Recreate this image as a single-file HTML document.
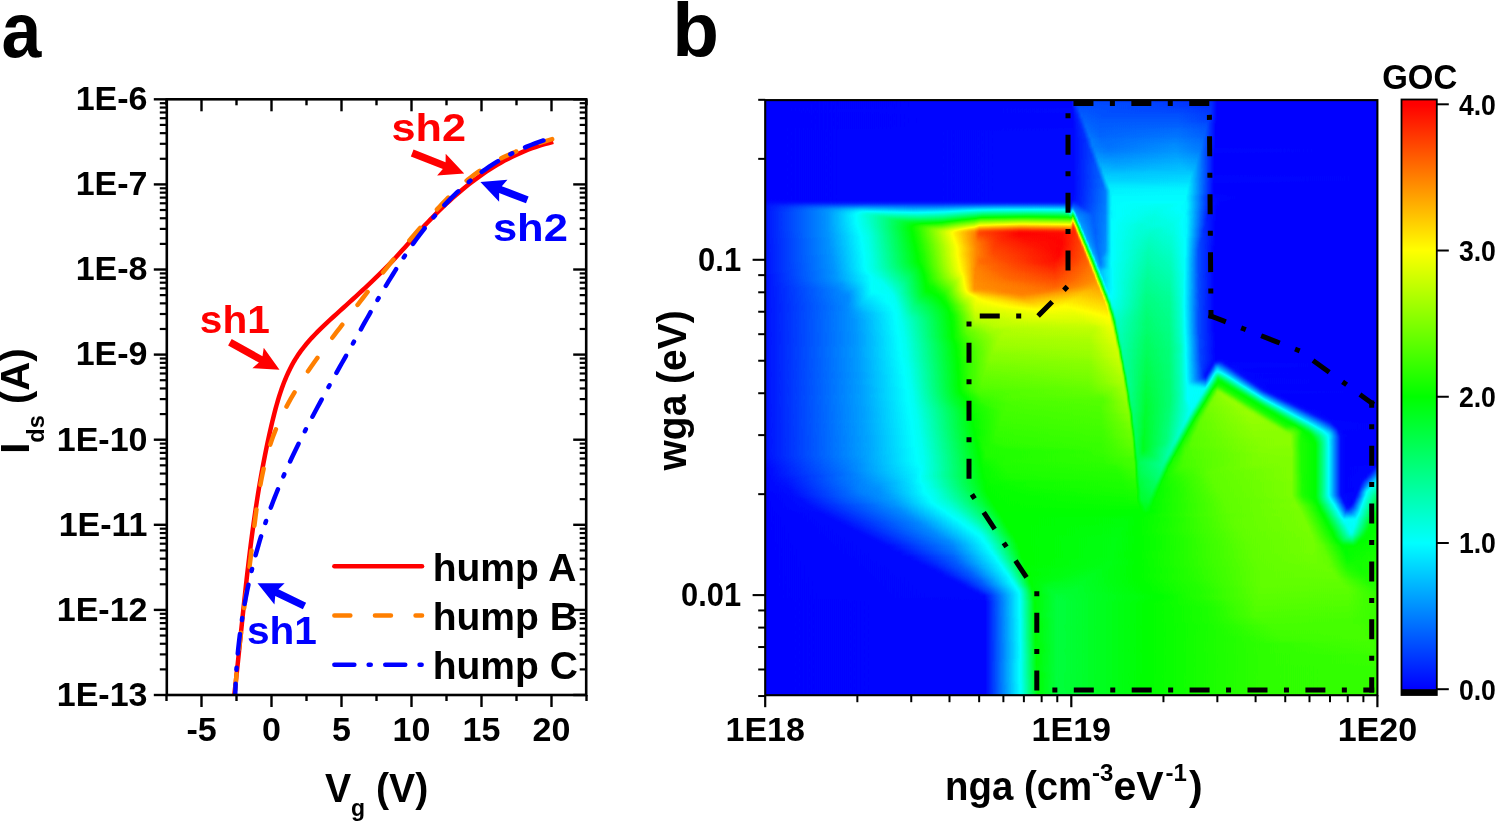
<!DOCTYPE html><html><head><meta charset="utf-8"><style>html,body{margin:0;padding:0;background:#fff;overflow:hidden}svg{display:block;will-change:transform}</style></head><body>
<svg width="1496" height="821" viewBox="0 0 1496 821" font-family="Liberation Sans, sans-serif" font-weight="bold">
<rect width="1496" height="821" fill="#fff"/>
<text x="0" y="57" font-size="77" transform="translate(1.6,0) scale(0.93,1)">a</text>
<text x="672.20" y="56.00" font-size="76.5" text-anchor="start" fill="#000" >b</text>
<clipPath id="ca"><rect x="166.8" y="99.3" width="419.40000000000003" height="595.7"/></clipPath>
<g clip-path="url(#ca)" fill="none" stroke-width="4.5">
<path d="M234.31,695.02 L234.79,690.73 L235.27,686.44 L235.75,682.15 L236.22,677.86 L236.68,673.56 L237.14,669.27 L237.60,664.98 L238.05,660.69 L238.50,656.41 L238.94,652.12 L239.39,647.83 L239.83,643.54 L240.28,639.25 L240.72,634.97 L241.16,630.68 L241.60,626.40 L242.05,622.11 L242.49,617.83 L242.94,613.55 L243.39,609.26 L243.84,604.98 L244.29,600.70 L244.75,596.42 L245.22,592.14 L245.68,587.86 L246.15,583.59 L246.63,579.31 L247.11,575.03 L247.60,570.76 L248.10,566.48 L248.60,562.21 L249.11,557.94 L249.63,553.67 L250.16,549.40 L250.70,545.13 L251.24,540.86 L251.80,536.59 L252.37,532.33 L252.95,528.06 L253.53,523.80 L254.14,519.53 L254.75,515.27 L255.37,511.01 L256.01,506.75 L256.67,502.49 L257.33,498.23 L258.02,493.98 L258.71,489.72 L259.42,485.47 L260.15,481.22 L260.90,476.97 L261.66,472.72 L262.44,468.47 L263.23,464.22 L264.05,459.98 L264.88,455.73 L265.73,451.49 L266.60,447.25 L267.50,443.01 L268.41,438.77 L269.34,434.53 L270.30,430.30 L271.27,426.06 L272.27,421.83 L273.30,417.60 L274.36,413.39 L275.46,409.18 L276.60,405.00 L277.79,400.83 L279.05,396.70 L280.37,392.60 L281.76,388.53 L283.22,384.51 L284.77,380.53 L286.41,376.60 L288.15,372.73 L289.98,368.92 L291.93,365.18 L293.99,361.50 L296.17,357.90 L298.49,354.37 L300.92,350.93 L303.48,347.56 L306.14,344.26 L308.91,341.02 L311.76,337.84 L314.70,334.71 L317.70,331.63 L320.76,328.59 L323.88,325.58 L327.04,322.60 L330.23,319.65 L333.44,316.72 L336.66,313.80 L339.89,310.88 L343.11,307.97 L346.33,305.07 L349.55,302.16 L352.76,299.25 L355.95,296.33 L359.14,293.41 L362.31,290.48 L365.47,287.54 L368.62,284.59 L371.75,281.63 L374.85,278.65 L377.94,275.65 L381.00,272.64 L384.04,269.60 L387.06,266.54 L390.04,263.45 L393.00,260.33 L395.93,257.19 L398.84,254.03 L401.73,250.84 L404.60,247.65 L407.47,244.44 L410.34,241.24 L413.21,238.03 L416.09,234.83 L418.99,231.64 L421.91,228.47 L424.85,225.31 L427.81,222.18 L430.80,219.07 L433.82,215.98 L436.86,212.92 L439.92,209.89 L443.02,206.89 L446.14,203.93 L449.30,201.00 L452.48,198.10 L455.70,195.25 L458.94,192.44 L462.23,189.67 L465.54,186.95 L468.89,184.28 L472.28,181.65 L475.70,179.08 L479.16,176.56 L482.66,174.10 L486.20,171.70 L489.78,169.36 L493.40,167.08 L497.06,164.87 L500.76,162.72 L504.51,160.65 L508.31,158.64 L512.15,156.71 L516.03,154.85 L519.97,153.08 L523.95,151.38 L527.98,149.76 L532.06,148.23 L536.19,146.78 L540.38,145.42 L544.61,144.15 L548.90,142.98 L553.25,141.90" stroke="#ff0000"/>
<path d="M234.87,695.19 L235.18,690.79 L235.51,686.40 L235.86,682.04 L236.22,677.70 L236.61,673.38 L237.01,669.07 L237.43,664.79 L237.86,660.51 L238.31,656.26 L238.77,652.01 L239.24,647.78 L239.72,643.56 L240.22,639.35 L240.72,635.15 L241.23,630.96 L241.75,626.77 L242.28,622.58 L242.81,618.40 L243.35,614.23 L243.89,610.05 L244.44,605.88 L244.98,601.70 L245.53,597.52 L246.08,593.34 L246.63,589.15 L247.18,584.96 L247.72,580.76 L248.27,576.56 L248.80,572.34 L249.34,568.11 L249.87,563.87 L250.39,559.62 L250.90,555.36 L251.41,551.08 L251.91,546.79 L252.41,542.48 L252.91,538.17 L253.42,533.85 L253.93,529.52 L254.45,525.19 L254.99,520.86 L255.54,516.53 L256.11,512.20 L256.70,507.87 L257.32,503.55 L257.96,499.23 L258.64,494.93 L259.35,490.63 L260.10,486.35 L260.89,482.08 L261.72,477.83 L262.59,473.59 L263.52,469.38 L264.50,465.19 L265.53,461.02 L266.62,456.87 L267.77,452.76 L268.99,448.67 L270.27,444.61 L271.62,440.59 L273.05,436.59 L274.55,432.64 L276.12,428.72 L277.76,424.83 L279.46,420.97 L281.23,417.14 L283.06,413.35 L284.96,409.58 L286.91,405.84 L288.91,402.12 L290.97,398.43 L293.07,394.77 L295.23,391.13 L297.43,387.51 L299.67,383.91 L301.96,380.33 L304.28,376.77 L306.64,373.23 L309.03,369.71 L311.45,366.20 L313.91,362.70 L316.39,359.22 L318.89,355.75 L321.42,352.30 L323.96,348.85 L326.52,345.41 L329.10,341.98 L331.69,338.56 L334.29,335.14 L336.90,331.73 L339.51,328.32 L342.12,324.92 L344.74,321.51 L347.36,318.11 L349.97,314.71 L352.59,311.31 L355.21,307.92 L357.83,304.53 L360.46,301.14 L363.08,297.75 L365.72,294.37 L368.35,291.00 L370.99,287.63 L373.64,284.26 L376.29,280.90 L378.94,277.55 L381.60,274.21 L384.27,270.87 L386.95,267.54 L389.64,264.21 L392.33,260.90 L395.04,257.59 L397.75,254.29 L400.47,251.00 L403.20,247.73 L405.95,244.46 L408.71,241.20 L411.47,237.95 L414.25,234.72 L417.05,231.50 L419.86,228.29 L422.68,225.09 L425.51,221.90 L428.36,218.73 L431.23,215.57 L434.11,212.43 L437.01,209.30 L439.93,206.19 L442.87,203.09 L445.83,200.03 L448.83,197.00 L451.86,194.00 L454.92,191.05 L458.03,188.15 L461.19,185.31 L464.40,182.52 L467.66,179.81 L470.98,177.16 L474.36,174.59 L477.81,172.10 L481.33,169.70 L484.91,167.39 L488.56,165.16 L492.27,163.02 L496.04,160.95 L499.85,158.96 L503.71,157.05 L507.62,155.21 L511.56,153.44 L515.53,151.74 L519.54,150.11 L523.57,148.54 L527.62,147.04 L531.69,145.59 L535.77,144.20 L539.86,142.87 L543.96,141.59 L548.05,140.36 L552.14,139.17" stroke="#ff7f00" stroke-dasharray="16.4 25" stroke-dashoffset="36.44" stroke-linecap="round"/>
<path d="M235.22,695.20 L235.34,690.99 L235.50,686.77 L235.68,682.55 L235.90,678.33 L236.14,674.12 L236.42,669.90 L236.72,665.68 L237.05,661.47 L237.42,657.25 L237.81,653.04 L238.23,648.83 L238.68,644.62 L239.16,640.42 L239.68,636.22 L240.22,632.02 L240.79,627.82 L241.39,623.63 L242.02,619.45 L242.68,615.27 L243.37,611.09 L244.08,606.92 L244.83,602.76 L245.61,598.60 L246.42,594.45 L247.25,590.31 L248.12,586.17 L249.01,582.04 L249.94,577.92 L250.89,573.80 L251.88,569.70 L252.89,565.60 L253.93,561.51 L255.00,557.43 L256.11,553.36 L257.24,549.30 L258.40,545.26 L259.58,541.22 L260.80,537.19 L262.05,533.18 L263.33,529.17 L264.63,525.18 L265.97,521.20 L267.33,517.24 L268.73,513.28 L270.15,509.34 L271.60,505.42 L273.08,501.51 L274.59,497.61 L276.13,493.72 L277.70,489.85 L279.29,485.99 L280.91,482.14 L282.55,478.30 L284.22,474.48 L285.91,470.66 L287.62,466.86 L289.36,463.07 L291.11,459.28 L292.89,455.50 L294.69,451.74 L296.51,447.98 L298.34,444.23 L300.20,440.48 L302.07,436.74 L303.96,433.01 L305.87,429.29 L307.79,425.57 L309.72,421.85 L311.67,418.14 L313.63,414.44 L315.61,410.73 L317.59,407.04 L319.59,403.34 L321.60,399.65 L323.62,395.96 L325.64,392.27 L327.68,388.58 L329.72,384.89 L331.77,381.21 L333.83,377.52 L335.89,373.83 L337.96,370.14 L340.03,366.45 L342.10,362.76 L344.18,359.07 L346.26,355.37 L348.34,351.67 L350.42,347.97 L352.50,344.26 L354.59,340.55 L356.67,336.84 L358.75,333.12 L360.83,329.40 L362.91,325.68 L365.00,321.96 L367.10,318.25 L369.20,314.53 L371.30,310.82 L373.41,307.12 L375.54,303.42 L377.67,299.73 L379.81,296.05 L381.96,292.37 L384.13,288.71 L386.31,285.06 L388.50,281.43 L390.71,277.81 L392.94,274.20 L395.19,270.61 L397.45,267.04 L399.73,263.49 L402.04,259.95 L404.36,256.44 L406.71,252.95 L409.08,249.49 L411.48,246.05 L413.90,242.63 L416.35,239.25 L418.83,235.89 L421.33,232.56 L423.87,229.26 L426.43,225.99 L429.03,222.76 L431.66,219.56 L434.33,216.39 L437.03,213.26 L439.76,210.17 L442.54,207.11 L445.35,204.10 L448.20,201.12 L451.08,198.19 L454.01,195.30 L456.99,192.46 L460.00,189.66 L463.06,186.91 L466.16,184.20 L469.31,181.55 L472.51,178.94 L475.75,176.39 L479.05,173.88 L482.39,171.43 L485.79,169.04 L489.23,166.70 L492.73,164.42 L496.28,162.19 L499.89,160.03 L503.56,157.92 L507.28,155.88 L511.06,153.90 L514.90,151.98 L518.80,150.13 L522.75,148.34 L526.78,146.62 L530.86,144.97 L535.01,143.39 L539.22,141.88 L543.50,140.44 L547.85,139.07 L552.27,137.78" stroke="#0000ff" stroke-dasharray="19.6 14.1 2.1 14.2" stroke-dashoffset="8.2" stroke-linecap="round"/>
</g>
<rect x="166.8" y="99.3" width="419.40000000000003" height="595.7" fill="none" stroke="#000" stroke-width="2.6"/>
<line x1="166.50" y1="695.00" x2="166.50" y2="701.00" stroke="#000" stroke-width="2.4" />
<line x1="166.50" y1="99.30" x2="166.50" y2="105.30" stroke="#000" stroke-width="2.4" />
<line x1="201.50" y1="695.00" x2="201.50" y2="707.00" stroke="#000" stroke-width="2.4" />
<line x1="201.50" y1="99.30" x2="201.50" y2="111.30" stroke="#000" stroke-width="2.4" />
<line x1="236.50" y1="695.00" x2="236.50" y2="701.00" stroke="#000" stroke-width="2.4" />
<line x1="236.50" y1="99.30" x2="236.50" y2="105.30" stroke="#000" stroke-width="2.4" />
<line x1="271.50" y1="695.00" x2="271.50" y2="707.00" stroke="#000" stroke-width="2.4" />
<line x1="271.50" y1="99.30" x2="271.50" y2="111.30" stroke="#000" stroke-width="2.4" />
<line x1="306.50" y1="695.00" x2="306.50" y2="701.00" stroke="#000" stroke-width="2.4" />
<line x1="306.50" y1="99.30" x2="306.50" y2="105.30" stroke="#000" stroke-width="2.4" />
<line x1="341.50" y1="695.00" x2="341.50" y2="707.00" stroke="#000" stroke-width="2.4" />
<line x1="341.50" y1="99.30" x2="341.50" y2="111.30" stroke="#000" stroke-width="2.4" />
<line x1="376.50" y1="695.00" x2="376.50" y2="701.00" stroke="#000" stroke-width="2.4" />
<line x1="376.50" y1="99.30" x2="376.50" y2="105.30" stroke="#000" stroke-width="2.4" />
<line x1="411.50" y1="695.00" x2="411.50" y2="707.00" stroke="#000" stroke-width="2.4" />
<line x1="411.50" y1="99.30" x2="411.50" y2="111.30" stroke="#000" stroke-width="2.4" />
<line x1="446.50" y1="695.00" x2="446.50" y2="701.00" stroke="#000" stroke-width="2.4" />
<line x1="446.50" y1="99.30" x2="446.50" y2="105.30" stroke="#000" stroke-width="2.4" />
<line x1="481.50" y1="695.00" x2="481.50" y2="707.00" stroke="#000" stroke-width="2.4" />
<line x1="481.50" y1="99.30" x2="481.50" y2="111.30" stroke="#000" stroke-width="2.4" />
<line x1="516.50" y1="695.00" x2="516.50" y2="701.00" stroke="#000" stroke-width="2.4" />
<line x1="516.50" y1="99.30" x2="516.50" y2="105.30" stroke="#000" stroke-width="2.4" />
<line x1="551.50" y1="695.00" x2="551.50" y2="707.00" stroke="#000" stroke-width="2.4" />
<line x1="551.50" y1="99.30" x2="551.50" y2="111.30" stroke="#000" stroke-width="2.4" />
<line x1="586.50" y1="695.00" x2="586.50" y2="701.00" stroke="#000" stroke-width="2.4" />
<line x1="586.50" y1="99.30" x2="586.50" y2="105.30" stroke="#000" stroke-width="2.4" />
<text x="201.50" y="741.00" font-size="34" text-anchor="middle" fill="#000" >-5</text>
<text x="271.50" y="741.00" font-size="34" text-anchor="middle" fill="#000" >0</text>
<text x="341.50" y="741.00" font-size="34" text-anchor="middle" fill="#000" >5</text>
<text x="411.50" y="741.00" font-size="34" text-anchor="middle" fill="#000" >10</text>
<text x="481.50" y="741.00" font-size="34" text-anchor="middle" fill="#000" >15</text>
<text x="551.50" y="741.00" font-size="34" text-anchor="middle" fill="#000" >20</text>
<line x1="153.80" y1="695.00" x2="166.80" y2="695.00" stroke="#000" stroke-width="2.4" />
<line x1="573.20" y1="695.00" x2="586.20" y2="695.00" stroke="#000" stroke-width="2.4" />
<line x1="159.80" y1="669.38" x2="166.80" y2="669.38" stroke="#000" stroke-width="2.2" />
<line x1="579.70" y1="669.38" x2="586.20" y2="669.38" stroke="#000" stroke-width="2.2" />
<line x1="159.80" y1="654.40" x2="166.80" y2="654.40" stroke="#000" stroke-width="2.2" />
<line x1="579.70" y1="654.40" x2="586.20" y2="654.40" stroke="#000" stroke-width="2.2" />
<line x1="159.80" y1="643.76" x2="166.80" y2="643.76" stroke="#000" stroke-width="2.2" />
<line x1="579.70" y1="643.76" x2="586.20" y2="643.76" stroke="#000" stroke-width="2.2" />
<line x1="159.80" y1="635.52" x2="166.80" y2="635.52" stroke="#000" stroke-width="2.2" />
<line x1="579.70" y1="635.52" x2="586.20" y2="635.52" stroke="#000" stroke-width="2.2" />
<line x1="159.80" y1="628.78" x2="166.80" y2="628.78" stroke="#000" stroke-width="2.2" />
<line x1="579.70" y1="628.78" x2="586.20" y2="628.78" stroke="#000" stroke-width="2.2" />
<line x1="159.80" y1="623.08" x2="166.80" y2="623.08" stroke="#000" stroke-width="2.2" />
<line x1="579.70" y1="623.08" x2="586.20" y2="623.08" stroke="#000" stroke-width="2.2" />
<line x1="159.80" y1="618.15" x2="166.80" y2="618.15" stroke="#000" stroke-width="2.2" />
<line x1="579.70" y1="618.15" x2="586.20" y2="618.15" stroke="#000" stroke-width="2.2" />
<line x1="159.80" y1="613.79" x2="166.80" y2="613.79" stroke="#000" stroke-width="2.2" />
<line x1="579.70" y1="613.79" x2="586.20" y2="613.79" stroke="#000" stroke-width="2.2" />
<text x="147.50" y="705.80" font-size="34" text-anchor="end" fill="#000" >1E-13</text>
<line x1="153.80" y1="609.90" x2="166.80" y2="609.90" stroke="#000" stroke-width="2.4" />
<line x1="573.20" y1="609.90" x2="586.20" y2="609.90" stroke="#000" stroke-width="2.4" />
<line x1="159.80" y1="584.28" x2="166.80" y2="584.28" stroke="#000" stroke-width="2.2" />
<line x1="579.70" y1="584.28" x2="586.20" y2="584.28" stroke="#000" stroke-width="2.2" />
<line x1="159.80" y1="569.30" x2="166.80" y2="569.30" stroke="#000" stroke-width="2.2" />
<line x1="579.70" y1="569.30" x2="586.20" y2="569.30" stroke="#000" stroke-width="2.2" />
<line x1="159.80" y1="558.66" x2="166.80" y2="558.66" stroke="#000" stroke-width="2.2" />
<line x1="579.70" y1="558.66" x2="586.20" y2="558.66" stroke="#000" stroke-width="2.2" />
<line x1="159.80" y1="550.42" x2="166.80" y2="550.42" stroke="#000" stroke-width="2.2" />
<line x1="579.70" y1="550.42" x2="586.20" y2="550.42" stroke="#000" stroke-width="2.2" />
<line x1="159.80" y1="543.68" x2="166.80" y2="543.68" stroke="#000" stroke-width="2.2" />
<line x1="579.70" y1="543.68" x2="586.20" y2="543.68" stroke="#000" stroke-width="2.2" />
<line x1="159.80" y1="537.98" x2="166.80" y2="537.98" stroke="#000" stroke-width="2.2" />
<line x1="579.70" y1="537.98" x2="586.20" y2="537.98" stroke="#000" stroke-width="2.2" />
<line x1="159.80" y1="533.05" x2="166.80" y2="533.05" stroke="#000" stroke-width="2.2" />
<line x1="579.70" y1="533.05" x2="586.20" y2="533.05" stroke="#000" stroke-width="2.2" />
<line x1="159.80" y1="528.69" x2="166.80" y2="528.69" stroke="#000" stroke-width="2.2" />
<line x1="579.70" y1="528.69" x2="586.20" y2="528.69" stroke="#000" stroke-width="2.2" />
<text x="147.50" y="620.70" font-size="34" text-anchor="end" fill="#000" >1E-12</text>
<line x1="153.80" y1="524.80" x2="166.80" y2="524.80" stroke="#000" stroke-width="2.4" />
<line x1="573.20" y1="524.80" x2="586.20" y2="524.80" stroke="#000" stroke-width="2.4" />
<line x1="159.80" y1="499.18" x2="166.80" y2="499.18" stroke="#000" stroke-width="2.2" />
<line x1="579.70" y1="499.18" x2="586.20" y2="499.18" stroke="#000" stroke-width="2.2" />
<line x1="159.80" y1="484.20" x2="166.80" y2="484.20" stroke="#000" stroke-width="2.2" />
<line x1="579.70" y1="484.20" x2="586.20" y2="484.20" stroke="#000" stroke-width="2.2" />
<line x1="159.80" y1="473.56" x2="166.80" y2="473.56" stroke="#000" stroke-width="2.2" />
<line x1="579.70" y1="473.56" x2="586.20" y2="473.56" stroke="#000" stroke-width="2.2" />
<line x1="159.80" y1="465.32" x2="166.80" y2="465.32" stroke="#000" stroke-width="2.2" />
<line x1="579.70" y1="465.32" x2="586.20" y2="465.32" stroke="#000" stroke-width="2.2" />
<line x1="159.80" y1="458.58" x2="166.80" y2="458.58" stroke="#000" stroke-width="2.2" />
<line x1="579.70" y1="458.58" x2="586.20" y2="458.58" stroke="#000" stroke-width="2.2" />
<line x1="159.80" y1="452.88" x2="166.80" y2="452.88" stroke="#000" stroke-width="2.2" />
<line x1="579.70" y1="452.88" x2="586.20" y2="452.88" stroke="#000" stroke-width="2.2" />
<line x1="159.80" y1="447.95" x2="166.80" y2="447.95" stroke="#000" stroke-width="2.2" />
<line x1="579.70" y1="447.95" x2="586.20" y2="447.95" stroke="#000" stroke-width="2.2" />
<line x1="159.80" y1="443.59" x2="166.80" y2="443.59" stroke="#000" stroke-width="2.2" />
<line x1="579.70" y1="443.59" x2="586.20" y2="443.59" stroke="#000" stroke-width="2.2" />
<text x="147.50" y="535.60" font-size="34" text-anchor="end" fill="#000" >1E-11</text>
<line x1="153.80" y1="439.70" x2="166.80" y2="439.70" stroke="#000" stroke-width="2.4" />
<line x1="573.20" y1="439.70" x2="586.20" y2="439.70" stroke="#000" stroke-width="2.4" />
<line x1="159.80" y1="414.08" x2="166.80" y2="414.08" stroke="#000" stroke-width="2.2" />
<line x1="579.70" y1="414.08" x2="586.20" y2="414.08" stroke="#000" stroke-width="2.2" />
<line x1="159.80" y1="399.10" x2="166.80" y2="399.10" stroke="#000" stroke-width="2.2" />
<line x1="579.70" y1="399.10" x2="586.20" y2="399.10" stroke="#000" stroke-width="2.2" />
<line x1="159.80" y1="388.46" x2="166.80" y2="388.46" stroke="#000" stroke-width="2.2" />
<line x1="579.70" y1="388.46" x2="586.20" y2="388.46" stroke="#000" stroke-width="2.2" />
<line x1="159.80" y1="380.22" x2="166.80" y2="380.22" stroke="#000" stroke-width="2.2" />
<line x1="579.70" y1="380.22" x2="586.20" y2="380.22" stroke="#000" stroke-width="2.2" />
<line x1="159.80" y1="373.48" x2="166.80" y2="373.48" stroke="#000" stroke-width="2.2" />
<line x1="579.70" y1="373.48" x2="586.20" y2="373.48" stroke="#000" stroke-width="2.2" />
<line x1="159.80" y1="367.78" x2="166.80" y2="367.78" stroke="#000" stroke-width="2.2" />
<line x1="579.70" y1="367.78" x2="586.20" y2="367.78" stroke="#000" stroke-width="2.2" />
<line x1="159.80" y1="362.85" x2="166.80" y2="362.85" stroke="#000" stroke-width="2.2" />
<line x1="579.70" y1="362.85" x2="586.20" y2="362.85" stroke="#000" stroke-width="2.2" />
<line x1="159.80" y1="358.49" x2="166.80" y2="358.49" stroke="#000" stroke-width="2.2" />
<line x1="579.70" y1="358.49" x2="586.20" y2="358.49" stroke="#000" stroke-width="2.2" />
<text x="147.50" y="450.50" font-size="34" text-anchor="end" fill="#000" >1E-10</text>
<line x1="153.80" y1="354.60" x2="166.80" y2="354.60" stroke="#000" stroke-width="2.4" />
<line x1="573.20" y1="354.60" x2="586.20" y2="354.60" stroke="#000" stroke-width="2.4" />
<line x1="159.80" y1="328.98" x2="166.80" y2="328.98" stroke="#000" stroke-width="2.2" />
<line x1="579.70" y1="328.98" x2="586.20" y2="328.98" stroke="#000" stroke-width="2.2" />
<line x1="159.80" y1="314.00" x2="166.80" y2="314.00" stroke="#000" stroke-width="2.2" />
<line x1="579.70" y1="314.00" x2="586.20" y2="314.00" stroke="#000" stroke-width="2.2" />
<line x1="159.80" y1="303.36" x2="166.80" y2="303.36" stroke="#000" stroke-width="2.2" />
<line x1="579.70" y1="303.36" x2="586.20" y2="303.36" stroke="#000" stroke-width="2.2" />
<line x1="159.80" y1="295.12" x2="166.80" y2="295.12" stroke="#000" stroke-width="2.2" />
<line x1="579.70" y1="295.12" x2="586.20" y2="295.12" stroke="#000" stroke-width="2.2" />
<line x1="159.80" y1="288.38" x2="166.80" y2="288.38" stroke="#000" stroke-width="2.2" />
<line x1="579.70" y1="288.38" x2="586.20" y2="288.38" stroke="#000" stroke-width="2.2" />
<line x1="159.80" y1="282.68" x2="166.80" y2="282.68" stroke="#000" stroke-width="2.2" />
<line x1="579.70" y1="282.68" x2="586.20" y2="282.68" stroke="#000" stroke-width="2.2" />
<line x1="159.80" y1="277.75" x2="166.80" y2="277.75" stroke="#000" stroke-width="2.2" />
<line x1="579.70" y1="277.75" x2="586.20" y2="277.75" stroke="#000" stroke-width="2.2" />
<line x1="159.80" y1="273.39" x2="166.80" y2="273.39" stroke="#000" stroke-width="2.2" />
<line x1="579.70" y1="273.39" x2="586.20" y2="273.39" stroke="#000" stroke-width="2.2" />
<text x="147.50" y="365.40" font-size="34" text-anchor="end" fill="#000" >1E-9</text>
<line x1="153.80" y1="269.50" x2="166.80" y2="269.50" stroke="#000" stroke-width="2.4" />
<line x1="573.20" y1="269.50" x2="586.20" y2="269.50" stroke="#000" stroke-width="2.4" />
<line x1="159.80" y1="243.88" x2="166.80" y2="243.88" stroke="#000" stroke-width="2.2" />
<line x1="579.70" y1="243.88" x2="586.20" y2="243.88" stroke="#000" stroke-width="2.2" />
<line x1="159.80" y1="228.90" x2="166.80" y2="228.90" stroke="#000" stroke-width="2.2" />
<line x1="579.70" y1="228.90" x2="586.20" y2="228.90" stroke="#000" stroke-width="2.2" />
<line x1="159.80" y1="218.26" x2="166.80" y2="218.26" stroke="#000" stroke-width="2.2" />
<line x1="579.70" y1="218.26" x2="586.20" y2="218.26" stroke="#000" stroke-width="2.2" />
<line x1="159.80" y1="210.02" x2="166.80" y2="210.02" stroke="#000" stroke-width="2.2" />
<line x1="579.70" y1="210.02" x2="586.20" y2="210.02" stroke="#000" stroke-width="2.2" />
<line x1="159.80" y1="203.28" x2="166.80" y2="203.28" stroke="#000" stroke-width="2.2" />
<line x1="579.70" y1="203.28" x2="586.20" y2="203.28" stroke="#000" stroke-width="2.2" />
<line x1="159.80" y1="197.58" x2="166.80" y2="197.58" stroke="#000" stroke-width="2.2" />
<line x1="579.70" y1="197.58" x2="586.20" y2="197.58" stroke="#000" stroke-width="2.2" />
<line x1="159.80" y1="192.65" x2="166.80" y2="192.65" stroke="#000" stroke-width="2.2" />
<line x1="579.70" y1="192.65" x2="586.20" y2="192.65" stroke="#000" stroke-width="2.2" />
<line x1="159.80" y1="188.29" x2="166.80" y2="188.29" stroke="#000" stroke-width="2.2" />
<line x1="579.70" y1="188.29" x2="586.20" y2="188.29" stroke="#000" stroke-width="2.2" />
<text x="147.50" y="280.30" font-size="34" text-anchor="end" fill="#000" >1E-8</text>
<line x1="153.80" y1="184.40" x2="166.80" y2="184.40" stroke="#000" stroke-width="2.4" />
<line x1="573.20" y1="184.40" x2="586.20" y2="184.40" stroke="#000" stroke-width="2.4" />
<line x1="159.80" y1="158.78" x2="166.80" y2="158.78" stroke="#000" stroke-width="2.2" />
<line x1="579.70" y1="158.78" x2="586.20" y2="158.78" stroke="#000" stroke-width="2.2" />
<line x1="159.80" y1="143.80" x2="166.80" y2="143.80" stroke="#000" stroke-width="2.2" />
<line x1="579.70" y1="143.80" x2="586.20" y2="143.80" stroke="#000" stroke-width="2.2" />
<line x1="159.80" y1="133.16" x2="166.80" y2="133.16" stroke="#000" stroke-width="2.2" />
<line x1="579.70" y1="133.16" x2="586.20" y2="133.16" stroke="#000" stroke-width="2.2" />
<line x1="159.80" y1="124.92" x2="166.80" y2="124.92" stroke="#000" stroke-width="2.2" />
<line x1="579.70" y1="124.92" x2="586.20" y2="124.92" stroke="#000" stroke-width="2.2" />
<line x1="159.80" y1="118.18" x2="166.80" y2="118.18" stroke="#000" stroke-width="2.2" />
<line x1="579.70" y1="118.18" x2="586.20" y2="118.18" stroke="#000" stroke-width="2.2" />
<line x1="159.80" y1="112.48" x2="166.80" y2="112.48" stroke="#000" stroke-width="2.2" />
<line x1="579.70" y1="112.48" x2="586.20" y2="112.48" stroke="#000" stroke-width="2.2" />
<line x1="159.80" y1="107.55" x2="166.80" y2="107.55" stroke="#000" stroke-width="2.2" />
<line x1="579.70" y1="107.55" x2="586.20" y2="107.55" stroke="#000" stroke-width="2.2" />
<line x1="159.80" y1="103.19" x2="166.80" y2="103.19" stroke="#000" stroke-width="2.2" />
<line x1="579.70" y1="103.19" x2="586.20" y2="103.19" stroke="#000" stroke-width="2.2" />
<text x="147.50" y="195.20" font-size="34" text-anchor="end" fill="#000" >1E-7</text>
<line x1="153.80" y1="99.30" x2="166.80" y2="99.30" stroke="#000" stroke-width="2.4" />
<line x1="573.20" y1="99.30" x2="586.20" y2="99.30" stroke="#000" stroke-width="2.4" />
<text x="147.50" y="110.10" font-size="34" text-anchor="end" fill="#000" >1E-6</text>
<text x="0" y="0" font-size="41" transform="translate(29,453.8) rotate(-90) scale(0.98,1)">I<tspan font-size="24" dy="15">ds</tspan><tspan dy="-15"> (A)</tspan></text>
<text x="0" y="0" font-size="41" transform="translate(324.9,802.4) scale(0.958,1)">V<tspan font-size="24" dy="13.4">g</tspan><tspan dy="-13.4"> (V)</tspan></text>
<line x1="334.35" y1="566.30" x2="422.05" y2="566.30" stroke="#ff0000" stroke-width="4.5" stroke-linecap="round"/>
<path d="M334.35,615.6 H422.05" stroke="#ff7f00" stroke-width="4.5" stroke-linecap="round" stroke-dasharray="16 24.6" fill="none"/>
<path d="M334.35,664.8 H422.05" stroke="#0000ff" stroke-width="4.5" stroke-linecap="round" stroke-dasharray="20 14.3 2.1 14.5" fill="none"/>
<text x="432.70" y="580.90" font-size="39" text-anchor="start" fill="#000" >hump A</text>
<text x="432.70" y="630.00" font-size="39" text-anchor="start" fill="#000" >hump B</text>
<text x="432.70" y="679.40" font-size="39" text-anchor="start" fill="#000" >hump C</text>
<text x="199.80" y="332.60" font-size="39.5" text-anchor="start" fill="#ff0000" textLength="70" lengthAdjust="spacingAndGlyphs" >sh1</text>
<polygon points="228.11,345.54 258.90,362.61 252.40,368.15 279.50,369.80 263.75,347.69 262.49,356.14 231.69,339.06" fill="#ff0000"/>
<text x="391.50" y="140.60" font-size="39" text-anchor="start" fill="#ff0000" textLength="74.5" lengthAdjust="spacingAndGlyphs" >sh2</text>
<polygon points="410.84,156.44 442.84,169.06 437.12,175.40 464.20,173.50 445.70,153.63 445.56,162.17 413.56,149.56" fill="#ff0000"/>
<text x="246.90" y="644.00" font-size="39" text-anchor="start" fill="#0000ff" textLength="70" lengthAdjust="spacingAndGlyphs" >sh1</text>
<polygon points="306.11,602.67 278.46,589.25 284.65,583.37 257.50,583.20 274.44,604.42 275.23,595.91 302.89,609.33" fill="#0000ff"/>
<text x="492.90" y="240.70" font-size="39" text-anchor="start" fill="#0000ff" textLength="75" lengthAdjust="spacingAndGlyphs" >sh2</text>
<polygon points="528.62,196.44 501.81,186.21 507.46,179.81 480.40,182.00 499.12,201.67 499.17,193.12 525.98,203.36" fill="#0000ff"/>
<clipPath id="cb"><rect x="765.2" y="100.1" width="612.2" height="595.1"/></clipPath>
<g clip-path="url(#cb)">
<defs><filter id="cm" x="0" y="0" width="1" height="1" color-interpolation-filters="sRGB"><feGaussianBlur stdDeviation="0 1.5"/><feComponentTransfer><feFuncR type="table" tableValues="0 0 0 1 1"/><feFuncG type="table" tableValues="0 1 1 1 0"/><feFuncB type="table" tableValues="1 1 0 0 0"/></feComponentTransfer></filter><linearGradient id="g0" gradientUnits="userSpaceOnUse" x1="765" x2="1378"><stop offset=".001" stop-color="#000000"/><stop offset=".500" stop-color="#010101"/><stop offset=".507" stop-color="#121212"/><stop offset=".675" stop-color="#0c0c0c"/><stop offset=".730" stop-color="#090909"/><stop offset=".738" stop-color="#000000"/><stop offset=".999" stop-color="#000000"/></linearGradient><linearGradient id="g1" gradientUnits="userSpaceOnUse" x1="765" x2="1378"><stop offset=".001" stop-color="#000000"/><stop offset=".500" stop-color="#010101"/><stop offset=".510" stop-color="#131313"/><stop offset=".613" stop-color="#121212"/><stop offset=".728" stop-color="#0b0b0b"/><stop offset=".737" stop-color="#000000"/><stop offset=".999" stop-color="#000000"/></linearGradient><linearGradient id="g2" gradientUnits="userSpaceOnUse" x1="765" x2="1378"><stop offset=".001" stop-color="#000000"/><stop offset=".502" stop-color="#020202"/><stop offset=".508" stop-color="#0c0c0c"/><stop offset=".513" stop-color="#151515"/><stop offset=".567" stop-color="#131313"/><stop offset=".678" stop-color="#111111"/><stop offset=".727" stop-color="#0d0d0d"/><stop offset=".737" stop-color="#000000"/><stop offset=".999" stop-color="#000000"/></linearGradient><linearGradient id="g3" gradientUnits="userSpaceOnUse" x1="765" x2="1378"><stop offset=".001" stop-color="#000000"/><stop offset=".502" stop-color="#010101"/><stop offset=".510" stop-color="#0a0a0a"/><stop offset=".516" stop-color="#171717"/><stop offset=".552" stop-color="#141414"/><stop offset=".673" stop-color="#141414"/><stop offset=".725" stop-color="#0f0f0f"/><stop offset=".737" stop-color="#000000"/><stop offset=".999" stop-color="#000000"/></linearGradient><linearGradient id="g4" gradientUnits="userSpaceOnUse" x1="765" x2="1378"><stop offset=".001" stop-color="#000000"/><stop offset=".502" stop-color="#010101"/><stop offset=".511" stop-color="#080808"/><stop offset=".520" stop-color="#181818"/><stop offset=".547" stop-color="#161616"/><stop offset=".673" stop-color="#161616"/><stop offset=".723" stop-color="#101010"/><stop offset=".737" stop-color="#000000"/><stop offset=".999" stop-color="#000000"/></linearGradient><linearGradient id="g5" gradientUnits="userSpaceOnUse" x1="765" x2="1378"><stop offset=".001" stop-color="#000000"/><stop offset=".502" stop-color="#010101"/><stop offset=".515" stop-color="#0a0a0a"/><stop offset=".523" stop-color="#1a1a1a"/><stop offset=".546" stop-color="#171717"/><stop offset=".673" stop-color="#181818"/><stop offset=".720" stop-color="#141414"/><stop offset=".735" stop-color="#000000"/><stop offset=".999" stop-color="#000000"/></linearGradient><linearGradient id="g6" gradientUnits="userSpaceOnUse" x1="765" x2="1378"><stop offset=".001" stop-color="#000000"/><stop offset=".503" stop-color="#020202"/><stop offset=".518" stop-color="#0b0b0b"/><stop offset=".526" stop-color="#1b1b1b"/><stop offset=".546" stop-color="#181818"/><stop offset=".675" stop-color="#1b1b1b"/><stop offset=".719" stop-color="#161616"/><stop offset=".735" stop-color="#000000"/><stop offset=".999" stop-color="#000000"/></linearGradient><linearGradient id="g7" gradientUnits="userSpaceOnUse" x1="765" x2="1378"><stop offset=".001" stop-color="#000000"/><stop offset=".503" stop-color="#020202"/><stop offset=".521" stop-color="#0c0c0c"/><stop offset=".529" stop-color="#1d1d1d"/><stop offset=".547" stop-color="#191919"/><stop offset=".671" stop-color="#1d1d1d"/><stop offset=".717" stop-color="#181818"/><stop offset=".735" stop-color="#000000"/><stop offset=".999" stop-color="#000000"/></linearGradient><linearGradient id="g8" gradientUnits="userSpaceOnUse" x1="765" x2="1378"><stop offset=".001" stop-color="#000000"/><stop offset=".503" stop-color="#020202"/><stop offset=".523" stop-color="#0b0b0b"/><stop offset=".533" stop-color="#1f1f1f"/><stop offset=".549" stop-color="#1b1b1b"/><stop offset=".670" stop-color="#202020"/><stop offset=".714" stop-color="#1b1b1b"/><stop offset=".735" stop-color="#000000"/><stop offset=".999" stop-color="#000000"/></linearGradient><linearGradient id="g9" gradientUnits="userSpaceOnUse" x1="765" x2="1378"><stop offset=".001" stop-color="#000000"/><stop offset=".503" stop-color="#020202"/><stop offset=".526" stop-color="#0d0d0d"/><stop offset=".534" stop-color="#1f1f1f"/><stop offset=".559" stop-color="#1c1c1c"/><stop offset=".668" stop-color="#232323"/><stop offset=".712" stop-color="#1d1d1d"/><stop offset=".735" stop-color="#000000"/><stop offset=".999" stop-color="#000000"/></linearGradient><linearGradient id="g10" gradientUnits="userSpaceOnUse" x1="765" x2="1378"><stop offset=".001" stop-color="#000000"/><stop offset=".503" stop-color="#020202"/><stop offset=".529" stop-color="#0e0e0e"/><stop offset=".538" stop-color="#212121"/><stop offset=".559" stop-color="#1e1e1e"/><stop offset=".670" stop-color="#252525"/><stop offset=".710" stop-color="#1f1f1f"/><stop offset=".733" stop-color="#010101"/><stop offset=".999" stop-color="#000000"/></linearGradient><linearGradient id="g11" gradientUnits="userSpaceOnUse" x1="765" x2="1378"><stop offset=".001" stop-color="#000000"/><stop offset=".503" stop-color="#020202"/><stop offset=".533" stop-color="#101010"/><stop offset=".541" stop-color="#242424"/><stop offset=".564" stop-color="#222222"/><stop offset=".671" stop-color="#282828"/><stop offset=".707" stop-color="#232323"/><stop offset=".733" stop-color="#000000"/><stop offset=".999" stop-color="#000000"/></linearGradient><linearGradient id="g12" gradientUnits="userSpaceOnUse" x1="765" x2="1378"><stop offset=".001" stop-color="#000000"/><stop offset=".503" stop-color="#020202"/><stop offset=".536" stop-color="#121212"/><stop offset=".544" stop-color="#272727"/><stop offset=".572" stop-color="#262626"/><stop offset=".675" stop-color="#2b2b2b"/><stop offset=".704" stop-color="#272727"/><stop offset=".733" stop-color="#000000"/><stop offset=".999" stop-color="#000000"/></linearGradient><linearGradient id="g13" gradientUnits="userSpaceOnUse" x1="765" x2="1378"><stop offset=".001" stop-color="#000000"/><stop offset=".503" stop-color="#020202"/><stop offset=".539" stop-color="#141414"/><stop offset=".547" stop-color="#2b2b2b"/><stop offset=".572" stop-color="#292929"/><stop offset=".678" stop-color="#2e2e2e"/><stop offset=".702" stop-color="#2a2a2a"/><stop offset=".733" stop-color="#000000"/><stop offset=".999" stop-color="#000000"/></linearGradient><linearGradient id="g14" gradientUnits="userSpaceOnUse" x1="765" x2="1378"><stop offset=".001" stop-color="#000000"/><stop offset=".503" stop-color="#020202"/><stop offset=".541" stop-color="#151515"/><stop offset=".551" stop-color="#2e2e2e"/><stop offset=".572" stop-color="#2c2c2c"/><stop offset=".684" stop-color="#303030"/><stop offset=".701" stop-color="#2c2c2c"/><stop offset=".733" stop-color="#000000"/><stop offset=".999" stop-color="#000000"/></linearGradient><linearGradient id="g15" gradientUnits="userSpaceOnUse" x1="765" x2="1378"><stop offset=".001" stop-color="#000000"/><stop offset=".503" stop-color="#020202"/><stop offset=".544" stop-color="#171717"/><stop offset=".552" stop-color="#303030"/><stop offset=".624" stop-color="#323232"/><stop offset=".696" stop-color="#323232"/><stop offset=".733" stop-color="#000000"/><stop offset=".999" stop-color="#000000"/></linearGradient><linearGradient id="g16" gradientUnits="userSpaceOnUse" x1="765" x2="1378"><stop offset=".001" stop-color="#000000"/><stop offset=".503" stop-color="#020202"/><stop offset=".546" stop-color="#171717"/><stop offset=".555" stop-color="#343434"/><stop offset=".588" stop-color="#333333"/><stop offset=".694" stop-color="#353535"/><stop offset=".732" stop-color="#010101"/><stop offset=".999" stop-color="#000000"/></linearGradient><linearGradient id="g17" gradientUnits="userSpaceOnUse" x1="765" x2="1378"><stop offset=".001" stop-color="#000000"/><stop offset=".503" stop-color="#020202"/><stop offset=".549" stop-color="#1a1a1a"/><stop offset=".557" stop-color="#353535"/><stop offset=".565" stop-color="#353535"/><stop offset=".692" stop-color="#373737"/><stop offset=".732" stop-color="#010101"/><stop offset=".999" stop-color="#000000"/></linearGradient><linearGradient id="g18" gradientUnits="userSpaceOnUse" x1="765" x2="1378"><stop offset=".001" stop-color="#000000"/><stop offset=".503" stop-color="#020202"/><stop offset=".551" stop-color="#1a1a1a"/><stop offset=".557" stop-color="#303030"/><stop offset=".560" stop-color="#393939"/><stop offset=".627" stop-color="#393939"/><stop offset=".691" stop-color="#3a3a3a"/><stop offset=".732" stop-color="#000000"/><stop offset=".999" stop-color="#000000"/></linearGradient><linearGradient id="g19" gradientUnits="userSpaceOnUse" x1="765" x2="1378"><stop offset=".001" stop-color="#000000"/><stop offset=".503" stop-color="#020202"/><stop offset=".552" stop-color="#1b1b1b"/><stop offset=".557" stop-color="#2a2a2a"/><stop offset=".562" stop-color="#3b3b3b"/><stop offset=".689" stop-color="#3c3c3c"/><stop offset=".732" stop-color="#000000"/><stop offset=".999" stop-color="#000000"/></linearGradient><linearGradient id="g20" gradientUnits="userSpaceOnUse" x1="765" x2="1378"><stop offset=".001" stop-color="#000000"/><stop offset=".503" stop-color="#020202"/><stop offset=".555" stop-color="#1e1e1e"/><stop offset=".564" stop-color="#3c3c3c"/><stop offset=".570" stop-color="#3d3d3d"/><stop offset=".688" stop-color="#3e3e3e"/><stop offset=".732" stop-color="#000000"/><stop offset=".999" stop-color="#000000"/></linearGradient><linearGradient id="g21" gradientUnits="userSpaceOnUse" x1="765" x2="1378"><stop offset=".001" stop-color="#000000"/><stop offset=".502" stop-color="#020202"/><stop offset=".555" stop-color="#1e1e1e"/><stop offset=".560" stop-color="#2f2f2f"/><stop offset=".564" stop-color="#3b3b3b"/><stop offset=".567" stop-color="#3f3f3f"/><stop offset=".603" stop-color="#3f3f3f"/><stop offset=".686" stop-color="#3f3f3f"/><stop offset=".728" stop-color="#020202"/><stop offset=".769" stop-color="#000000"/><stop offset=".999" stop-color="#000000"/></linearGradient><linearGradient id="g22" gradientUnits="userSpaceOnUse" x1="765" x2="1378"><stop offset=".001" stop-color="#020202"/><stop offset=".495" stop-color="#010101"/><stop offset=".500" stop-color="#020202"/><stop offset=".503" stop-color="#070707"/><stop offset=".513" stop-color="#080808"/><stop offset=".555" stop-color="#1e1e1e"/><stop offset=".560" stop-color="#2f2f2f"/><stop offset=".564" stop-color="#3b3b3b"/><stop offset=".567" stop-color="#3f3f3f"/><stop offset=".601" stop-color="#404040"/><stop offset=".683" stop-color="#404040"/><stop offset=".689" stop-color="#3c3c3c"/><stop offset=".727" stop-color="#040404"/><stop offset=".741" stop-color="#000000"/><stop offset=".999" stop-color="#000000"/></linearGradient><linearGradient id="g23" gradientUnits="userSpaceOnUse" x1="765" x2="1378"><stop offset=".001" stop-color="#030303"/><stop offset=".091" stop-color="#090909"/><stop offset=".461" stop-color="#0a0a0a"/><stop offset=".490" stop-color="#080808"/><stop offset=".498" stop-color="#020202"/><stop offset=".503" stop-color="#0d0d0d"/><stop offset=".511" stop-color="#080808"/><stop offset=".555" stop-color="#1f1f1f"/><stop offset=".560" stop-color="#2f2f2f"/><stop offset=".564" stop-color="#3b3b3b"/><stop offset=".567" stop-color="#3f3f3f"/><stop offset=".603" stop-color="#414141"/><stop offset=".675" stop-color="#414141"/><stop offset=".688" stop-color="#3e3e3e"/><stop offset=".727" stop-color="#040404"/><stop offset=".743" stop-color="#000000"/><stop offset=".999" stop-color="#000000"/></linearGradient><linearGradient id="g24" gradientUnits="userSpaceOnUse" x1="765" x2="1378"><stop offset=".001" stop-color="#040404"/><stop offset=".076" stop-color="#0d0d0d"/><stop offset=".172" stop-color="#101010"/><stop offset=".321" stop-color="#111111"/><stop offset=".461" stop-color="#121212"/><stop offset=".489" stop-color="#111111"/><stop offset=".498" stop-color="#040404"/><stop offset=".500" stop-color="#070707"/><stop offset=".502" stop-color="#0e0e0e"/><stop offset=".505" stop-color="#0f0f0f"/><stop offset=".513" stop-color="#090909"/><stop offset=".555" stop-color="#1f1f1f"/><stop offset=".560" stop-color="#2f2f2f"/><stop offset=".564" stop-color="#3b3b3b"/><stop offset=".567" stop-color="#3f3f3f"/><stop offset=".601" stop-color="#414141"/><stop offset=".665" stop-color="#424242"/><stop offset=".688" stop-color="#3e3e3e"/><stop offset=".727" stop-color="#040404"/><stop offset=".743" stop-color="#000000"/><stop offset=".999" stop-color="#000000"/></linearGradient><linearGradient id="g25" gradientUnits="userSpaceOnUse" x1="765" x2="1378"><stop offset=".001" stop-color="#050505"/><stop offset=".066" stop-color="#101010"/><stop offset=".164" stop-color="#181818"/><stop offset=".290" stop-color="#161616"/><stop offset=".389" stop-color="#1c1c1c"/><stop offset=".489" stop-color="#1a1a1a"/><stop offset=".498" stop-color="#080808"/><stop offset=".500" stop-color="#090909"/><stop offset=".502" stop-color="#111111"/><stop offset=".503" stop-color="#141414"/><stop offset=".515" stop-color="#0a0a0a"/><stop offset=".555" stop-color="#1f1f1f"/><stop offset=".560" stop-color="#2f2f2f"/><stop offset=".564" stop-color="#3b3b3b"/><stop offset=".567" stop-color="#3f3f3f"/><stop offset=".600" stop-color="#414141"/><stop offset=".660" stop-color="#434343"/><stop offset=".688" stop-color="#3e3e3e"/><stop offset=".727" stop-color="#040404"/><stop offset=".741" stop-color="#000000"/><stop offset=".999" stop-color="#000000"/></linearGradient><linearGradient id="g26" gradientUnits="userSpaceOnUse" x1="765" x2="1378"><stop offset=".001" stop-color="#050505"/><stop offset=".071" stop-color="#151515"/><stop offset=".159" stop-color="#1f1f1f"/><stop offset=".277" stop-color="#1b1b1b"/><stop offset=".381" stop-color="#252525"/><stop offset=".489" stop-color="#232323"/><stop offset=".495" stop-color="#151515"/><stop offset=".498" stop-color="#0c0c0c"/><stop offset=".500" stop-color="#0d0d0d"/><stop offset=".502" stop-color="#151515"/><stop offset=".505" stop-color="#161616"/><stop offset=".516" stop-color="#0c0c0c"/><stop offset=".555" stop-color="#1f1f1f"/><stop offset=".560" stop-color="#2f2f2f"/><stop offset=".564" stop-color="#3b3b3b"/><stop offset=".567" stop-color="#3f3f3f"/><stop offset=".598" stop-color="#414141"/><stop offset=".655" stop-color="#434343"/><stop offset=".688" stop-color="#3e3e3e"/><stop offset=".725" stop-color="#050505"/><stop offset=".738" stop-color="#000000"/><stop offset=".999" stop-color="#000000"/></linearGradient><linearGradient id="g27" gradientUnits="userSpaceOnUse" x1="765" x2="1378"><stop offset=".001" stop-color="#050505"/><stop offset=".086" stop-color="#1a1a1a"/><stop offset=".157" stop-color="#262626"/><stop offset=".260" stop-color="#212121"/><stop offset=".342" stop-color="#292929"/><stop offset=".376" stop-color="#2d2d2d"/><stop offset=".490" stop-color="#2b2b2b"/><stop offset=".498" stop-color="#121212"/><stop offset=".500" stop-color="#131313"/><stop offset=".502" stop-color="#1c1c1c"/><stop offset=".520" stop-color="#0d0d0d"/><stop offset=".555" stop-color="#1f1f1f"/><stop offset=".560" stop-color="#2f2f2f"/><stop offset=".565" stop-color="#3f3f3f"/><stop offset=".644" stop-color="#444444"/><stop offset=".688" stop-color="#3e3e3e"/><stop offset=".725" stop-color="#050505"/><stop offset=".738" stop-color="#000000"/><stop offset=".999" stop-color="#000000"/></linearGradient><linearGradient id="g28" gradientUnits="userSpaceOnUse" x1="765" x2="1378"><stop offset=".001" stop-color="#050505"/><stop offset=".153" stop-color="#2e2e2e"/><stop offset=".246" stop-color="#272727"/><stop offset=".299" stop-color="#2b2b2b"/><stop offset=".347" stop-color="#333333"/><stop offset=".451" stop-color="#363636"/><stop offset=".490" stop-color="#343434"/><stop offset=".495" stop-color="#252525"/><stop offset=".498" stop-color="#191919"/><stop offset=".500" stop-color="#1b1b1b"/><stop offset=".502" stop-color="#252525"/><stop offset=".505" stop-color="#1b1b1b"/><stop offset=".521" stop-color="#0f0f0f"/><stop offset=".555" stop-color="#1f1f1f"/><stop offset=".560" stop-color="#2f2f2f"/><stop offset=".565" stop-color="#3f3f3f"/><stop offset=".642" stop-color="#444444"/><stop offset=".688" stop-color="#3e3e3e"/><stop offset=".725" stop-color="#050505"/><stop offset=".738" stop-color="#000000"/><stop offset=".999" stop-color="#000000"/></linearGradient><linearGradient id="g29" gradientUnits="userSpaceOnUse" x1="765" x2="1378"><stop offset=".001" stop-color="#050505"/><stop offset=".105" stop-color="#262626"/><stop offset=".154" stop-color="#353535"/><stop offset=".242" stop-color="#2d2d2d"/><stop offset=".296" stop-color="#313131"/><stop offset=".347" stop-color="#3b3b3b"/><stop offset=".441" stop-color="#3f3f3f"/><stop offset=".490" stop-color="#3d3d3d"/><stop offset=".493" stop-color="#363636"/><stop offset=".498" stop-color="#202020"/><stop offset=".500" stop-color="#242424"/><stop offset=".502" stop-color="#303030"/><stop offset=".505" stop-color="#1e1e1e"/><stop offset=".513" stop-color="#171717"/><stop offset=".524" stop-color="#101010"/><stop offset=".555" stop-color="#1f1f1f"/><stop offset=".560" stop-color="#2f2f2f"/><stop offset=".565" stop-color="#3f3f3f"/><stop offset=".640" stop-color="#444444"/><stop offset=".688" stop-color="#3e3e3e"/><stop offset=".725" stop-color="#050505"/><stop offset=".738" stop-color="#000000"/><stop offset=".999" stop-color="#000000"/></linearGradient><linearGradient id="g30" gradientUnits="userSpaceOnUse" x1="765" x2="1378"><stop offset=".001" stop-color="#050505"/><stop offset=".102" stop-color="#252525"/><stop offset=".153" stop-color="#3b3b3b"/><stop offset=".242" stop-color="#333333"/><stop offset=".294" stop-color="#373737"/><stop offset=".345" stop-color="#424242"/><stop offset=".381" stop-color="#474747"/><stop offset=".492" stop-color="#454545"/><stop offset=".495" stop-color="#393939"/><stop offset=".498" stop-color="#292929"/><stop offset=".500" stop-color="#2d2d2d"/><stop offset=".502" stop-color="#3d3d3d"/><stop offset=".503" stop-color="#343434"/><stop offset=".505" stop-color="#232323"/><stop offset=".507" stop-color="#1d1d1d"/><stop offset=".526" stop-color="#121212"/><stop offset=".555" stop-color="#1f1f1f"/><stop offset=".564" stop-color="#3b3b3b"/><stop offset=".569" stop-color="#3f3f3f"/><stop offset=".639" stop-color="#454545"/><stop offset=".686" stop-color="#3f3f3f"/><stop offset=".725" stop-color="#050505"/><stop offset=".738" stop-color="#000000"/><stop offset=".999" stop-color="#000000"/></linearGradient><linearGradient id="g31" gradientUnits="userSpaceOnUse" x1="765" x2="1378"><stop offset=".001" stop-color="#050505"/><stop offset=".102" stop-color="#252525"/><stop offset=".159" stop-color="#404040"/><stop offset=".246" stop-color="#393939"/><stop offset=".293" stop-color="#3d3d3d"/><stop offset=".345" stop-color="#4a4a4a"/><stop offset=".368" stop-color="#4f4f4f"/><stop offset=".471" stop-color="#505050"/><stop offset=".492" stop-color="#4e4e4e"/><stop offset=".493" stop-color="#4b4b4b"/><stop offset=".498" stop-color="#333333"/><stop offset=".500" stop-color="#383838"/><stop offset=".502" stop-color="#4a4a4a"/><stop offset=".503" stop-color="#404040"/><stop offset=".505" stop-color="#2b2b2b"/><stop offset=".507" stop-color="#202020"/><stop offset=".528" stop-color="#131313"/><stop offset=".555" stop-color="#1f1f1f"/><stop offset=".564" stop-color="#3b3b3b"/><stop offset=".569" stop-color="#3f3f3f"/><stop offset=".637" stop-color="#454545"/><stop offset=".686" stop-color="#3f3f3f"/><stop offset=".723" stop-color="#060606"/><stop offset=".737" stop-color="#000000"/><stop offset=".999" stop-color="#000000"/></linearGradient><linearGradient id="g32" gradientUnits="userSpaceOnUse" x1="765" x2="1378"><stop offset=".001" stop-color="#050505"/><stop offset=".102" stop-color="#252525"/><stop offset=".166" stop-color="#464646"/><stop offset=".247" stop-color="#3f3f3f"/><stop offset=".293" stop-color="#434343"/><stop offset=".345" stop-color="#525252"/><stop offset=".361" stop-color="#575757"/><stop offset=".448" stop-color="#595959"/><stop offset=".492" stop-color="#575757"/><stop offset=".495" stop-color="#4f4f4f"/><stop offset=".498" stop-color="#3d3d3d"/><stop offset=".500" stop-color="#424242"/><stop offset=".502" stop-color="#575757"/><stop offset=".503" stop-color="#4e4e4e"/><stop offset=".505" stop-color="#353535"/><stop offset=".507" stop-color="#252525"/><stop offset=".508" stop-color="#1f1f1f"/><stop offset=".531" stop-color="#141414"/><stop offset=".555" stop-color="#202020"/><stop offset=".564" stop-color="#3b3b3b"/><stop offset=".569" stop-color="#3f3f3f"/><stop offset=".637" stop-color="#454545"/><stop offset=".686" stop-color="#3f3f3f"/><stop offset=".723" stop-color="#060606"/><stop offset=".737" stop-color="#000000"/><stop offset=".999" stop-color="#000000"/></linearGradient><linearGradient id="g33" gradientUnits="userSpaceOnUse" x1="765" x2="1378"><stop offset=".001" stop-color="#050505"/><stop offset=".102" stop-color="#252525"/><stop offset=".170" stop-color="#4b4b4b"/><stop offset=".249" stop-color="#454545"/><stop offset=".291" stop-color="#494949"/><stop offset=".343" stop-color="#595959"/><stop offset=".355" stop-color="#5e5e5e"/><stop offset=".436" stop-color="#626262"/><stop offset=".493" stop-color="#5f5f5f"/><stop offset=".495" stop-color="#5b5b5b"/><stop offset=".498" stop-color="#484848"/><stop offset=".500" stop-color="#4e4e4e"/><stop offset=".502" stop-color="#646464"/><stop offset=".503" stop-color="#5c5c5c"/><stop offset=".505" stop-color="#414141"/><stop offset=".507" stop-color="#2b2b2b"/><stop offset=".508" stop-color="#222222"/><stop offset=".533" stop-color="#161616"/><stop offset=".555" stop-color="#202020"/><stop offset=".564" stop-color="#3b3b3b"/><stop offset=".569" stop-color="#3f3f3f"/><stop offset=".635" stop-color="#464646"/><stop offset=".684" stop-color="#404040"/><stop offset=".696" stop-color="#313131"/><stop offset=".723" stop-color="#060606"/><stop offset=".737" stop-color="#000000"/><stop offset=".999" stop-color="#000000"/></linearGradient><linearGradient id="g34" gradientUnits="userSpaceOnUse" x1="765" x2="1378"><stop offset=".001" stop-color="#050505"/><stop offset=".102" stop-color="#252525"/><stop offset=".164" stop-color="#494949"/><stop offset=".180" stop-color="#505050"/><stop offset=".249" stop-color="#4a4a4a"/><stop offset=".291" stop-color="#4f4f4f"/><stop offset=".343" stop-color="#606060"/><stop offset=".355" stop-color="#676767"/><stop offset=".433" stop-color="#6b6b6b"/><stop offset=".493" stop-color="#686868"/><stop offset=".495" stop-color="#666666"/><stop offset=".498" stop-color="#545454"/><stop offset=".500" stop-color="#5a5a5a"/><stop offset=".502" stop-color="#727272"/><stop offset=".503" stop-color="#6a6a6a"/><stop offset=".507" stop-color="#353535"/><stop offset=".508" stop-color="#262626"/><stop offset=".511" stop-color="#202020"/><stop offset=".534" stop-color="#171717"/><stop offset=".555" stop-color="#202020"/><stop offset=".564" stop-color="#3c3c3c"/><stop offset=".569" stop-color="#3f3f3f"/><stop offset=".635" stop-color="#464646"/><stop offset=".684" stop-color="#404040"/><stop offset=".696" stop-color="#313131"/><stop offset=".722" stop-color="#070707"/><stop offset=".737" stop-color="#000000"/><stop offset=".999" stop-color="#000000"/></linearGradient><linearGradient id="g35" gradientUnits="userSpaceOnUse" x1="765" x2="1378"><stop offset=".001" stop-color="#050505"/><stop offset=".102" stop-color="#252525"/><stop offset=".164" stop-color="#494949"/><stop offset=".185" stop-color="#555555"/><stop offset=".250" stop-color="#505050"/><stop offset=".291" stop-color="#555555"/><stop offset=".343" stop-color="#686868"/><stop offset=".353" stop-color="#6f6f6f"/><stop offset=".430" stop-color="#747474"/><stop offset=".493" stop-color="#717171"/><stop offset=".495" stop-color="#707070"/><stop offset=".498" stop-color="#616161"/><stop offset=".500" stop-color="#676767"/><stop offset=".502" stop-color="#7f7f7f"/><stop offset=".503" stop-color="#787878"/><stop offset=".507" stop-color="#404040"/><stop offset=".508" stop-color="#2c2c2c"/><stop offset=".510" stop-color="#232323"/><stop offset=".536" stop-color="#171717"/><stop offset=".555" stop-color="#202020"/><stop offset=".564" stop-color="#3c3c3c"/><stop offset=".569" stop-color="#3f3f3f"/><stop offset=".634" stop-color="#464646"/><stop offset=".683" stop-color="#414141"/><stop offset=".689" stop-color="#3b3b3b"/><stop offset=".722" stop-color="#070707"/><stop offset=".737" stop-color="#000000"/><stop offset=".999" stop-color="#000000"/></linearGradient><linearGradient id="g36" gradientUnits="userSpaceOnUse" x1="765" x2="1378"><stop offset=".001" stop-color="#050505"/><stop offset=".102" stop-color="#252525"/><stop offset=".164" stop-color="#494949"/><stop offset=".190" stop-color="#5a5a5a"/><stop offset=".250" stop-color="#565656"/><stop offset=".290" stop-color="#5b5b5b"/><stop offset=".343" stop-color="#707070"/><stop offset=".353" stop-color="#777777"/><stop offset=".428" stop-color="#7d7d7d"/><stop offset=".495" stop-color="#797979"/><stop offset=".497" stop-color="#757575"/><stop offset=".498" stop-color="#6e6e6e"/><stop offset=".500" stop-color="#737373"/><stop offset=".502" stop-color="#8c8c8c"/><stop offset=".503" stop-color="#858585"/><stop offset=".507" stop-color="#4c4c4c"/><stop offset=".508" stop-color="#343434"/><stop offset=".510" stop-color="#262626"/><stop offset=".513" stop-color="#212121"/><stop offset=".536" stop-color="#171717"/><stop offset=".555" stop-color="#202020"/><stop offset=".564" stop-color="#3c3c3c"/><stop offset=".569" stop-color="#3f3f3f"/><stop offset=".634" stop-color="#474747"/><stop offset=".679" stop-color="#414141"/><stop offset=".688" stop-color="#3e3e3e"/><stop offset=".722" stop-color="#070707"/><stop offset=".737" stop-color="#000000"/><stop offset=".999" stop-color="#000000"/></linearGradient><linearGradient id="g37" gradientUnits="userSpaceOnUse" x1="765" x2="1378"><stop offset=".001" stop-color="#050505"/><stop offset=".102" stop-color="#252525"/><stop offset=".164" stop-color="#494949"/><stop offset=".197" stop-color="#5e5e5e"/><stop offset=".252" stop-color="#5c5c5c"/><stop offset=".290" stop-color="#616161"/><stop offset=".343" stop-color="#787878"/><stop offset=".353" stop-color="#7f7f7f"/><stop offset=".425" stop-color="#868686"/><stop offset=".495" stop-color="#828282"/><stop offset=".498" stop-color="#7a7a7a"/><stop offset=".500" stop-color="#818181"/><stop offset=".502" stop-color="#999999"/><stop offset=".503" stop-color="#929292"/><stop offset=".508" stop-color="#3d3d3d"/><stop offset=".510" stop-color="#2b2b2b"/><stop offset=".511" stop-color="#242424"/><stop offset=".536" stop-color="#171717"/><stop offset=".555" stop-color="#202020"/><stop offset=".564" stop-color="#3c3c3c"/><stop offset=".569" stop-color="#3f3f3f"/><stop offset=".632" stop-color="#474747"/><stop offset=".676" stop-color="#424242"/><stop offset=".688" stop-color="#3e3e3e"/><stop offset=".722" stop-color="#070707"/><stop offset=".737" stop-color="#000000"/><stop offset=".999" stop-color="#000000"/></linearGradient><linearGradient id="g38" gradientUnits="userSpaceOnUse" x1="765" x2="1378"><stop offset=".001" stop-color="#050505"/><stop offset=".102" stop-color="#252525"/><stop offset=".164" stop-color="#484848"/><stop offset=".203" stop-color="#636363"/><stop offset=".252" stop-color="#626262"/><stop offset=".290" stop-color="#676767"/><stop offset=".343" stop-color="#808080"/><stop offset=".352" stop-color="#878787"/><stop offset=".423" stop-color="#8e8e8e"/><stop offset=".495" stop-color="#8b8b8b"/><stop offset=".498" stop-color="#878787"/><stop offset=".500" stop-color="#8e8e8e"/><stop offset=".502" stop-color="#a5a5a5"/><stop offset=".503" stop-color="#9e9e9e"/><stop offset=".508" stop-color="#484848"/><stop offset=".510" stop-color="#313131"/><stop offset=".511" stop-color="#262626"/><stop offset=".524" stop-color="#1c1c1c"/><stop offset=".538" stop-color="#181818"/><stop offset=".555" stop-color="#202020"/><stop offset=".565" stop-color="#3f3f3f"/><stop offset=".632" stop-color="#484848"/><stop offset=".675" stop-color="#434343"/><stop offset=".688" stop-color="#3d3d3d"/><stop offset=".720" stop-color="#090909"/><stop offset=".735" stop-color="#000000"/><stop offset=".999" stop-color="#000000"/></linearGradient><linearGradient id="g39" gradientUnits="userSpaceOnUse" x1="765" x2="1378"><stop offset=".001" stop-color="#050505"/><stop offset=".102" stop-color="#252525"/><stop offset=".164" stop-color="#484848"/><stop offset=".208" stop-color="#676767"/><stop offset=".260" stop-color="#686868"/><stop offset=".290" stop-color="#6e6e6e"/><stop offset=".343" stop-color="#878787"/><stop offset=".352" stop-color="#909090"/><stop offset=".423" stop-color="#979797"/><stop offset=".495" stop-color="#939393"/><stop offset=".498" stop-color="#929292"/><stop offset=".500" stop-color="#9b9b9b"/><stop offset=".502" stop-color="#b2b2b2"/><stop offset=".503" stop-color="#ababab"/><stop offset=".510" stop-color="#3a3a3a"/><stop offset=".511" stop-color="#292929"/><stop offset=".513" stop-color="#242424"/><stop offset=".536" stop-color="#171717"/><stop offset=".555" stop-color="#202020"/><stop offset=".565" stop-color="#3f3f3f"/><stop offset=".631" stop-color="#484848"/><stop offset=".673" stop-color="#434343"/><stop offset=".688" stop-color="#3d3d3d"/><stop offset=".720" stop-color="#080808"/><stop offset=".737" stop-color="#000000"/><stop offset=".999" stop-color="#000000"/></linearGradient><linearGradient id="g40" gradientUnits="userSpaceOnUse" x1="765" x2="1378"><stop offset=".001" stop-color="#050505"/><stop offset=".102" stop-color="#252525"/><stop offset=".164" stop-color="#484848"/><stop offset=".216" stop-color="#6c6c6c"/><stop offset=".273" stop-color="#707070"/><stop offset=".291" stop-color="#757575"/><stop offset=".342" stop-color="#8d8d8d"/><stop offset=".352" stop-color="#989898"/><stop offset=".422" stop-color="#a0a0a0"/><stop offset=".493" stop-color="#9c9c9c"/><stop offset=".498" stop-color="#9b9b9b"/><stop offset=".500" stop-color="#a7a7a7"/><stop offset=".502" stop-color="#bfbfbf"/><stop offset=".503" stop-color="#b8b8b8"/><stop offset=".510" stop-color="#454545"/><stop offset=".511" stop-color="#2f2f2f"/><stop offset=".513" stop-color="#252525"/><stop offset=".536" stop-color="#171717"/><stop offset=".555" stop-color="#202020"/><stop offset=".565" stop-color="#3f3f3f"/><stop offset=".631" stop-color="#484848"/><stop offset=".671" stop-color="#444444"/><stop offset=".688" stop-color="#3d3d3d"/><stop offset=".720" stop-color="#080808"/><stop offset=".737" stop-color="#000000"/><stop offset=".999" stop-color="#000000"/></linearGradient><linearGradient id="g41" gradientUnits="userSpaceOnUse" x1="765" x2="1378"><stop offset=".001" stop-color="#050505"/><stop offset=".102" stop-color="#252525"/><stop offset=".164" stop-color="#484848"/><stop offset=".223" stop-color="#717171"/><stop offset=".288" stop-color="#797979"/><stop offset=".324" stop-color="#8c8c8c"/><stop offset=".342" stop-color="#959595"/><stop offset=".352" stop-color="#a0a0a0"/><stop offset=".420" stop-color="#a9a9a9"/><stop offset=".492" stop-color="#a5a5a5"/><stop offset=".498" stop-color="#a5a5a5"/><stop offset=".500" stop-color="#b2b2b2"/><stop offset=".502" stop-color="#cbcbcb"/><stop offset=".503" stop-color="#c4c4c4"/><stop offset=".510" stop-color="#515151"/><stop offset=".511" stop-color="#373737"/><stop offset=".513" stop-color="#282828"/><stop offset=".516" stop-color="#222222"/><stop offset=".538" stop-color="#181818"/><stop offset=".555" stop-color="#202020"/><stop offset=".565" stop-color="#3f3f3f"/><stop offset=".631" stop-color="#484848"/><stop offset=".671" stop-color="#444444"/><stop offset=".688" stop-color="#3d3d3d"/><stop offset=".720" stop-color="#080808"/><stop offset=".735" stop-color="#000000"/><stop offset=".999" stop-color="#000000"/></linearGradient><linearGradient id="g42" gradientUnits="userSpaceOnUse" x1="765" x2="1378"><stop offset=".001" stop-color="#050505"/><stop offset=".102" stop-color="#252525"/><stop offset=".164" stop-color="#484848"/><stop offset=".229" stop-color="#767676"/><stop offset=".288" stop-color="#7f7f7f"/><stop offset=".322" stop-color="#929292"/><stop offset=".342" stop-color="#9c9c9c"/><stop offset=".352" stop-color="#a8a8a8"/><stop offset=".420" stop-color="#b2b2b2"/><stop offset=".492" stop-color="#aeaeae"/><stop offset=".498" stop-color="#adadad"/><stop offset=".500" stop-color="#bcbcbc"/><stop offset=".502" stop-color="#d6d6d6"/><stop offset=".503" stop-color="#d0d0d0"/><stop offset=".511" stop-color="#414141"/><stop offset=".513" stop-color="#2d2d2d"/><stop offset=".515" stop-color="#252525"/><stop offset=".536" stop-color="#171717"/><stop offset=".555" stop-color="#212121"/><stop offset=".565" stop-color="#3f3f3f"/><stop offset=".616" stop-color="#484848"/><stop offset=".666" stop-color="#454545"/><stop offset=".688" stop-color="#3d3d3d"/><stop offset=".719" stop-color="#0a0a0a"/><stop offset=".735" stop-color="#000000"/><stop offset=".999" stop-color="#000000"/></linearGradient><linearGradient id="g43" gradientUnits="userSpaceOnUse" x1="765" x2="1378"><stop offset=".001" stop-color="#050505"/><stop offset=".102" stop-color="#252525"/><stop offset=".166" stop-color="#494949"/><stop offset=".236" stop-color="#7b7b7b"/><stop offset=".288" stop-color="#858585"/><stop offset=".317" stop-color="#979797"/><stop offset=".342" stop-color="#a4a4a4"/><stop offset=".350" stop-color="#b0b0b0"/><stop offset=".418" stop-color="#bababa"/><stop offset=".490" stop-color="#b7b7b7"/><stop offset=".498" stop-color="#b6b6b6"/><stop offset=".500" stop-color="#c4c4c4"/><stop offset=".502" stop-color="#dfdfdf"/><stop offset=".503" stop-color="#dbdbdb"/><stop offset=".507" stop-color="#a4a4a4"/><stop offset=".511" stop-color="#4d4d4d"/><stop offset=".513" stop-color="#353535"/><stop offset=".515" stop-color="#282828"/><stop offset=".520" stop-color="#212121"/><stop offset=".538" stop-color="#181818"/><stop offset=".555" stop-color="#212121"/><stop offset=".565" stop-color="#3f3f3f"/><stop offset=".614" stop-color="#484848"/><stop offset=".665" stop-color="#464646"/><stop offset=".688" stop-color="#3d3d3d"/><stop offset=".719" stop-color="#0a0a0a"/><stop offset=".735" stop-color="#000000"/><stop offset=".999" stop-color="#000000"/></linearGradient><linearGradient id="g44" gradientUnits="userSpaceOnUse" x1="765" x2="1378"><stop offset=".001" stop-color="#050505"/><stop offset=".102" stop-color="#252525"/><stop offset=".167" stop-color="#494949"/><stop offset=".247" stop-color="#828282"/><stop offset=".288" stop-color="#8b8b8b"/><stop offset=".316" stop-color="#9d9d9d"/><stop offset=".342" stop-color="#acacac"/><stop offset=".350" stop-color="#b8b8b8"/><stop offset=".418" stop-color="#c3c3c3"/><stop offset=".490" stop-color="#bfbfbf"/><stop offset=".498" stop-color="#bebebe"/><stop offset=".500" stop-color="#cbcbcb"/><stop offset=".502" stop-color="#e5e5e5"/><stop offset=".503" stop-color="#e5e5e5"/><stop offset=".505" stop-color="#cdcdcd"/><stop offset=".513" stop-color="#3e3e3e"/><stop offset=".515" stop-color="#2c2c2c"/><stop offset=".516" stop-color="#252525"/><stop offset=".538" stop-color="#181818"/><stop offset=".555" stop-color="#212121"/><stop offset=".565" stop-color="#3f3f3f"/><stop offset=".614" stop-color="#494949"/><stop offset=".665" stop-color="#464646"/><stop offset=".688" stop-color="#3d3d3d"/><stop offset=".719" stop-color="#0a0a0a"/><stop offset=".735" stop-color="#000000"/><stop offset=".999" stop-color="#000000"/></linearGradient><linearGradient id="g45" gradientUnits="userSpaceOnUse" x1="765" x2="1378"><stop offset=".001" stop-color="#050505"/><stop offset=".102" stop-color="#252525"/><stop offset=".169" stop-color="#4a4a4a"/><stop offset=".255" stop-color="#8a8a8a"/><stop offset=".288" stop-color="#919191"/><stop offset=".314" stop-color="#a3a3a3"/><stop offset=".342" stop-color="#b3b3b3"/><stop offset=".350" stop-color="#c0c0c0"/><stop offset=".417" stop-color="#cccccc"/><stop offset=".489" stop-color="#c8c8c8"/><stop offset=".498" stop-color="#c7c7c7"/><stop offset=".500" stop-color="#d2d2d2"/><stop offset=".502" stop-color="#e9e9e9"/><stop offset=".503" stop-color="#ececec"/><stop offset=".505" stop-color="#d8d8d8"/><stop offset=".513" stop-color="#494949"/><stop offset=".515" stop-color="#323232"/><stop offset=".516" stop-color="#272727"/><stop offset=".534" stop-color="#181818"/><stop offset=".555" stop-color="#212121"/><stop offset=".565" stop-color="#3f3f3f"/><stop offset=".614" stop-color="#494949"/><stop offset=".665" stop-color="#464646"/><stop offset=".688" stop-color="#3d3d3d"/><stop offset=".719" stop-color="#0a0a0a"/><stop offset=".735" stop-color="#000000"/><stop offset=".999" stop-color="#000000"/></linearGradient><linearGradient id="g46" gradientUnits="userSpaceOnUse" x1="765" x2="1378"><stop offset=".001" stop-color="#050505"/><stop offset=".102" stop-color="#252525"/><stop offset=".169" stop-color="#4a4a4a"/><stop offset=".247" stop-color="#878787"/><stop offset=".263" stop-color="#919191"/><stop offset=".288" stop-color="#979797"/><stop offset=".314" stop-color="#a9a9a9"/><stop offset=".342" stop-color="#bbbbbb"/><stop offset=".350" stop-color="#c9c9c9"/><stop offset=".417" stop-color="#d5d5d5"/><stop offset=".489" stop-color="#d1d1d1"/><stop offset=".498" stop-color="#cfcfcf"/><stop offset=".500" stop-color="#d8d8d8"/><stop offset=".502" stop-color="#ececec"/><stop offset=".503" stop-color="#f1f1f1"/><stop offset=".505" stop-color="#e2e2e2"/><stop offset=".508" stop-color="#acacac"/><stop offset=".513" stop-color="#555555"/><stop offset=".515" stop-color="#3b3b3b"/><stop offset=".516" stop-color="#2b2b2b"/><stop offset=".518" stop-color="#252525"/><stop offset=".538" stop-color="#181818"/><stop offset=".555" stop-color="#212121"/><stop offset=".565" stop-color="#3f3f3f"/><stop offset=".614" stop-color="#494949"/><stop offset=".665" stop-color="#474747"/><stop offset=".688" stop-color="#3d3d3d"/><stop offset=".717" stop-color="#0b0b0b"/><stop offset=".735" stop-color="#000000"/><stop offset=".999" stop-color="#000000"/></linearGradient><linearGradient id="g47" gradientUnits="userSpaceOnUse" x1="765" x2="1378"><stop offset=".001" stop-color="#050505"/><stop offset=".102" stop-color="#252525"/><stop offset=".169" stop-color="#494949"/><stop offset=".247" stop-color="#868686"/><stop offset=".267" stop-color="#979797"/><stop offset=".288" stop-color="#9d9d9d"/><stop offset=".316" stop-color="#b1b1b1"/><stop offset=".342" stop-color="#c3c3c3"/><stop offset=".350" stop-color="#d1d1d1"/><stop offset=".417" stop-color="#dedede"/><stop offset=".489" stop-color="#dadada"/><stop offset=".498" stop-color="#d7d7d7"/><stop offset=".500" stop-color="#dedede"/><stop offset=".502" stop-color="#efefef"/><stop offset=".503" stop-color="#f4f4f4"/><stop offset=".505" stop-color="#eaeaea"/><stop offset=".507" stop-color="#d4d4d4"/><stop offset=".515" stop-color="#464646"/><stop offset=".516" stop-color="#303030"/><stop offset=".518" stop-color="#272727"/><stop offset=".538" stop-color="#181818"/><stop offset=".555" stop-color="#212121"/><stop offset=".565" stop-color="#3f3f3f"/><stop offset=".613" stop-color="#494949"/><stop offset=".660" stop-color="#484848"/><stop offset=".688" stop-color="#3d3d3d"/><stop offset=".717" stop-color="#0b0b0b"/><stop offset=".735" stop-color="#000000"/><stop offset=".999" stop-color="#000000"/></linearGradient><linearGradient id="g48" gradientUnits="userSpaceOnUse" x1="765" x2="1378"><stop offset=".001" stop-color="#050505"/><stop offset=".102" stop-color="#252525"/><stop offset=".169" stop-color="#494949"/><stop offset=".247" stop-color="#868686"/><stop offset=".272" stop-color="#9d9d9d"/><stop offset=".290" stop-color="#a4a4a4"/><stop offset=".319" stop-color="#bababa"/><stop offset=".342" stop-color="#cacaca"/><stop offset=".350" stop-color="#d9d9d9"/><stop offset=".417" stop-color="#e6e6e6"/><stop offset=".487" stop-color="#e3e3e3"/><stop offset=".498" stop-color="#dfdfdf"/><stop offset=".500" stop-color="#e5e5e5"/><stop offset=".502" stop-color="#f1f1f1"/><stop offset=".503" stop-color="#f5f5f5"/><stop offset=".505" stop-color="#efefef"/><stop offset=".507" stop-color="#dedede"/><stop offset=".515" stop-color="#515151"/><stop offset=".516" stop-color="#383838"/><stop offset=".518" stop-color="#2a2a2a"/><stop offset=".521" stop-color="#232323"/><stop offset=".538" stop-color="#181818"/><stop offset=".555" stop-color="#212121"/><stop offset=".565" stop-color="#3f3f3f"/><stop offset=".611" stop-color="#494949"/><stop offset=".644" stop-color="#4a4a4a"/><stop offset=".673" stop-color="#444444"/><stop offset=".688" stop-color="#3d3d3d"/><stop offset=".717" stop-color="#0b0b0b"/><stop offset=".735" stop-color="#000000"/><stop offset=".999" stop-color="#000000"/></linearGradient><linearGradient id="g49" gradientUnits="userSpaceOnUse" x1="765" x2="1378"><stop offset=".001" stop-color="#050505"/><stop offset=".102" stop-color="#252525"/><stop offset=".169" stop-color="#484848"/><stop offset=".247" stop-color="#868686"/><stop offset=".277" stop-color="#a3a3a3"/><stop offset=".291" stop-color="#acacac"/><stop offset=".321" stop-color="#c2c2c2"/><stop offset=".342" stop-color="#d2d2d2"/><stop offset=".350" stop-color="#e1e1e1"/><stop offset=".417" stop-color="#efefef"/><stop offset=".487" stop-color="#ececec"/><stop offset=".498" stop-color="#e8e8e8"/><stop offset=".500" stop-color="#ebebeb"/><stop offset=".502" stop-color="#f3f3f3"/><stop offset=".503" stop-color="#f6f6f6"/><stop offset=".505" stop-color="#f3f3f3"/><stop offset=".507" stop-color="#e7e7e7"/><stop offset=".508" stop-color="#cfcfcf"/><stop offset=".516" stop-color="#424242"/><stop offset=".518" stop-color="#2e2e2e"/><stop offset=".520" stop-color="#262626"/><stop offset=".538" stop-color="#181818"/><stop offset=".555" stop-color="#212121"/><stop offset=".565" stop-color="#3f3f3f"/><stop offset=".611" stop-color="#494949"/><stop offset=".642" stop-color="#4b4b4b"/><stop offset=".671" stop-color="#454545"/><stop offset=".688" stop-color="#3d3d3d"/><stop offset=".715" stop-color="#0c0c0c"/><stop offset=".735" stop-color="#000000"/><stop offset=".999" stop-color="#000000"/></linearGradient><linearGradient id="g50" gradientUnits="userSpaceOnUse" x1="765" x2="1378"><stop offset=".001" stop-color="#050505"/><stop offset=".102" stop-color="#252525"/><stop offset=".169" stop-color="#484848"/><stop offset=".249" stop-color="#878787"/><stop offset=".283" stop-color="#aaaaaa"/><stop offset=".317" stop-color="#c6c6c6"/><stop offset=".342" stop-color="#d9d9d9"/><stop offset=".350" stop-color="#e9e9e9"/><stop offset=".415" stop-color="#f7f7f7"/><stop offset=".487" stop-color="#f4f4f4"/><stop offset=".500" stop-color="#f1f1f1"/><stop offset=".503" stop-color="#f6f6f6"/><stop offset=".505" stop-color="#f4f4f4"/><stop offset=".507" stop-color="#ededed"/><stop offset=".508" stop-color="#dadada"/><stop offset=".516" stop-color="#4d4d4d"/><stop offset=".518" stop-color="#363636"/><stop offset=".520" stop-color="#292929"/><stop offset=".524" stop-color="#222222"/><stop offset=".539" stop-color="#181818"/><stop offset=".555" stop-color="#212121"/><stop offset=".565" stop-color="#3f3f3f"/><stop offset=".611" stop-color="#4a4a4a"/><stop offset=".640" stop-color="#4b4b4b"/><stop offset=".668" stop-color="#464646"/><stop offset=".688" stop-color="#3d3d3d"/><stop offset=".715" stop-color="#0c0c0c"/><stop offset=".735" stop-color="#000000"/><stop offset=".999" stop-color="#000000"/></linearGradient><linearGradient id="g51" gradientUnits="userSpaceOnUse" x1="765" x2="1378"><stop offset=".001" stop-color="#050505"/><stop offset=".102" stop-color="#252525"/><stop offset=".170" stop-color="#484848"/><stop offset=".249" stop-color="#878787"/><stop offset=".308" stop-color="#c2c2c2"/><stop offset=".342" stop-color="#dddddd"/><stop offset=".350" stop-color="#ededed"/><stop offset=".415" stop-color="#fdfdfd"/><stop offset=".487" stop-color="#fafafa"/><stop offset=".505" stop-color="#f5f5f5"/><stop offset=".507" stop-color="#f1f1f1"/><stop offset=".508" stop-color="#e3e3e3"/><stop offset=".511" stop-color="#aeaeae"/><stop offset=".518" stop-color="#3f3f3f"/><stop offset=".520" stop-color="#2d2d2d"/><stop offset=".521" stop-color="#262626"/><stop offset=".539" stop-color="#181818"/><stop offset=".555" stop-color="#212121"/><stop offset=".565" stop-color="#3f3f3f"/><stop offset=".609" stop-color="#494949"/><stop offset=".635" stop-color="#4c4c4c"/><stop offset=".666" stop-color="#474747"/><stop offset=".688" stop-color="#3d3d3d"/><stop offset=".715" stop-color="#0c0c0c"/><stop offset=".735" stop-color="#000000"/><stop offset=".999" stop-color="#000000"/></linearGradient><linearGradient id="g52" gradientUnits="userSpaceOnUse" x1="765" x2="1378"><stop offset=".001" stop-color="#050505"/><stop offset=".102" stop-color="#252525"/><stop offset=".170" stop-color="#484848"/><stop offset=".249" stop-color="#868686"/><stop offset=".309" stop-color="#c4c4c4"/><stop offset=".342" stop-color="#dedede"/><stop offset=".350" stop-color="#eeeeee"/><stop offset=".415" stop-color="#ffffff"/><stop offset=".485" stop-color="#fdfdfd"/><stop offset=".507" stop-color="#f3f3f3"/><stop offset=".508" stop-color="#eaeaea"/><stop offset=".510" stop-color="#d5d5d5"/><stop offset=".518" stop-color="#494949"/><stop offset=".520" stop-color="#333333"/><stop offset=".521" stop-color="#282828"/><stop offset=".538" stop-color="#181818"/><stop offset=".555" stop-color="#212121"/><stop offset=".565" stop-color="#3f3f3f"/><stop offset=".608" stop-color="#494949"/><stop offset=".632" stop-color="#4c4c4c"/><stop offset=".666" stop-color="#474747"/><stop offset=".688" stop-color="#3d3d3d"/><stop offset=".715" stop-color="#0c0c0c"/><stop offset=".735" stop-color="#000000"/><stop offset=".999" stop-color="#000000"/></linearGradient><linearGradient id="g53" gradientUnits="userSpaceOnUse" x1="765" x2="1378"><stop offset=".001" stop-color="#050505"/><stop offset=".104" stop-color="#252525"/><stop offset=".170" stop-color="#474747"/><stop offset=".249" stop-color="#868686"/><stop offset=".311" stop-color="#c5c5c5"/><stop offset=".342" stop-color="#dedede"/><stop offset=".350" stop-color="#eeeeee"/><stop offset=".415" stop-color="#ffffff"/><stop offset=".485" stop-color="#fdfdfd"/><stop offset=".507" stop-color="#f4f4f4"/><stop offset=".508" stop-color="#efefef"/><stop offset=".510" stop-color="#dfdfdf"/><stop offset=".513" stop-color="#a9a9a9"/><stop offset=".518" stop-color="#545454"/><stop offset=".520" stop-color="#3b3b3b"/><stop offset=".521" stop-color="#2b2b2b"/><stop offset=".524" stop-color="#242424"/><stop offset=".539" stop-color="#181818"/><stop offset=".555" stop-color="#222222"/><stop offset=".565" stop-color="#3f3f3f"/><stop offset=".608" stop-color="#494949"/><stop offset=".631" stop-color="#4d4d4d"/><stop offset=".665" stop-color="#484848"/><stop offset=".688" stop-color="#3d3d3d"/><stop offset=".714" stop-color="#0e0e0e"/><stop offset=".735" stop-color="#000000"/><stop offset=".999" stop-color="#000000"/></linearGradient><linearGradient id="g54" gradientUnits="userSpaceOnUse" x1="765" x2="1378"><stop offset=".001" stop-color="#050505"/><stop offset=".104" stop-color="#252525"/><stop offset=".170" stop-color="#474747"/><stop offset=".250" stop-color="#878787"/><stop offset=".311" stop-color="#c4c4c4"/><stop offset=".342" stop-color="#dedede"/><stop offset=".348" stop-color="#ececec"/><stop offset=".415" stop-color="#fefefe"/><stop offset=".485" stop-color="#fdfdfd"/><stop offset=".507" stop-color="#f4f4f4"/><stop offset=".508" stop-color="#f1f1f1"/><stop offset=".510" stop-color="#e6e6e6"/><stop offset=".511" stop-color="#d0d0d0"/><stop offset=".520" stop-color="#454545"/><stop offset=".521" stop-color="#303030"/><stop offset=".523" stop-color="#272727"/><stop offset=".539" stop-color="#181818"/><stop offset=".555" stop-color="#222222"/><stop offset=".565" stop-color="#3f3f3f"/><stop offset=".606" stop-color="#494949"/><stop offset=".629" stop-color="#4d4d4d"/><stop offset=".665" stop-color="#484848"/><stop offset=".688" stop-color="#3d3d3d"/><stop offset=".714" stop-color="#0e0e0e"/><stop offset=".735" stop-color="#000000"/><stop offset=".999" stop-color="#000000"/></linearGradient><linearGradient id="g55" gradientUnits="userSpaceOnUse" x1="765" x2="1378"><stop offset=".001" stop-color="#050505"/><stop offset=".104" stop-color="#252525"/><stop offset=".170" stop-color="#474747"/><stop offset=".250" stop-color="#878787"/><stop offset=".312" stop-color="#c5c5c5"/><stop offset=".342" stop-color="#dedede"/><stop offset=".348" stop-color="#ebebeb"/><stop offset=".414" stop-color="#fefefe"/><stop offset=".485" stop-color="#fdfdfd"/><stop offset=".508" stop-color="#f2f2f2"/><stop offset=".510" stop-color="#ececec"/><stop offset=".511" stop-color="#dadada"/><stop offset=".520" stop-color="#505050"/><stop offset=".521" stop-color="#383838"/><stop offset=".523" stop-color="#2a2a2a"/><stop offset=".526" stop-color="#232323"/><stop offset=".539" stop-color="#191919"/><stop offset=".555" stop-color="#222222"/><stop offset=".565" stop-color="#3f3f3f"/><stop offset=".604" stop-color="#494949"/><stop offset=".629" stop-color="#4d4d4d"/><stop offset=".665" stop-color="#494949"/><stop offset=".688" stop-color="#3d3d3d"/><stop offset=".714" stop-color="#0e0e0e"/><stop offset=".735" stop-color="#000000"/><stop offset=".999" stop-color="#000000"/></linearGradient><linearGradient id="g56" gradientUnits="userSpaceOnUse" x1="765" x2="1378"><stop offset=".001" stop-color="#050505"/><stop offset=".104" stop-color="#252525"/><stop offset=".169" stop-color="#454545"/><stop offset=".250" stop-color="#868686"/><stop offset=".314" stop-color="#c6c6c6"/><stop offset=".342" stop-color="#dedede"/><stop offset=".348" stop-color="#e9e9e9"/><stop offset=".409" stop-color="#fdfdfd"/><stop offset=".485" stop-color="#fdfdfd"/><stop offset=".508" stop-color="#f3f3f3"/><stop offset=".510" stop-color="#efefef"/><stop offset=".511" stop-color="#e3e3e3"/><stop offset=".513" stop-color="#cccccc"/><stop offset=".521" stop-color="#424242"/><stop offset=".523" stop-color="#2f2f2f"/><stop offset=".524" stop-color="#272727"/><stop offset=".539" stop-color="#191919"/><stop offset=".555" stop-color="#222222"/><stop offset=".565" stop-color="#3f3f3f"/><stop offset=".604" stop-color="#494949"/><stop offset=".629" stop-color="#4e4e4e"/><stop offset=".665" stop-color="#494949"/><stop offset=".688" stop-color="#3d3d3d"/><stop offset=".714" stop-color="#0e0e0e"/><stop offset=".735" stop-color="#000000"/><stop offset=".999" stop-color="#000000"/></linearGradient><linearGradient id="g57" gradientUnits="userSpaceOnUse" x1="765" x2="1378"><stop offset=".001" stop-color="#050505"/><stop offset=".104" stop-color="#252525"/><stop offset=".169" stop-color="#454545"/><stop offset=".250" stop-color="#868686"/><stop offset=".316" stop-color="#c7c7c7"/><stop offset=".342" stop-color="#dedede"/><stop offset=".348" stop-color="#e8e8e8"/><stop offset=".397" stop-color="#f9f9f9"/><stop offset=".472" stop-color="#ffffff"/><stop offset=".492" stop-color="#fafafa"/><stop offset=".510" stop-color="#f1f1f1"/><stop offset=".511" stop-color="#e9e9e9"/><stop offset=".513" stop-color="#d6d6d6"/><stop offset=".521" stop-color="#4c4c4c"/><stop offset=".523" stop-color="#353535"/><stop offset=".524" stop-color="#292929"/><stop offset=".531" stop-color="#202020"/><stop offset=".541" stop-color="#191919"/><stop offset=".555" stop-color="#222222"/><stop offset=".565" stop-color="#3f3f3f"/><stop offset=".604" stop-color="#494949"/><stop offset=".627" stop-color="#4e4e4e"/><stop offset=".663" stop-color="#4a4a4a"/><stop offset=".686" stop-color="#3f3f3f"/><stop offset=".712" stop-color="#0f0f0f"/><stop offset=".735" stop-color="#000000"/><stop offset=".999" stop-color="#000000"/></linearGradient><linearGradient id="g58" gradientUnits="userSpaceOnUse" x1="765" x2="1378"><stop offset=".001" stop-color="#050505"/><stop offset=".104" stop-color="#252525"/><stop offset=".170" stop-color="#464646"/><stop offset=".252" stop-color="#878787"/><stop offset=".316" stop-color="#c7c7c7"/><stop offset=".342" stop-color="#dedede"/><stop offset=".347" stop-color="#e6e6e6"/><stop offset=".371" stop-color="#f2f2f2"/><stop offset=".417" stop-color="#fcfcfc"/><stop offset=".484" stop-color="#fefefe"/><stop offset=".510" stop-color="#f2f2f2"/><stop offset=".511" stop-color="#ededed"/><stop offset=".513" stop-color="#dfdfdf"/><stop offset=".516" stop-color="#ababab"/><stop offset=".523" stop-color="#3e3e3e"/><stop offset=".524" stop-color="#2d2d2d"/><stop offset=".526" stop-color="#262626"/><stop offset=".539" stop-color="#191919"/><stop offset=".555" stop-color="#222222"/><stop offset=".565" stop-color="#3f3f3f"/><stop offset=".604" stop-color="#4a4a4a"/><stop offset=".627" stop-color="#4e4e4e"/><stop offset=".663" stop-color="#4a4a4a"/><stop offset=".686" stop-color="#3f3f3f"/><stop offset=".712" stop-color="#0f0f0f"/><stop offset=".735" stop-color="#000000"/><stop offset=".999" stop-color="#000000"/></linearGradient><linearGradient id="g59" gradientUnits="userSpaceOnUse" x1="765" x2="1378"><stop offset=".001" stop-color="#050505"/><stop offset=".104" stop-color="#252525"/><stop offset=".170" stop-color="#464646"/><stop offset=".252" stop-color="#878787"/><stop offset=".317" stop-color="#c8c8c8"/><stop offset=".342" stop-color="#dedede"/><stop offset=".348" stop-color="#e5e5e5"/><stop offset=".383" stop-color="#f5f5f5"/><stop offset=".422" stop-color="#fcfcfc"/><stop offset=".484" stop-color="#fefefe"/><stop offset=".511" stop-color="#efefef"/><stop offset=".513" stop-color="#e6e6e6"/><stop offset=".515" stop-color="#d1d1d1"/><stop offset=".523" stop-color="#484848"/><stop offset=".524" stop-color="#333333"/><stop offset=".526" stop-color="#282828"/><stop offset=".539" stop-color="#191919"/><stop offset=".555" stop-color="#222222"/><stop offset=".565" stop-color="#3f3f3f"/><stop offset=".603" stop-color="#494949"/><stop offset=".627" stop-color="#4f4f4f"/><stop offset=".663" stop-color="#4a4a4a"/><stop offset=".686" stop-color="#3f3f3f"/><stop offset=".712" stop-color="#0f0f0f"/><stop offset=".735" stop-color="#000000"/><stop offset=".999" stop-color="#000000"/></linearGradient><linearGradient id="g60" gradientUnits="userSpaceOnUse" x1="765" x2="1378"><stop offset=".001" stop-color="#050505"/><stop offset=".104" stop-color="#242424"/><stop offset=".170" stop-color="#464646"/><stop offset=".252" stop-color="#878787"/><stop offset=".321" stop-color="#cacaca"/><stop offset=".342" stop-color="#dedede"/><stop offset=".348" stop-color="#e4e4e4"/><stop offset=".379" stop-color="#f3f3f3"/><stop offset=".423" stop-color="#fbfbfb"/><stop offset=".484" stop-color="#fefefe"/><stop offset=".511" stop-color="#f0f0f0"/><stop offset=".513" stop-color="#ebebeb"/><stop offset=".515" stop-color="#dbdbdb"/><stop offset=".520" stop-color="#8b8b8b"/><stop offset=".523" stop-color="#535353"/><stop offset=".524" stop-color="#3b3b3b"/><stop offset=".526" stop-color="#2b2b2b"/><stop offset=".529" stop-color="#232323"/><stop offset=".541" stop-color="#191919"/><stop offset=".555" stop-color="#222222"/><stop offset=".565" stop-color="#3f3f3f"/><stop offset=".603" stop-color="#4a4a4a"/><stop offset=".627" stop-color="#4f4f4f"/><stop offset=".663" stop-color="#4a4a4a"/><stop offset=".686" stop-color="#3f3f3f"/><stop offset=".712" stop-color="#0f0f0f"/><stop offset=".735" stop-color="#000000"/><stop offset=".999" stop-color="#000000"/></linearGradient><linearGradient id="g61" gradientUnits="userSpaceOnUse" x1="765" x2="1378"><stop offset=".001" stop-color="#050505"/><stop offset=".104" stop-color="#242424"/><stop offset=".170" stop-color="#464646"/><stop offset=".252" stop-color="#868686"/><stop offset=".324" stop-color="#cdcdcd"/><stop offset=".347" stop-color="#e2e2e2"/><stop offset=".378" stop-color="#f2f2f2"/><stop offset=".423" stop-color="#fbfbfb"/><stop offset=".484" stop-color="#fefefe"/><stop offset=".511" stop-color="#f1f1f1"/><stop offset=".513" stop-color="#ededed"/><stop offset=".515" stop-color="#e3e3e3"/><stop offset=".516" stop-color="#cdcdcd"/><stop offset=".524" stop-color="#444444"/><stop offset=".526" stop-color="#303030"/><stop offset=".528" stop-color="#272727"/><stop offset=".541" stop-color="#191919"/><stop offset=".555" stop-color="#222222"/><stop offset=".565" stop-color="#3f3f3f"/><stop offset=".603" stop-color="#4a4a4a"/><stop offset=".626" stop-color="#505050"/><stop offset=".663" stop-color="#4b4b4b"/><stop offset=".686" stop-color="#3f3f3f"/><stop offset=".710" stop-color="#101010"/><stop offset=".735" stop-color="#000000"/><stop offset=".999" stop-color="#000000"/></linearGradient><linearGradient id="g62" gradientUnits="userSpaceOnUse" x1="765" x2="1378"><stop offset=".001" stop-color="#050505"/><stop offset=".105" stop-color="#252525"/><stop offset=".170" stop-color="#464646"/><stop offset=".254" stop-color="#888888"/><stop offset=".325" stop-color="#cecece"/><stop offset=".348" stop-color="#e2e2e2"/><stop offset=".376" stop-color="#f2f2f2"/><stop offset=".423" stop-color="#fafafa"/><stop offset=".484" stop-color="#fefefe"/><stop offset=".513" stop-color="#efefef"/><stop offset=".515" stop-color="#e8e8e8"/><stop offset=".516" stop-color="#d6d6d6"/><stop offset=".524" stop-color="#4f4f4f"/><stop offset=".526" stop-color="#383838"/><stop offset=".528" stop-color="#2a2a2a"/><stop offset=".533" stop-color="#212121"/><stop offset=".541" stop-color="#191919"/><stop offset=".555" stop-color="#222222"/><stop offset=".565" stop-color="#3f3f3f"/><stop offset=".603" stop-color="#4a4a4a"/><stop offset=".626" stop-color="#505050"/><stop offset=".663" stop-color="#4b4b4b"/><stop offset=".686" stop-color="#3f3f3f"/><stop offset=".710" stop-color="#101010"/><stop offset=".735" stop-color="#000000"/><stop offset=".999" stop-color="#000000"/></linearGradient><linearGradient id="g63" gradientUnits="userSpaceOnUse" x1="765" x2="1378"><stop offset=".001" stop-color="#050505"/><stop offset=".105" stop-color="#252525"/><stop offset=".170" stop-color="#464646"/><stop offset=".254" stop-color="#878787"/><stop offset=".342" stop-color="#dddddd"/><stop offset=".376" stop-color="#f1f1f1"/><stop offset=".428" stop-color="#fafafa"/><stop offset=".484" stop-color="#fefefe"/><stop offset=".513" stop-color="#efefef"/><stop offset=".515" stop-color="#ececec"/><stop offset=".516" stop-color="#dfdfdf"/><stop offset=".518" stop-color="#c8c8c8"/><stop offset=".526" stop-color="#414141"/><stop offset=".528" stop-color="#2f2f2f"/><stop offset=".529" stop-color="#272727"/><stop offset=".541" stop-color="#191919"/><stop offset=".555" stop-color="#232323"/><stop offset=".565" stop-color="#3f3f3f"/><stop offset=".601" stop-color="#4a4a4a"/><stop offset=".626" stop-color="#505050"/><stop offset=".663" stop-color="#4b4b4b"/><stop offset=".686" stop-color="#3f3f3f"/><stop offset=".710" stop-color="#101010"/><stop offset=".735" stop-color="#000000"/><stop offset=".999" stop-color="#000000"/></linearGradient><linearGradient id="g64" gradientUnits="userSpaceOnUse" x1="765" x2="1378"><stop offset=".001" stop-color="#050505"/><stop offset=".105" stop-color="#252525"/><stop offset=".170" stop-color="#454545"/><stop offset=".254" stop-color="#878787"/><stop offset=".343" stop-color="#dedede"/><stop offset=".374" stop-color="#f0f0f0"/><stop offset=".430" stop-color="#fafafa"/><stop offset=".484" stop-color="#fefefe"/><stop offset=".515" stop-color="#ededed"/><stop offset=".516" stop-color="#e6e6e6"/><stop offset=".518" stop-color="#d2d2d2"/><stop offset=".526" stop-color="#4b4b4b"/><stop offset=".528" stop-color="#353535"/><stop offset=".529" stop-color="#292929"/><stop offset=".539" stop-color="#1b1b1b"/><stop offset=".551" stop-color="#1f1f1f"/><stop offset=".557" stop-color="#262626"/><stop offset=".564" stop-color="#3c3c3c"/><stop offset=".570" stop-color="#404040"/><stop offset=".624" stop-color="#515151"/><stop offset=".663" stop-color="#4b4b4b"/><stop offset=".686" stop-color="#3f3f3f"/><stop offset=".710" stop-color="#101010"/><stop offset=".735" stop-color="#000000"/><stop offset=".999" stop-color="#000000"/></linearGradient><linearGradient id="g65" gradientUnits="userSpaceOnUse" x1="765" x2="1378"><stop offset=".001" stop-color="#050505"/><stop offset=".105" stop-color="#252525"/><stop offset=".170" stop-color="#454545"/><stop offset=".254" stop-color="#868686"/><stop offset=".345" stop-color="#dfdfdf"/><stop offset=".374" stop-color="#f0f0f0"/><stop offset=".436" stop-color="#fafafa"/><stop offset=".484" stop-color="#fefefe"/><stop offset=".515" stop-color="#eeeeee"/><stop offset=".516" stop-color="#e9e9e9"/><stop offset=".518" stop-color="#dbdbdb"/><stop offset=".521" stop-color="#a8a8a8"/><stop offset=".528" stop-color="#3e3e3e"/><stop offset=".529" stop-color="#2d2d2d"/><stop offset=".531" stop-color="#262626"/><stop offset=".541" stop-color="#1a1a1a"/><stop offset=".555" stop-color="#232323"/><stop offset=".565" stop-color="#3f3f3f"/><stop offset=".601" stop-color="#4a4a4a"/><stop offset=".626" stop-color="#515151"/><stop offset=".663" stop-color="#4c4c4c"/><stop offset=".686" stop-color="#3f3f3f"/><stop offset=".709" stop-color="#121212"/><stop offset=".733" stop-color="#000000"/><stop offset=".999" stop-color="#000000"/></linearGradient><linearGradient id="g66" gradientUnits="userSpaceOnUse" x1="765" x2="1378"><stop offset=".001" stop-color="#050505"/><stop offset=".105" stop-color="#242424"/><stop offset=".170" stop-color="#454545"/><stop offset=".255" stop-color="#888888"/><stop offset=".348" stop-color="#e1e1e1"/><stop offset=".374" stop-color="#f0f0f0"/><stop offset=".445" stop-color="#fbfbfb"/><stop offset=".484" stop-color="#fefefe"/><stop offset=".516" stop-color="#ececec"/><stop offset=".518" stop-color="#e2e2e2"/><stop offset=".520" stop-color="#cecece"/><stop offset=".528" stop-color="#474747"/><stop offset=".529" stop-color="#333333"/><stop offset=".531" stop-color="#282828"/><stop offset=".541" stop-color="#1a1a1a"/><stop offset=".555" stop-color="#232323"/><stop offset=".565" stop-color="#3f3f3f"/><stop offset=".601" stop-color="#4a4a4a"/><stop offset=".626" stop-color="#515151"/><stop offset=".663" stop-color="#4c4c4c"/><stop offset=".686" stop-color="#3f3f3f"/><stop offset=".709" stop-color="#111111"/><stop offset=".733" stop-color="#000000"/><stop offset=".999" stop-color="#000000"/></linearGradient><linearGradient id="g67" gradientUnits="userSpaceOnUse" x1="765" x2="1378"><stop offset=".001" stop-color="#050505"/><stop offset=".107" stop-color="#252525"/><stop offset=".170" stop-color="#454545"/><stop offset=".255" stop-color="#878787"/><stop offset=".347" stop-color="#e0e0e0"/><stop offset=".374" stop-color="#efefef"/><stop offset=".458" stop-color="#fcfcfc"/><stop offset=".484" stop-color="#fdfdfd"/><stop offset=".516" stop-color="#ededed"/><stop offset=".518" stop-color="#e7e7e7"/><stop offset=".520" stop-color="#d7d7d7"/><stop offset=".526" stop-color="#6d6d6d"/><stop offset=".529" stop-color="#3a3a3a"/><stop offset=".531" stop-color="#2c2c2c"/><stop offset=".534" stop-color="#232323"/><stop offset=".542" stop-color="#1a1a1a"/><stop offset=".555" stop-color="#232323"/><stop offset=".565" stop-color="#3f3f3f"/><stop offset=".600" stop-color="#4a4a4a"/><stop offset=".626" stop-color="#525252"/><stop offset=".663" stop-color="#4c4c4c"/><stop offset=".686" stop-color="#3f3f3f"/><stop offset=".709" stop-color="#111111"/><stop offset=".733" stop-color="#000000"/><stop offset=".999" stop-color="#000000"/></linearGradient><linearGradient id="g68" gradientUnits="userSpaceOnUse" x1="765" x2="1378"><stop offset=".001" stop-color="#050505"/><stop offset=".107" stop-color="#252525"/><stop offset=".170" stop-color="#454545"/><stop offset=".255" stop-color="#878787"/><stop offset=".347" stop-color="#e0e0e0"/><stop offset=".374" stop-color="#efefef"/><stop offset=".479" stop-color="#ffffff"/><stop offset=".516" stop-color="#ededed"/><stop offset=".518" stop-color="#eaeaea"/><stop offset=".520" stop-color="#dfdfdf"/><stop offset=".521" stop-color="#c9c9c9"/><stop offset=".529" stop-color="#444444"/><stop offset=".531" stop-color="#303030"/><stop offset=".533" stop-color="#272727"/><stop offset=".542" stop-color="#1a1a1a"/><stop offset=".555" stop-color="#232323"/><stop offset=".565" stop-color="#3f3f3f"/><stop offset=".600" stop-color="#4a4a4a"/><stop offset=".626" stop-color="#525252"/><stop offset=".663" stop-color="#4c4c4c"/><stop offset=".686" stop-color="#3f3f3f"/><stop offset=".707" stop-color="#131313"/><stop offset=".733" stop-color="#000000"/><stop offset=".999" stop-color="#000000"/></linearGradient><linearGradient id="g69" gradientUnits="userSpaceOnUse" x1="765" x2="1378"><stop offset=".001" stop-color="#050505"/><stop offset=".108" stop-color="#252525"/><stop offset=".172" stop-color="#464646"/><stop offset=".257" stop-color="#888888"/><stop offset=".347" stop-color="#dfdfdf"/><stop offset=".373" stop-color="#eeeeee"/><stop offset=".480" stop-color="#ffffff"/><stop offset=".518" stop-color="#ebebeb"/><stop offset=".520" stop-color="#e5e5e5"/><stop offset=".521" stop-color="#d3d3d3"/><stop offset=".529" stop-color="#4e4e4e"/><stop offset=".531" stop-color="#383838"/><stop offset=".533" stop-color="#2a2a2a"/><stop offset=".538" stop-color="#212121"/><stop offset=".544" stop-color="#1b1b1b"/><stop offset=".555" stop-color="#232323"/><stop offset=".565" stop-color="#3f3f3f"/><stop offset=".601" stop-color="#4b4b4b"/><stop offset=".626" stop-color="#525252"/><stop offset=".663" stop-color="#4d4d4d"/><stop offset=".686" stop-color="#3f3f3f"/><stop offset=".707" stop-color="#131313"/><stop offset=".733" stop-color="#000000"/><stop offset=".999" stop-color="#000000"/></linearGradient><linearGradient id="g70" gradientUnits="userSpaceOnUse" x1="765" x2="1378"><stop offset=".001" stop-color="#050505"/><stop offset=".108" stop-color="#252525"/><stop offset=".172" stop-color="#464646"/><stop offset=".257" stop-color="#888888"/><stop offset=".345" stop-color="#dedede"/><stop offset=".373" stop-color="#eeeeee"/><stop offset=".482" stop-color="#fefefe"/><stop offset=".518" stop-color="#ececec"/><stop offset=".520" stop-color="#e8e8e8"/><stop offset=".521" stop-color="#dbdbdb"/><stop offset=".524" stop-color="#aaaaaa"/><stop offset=".531" stop-color="#404040"/><stop offset=".533" stop-color="#2f2f2f"/><stop offset=".534" stop-color="#272727"/><stop offset=".542" stop-color="#1b1b1b"/><stop offset=".555" stop-color="#232323"/><stop offset=".565" stop-color="#3f3f3f"/><stop offset=".606" stop-color="#4d4d4d"/><stop offset=".626" stop-color="#535353"/><stop offset=".663" stop-color="#4d4d4d"/><stop offset=".686" stop-color="#3f3f3f"/><stop offset=".707" stop-color="#131313"/><stop offset=".733" stop-color="#000000"/><stop offset=".999" stop-color="#000000"/></linearGradient><linearGradient id="g71" gradientUnits="userSpaceOnUse" x1="765" x2="1378"><stop offset=".001" stop-color="#050505"/><stop offset=".108" stop-color="#252525"/><stop offset=".172" stop-color="#464646"/><stop offset=".257" stop-color="#878787"/><stop offset=".345" stop-color="#dedede"/><stop offset=".373" stop-color="#ededed"/><stop offset=".480" stop-color="#fefefe"/><stop offset=".520" stop-color="#eaeaea"/><stop offset=".521" stop-color="#e2e2e2"/><stop offset=".523" stop-color="#cfcfcf"/><stop offset=".531" stop-color="#4a4a4a"/><stop offset=".533" stop-color="#353535"/><stop offset=".534" stop-color="#292929"/><stop offset=".542" stop-color="#1c1c1c"/><stop offset=".554" stop-color="#222222"/><stop offset=".559" stop-color="#2c2c2c"/><stop offset=".565" stop-color="#3f3f3f"/><stop offset=".624" stop-color="#535353"/><stop offset=".663" stop-color="#4d4d4d"/><stop offset=".686" stop-color="#3f3f3f"/><stop offset=".707" stop-color="#131313"/><stop offset=".733" stop-color="#000000"/><stop offset=".999" stop-color="#000000"/></linearGradient><linearGradient id="g72" gradientUnits="userSpaceOnUse" x1="765" x2="1378"><stop offset=".001" stop-color="#050505"/><stop offset=".108" stop-color="#252525"/><stop offset=".172" stop-color="#454545"/><stop offset=".257" stop-color="#878787"/><stop offset=".345" stop-color="#dedede"/><stop offset=".373" stop-color="#ededed"/><stop offset=".480" stop-color="#fefefe"/><stop offset=".520" stop-color="#ebebeb"/><stop offset=".521" stop-color="#e6e6e6"/><stop offset=".523" stop-color="#d7d7d7"/><stop offset=".526" stop-color="#a5a5a5"/><stop offset=".531" stop-color="#555555"/><stop offset=".533" stop-color="#3d3d3d"/><stop offset=".534" stop-color="#2d2d2d"/><stop offset=".538" stop-color="#232323"/><stop offset=".544" stop-color="#1b1b1b"/><stop offset=".554" stop-color="#232323"/><stop offset=".560" stop-color="#323232"/><stop offset=".565" stop-color="#3f3f3f"/><stop offset=".624" stop-color="#535353"/><stop offset=".663" stop-color="#4d4d4d"/><stop offset=".686" stop-color="#3f3f3f"/><stop offset=".707" stop-color="#131313"/><stop offset=".733" stop-color="#000000"/><stop offset=".999" stop-color="#000000"/></linearGradient><linearGradient id="g73" gradientUnits="userSpaceOnUse" x1="765" x2="1378"><stop offset=".001" stop-color="#050505"/><stop offset=".108" stop-color="#252525"/><stop offset=".172" stop-color="#454545"/><stop offset=".259" stop-color="#888888"/><stop offset=".337" stop-color="#d7d7d7"/><stop offset=".366" stop-color="#ebebeb"/><stop offset=".480" stop-color="#fefefe"/><stop offset=".521" stop-color="#e8e8e8"/><stop offset=".523" stop-color="#dfdfdf"/><stop offset=".524" stop-color="#cacaca"/><stop offset=".533" stop-color="#474747"/><stop offset=".534" stop-color="#323232"/><stop offset=".536" stop-color="#282828"/><stop offset=".544" stop-color="#1b1b1b"/><stop offset=".554" stop-color="#242424"/><stop offset=".562" stop-color="#373737"/><stop offset=".565" stop-color="#3f3f3f"/><stop offset=".624" stop-color="#535353"/><stop offset=".663" stop-color="#4e4e4e"/><stop offset=".686" stop-color="#3f3f3f"/><stop offset=".707" stop-color="#131313"/><stop offset=".733" stop-color="#000000"/><stop offset=".999" stop-color="#000000"/></linearGradient><linearGradient id="g74" gradientUnits="userSpaceOnUse" x1="765" x2="1378"><stop offset=".001" stop-color="#050505"/><stop offset=".108" stop-color="#252525"/><stop offset=".172" stop-color="#454545"/><stop offset=".259" stop-color="#888888"/><stop offset=".335" stop-color="#d5d5d5"/><stop offset=".348" stop-color="#e0e0e0"/><stop offset=".373" stop-color="#ececec"/><stop offset=".480" stop-color="#fefefe"/><stop offset=".521" stop-color="#e9e9e9"/><stop offset=".523" stop-color="#e3e3e3"/><stop offset=".524" stop-color="#d3d3d3"/><stop offset=".533" stop-color="#515151"/><stop offset=".534" stop-color="#3a3a3a"/><stop offset=".536" stop-color="#2c2c2c"/><stop offset=".539" stop-color="#232323"/><stop offset=".546" stop-color="#1c1c1c"/><stop offset=".554" stop-color="#252525"/><stop offset=".565" stop-color="#3f3f3f"/><stop offset=".624" stop-color="#545454"/><stop offset=".663" stop-color="#4e4e4e"/><stop offset=".686" stop-color="#3f3f3f"/><stop offset=".707" stop-color="#131313"/><stop offset=".733" stop-color="#000000"/><stop offset=".999" stop-color="#000000"/></linearGradient><linearGradient id="g75" gradientUnits="userSpaceOnUse" x1="765" x2="1378"><stop offset=".001" stop-color="#050505"/><stop offset=".108" stop-color="#252525"/><stop offset=".172" stop-color="#454545"/><stop offset=".259" stop-color="#888888"/><stop offset=".332" stop-color="#d1d1d1"/><stop offset=".347" stop-color="#e0e0e0"/><stop offset=".373" stop-color="#ebebeb"/><stop offset=".480" stop-color="#fdfdfd"/><stop offset=".521" stop-color="#eaeaea"/><stop offset=".523" stop-color="#e6e6e6"/><stop offset=".524" stop-color="#dbdbdb"/><stop offset=".526" stop-color="#c5c5c5"/><stop offset=".534" stop-color="#434343"/><stop offset=".536" stop-color="#303030"/><stop offset=".538" stop-color="#282828"/><stop offset=".544" stop-color="#1c1c1c"/><stop offset=".551" stop-color="#202020"/><stop offset=".565" stop-color="#3f3f3f"/><stop offset=".624" stop-color="#545454"/><stop offset=".662" stop-color="#4f4f4f"/><stop offset=".686" stop-color="#3f3f3f"/><stop offset=".707" stop-color="#131313"/><stop offset=".733" stop-color="#000000"/><stop offset=".999" stop-color="#000000"/></linearGradient><linearGradient id="g76" gradientUnits="userSpaceOnUse" x1="765" x2="1378"><stop offset=".001" stop-color="#050505"/><stop offset=".110" stop-color="#252525"/><stop offset=".174" stop-color="#464646"/><stop offset=".259" stop-color="#878787"/><stop offset=".330" stop-color="#d0d0d0"/><stop offset=".347" stop-color="#e0e0e0"/><stop offset=".374" stop-color="#ebebeb"/><stop offset=".479" stop-color="#fdfdfd"/><stop offset=".523" stop-color="#e8e8e8"/><stop offset=".524" stop-color="#e1e1e1"/><stop offset=".526" stop-color="#cecece"/><stop offset=".534" stop-color="#4c4c4c"/><stop offset=".536" stop-color="#373737"/><stop offset=".538" stop-color="#2a2a2a"/><stop offset=".544" stop-color="#1d1d1d"/><stop offset=".549" stop-color="#1f1f1f"/><stop offset=".565" stop-color="#3f3f3f"/><stop offset=".624" stop-color="#545454"/><stop offset=".662" stop-color="#4f4f4f"/><stop offset=".686" stop-color="#3f3f3f"/><stop offset=".707" stop-color="#131313"/><stop offset=".733" stop-color="#000000"/><stop offset=".999" stop-color="#000000"/></linearGradient><linearGradient id="g77" gradientUnits="userSpaceOnUse" x1="765" x2="1378"><stop offset=".001" stop-color="#050505"/><stop offset=".110" stop-color="#252525"/><stop offset=".174" stop-color="#464646"/><stop offset=".260" stop-color="#888888"/><stop offset=".329" stop-color="#cdcdcd"/><stop offset=".348" stop-color="#e1e1e1"/><stop offset=".376" stop-color="#ebebeb"/><stop offset=".477" stop-color="#fdfdfd"/><stop offset=".523" stop-color="#e8e8e8"/><stop offset=".524" stop-color="#e4e4e4"/><stop offset=".526" stop-color="#d6d6d6"/><stop offset=".529" stop-color="#a5a5a5"/><stop offset=".536" stop-color="#3f3f3f"/><stop offset=".538" stop-color="#2e2e2e"/><stop offset=".541" stop-color="#242424"/><stop offset=".546" stop-color="#1c1c1c"/><stop offset=".555" stop-color="#2d2d2d"/><stop offset=".565" stop-color="#3f3f3f"/><stop offset=".624" stop-color="#545454"/><stop offset=".662" stop-color="#4f4f4f"/><stop offset=".684" stop-color="#414141"/><stop offset=".707" stop-color="#131313"/><stop offset=".733" stop-color="#000000"/><stop offset=".999" stop-color="#000000"/></linearGradient><linearGradient id="g78" gradientUnits="userSpaceOnUse" x1="765" x2="1378"><stop offset=".001" stop-color="#050505"/><stop offset=".110" stop-color="#252525"/><stop offset=".174" stop-color="#464646"/><stop offset=".260" stop-color="#888888"/><stop offset=".329" stop-color="#cdcdcd"/><stop offset=".348" stop-color="#e2e2e2"/><stop offset=".381" stop-color="#ececec"/><stop offset=".477" stop-color="#fcfcfc"/><stop offset=".523" stop-color="#e8e8e8"/><stop offset=".524" stop-color="#e6e6e6"/><stop offset=".526" stop-color="#dddddd"/><stop offset=".528" stop-color="#c9c9c9"/><stop offset=".536" stop-color="#484848"/><stop offset=".538" stop-color="#343434"/><stop offset=".539" stop-color="#292929"/><stop offset=".546" stop-color="#1d1d1d"/><stop offset=".560" stop-color="#373737"/><stop offset=".567" stop-color="#404040"/><stop offset=".624" stop-color="#555555"/><stop offset=".662" stop-color="#505050"/><stop offset=".684" stop-color="#414141"/><stop offset=".707" stop-color="#131313"/><stop offset=".733" stop-color="#000000"/><stop offset=".999" stop-color="#000000"/></linearGradient><linearGradient id="g79" gradientUnits="userSpaceOnUse" x1="765" x2="1378"><stop offset=".001" stop-color="#050505"/><stop offset=".110" stop-color="#252525"/><stop offset=".174" stop-color="#464646"/><stop offset=".260" stop-color="#888888"/><stop offset=".329" stop-color="#cdcdcd"/><stop offset=".348" stop-color="#e3e3e3"/><stop offset=".391" stop-color="#ededed"/><stop offset=".474" stop-color="#fcfcfc"/><stop offset=".524" stop-color="#e7e7e7"/><stop offset=".526" stop-color="#e1e1e1"/><stop offset=".528" stop-color="#d1d1d1"/><stop offset=".536" stop-color="#525252"/><stop offset=".538" stop-color="#3b3b3b"/><stop offset=".539" stop-color="#2d2d2d"/><stop offset=".542" stop-color="#232323"/><stop offset=".546" stop-color="#1e1e1e"/><stop offset=".554" stop-color="#2b2b2b"/><stop offset=".565" stop-color="#3f3f3f"/><stop offset=".624" stop-color="#555555"/><stop offset=".662" stop-color="#505050"/><stop offset=".684" stop-color="#414141"/><stop offset=".707" stop-color="#131313"/><stop offset=".733" stop-color="#000000"/><stop offset=".999" stop-color="#000000"/></linearGradient><linearGradient id="g80" gradientUnits="userSpaceOnUse" x1="765" x2="1378"><stop offset=".001" stop-color="#050505"/><stop offset=".110" stop-color="#252525"/><stop offset=".174" stop-color="#454545"/><stop offset=".260" stop-color="#878787"/><stop offset=".327" stop-color="#cbcbcb"/><stop offset=".350" stop-color="#e4e4e4"/><stop offset=".472" stop-color="#fcfcfc"/><stop offset=".524" stop-color="#e7e7e7"/><stop offset=".526" stop-color="#e4e4e4"/><stop offset=".528" stop-color="#d9d9d9"/><stop offset=".529" stop-color="#c3c3c3"/><stop offset=".538" stop-color="#444444"/><stop offset=".539" stop-color="#313131"/><stop offset=".541" stop-color="#282828"/><stop offset=".546" stop-color="#1e1e1e"/><stop offset=".551" stop-color="#242424"/><stop offset=".565" stop-color="#3f3f3f"/><stop offset=".624" stop-color="#555555"/><stop offset=".662" stop-color="#505050"/><stop offset=".684" stop-color="#414141"/><stop offset=".707" stop-color="#131313"/><stop offset=".733" stop-color="#000000"/><stop offset=".999" stop-color="#000000"/></linearGradient><linearGradient id="g81" gradientUnits="userSpaceOnUse" x1="765" x2="1378"><stop offset=".001" stop-color="#050505"/><stop offset=".110" stop-color="#252525"/><stop offset=".175" stop-color="#474747"/><stop offset=".262" stop-color="#888888"/><stop offset=".327" stop-color="#cacaca"/><stop offset=".350" stop-color="#e4e4e4"/><stop offset=".456" stop-color="#f9f9f9"/><stop offset=".476" stop-color="#fafafa"/><stop offset=".526" stop-color="#e5e5e5"/><stop offset=".528" stop-color="#dedede"/><stop offset=".529" stop-color="#cccccc"/><stop offset=".538" stop-color="#4d4d4d"/><stop offset=".539" stop-color="#383838"/><stop offset=".541" stop-color="#2b2b2b"/><stop offset=".546" stop-color="#1f1f1f"/><stop offset=".549" stop-color="#202020"/><stop offset=".565" stop-color="#404040"/><stop offset=".624" stop-color="#555555"/><stop offset=".662" stop-color="#505050"/><stop offset=".684" stop-color="#414141"/><stop offset=".707" stop-color="#131313"/><stop offset=".733" stop-color="#000000"/><stop offset=".999" stop-color="#000000"/></linearGradient><linearGradient id="g82" gradientUnits="userSpaceOnUse" x1="765" x2="1378"><stop offset=".001" stop-color="#050505"/><stop offset=".110" stop-color="#252525"/><stop offset=".175" stop-color="#464646"/><stop offset=".260" stop-color="#878787"/><stop offset=".327" stop-color="#cacaca"/><stop offset=".350" stop-color="#e4e4e4"/><stop offset=".449" stop-color="#f7f7f7"/><stop offset=".472" stop-color="#fafafa"/><stop offset=".526" stop-color="#e6e6e6"/><stop offset=".528" stop-color="#e1e1e1"/><stop offset=".529" stop-color="#d4d4d4"/><stop offset=".533" stop-color="#a4a4a4"/><stop offset=".539" stop-color="#404040"/><stop offset=".541" stop-color="#2f2f2f"/><stop offset=".544" stop-color="#232323"/><stop offset=".547" stop-color="#1e1e1e"/><stop offset=".565" stop-color="#404040"/><stop offset=".624" stop-color="#565656"/><stop offset=".662" stop-color="#515151"/><stop offset=".684" stop-color="#414141"/><stop offset=".707" stop-color="#131313"/><stop offset=".733" stop-color="#000000"/><stop offset=".999" stop-color="#000000"/></linearGradient><linearGradient id="g83" gradientUnits="userSpaceOnUse" x1="765" x2="1378"><stop offset=".001" stop-color="#050505"/><stop offset=".110" stop-color="#252525"/><stop offset=".175" stop-color="#464646"/><stop offset=".259" stop-color="#858585"/><stop offset=".325" stop-color="#c8c8c8"/><stop offset=".348" stop-color="#e3e3e3"/><stop offset=".459" stop-color="#f9f9f9"/><stop offset=".480" stop-color="#f7f7f7"/><stop offset=".528" stop-color="#e3e3e3"/><stop offset=".529" stop-color="#dadada"/><stop offset=".531" stop-color="#c7c7c7"/><stop offset=".539" stop-color="#494949"/><stop offset=".541" stop-color="#353535"/><stop offset=".542" stop-color="#2a2a2a"/><stop offset=".547" stop-color="#1f1f1f"/><stop offset=".557" stop-color="#303030"/><stop offset=".565" stop-color="#404040"/><stop offset=".624" stop-color="#565656"/><stop offset=".662" stop-color="#515151"/><stop offset=".684" stop-color="#414141"/><stop offset=".707" stop-color="#131313"/><stop offset=".733" stop-color="#000000"/><stop offset=".999" stop-color="#000000"/></linearGradient><linearGradient id="g84" gradientUnits="userSpaceOnUse" x1="765" x2="1378"><stop offset=".001" stop-color="#050505"/><stop offset=".112" stop-color="#252525"/><stop offset=".175" stop-color="#464646"/><stop offset=".255" stop-color="#818181"/><stop offset=".325" stop-color="#c7c7c7"/><stop offset=".347" stop-color="#e1e1e1"/><stop offset=".407" stop-color="#ededed"/><stop offset=".471" stop-color="#f9f9f9"/><stop offset=".528" stop-color="#e4e4e4"/><stop offset=".529" stop-color="#dfdfdf"/><stop offset=".531" stop-color="#cfcfcf"/><stop offset=".539" stop-color="#525252"/><stop offset=".541" stop-color="#3c3c3c"/><stop offset=".542" stop-color="#2d2d2d"/><stop offset=".546" stop-color="#222222"/><stop offset=".549" stop-color="#202020"/><stop offset=".565" stop-color="#404040"/><stop offset=".624" stop-color="#565656"/><stop offset=".662" stop-color="#515151"/><stop offset=".684" stop-color="#414141"/><stop offset=".707" stop-color="#131313"/><stop offset=".733" stop-color="#000000"/><stop offset=".999" stop-color="#000000"/></linearGradient><linearGradient id="g85" gradientUnits="userSpaceOnUse" x1="765" x2="1378"><stop offset=".001" stop-color="#050505"/><stop offset=".112" stop-color="#252525"/><stop offset=".175" stop-color="#464646"/><stop offset=".254" stop-color="#7f7f7f"/><stop offset=".325" stop-color="#c7c7c7"/><stop offset=".347" stop-color="#e1e1e1"/><stop offset=".400" stop-color="#ebebeb"/><stop offset=".471" stop-color="#f8f8f8"/><stop offset=".528" stop-color="#e4e4e4"/><stop offset=".529" stop-color="#e1e1e1"/><stop offset=".531" stop-color="#d6d6d6"/><stop offset=".533" stop-color="#c1c1c1"/><stop offset=".541" stop-color="#444444"/><stop offset=".542" stop-color="#323232"/><stop offset=".544" stop-color="#292929"/><stop offset=".547" stop-color="#212121"/><stop offset=".552" stop-color="#262626"/><stop offset=".565" stop-color="#404040"/><stop offset=".624" stop-color="#565656"/><stop offset=".662" stop-color="#515151"/><stop offset=".684" stop-color="#414141"/><stop offset=".707" stop-color="#131313"/><stop offset=".733" stop-color="#000000"/><stop offset=".999" stop-color="#000000"/></linearGradient><linearGradient id="g86" gradientUnits="userSpaceOnUse" x1="765" x2="1378"><stop offset=".001" stop-color="#050505"/><stop offset=".112" stop-color="#252525"/><stop offset=".175" stop-color="#464646"/><stop offset=".252" stop-color="#7d7d7d"/><stop offset=".325" stop-color="#c7c7c7"/><stop offset=".345" stop-color="#dfdfdf"/><stop offset=".384" stop-color="#e9e9e9"/><stop offset=".471" stop-color="#f7f7f7"/><stop offset=".529" stop-color="#e2e2e2"/><stop offset=".531" stop-color="#dcdcdc"/><stop offset=".533" stop-color="#cacaca"/><stop offset=".541" stop-color="#4e4e4e"/><stop offset=".542" stop-color="#393939"/><stop offset=".544" stop-color="#2c2c2c"/><stop offset=".547" stop-color="#232323"/><stop offset=".554" stop-color="#2a2a2a"/><stop offset=".565" stop-color="#404040"/><stop offset=".624" stop-color="#575757"/><stop offset=".662" stop-color="#515151"/><stop offset=".684" stop-color="#414141"/><stop offset=".707" stop-color="#131313"/><stop offset=".733" stop-color="#000000"/><stop offset=".999" stop-color="#000000"/></linearGradient><linearGradient id="g87" gradientUnits="userSpaceOnUse" x1="765" x2="1378"><stop offset=".001" stop-color="#050505"/><stop offset=".112" stop-color="#252525"/><stop offset=".175" stop-color="#464646"/><stop offset=".250" stop-color="#7b7b7b"/><stop offset=".325" stop-color="#c6c6c6"/><stop offset=".345" stop-color="#dfdfdf"/><stop offset=".383" stop-color="#e8e8e8"/><stop offset=".472" stop-color="#f6f6f6"/><stop offset=".529" stop-color="#e2e2e2"/><stop offset=".531" stop-color="#dfdfdf"/><stop offset=".533" stop-color="#d2d2d2"/><stop offset=".536" stop-color="#a3a3a3"/><stop offset=".542" stop-color="#404040"/><stop offset=".544" stop-color="#303030"/><stop offset=".546" stop-color="#282828"/><stop offset=".549" stop-color="#262626"/><stop offset=".560" stop-color="#373737"/><stop offset=".567" stop-color="#414141"/><stop offset=".624" stop-color="#575757"/><stop offset=".662" stop-color="#525252"/><stop offset=".684" stop-color="#414141"/><stop offset=".707" stop-color="#131313"/><stop offset=".733" stop-color="#000000"/><stop offset=".999" stop-color="#000000"/></linearGradient><linearGradient id="g88" gradientUnits="userSpaceOnUse" x1="765" x2="1378"><stop offset=".001" stop-color="#050505"/><stop offset=".112" stop-color="#252525"/><stop offset=".177" stop-color="#474747"/><stop offset=".249" stop-color="#787878"/><stop offset=".325" stop-color="#c6c6c6"/><stop offset=".343" stop-color="#dedede"/><stop offset=".378" stop-color="#e7e7e7"/><stop offset=".472" stop-color="#f5f5f5"/><stop offset=".531" stop-color="#e0e0e0"/><stop offset=".533" stop-color="#d8d8d8"/><stop offset=".534" stop-color="#c5c5c5"/><stop offset=".542" stop-color="#494949"/><stop offset=".544" stop-color="#363636"/><stop offset=".546" stop-color="#2b2b2b"/><stop offset=".549" stop-color="#2a2a2a"/><stop offset=".567" stop-color="#414141"/><stop offset=".624" stop-color="#575757"/><stop offset=".662" stop-color="#525252"/><stop offset=".684" stop-color="#414141"/><stop offset=".707" stop-color="#131313"/><stop offset=".733" stop-color="#000000"/><stop offset=".999" stop-color="#000000"/></linearGradient><linearGradient id="g89" gradientUnits="userSpaceOnUse" x1="765" x2="1378"><stop offset=".001" stop-color="#050505"/><stop offset=".112" stop-color="#252525"/><stop offset=".177" stop-color="#464646"/><stop offset=".247" stop-color="#767676"/><stop offset=".325" stop-color="#c6c6c6"/><stop offset=".343" stop-color="#dedede"/><stop offset=".379" stop-color="#e7e7e7"/><stop offset=".472" stop-color="#f4f4f4"/><stop offset=".531" stop-color="#e1e1e1"/><stop offset=".533" stop-color="#dcdcdc"/><stop offset=".534" stop-color="#cdcdcd"/><stop offset=".542" stop-color="#535353"/><stop offset=".544" stop-color="#3d3d3d"/><stop offset=".546" stop-color="#303030"/><stop offset=".547" stop-color="#2c2c2c"/><stop offset=".569" stop-color="#414141"/><stop offset=".624" stop-color="#585858"/><stop offset=".662" stop-color="#525252"/><stop offset=".684" stop-color="#414141"/><stop offset=".707" stop-color="#131313"/><stop offset=".733" stop-color="#000000"/><stop offset=".999" stop-color="#000000"/></linearGradient><linearGradient id="g90" gradientUnits="userSpaceOnUse" x1="765" x2="1378"><stop offset=".001" stop-color="#050505"/><stop offset=".112" stop-color="#252525"/><stop offset=".182" stop-color="#494949"/><stop offset=".246" stop-color="#747474"/><stop offset=".325" stop-color="#c5c5c5"/><stop offset=".343" stop-color="#dddddd"/><stop offset=".383" stop-color="#e7e7e7"/><stop offset=".472" stop-color="#f4f4f4"/><stop offset=".531" stop-color="#e1e1e1"/><stop offset=".533" stop-color="#dedede"/><stop offset=".534" stop-color="#d4d4d4"/><stop offset=".536" stop-color="#c0c0c0"/><stop offset=".544" stop-color="#454545"/><stop offset=".546" stop-color="#343434"/><stop offset=".547" stop-color="#2f2f2f"/><stop offset=".570" stop-color="#424242"/><stop offset=".624" stop-color="#585858"/><stop offset=".662" stop-color="#525252"/><stop offset=".684" stop-color="#414141"/><stop offset=".707" stop-color="#131313"/><stop offset=".733" stop-color="#000000"/><stop offset=".999" stop-color="#000000"/></linearGradient><linearGradient id="g91" gradientUnits="userSpaceOnUse" x1="765" x2="1378"><stop offset=".001" stop-color="#050505"/><stop offset=".112" stop-color="#242424"/><stop offset=".187" stop-color="#4b4b4b"/><stop offset=".244" stop-color="#727272"/><stop offset=".325" stop-color="#c5c5c5"/><stop offset=".343" stop-color="#dddddd"/><stop offset=".386" stop-color="#e7e7e7"/><stop offset=".472" stop-color="#f3f3f3"/><stop offset=".533" stop-color="#e0e0e0"/><stop offset=".534" stop-color="#d9d9d9"/><stop offset=".536" stop-color="#c8c8c8"/><stop offset=".544" stop-color="#4e4e4e"/><stop offset=".546" stop-color="#3b3b3b"/><stop offset=".547" stop-color="#313131"/><stop offset=".554" stop-color="#353535"/><stop offset=".570" stop-color="#424242"/><stop offset=".624" stop-color="#585858"/><stop offset=".662" stop-color="#535353"/><stop offset=".683" stop-color="#434343"/><stop offset=".696" stop-color="#2a2a2a"/><stop offset=".707" stop-color="#131313"/><stop offset=".733" stop-color="#000000"/><stop offset=".999" stop-color="#000000"/></linearGradient><linearGradient id="g92" gradientUnits="userSpaceOnUse" x1="765" x2="1378"><stop offset=".001" stop-color="#050505"/><stop offset=".112" stop-color="#242424"/><stop offset=".187" stop-color="#4a4a4a"/><stop offset=".242" stop-color="#707070"/><stop offset=".325" stop-color="#c4c4c4"/><stop offset=".343" stop-color="#dddddd"/><stop offset=".387" stop-color="#e6e6e6"/><stop offset=".472" stop-color="#f2f2f2"/><stop offset=".529" stop-color="#e1e1e1"/><stop offset=".533" stop-color="#e0e0e0"/><stop offset=".534" stop-color="#dcdcdc"/><stop offset=".536" stop-color="#d0d0d0"/><stop offset=".539" stop-color="#a2a2a2"/><stop offset=".546" stop-color="#424242"/><stop offset=".547" stop-color="#343434"/><stop offset=".549" stop-color="#313131"/><stop offset=".570" stop-color="#424242"/><stop offset=".624" stop-color="#585858"/><stop offset=".662" stop-color="#535353"/><stop offset=".683" stop-color="#434343"/><stop offset=".697" stop-color="#262626"/><stop offset=".707" stop-color="#131313"/><stop offset=".733" stop-color="#000000"/><stop offset=".999" stop-color="#000000"/></linearGradient><linearGradient id="g93" gradientUnits="userSpaceOnUse" x1="765" x2="1378"><stop offset=".001" stop-color="#050505"/><stop offset=".112" stop-color="#242424"/><stop offset=".187" stop-color="#494949"/><stop offset=".241" stop-color="#6d6d6d"/><stop offset=".317" stop-color="#bababa"/><stop offset=".343" stop-color="#dddddd"/><stop offset=".394" stop-color="#e7e7e7"/><stop offset=".474" stop-color="#f1f1f1"/><stop offset=".526" stop-color="#e1e1e1"/><stop offset=".534" stop-color="#dedede"/><stop offset=".536" stop-color="#d6d6d6"/><stop offset=".538" stop-color="#c3c3c3"/><stop offset=".546" stop-color="#4a4a4a"/><stop offset=".547" stop-color="#383838"/><stop offset=".549" stop-color="#313131"/><stop offset=".570" stop-color="#424242"/><stop offset=".624" stop-color="#595959"/><stop offset=".662" stop-color="#535353"/><stop offset=".683" stop-color="#434343"/><stop offset=".697" stop-color="#262626"/><stop offset=".707" stop-color="#131313"/><stop offset=".733" stop-color="#000000"/><stop offset=".999" stop-color="#000000"/></linearGradient><linearGradient id="g94" gradientUnits="userSpaceOnUse" x1="765" x2="1378"><stop offset=".001" stop-color="#040404"/><stop offset=".113" stop-color="#252525"/><stop offset=".188" stop-color="#494949"/><stop offset=".241" stop-color="#6d6d6d"/><stop offset=".308" stop-color="#b0b0b0"/><stop offset=".324" stop-color="#c1c1c1"/><stop offset=".343" stop-color="#dddddd"/><stop offset=".400" stop-color="#e7e7e7"/><stop offset=".474" stop-color="#f0f0f0"/><stop offset=".524" stop-color="#e1e1e1"/><stop offset=".534" stop-color="#dfdfdf"/><stop offset=".536" stop-color="#dadada"/><stop offset=".538" stop-color="#cbcbcb"/><stop offset=".546" stop-color="#535353"/><stop offset=".547" stop-color="#3f3f3f"/><stop offset=".549" stop-color="#333333"/><stop offset=".552" stop-color="#333333"/><stop offset=".569" stop-color="#424242"/><stop offset=".624" stop-color="#595959"/><stop offset=".662" stop-color="#535353"/><stop offset=".683" stop-color="#434343"/><stop offset=".699" stop-color="#232323"/><stop offset=".709" stop-color="#111111"/><stop offset=".733" stop-color="#000000"/><stop offset=".999" stop-color="#000000"/></linearGradient><linearGradient id="g95" gradientUnits="userSpaceOnUse" x1="765" x2="1378"><stop offset=".001" stop-color="#040404"/><stop offset=".113" stop-color="#252525"/><stop offset=".174" stop-color="#404040"/><stop offset=".237" stop-color="#696969"/><stop offset=".293" stop-color="#a1a1a1"/><stop offset=".322" stop-color="#bebebe"/><stop offset=".342" stop-color="#dcdcdc"/><stop offset=".391" stop-color="#e6e6e6"/><stop offset=".474" stop-color="#efefef"/><stop offset=".523" stop-color="#e1e1e1"/><stop offset=".534" stop-color="#dfdfdf"/><stop offset=".536" stop-color="#dcdcdc"/><stop offset=".538" stop-color="#d2d2d2"/><stop offset=".539" stop-color="#bebebe"/><stop offset=".547" stop-color="#464646"/><stop offset=".549" stop-color="#363636"/><stop offset=".551" stop-color="#323232"/><stop offset=".570" stop-color="#424242"/><stop offset=".624" stop-color="#595959"/><stop offset=".662" stop-color="#545454"/><stop offset=".683" stop-color="#434343"/><stop offset=".699" stop-color="#232323"/><stop offset=".709" stop-color="#111111"/><stop offset=".733" stop-color="#000000"/><stop offset=".999" stop-color="#000000"/></linearGradient><linearGradient id="g96" gradientUnits="userSpaceOnUse" x1="765" x2="1378"><stop offset=".001" stop-color="#040404"/><stop offset=".113" stop-color="#252525"/><stop offset=".174" stop-color="#404040"/><stop offset=".234" stop-color="#656565"/><stop offset=".285" stop-color="#999999"/><stop offset=".321" stop-color="#bbbbbb"/><stop offset=".342" stop-color="#dcdcdc"/><stop offset=".396" stop-color="#e6e6e6"/><stop offset=".474" stop-color="#efefef"/><stop offset=".523" stop-color="#e1e1e1"/><stop offset=".536" stop-color="#dddddd"/><stop offset=".538" stop-color="#d7d7d7"/><stop offset=".539" stop-color="#c6c6c6"/><stop offset=".547" stop-color="#4f4f4f"/><stop offset=".549" stop-color="#3c3c3c"/><stop offset=".551" stop-color="#333333"/><stop offset=".557" stop-color="#373737"/><stop offset=".570" stop-color="#424242"/><stop offset=".624" stop-color="#595959"/><stop offset=".662" stop-color="#545454"/><stop offset=".683" stop-color="#434343"/><stop offset=".701" stop-color="#1f1f1f"/><stop offset=".709" stop-color="#111111"/><stop offset=".733" stop-color="#000000"/><stop offset=".999" stop-color="#000000"/></linearGradient><linearGradient id="g97" gradientUnits="userSpaceOnUse" x1="765" x2="1378"><stop offset=".001" stop-color="#040404"/><stop offset=".113" stop-color="#252525"/><stop offset=".174" stop-color="#404040"/><stop offset=".193" stop-color="#494949"/><stop offset=".236" stop-color="#666666"/><stop offset=".278" stop-color="#929292"/><stop offset=".319" stop-color="#b8b8b8"/><stop offset=".342" stop-color="#dcdcdc"/><stop offset=".399" stop-color="#e6e6e6"/><stop offset=".474" stop-color="#eeeeee"/><stop offset=".523" stop-color="#e0e0e0"/><stop offset=".536" stop-color="#dddddd"/><stop offset=".538" stop-color="#dadada"/><stop offset=".539" stop-color="#cdcdcd"/><stop offset=".542" stop-color="#a1a1a1"/><stop offset=".549" stop-color="#434343"/><stop offset=".551" stop-color="#353535"/><stop offset=".552" stop-color="#323232"/><stop offset=".569" stop-color="#424242"/><stop offset=".624" stop-color="#5a5a5a"/><stop offset=".662" stop-color="#545454"/><stop offset=".683" stop-color="#434343"/><stop offset=".702" stop-color="#1c1c1c"/><stop offset=".710" stop-color="#101010"/><stop offset=".733" stop-color="#000000"/><stop offset=".999" stop-color="#000000"/></linearGradient><linearGradient id="g98" gradientUnits="userSpaceOnUse" x1="765" x2="1378"><stop offset=".001" stop-color="#040404"/><stop offset=".113" stop-color="#242424"/><stop offset=".174" stop-color="#404040"/><stop offset=".188" stop-color="#454545"/><stop offset=".234" stop-color="#646464"/><stop offset=".272" stop-color="#8b8b8b"/><stop offset=".317" stop-color="#b4b4b4"/><stop offset=".342" stop-color="#dcdcdc"/><stop offset=".404" stop-color="#e6e6e6"/><stop offset=".474" stop-color="#ededed"/><stop offset=".523" stop-color="#e0e0e0"/><stop offset=".538" stop-color="#dbdbdb"/><stop offset=".539" stop-color="#d3d3d3"/><stop offset=".541" stop-color="#c1c1c1"/><stop offset=".549" stop-color="#4b4b4b"/><stop offset=".551" stop-color="#393939"/><stop offset=".552" stop-color="#333333"/><stop offset=".570" stop-color="#424242"/><stop offset=".624" stop-color="#5a5a5a"/><stop offset=".662" stop-color="#545454"/><stop offset=".683" stop-color="#434343"/><stop offset=".707" stop-color="#131313"/><stop offset=".733" stop-color="#000000"/><stop offset=".999" stop-color="#000000"/></linearGradient><linearGradient id="g99" gradientUnits="userSpaceOnUse" x1="765" x2="1378"><stop offset=".001" stop-color="#040404"/><stop offset=".115" stop-color="#252525"/><stop offset=".167" stop-color="#3e3e3e"/><stop offset=".188" stop-color="#444444"/><stop offset=".234" stop-color="#646464"/><stop offset=".267" stop-color="#868686"/><stop offset=".316" stop-color="#b1b1b1"/><stop offset=".342" stop-color="#dcdcdc"/><stop offset=".414" stop-color="#e6e6e6"/><stop offset=".476" stop-color="#ececec"/><stop offset=".528" stop-color="#dedede"/><stop offset=".538" stop-color="#dcdcdc"/><stop offset=".539" stop-color="#d7d7d7"/><stop offset=".541" stop-color="#c9c9c9"/><stop offset=".549" stop-color="#545454"/><stop offset=".551" stop-color="#404040"/><stop offset=".552" stop-color="#353535"/><stop offset=".555" stop-color="#353535"/><stop offset=".569" stop-color="#424242"/><stop offset=".622" stop-color="#5a5a5a"/><stop offset=".662" stop-color="#545454"/><stop offset=".683" stop-color="#434343"/><stop offset=".707" stop-color="#131313"/><stop offset=".733" stop-color="#000000"/><stop offset=".999" stop-color="#000000"/></linearGradient><linearGradient id="g100" gradientUnits="userSpaceOnUse" x1="765" x2="1378"><stop offset=".001" stop-color="#040404"/><stop offset=".118" stop-color="#262626"/><stop offset=".166" stop-color="#3d3d3d"/><stop offset=".190" stop-color="#444444"/><stop offset=".232" stop-color="#626262"/><stop offset=".262" stop-color="#808080"/><stop offset=".314" stop-color="#aeaeae"/><stop offset=".342" stop-color="#dcdcdc"/><stop offset=".453" stop-color="#ebebeb"/><stop offset=".479" stop-color="#eaeaea"/><stop offset=".538" stop-color="#dcdcdc"/><stop offset=".539" stop-color="#d9d9d9"/><stop offset=".541" stop-color="#cfcfcf"/><stop offset=".542" stop-color="#bcbcbc"/><stop offset=".551" stop-color="#474747"/><stop offset=".552" stop-color="#383838"/><stop offset=".554" stop-color="#333333"/><stop offset=".569" stop-color="#424242"/><stop offset=".622" stop-color="#5a5a5a"/><stop offset=".660" stop-color="#565656"/><stop offset=".681" stop-color="#454545"/><stop offset=".692" stop-color="#313131"/><stop offset=".707" stop-color="#131313"/><stop offset=".733" stop-color="#000000"/><stop offset=".999" stop-color="#000000"/></linearGradient><linearGradient id="g101" gradientUnits="userSpaceOnUse" x1="765" x2="1378"><stop offset=".001" stop-color="#040404"/><stop offset=".122" stop-color="#262626"/><stop offset=".164" stop-color="#3b3b3b"/><stop offset=".175" stop-color="#404040"/><stop offset=".190" stop-color="#434343"/><stop offset=".231" stop-color="#5f5f5f"/><stop offset=".262" stop-color="#808080"/><stop offset=".312" stop-color="#ababab"/><stop offset=".335" stop-color="#d1d1d1"/><stop offset=".342" stop-color="#dcdcdc"/><stop offset=".471" stop-color="#ebebeb"/><stop offset=".539" stop-color="#dadada"/><stop offset=".541" stop-color="#d4d4d4"/><stop offset=".542" stop-color="#c5c5c5"/><stop offset=".551" stop-color="#4f4f4f"/><stop offset=".552" stop-color="#3c3c3c"/><stop offset=".554" stop-color="#353535"/><stop offset=".572" stop-color="#434343"/><stop offset=".622" stop-color="#5b5b5b"/><stop offset=".660" stop-color="#565656"/><stop offset=".681" stop-color="#454545"/><stop offset=".692" stop-color="#313131"/><stop offset=".707" stop-color="#131313"/><stop offset=".733" stop-color="#000000"/><stop offset=".999" stop-color="#000000"/></linearGradient><linearGradient id="g102" gradientUnits="userSpaceOnUse" x1="765" x2="1378"><stop offset=".001" stop-color="#040404"/><stop offset=".123" stop-color="#262626"/><stop offset=".162" stop-color="#3a3a3a"/><stop offset=".174" stop-color="#404040"/><stop offset=".192" stop-color="#434343"/><stop offset=".229" stop-color="#5d5d5d"/><stop offset=".262" stop-color="#808080"/><stop offset=".311" stop-color="#a8a8a8"/><stop offset=".334" stop-color="#cecece"/><stop offset=".342" stop-color="#dbdbdb"/><stop offset=".474" stop-color="#eaeaea"/><stop offset=".539" stop-color="#dadada"/><stop offset=".541" stop-color="#d7d7d7"/><stop offset=".542" stop-color="#cccccc"/><stop offset=".546" stop-color="#a0a0a0"/><stop offset=".551" stop-color="#585858"/><stop offset=".552" stop-color="#434343"/><stop offset=".554" stop-color="#373737"/><stop offset=".557" stop-color="#373737"/><stop offset=".570" stop-color="#434343"/><stop offset=".622" stop-color="#5b5b5b"/><stop offset=".660" stop-color="#565656"/><stop offset=".681" stop-color="#454545"/><stop offset=".692" stop-color="#313131"/><stop offset=".707" stop-color="#131313"/><stop offset=".733" stop-color="#000000"/><stop offset=".999" stop-color="#000000"/></linearGradient><linearGradient id="g103" gradientUnits="userSpaceOnUse" x1="765" x2="1378"><stop offset=".001" stop-color="#040404"/><stop offset=".123" stop-color="#252525"/><stop offset=".161" stop-color="#383838"/><stop offset=".174" stop-color="#404040"/><stop offset=".192" stop-color="#424242"/><stop offset=".228" stop-color="#5b5b5b"/><stop offset=".262" stop-color="#7f7f7f"/><stop offset=".277" stop-color="#898989"/><stop offset=".311" stop-color="#a8a8a8"/><stop offset=".334" stop-color="#cdcdcd"/><stop offset=".342" stop-color="#dbdbdb"/><stop offset=".474" stop-color="#e9e9e9"/><stop offset=".541" stop-color="#d8d8d8"/><stop offset=".542" stop-color="#d2d2d2"/><stop offset=".544" stop-color="#c1c1c1"/><stop offset=".552" stop-color="#4a4a4a"/><stop offset=".554" stop-color="#3a3a3a"/><stop offset=".555" stop-color="#353535"/><stop offset=".570" stop-color="#434343"/><stop offset=".622" stop-color="#5b5b5b"/><stop offset=".660" stop-color="#565656"/><stop offset=".681" stop-color="#454545"/><stop offset=".692" stop-color="#313131"/><stop offset=".707" stop-color="#131313"/><stop offset=".733" stop-color="#000000"/><stop offset=".999" stop-color="#000000"/></linearGradient><linearGradient id="g104" gradientUnits="userSpaceOnUse" x1="765" x2="1378"><stop offset=".001" stop-color="#040404"/><stop offset=".125" stop-color="#252525"/><stop offset=".159" stop-color="#373737"/><stop offset=".174" stop-color="#404040"/><stop offset=".193" stop-color="#424242"/><stop offset=".228" stop-color="#5b5b5b"/><stop offset=".262" stop-color="#7f7f7f"/><stop offset=".273" stop-color="#858585"/><stop offset=".309" stop-color="#a5a5a5"/><stop offset=".332" stop-color="#cacaca"/><stop offset=".342" stop-color="#dbdbdb"/><stop offset=".474" stop-color="#e8e8e8"/><stop offset=".541" stop-color="#d8d8d8"/><stop offset=".542" stop-color="#d5d5d5"/><stop offset=".544" stop-color="#c8c8c8"/><stop offset=".547" stop-color="#9b9b9b"/><stop offset=".552" stop-color="#535353"/><stop offset=".554" stop-color="#3f3f3f"/><stop offset=".555" stop-color="#373737"/><stop offset=".575" stop-color="#454545"/><stop offset=".622" stop-color="#5b5b5b"/><stop offset=".660" stop-color="#575757"/><stop offset=".681" stop-color="#454545"/><stop offset=".694" stop-color="#2d2d2d"/><stop offset=".707" stop-color="#131313"/><stop offset=".733" stop-color="#000000"/><stop offset=".999" stop-color="#000000"/></linearGradient><linearGradient id="g105" gradientUnits="userSpaceOnUse" x1="765" x2="1378"><stop offset=".001" stop-color="#040404"/><stop offset=".126" stop-color="#252525"/><stop offset=".157" stop-color="#363636"/><stop offset=".174" stop-color="#404040"/><stop offset=".195" stop-color="#424242"/><stop offset=".226" stop-color="#595959"/><stop offset=".262" stop-color="#7f7f7f"/><stop offset=".273" stop-color="#848484"/><stop offset=".308" stop-color="#a2a2a2"/><stop offset=".332" stop-color="#c9c9c9"/><stop offset=".342" stop-color="#dbdbdb"/><stop offset=".474" stop-color="#e7e7e7"/><stop offset=".542" stop-color="#d6d6d6"/><stop offset=".544" stop-color="#cecece"/><stop offset=".546" stop-color="#bcbcbc"/><stop offset=".552" stop-color="#5c5c5c"/><stop offset=".554" stop-color="#464646"/><stop offset=".555" stop-color="#393939"/><stop offset=".559" stop-color="#393939"/><stop offset=".572" stop-color="#434343"/><stop offset=".622" stop-color="#5c5c5c"/><stop offset=".660" stop-color="#575757"/><stop offset=".681" stop-color="#454545"/><stop offset=".694" stop-color="#2d2d2d"/><stop offset=".707" stop-color="#131313"/><stop offset=".733" stop-color="#000000"/><stop offset=".999" stop-color="#000000"/></linearGradient><linearGradient id="g106" gradientUnits="userSpaceOnUse" x1="765" x2="1378"><stop offset=".001" stop-color="#040404"/><stop offset=".128" stop-color="#252525"/><stop offset=".156" stop-color="#343434"/><stop offset=".174" stop-color="#404040"/><stop offset=".197" stop-color="#424242"/><stop offset=".224" stop-color="#565656"/><stop offset=".262" stop-color="#7f7f7f"/><stop offset=".275" stop-color="#848484"/><stop offset=".306" stop-color="#9f9f9f"/><stop offset=".332" stop-color="#c9c9c9"/><stop offset=".342" stop-color="#dbdbdb"/><stop offset=".474" stop-color="#e6e6e6"/><stop offset=".538" stop-color="#d6d6d6"/><stop offset=".542" stop-color="#d7d7d7"/><stop offset=".544" stop-color="#d2d2d2"/><stop offset=".546" stop-color="#c4c4c4"/><stop offset=".554" stop-color="#4e4e4e"/><stop offset=".555" stop-color="#3d3d3d"/><stop offset=".557" stop-color="#383838"/><stop offset=".572" stop-color="#444444"/><stop offset=".622" stop-color="#5c5c5c"/><stop offset=".660" stop-color="#575757"/><stop offset=".681" stop-color="#454545"/><stop offset=".694" stop-color="#2d2d2d"/><stop offset=".707" stop-color="#131313"/><stop offset=".733" stop-color="#000000"/><stop offset=".999" stop-color="#000000"/></linearGradient><linearGradient id="g107" gradientUnits="userSpaceOnUse" x1="765" x2="1378"><stop offset=".001" stop-color="#040404"/><stop offset=".115" stop-color="#202020"/><stop offset=".153" stop-color="#313131"/><stop offset=".174" stop-color="#404040"/><stop offset=".198" stop-color="#424242"/><stop offset=".224" stop-color="#565656"/><stop offset=".263" stop-color="#7f7f7f"/><stop offset=".275" stop-color="#828282"/><stop offset=".304" stop-color="#9c9c9c"/><stop offset=".330" stop-color="#c5c5c5"/><stop offset=".342" stop-color="#dbdbdb"/><stop offset=".474" stop-color="#e5e5e5"/><stop offset=".534" stop-color="#d5d5d5"/><stop offset=".544" stop-color="#d4d4d4"/><stop offset=".546" stop-color="#cbcbcb"/><stop offset=".547" stop-color="#b8b8b8"/><stop offset=".554" stop-color="#565656"/><stop offset=".555" stop-color="#424242"/><stop offset=".557" stop-color="#393939"/><stop offset=".595" stop-color="#4f4f4f"/><stop offset=".624" stop-color="#5c5c5c"/><stop offset=".660" stop-color="#575757"/><stop offset=".681" stop-color="#454545"/><stop offset=".696" stop-color="#2a2a2a"/><stop offset=".707" stop-color="#131313"/><stop offset=".733" stop-color="#000000"/><stop offset=".999" stop-color="#000000"/></linearGradient><linearGradient id="g108" gradientUnits="userSpaceOnUse" x1="765" x2="1378"><stop offset=".001" stop-color="#040404"/><stop offset=".115" stop-color="#202020"/><stop offset=".149" stop-color="#2f2f2f"/><stop offset=".174" stop-color="#404040"/><stop offset=".200" stop-color="#424242"/><stop offset=".223" stop-color="#545454"/><stop offset=".263" stop-color="#7f7f7f"/><stop offset=".277" stop-color="#838383"/><stop offset=".303" stop-color="#999999"/><stop offset=".330" stop-color="#c4c4c4"/><stop offset=".342" stop-color="#dbdbdb"/><stop offset=".472" stop-color="#e4e4e4"/><stop offset=".531" stop-color="#d4d4d4"/><stop offset=".544" stop-color="#d5d5d5"/><stop offset=".546" stop-color="#d0d0d0"/><stop offset=".547" stop-color="#c0c0c0"/><stop offset=".555" stop-color="#494949"/><stop offset=".557" stop-color="#3c3c3c"/><stop offset=".559" stop-color="#393939"/><stop offset=".573" stop-color="#444444"/><stop offset=".622" stop-color="#5c5c5c"/><stop offset=".660" stop-color="#585858"/><stop offset=".681" stop-color="#464646"/><stop offset=".696" stop-color="#2a2a2a"/><stop offset=".707" stop-color="#131313"/><stop offset=".733" stop-color="#000000"/><stop offset=".999" stop-color="#000000"/></linearGradient><linearGradient id="g109" gradientUnits="userSpaceOnUse" x1="765" x2="1378"><stop offset=".001" stop-color="#040404"/><stop offset=".117" stop-color="#202020"/><stop offset=".148" stop-color="#2d2d2d"/><stop offset=".174" stop-color="#404040"/><stop offset=".201" stop-color="#424242"/><stop offset=".223" stop-color="#535353"/><stop offset=".263" stop-color="#7f7f7f"/><stop offset=".278" stop-color="#838383"/><stop offset=".301" stop-color="#969696"/><stop offset=".330" stop-color="#c3c3c3"/><stop offset=".342" stop-color="#dbdbdb"/><stop offset=".464" stop-color="#e3e3e3"/><stop offset=".529" stop-color="#d3d3d3"/><stop offset=".544" stop-color="#d5d5d5"/><stop offset=".546" stop-color="#d2d2d2"/><stop offset=".547" stop-color="#c7c7c7"/><stop offset=".551" stop-color="#9b9b9b"/><stop offset=".555" stop-color="#515151"/><stop offset=".557" stop-color="#3f3f3f"/><stop offset=".559" stop-color="#3a3a3a"/><stop offset=".580" stop-color="#484848"/><stop offset=".622" stop-color="#5d5d5d"/><stop offset=".660" stop-color="#585858"/><stop offset=".681" stop-color="#464646"/><stop offset=".697" stop-color="#262626"/><stop offset=".707" stop-color="#131313"/><stop offset=".733" stop-color="#000000"/><stop offset=".999" stop-color="#000000"/></linearGradient><linearGradient id="g110" gradientUnits="userSpaceOnUse" x1="765" x2="1378"><stop offset=".001" stop-color="#040404"/><stop offset=".117" stop-color="#202020"/><stop offset=".141" stop-color="#282828"/><stop offset=".174" stop-color="#404040"/><stop offset=".203" stop-color="#424242"/><stop offset=".223" stop-color="#535353"/><stop offset=".263" stop-color="#7f7f7f"/><stop offset=".280" stop-color="#838383"/><stop offset=".299" stop-color="#939393"/><stop offset=".330" stop-color="#c3c3c3"/><stop offset=".340" stop-color="#d7d7d7"/><stop offset=".404" stop-color="#e0e0e0"/><stop offset=".464" stop-color="#e2e2e2"/><stop offset=".526" stop-color="#d2d2d2"/><stop offset=".546" stop-color="#d3d3d3"/><stop offset=".547" stop-color="#cdcdcd"/><stop offset=".549" stop-color="#bcbcbc"/><stop offset=".555" stop-color="#5a5a5a"/><stop offset=".557" stop-color="#454545"/><stop offset=".559" stop-color="#3c3c3c"/><stop offset=".622" stop-color="#5d5d5d"/><stop offset=".660" stop-color="#585858"/><stop offset=".681" stop-color="#464646"/><stop offset=".699" stop-color="#232323"/><stop offset=".709" stop-color="#111111"/><stop offset=".733" stop-color="#000000"/><stop offset=".999" stop-color="#000000"/></linearGradient><linearGradient id="g111" gradientUnits="userSpaceOnUse" x1="765" x2="1378"><stop offset=".001" stop-color="#040404"/><stop offset=".117" stop-color="#202020"/><stop offset=".138" stop-color="#262626"/><stop offset=".174" stop-color="#404040"/><stop offset=".205" stop-color="#424242"/><stop offset=".224" stop-color="#545454"/><stop offset=".263" stop-color="#7e7e7e"/><stop offset=".281" stop-color="#838383"/><stop offset=".298" stop-color="#909090"/><stop offset=".334" stop-color="#c8c8c8"/><stop offset=".342" stop-color="#d4d4d4"/><stop offset=".392" stop-color="#dfdfdf"/><stop offset=".456" stop-color="#e1e1e1"/><stop offset=".523" stop-color="#d0d0d0"/><stop offset=".546" stop-color="#d3d3d3"/><stop offset=".547" stop-color="#d0d0d0"/><stop offset=".549" stop-color="#c4c4c4"/><stop offset=".552" stop-color="#959595"/><stop offset=".557" stop-color="#4c4c4c"/><stop offset=".559" stop-color="#3e3e3e"/><stop offset=".560" stop-color="#3b3b3b"/><stop offset=".593" stop-color="#4f4f4f"/><stop offset=".624" stop-color="#5d5d5d"/><stop offset=".660" stop-color="#585858"/><stop offset=".681" stop-color="#464646"/><stop offset=".699" stop-color="#232323"/><stop offset=".709" stop-color="#111111"/><stop offset=".733" stop-color="#000000"/><stop offset=".999" stop-color="#000000"/></linearGradient><linearGradient id="g112" gradientUnits="userSpaceOnUse" x1="765" x2="1378"><stop offset=".001" stop-color="#040404"/><stop offset=".117" stop-color="#202020"/><stop offset=".136" stop-color="#242424"/><stop offset=".174" stop-color="#3f3f3f"/><stop offset=".206" stop-color="#424242"/><stop offset=".263" stop-color="#7d7d7d"/><stop offset=".283" stop-color="#838383"/><stop offset=".296" stop-color="#8d8d8d"/><stop offset=".342" stop-color="#cfcfcf"/><stop offset=".391" stop-color="#dedede"/><stop offset=".448" stop-color="#e0e0e0"/><stop offset=".497" stop-color="#d4d4d4"/><stop offset=".521" stop-color="#cfcfcf"/><stop offset=".547" stop-color="#d1d1d1"/><stop offset=".549" stop-color="#cacaca"/><stop offset=".551" stop-color="#b7b7b7"/><stop offset=".557" stop-color="#545454"/><stop offset=".559" stop-color="#424242"/><stop offset=".560" stop-color="#3c3c3c"/><stop offset=".622" stop-color="#5d5d5d"/><stop offset=".660" stop-color="#595959"/><stop offset=".681" stop-color="#464646"/><stop offset=".701" stop-color="#1f1f1f"/><stop offset=".709" stop-color="#111111"/><stop offset=".733" stop-color="#000000"/><stop offset=".999" stop-color="#000000"/></linearGradient><linearGradient id="g113" gradientUnits="userSpaceOnUse" x1="765" x2="1378"><stop offset=".001" stop-color="#040404"/><stop offset=".118" stop-color="#202020"/><stop offset=".136" stop-color="#242424"/><stop offset=".172" stop-color="#3f3f3f"/><stop offset=".208" stop-color="#424242"/><stop offset=".260" stop-color="#7a7a7a"/><stop offset=".291" stop-color="#868686"/><stop offset=".330" stop-color="#bdbdbd"/><stop offset=".343" stop-color="#cbcbcb"/><stop offset=".384" stop-color="#dbdbdb"/><stop offset=".433" stop-color="#e0e0e0"/><stop offset=".490" stop-color="#d4d4d4"/><stop offset=".518" stop-color="#cecece"/><stop offset=".547" stop-color="#d2d2d2"/><stop offset=".549" stop-color="#cecece"/><stop offset=".551" stop-color="#c0c0c0"/><stop offset=".555" stop-color="#767676"/><stop offset=".557" stop-color="#5d5d5d"/><stop offset=".559" stop-color="#484848"/><stop offset=".560" stop-color="#3e3e3e"/><stop offset=".622" stop-color="#5e5e5e"/><stop offset=".660" stop-color="#595959"/><stop offset=".681" stop-color="#464646"/><stop offset=".707" stop-color="#131313"/><stop offset=".733" stop-color="#000000"/><stop offset=".999" stop-color="#000000"/></linearGradient><linearGradient id="g114" gradientUnits="userSpaceOnUse" x1="765" x2="1378"><stop offset=".001" stop-color="#040404"/><stop offset=".118" stop-color="#202020"/><stop offset=".136" stop-color="#232323"/><stop offset=".170" stop-color="#3d3d3d"/><stop offset=".208" stop-color="#424242"/><stop offset=".259" stop-color="#787878"/><stop offset=".291" stop-color="#858585"/><stop offset=".329" stop-color="#b9b9b9"/><stop offset=".352" stop-color="#cdcdcd"/><stop offset=".417" stop-color="#dfdfdf"/><stop offset=".487" stop-color="#d3d3d3"/><stop offset=".516" stop-color="#cdcdcd"/><stop offset=".547" stop-color="#d1d1d1"/><stop offset=".549" stop-color="#cfcfcf"/><stop offset=".551" stop-color="#c6c6c6"/><stop offset=".552" stop-color="#b3b3b3"/><stop offset=".559" stop-color="#505050"/><stop offset=".560" stop-color="#414141"/><stop offset=".562" stop-color="#3d3d3d"/><stop offset=".622" stop-color="#5e5e5e"/><stop offset=".660" stop-color="#595959"/><stop offset=".681" stop-color="#464646"/><stop offset=".707" stop-color="#131313"/><stop offset=".733" stop-color="#000000"/><stop offset=".999" stop-color="#000000"/></linearGradient><linearGradient id="g115" gradientUnits="userSpaceOnUse" x1="765" x2="1378"><stop offset=".001" stop-color="#040404"/><stop offset=".118" stop-color="#202020"/><stop offset=".135" stop-color="#222222"/><stop offset=".169" stop-color="#3c3c3c"/><stop offset=".201" stop-color="#404040"/><stop offset=".211" stop-color="#444444"/><stop offset=".257" stop-color="#757575"/><stop offset=".283" stop-color="#808080"/><stop offset=".293" stop-color="#868686"/><stop offset=".327" stop-color="#b6b6b6"/><stop offset=".355" stop-color="#cbcbcb"/><stop offset=".418" stop-color="#dddddd"/><stop offset=".489" stop-color="#d1d1d1"/><stop offset=".513" stop-color="#cccccc"/><stop offset=".549" stop-color="#d0d0d0"/><stop offset=".551" stop-color="#cbcbcb"/><stop offset=".552" stop-color="#bbbbbb"/><stop offset=".559" stop-color="#585858"/><stop offset=".560" stop-color="#454545"/><stop offset=".562" stop-color="#3e3e3e"/><stop offset=".622" stop-color="#5e5e5e"/><stop offset=".660" stop-color="#595959"/><stop offset=".681" stop-color="#464646"/><stop offset=".707" stop-color="#131313"/><stop offset=".733" stop-color="#000000"/><stop offset=".999" stop-color="#000000"/></linearGradient><linearGradient id="g116" gradientUnits="userSpaceOnUse" x1="765" x2="1378"><stop offset=".001" stop-color="#040404"/><stop offset=".118" stop-color="#202020"/><stop offset=".135" stop-color="#222222"/><stop offset=".167" stop-color="#3a3a3a"/><stop offset=".197" stop-color="#404040"/><stop offset=".210" stop-color="#424242"/><stop offset=".255" stop-color="#737373"/><stop offset=".283" stop-color="#808080"/><stop offset=".291" stop-color="#828282"/><stop offset=".325" stop-color="#b2b2b2"/><stop offset=".355" stop-color="#c8c8c8"/><stop offset=".420" stop-color="#dbdbdb"/><stop offset=".489" stop-color="#cfcfcf"/><stop offset=".511" stop-color="#cbcbcb"/><stop offset=".549" stop-color="#d0d0d0"/><stop offset=".551" stop-color="#cdcdcd"/><stop offset=".552" stop-color="#c3c3c3"/><stop offset=".554" stop-color="#aeaeae"/><stop offset=".559" stop-color="#616161"/><stop offset=".560" stop-color="#4b4b4b"/><stop offset=".562" stop-color="#404040"/><stop offset=".569" stop-color="#424242"/><stop offset=".622" stop-color="#5f5f5f"/><stop offset=".660" stop-color="#5a5a5a"/><stop offset=".679" stop-color="#484848"/><stop offset=".696" stop-color="#292929"/><stop offset=".707" stop-color="#131313"/><stop offset=".733" stop-color="#000000"/><stop offset=".999" stop-color="#000000"/></linearGradient><linearGradient id="g117" gradientUnits="userSpaceOnUse" x1="765" x2="1378"><stop offset=".001" stop-color="#040404"/><stop offset=".120" stop-color="#202020"/><stop offset=".135" stop-color="#222222"/><stop offset=".166" stop-color="#393939"/><stop offset=".197" stop-color="#404040"/><stop offset=".210" stop-color="#414141"/><stop offset=".255" stop-color="#727272"/><stop offset=".286" stop-color="#808080"/><stop offset=".294" stop-color="#868686"/><stop offset=".324" stop-color="#afafaf"/><stop offset=".350" stop-color="#c2c2c2"/><stop offset=".418" stop-color="#d9d9d9"/><stop offset=".487" stop-color="#cdcdcd"/><stop offset=".510" stop-color="#c9c9c9"/><stop offset=".551" stop-color="#cecece"/><stop offset=".552" stop-color="#c8c8c8"/><stop offset=".554" stop-color="#b7b7b7"/><stop offset=".560" stop-color="#535353"/><stop offset=".562" stop-color="#434343"/><stop offset=".564" stop-color="#3f3f3f"/><stop offset=".622" stop-color="#5f5f5f"/><stop offset=".660" stop-color="#5a5a5a"/><stop offset=".679" stop-color="#494949"/><stop offset=".697" stop-color="#262626"/><stop offset=".707" stop-color="#131313"/><stop offset=".733" stop-color="#000000"/><stop offset=".999" stop-color="#000000"/></linearGradient><linearGradient id="g118" gradientUnits="userSpaceOnUse" x1="765" x2="1378"><stop offset=".001" stop-color="#040404"/><stop offset=".120" stop-color="#202020"/><stop offset=".135" stop-color="#222222"/><stop offset=".164" stop-color="#383838"/><stop offset=".197" stop-color="#404040"/><stop offset=".211" stop-color="#424242"/><stop offset=".254" stop-color="#6f6f6f"/><stop offset=".288" stop-color="#808080"/><stop offset=".296" stop-color="#878787"/><stop offset=".324" stop-color="#acacac"/><stop offset=".345" stop-color="#bebebe"/><stop offset=".420" stop-color="#d6d6d6"/><stop offset=".485" stop-color="#cccccc"/><stop offset=".507" stop-color="#c8c8c8"/><stop offset=".551" stop-color="#cecece"/><stop offset=".552" stop-color="#cbcbcb"/><stop offset=".554" stop-color="#bfbfbf"/><stop offset=".557" stop-color="#8f8f8f"/><stop offset=".560" stop-color="#5c5c5c"/><stop offset=".562" stop-color="#484848"/><stop offset=".564" stop-color="#404040"/><stop offset=".622" stop-color="#5f5f5f"/><stop offset=".660" stop-color="#5a5a5a"/><stop offset=".679" stop-color="#494949"/><stop offset=".697" stop-color="#262626"/><stop offset=".707" stop-color="#131313"/><stop offset=".733" stop-color="#000000"/><stop offset=".999" stop-color="#000000"/></linearGradient><linearGradient id="g119" gradientUnits="userSpaceOnUse" x1="765" x2="1378"><stop offset=".001" stop-color="#040404"/><stop offset=".120" stop-color="#202020"/><stop offset=".135" stop-color="#222222"/><stop offset=".162" stop-color="#363636"/><stop offset=".198" stop-color="#404040"/><stop offset=".211" stop-color="#424242"/><stop offset=".252" stop-color="#6d6d6d"/><stop offset=".294" stop-color="#838383"/><stop offset=".322" stop-color="#a9a9a9"/><stop offset=".345" stop-color="#bebebe"/><stop offset=".423" stop-color="#d4d4d4"/><stop offset=".485" stop-color="#c9c9c9"/><stop offset=".505" stop-color="#c7c7c7"/><stop offset=".552" stop-color="#cdcdcd"/><stop offset=".554" stop-color="#c5c5c5"/><stop offset=".555" stop-color="#b2b2b2"/><stop offset=".560" stop-color="#656565"/><stop offset=".562" stop-color="#4f4f4f"/><stop offset=".564" stop-color="#424242"/><stop offset=".567" stop-color="#414141"/><stop offset=".622" stop-color="#5f5f5f"/><stop offset=".660" stop-color="#5a5a5a"/><stop offset=".679" stop-color="#494949"/><stop offset=".699" stop-color="#232323"/><stop offset=".709" stop-color="#111111"/><stop offset=".733" stop-color="#000000"/><stop offset=".999" stop-color="#000000"/></linearGradient><linearGradient id="g120" gradientUnits="userSpaceOnUse" x1="765" x2="1378"><stop offset=".001" stop-color="#040404"/><stop offset=".122" stop-color="#202020"/><stop offset=".135" stop-color="#222222"/><stop offset=".161" stop-color="#353535"/><stop offset=".198" stop-color="#404040"/><stop offset=".211" stop-color="#414141"/><stop offset=".250" stop-color="#6b6b6b"/><stop offset=".294" stop-color="#828282"/><stop offset=".321" stop-color="#a6a6a6"/><stop offset=".345" stop-color="#bdbdbd"/><stop offset=".386" stop-color="#c7c7c7"/><stop offset=".427" stop-color="#d2d2d2"/><stop offset=".500" stop-color="#c6c6c6"/><stop offset=".552" stop-color="#cdcdcd"/><stop offset=".554" stop-color="#c9c9c9"/><stop offset=".555" stop-color="#bbbbbb"/><stop offset=".559" stop-color="#898989"/><stop offset=".562" stop-color="#565656"/><stop offset=".564" stop-color="#464646"/><stop offset=".565" stop-color="#414141"/><stop offset=".622" stop-color="#5f5f5f"/><stop offset=".660" stop-color="#5a5a5a"/><stop offset=".679" stop-color="#494949"/><stop offset=".699" stop-color="#232323"/><stop offset=".709" stop-color="#111111"/><stop offset=".733" stop-color="#000000"/><stop offset=".999" stop-color="#000000"/></linearGradient><linearGradient id="g121" gradientUnits="userSpaceOnUse" x1="765" x2="1378"><stop offset=".001" stop-color="#040404"/><stop offset=".122" stop-color="#202020"/><stop offset=".135" stop-color="#222222"/><stop offset=".159" stop-color="#343434"/><stop offset=".200" stop-color="#404040"/><stop offset=".213" stop-color="#424242"/><stop offset=".249" stop-color="#686868"/><stop offset=".296" stop-color="#838383"/><stop offset=".319" stop-color="#a2a2a2"/><stop offset=".345" stop-color="#bcbcbc"/><stop offset=".387" stop-color="#c5c5c5"/><stop offset=".427" stop-color="#d0d0d0"/><stop offset=".498" stop-color="#c5c5c5"/><stop offset=".554" stop-color="#cbcbcb"/><stop offset=".555" stop-color="#c2c2c2"/><stop offset=".557" stop-color="#adadad"/><stop offset=".562" stop-color="#5f5f5f"/><stop offset=".564" stop-color="#4b4b4b"/><stop offset=".565" stop-color="#424242"/><stop offset=".613" stop-color="#5c5c5c"/><stop offset=".627" stop-color="#5f5f5f"/><stop offset=".660" stop-color="#5b5b5b"/><stop offset=".679" stop-color="#494949"/><stop offset=".699" stop-color="#232323"/><stop offset=".709" stop-color="#111111"/><stop offset=".733" stop-color="#000000"/><stop offset=".999" stop-color="#000000"/></linearGradient><linearGradient id="g122" gradientUnits="userSpaceOnUse" x1="765" x2="1378"><stop offset=".001" stop-color="#040404"/><stop offset=".123" stop-color="#202020"/><stop offset=".136" stop-color="#232323"/><stop offset=".159" stop-color="#333333"/><stop offset=".201" stop-color="#404040"/><stop offset=".213" stop-color="#424242"/><stop offset=".247" stop-color="#666666"/><stop offset=".296" stop-color="#828282"/><stop offset=".319" stop-color="#a0a0a0"/><stop offset=".343" stop-color="#bbbbbb"/><stop offset=".394" stop-color="#c4c4c4"/><stop offset=".430" stop-color="#cdcdcd"/><stop offset=".495" stop-color="#c3c3c3"/><stop offset=".554" stop-color="#cbcbcb"/><stop offset=".555" stop-color="#c6c6c6"/><stop offset=".557" stop-color="#b6b6b6"/><stop offset=".562" stop-color="#686868"/><stop offset=".564" stop-color="#515151"/><stop offset=".565" stop-color="#444444"/><stop offset=".569" stop-color="#424242"/><stop offset=".622" stop-color="#606060"/><stop offset=".660" stop-color="#5b5b5b"/><stop offset=".679" stop-color="#494949"/><stop offset=".701" stop-color="#1f1f1f"/><stop offset=".709" stop-color="#111111"/><stop offset=".733" stop-color="#000000"/><stop offset=".999" stop-color="#000000"/></linearGradient><linearGradient id="g123" gradientUnits="userSpaceOnUse" x1="765" x2="1378"><stop offset=".001" stop-color="#040404"/><stop offset=".123" stop-color="#202020"/><stop offset=".136" stop-color="#232323"/><stop offset=".157" stop-color="#323232"/><stop offset=".203" stop-color="#404040"/><stop offset=".215" stop-color="#434343"/><stop offset=".246" stop-color="#646464"/><stop offset=".298" stop-color="#838383"/><stop offset=".321" stop-color="#a1a1a1"/><stop offset=".343" stop-color="#bababa"/><stop offset=".400" stop-color="#c4c4c4"/><stop offset=".435" stop-color="#cccccc"/><stop offset=".492" stop-color="#c2c2c2"/><stop offset=".554" stop-color="#cbcbcb"/><stop offset=".555" stop-color="#c8c8c8"/><stop offset=".557" stop-color="#bdbdbd"/><stop offset=".559" stop-color="#a6a6a6"/><stop offset=".564" stop-color="#585858"/><stop offset=".565" stop-color="#474747"/><stop offset=".567" stop-color="#424242"/><stop offset=".622" stop-color="#606060"/><stop offset=".660" stop-color="#5b5b5b"/><stop offset=".679" stop-color="#494949"/><stop offset=".701" stop-color="#1f1f1f"/><stop offset=".709" stop-color="#111111"/><stop offset=".733" stop-color="#000000"/><stop offset=".999" stop-color="#000000"/></linearGradient><linearGradient id="g124" gradientUnits="userSpaceOnUse" x1="765" x2="1378"><stop offset=".001" stop-color="#040404"/><stop offset=".125" stop-color="#202020"/><stop offset=".136" stop-color="#232323"/><stop offset=".157" stop-color="#313131"/><stop offset=".205" stop-color="#404040"/><stop offset=".215" stop-color="#424242"/><stop offset=".244" stop-color="#626262"/><stop offset=".298" stop-color="#828282"/><stop offset=".321" stop-color="#9f9f9f"/><stop offset=".343" stop-color="#b9b9b9"/><stop offset=".407" stop-color="#c4c4c4"/><stop offset=".438" stop-color="#c9c9c9"/><stop offset=".490" stop-color="#c1c1c1"/><stop offset=".555" stop-color="#c9c9c9"/><stop offset=".557" stop-color="#c1c1c1"/><stop offset=".559" stop-color="#adadad"/><stop offset=".564" stop-color="#5f5f5f"/><stop offset=".565" stop-color="#4c4c4c"/><stop offset=".567" stop-color="#444444"/><stop offset=".622" stop-color="#606060"/><stop offset=".660" stop-color="#5b5b5b"/><stop offset=".679" stop-color="#494949"/><stop offset=".701" stop-color="#1f1f1f"/><stop offset=".709" stop-color="#111111"/><stop offset=".733" stop-color="#000000"/><stop offset=".999" stop-color="#000000"/></linearGradient><linearGradient id="g125" gradientUnits="userSpaceOnUse" x1="765" x2="1378"><stop offset=".001" stop-color="#040404"/><stop offset=".125" stop-color="#202020"/><stop offset=".136" stop-color="#232323"/><stop offset=".159" stop-color="#323232"/><stop offset=".208" stop-color="#404040"/><stop offset=".216" stop-color="#434343"/><stop offset=".242" stop-color="#5f5f5f"/><stop offset=".298" stop-color="#818181"/><stop offset=".321" stop-color="#9d9d9d"/><stop offset=".343" stop-color="#b9b9b9"/><stop offset=".414" stop-color="#c3c3c3"/><stop offset=".440" stop-color="#c7c7c7"/><stop offset=".489" stop-color="#c0c0c0"/><stop offset=".555" stop-color="#c9c9c9"/><stop offset=".557" stop-color="#c4c4c4"/><stop offset=".559" stop-color="#b3b3b3"/><stop offset=".564" stop-color="#676767"/><stop offset=".565" stop-color="#515151"/><stop offset=".567" stop-color="#464646"/><stop offset=".570" stop-color="#444444"/><stop offset=".622" stop-color="#606060"/><stop offset=".660" stop-color="#5b5b5b"/><stop offset=".679" stop-color="#494949"/><stop offset=".701" stop-color="#1f1f1f"/><stop offset=".709" stop-color="#111111"/><stop offset=".733" stop-color="#000000"/><stop offset=".999" stop-color="#000000"/></linearGradient><linearGradient id="g126" gradientUnits="userSpaceOnUse" x1="765" x2="1378"><stop offset=".001" stop-color="#040404"/><stop offset=".126" stop-color="#202020"/><stop offset=".138" stop-color="#252525"/><stop offset=".161" stop-color="#323232"/><stop offset=".210" stop-color="#404040"/><stop offset=".219" stop-color="#464646"/><stop offset=".241" stop-color="#5d5d5d"/><stop offset=".298" stop-color="#808080"/><stop offset=".343" stop-color="#b8b8b8"/><stop offset=".423" stop-color="#c4c4c4"/><stop offset=".443" stop-color="#c5c5c5"/><stop offset=".489" stop-color="#bfbfbf"/><stop offset=".555" stop-color="#c8c8c8"/><stop offset=".557" stop-color="#c5c5c5"/><stop offset=".559" stop-color="#b9b9b9"/><stop offset=".562" stop-color="#898989"/><stop offset=".565" stop-color="#585858"/><stop offset=".567" stop-color="#484848"/><stop offset=".569" stop-color="#444444"/><stop offset=".622" stop-color="#616161"/><stop offset=".660" stop-color="#5b5b5b"/><stop offset=".679" stop-color="#494949"/><stop offset=".701" stop-color="#1f1f1f"/><stop offset=".709" stop-color="#111111"/><stop offset=".733" stop-color="#000000"/><stop offset=".999" stop-color="#000000"/></linearGradient><linearGradient id="g127" gradientUnits="userSpaceOnUse" x1="765" x2="1378"><stop offset=".001" stop-color="#040404"/><stop offset=".128" stop-color="#202020"/><stop offset=".141" stop-color="#272727"/><stop offset=".182" stop-color="#383838"/><stop offset=".216" stop-color="#424242"/><stop offset=".241" stop-color="#5c5c5c"/><stop offset=".299" stop-color="#818181"/><stop offset=".343" stop-color="#b7b7b7"/><stop offset=".441" stop-color="#c3c3c3"/><stop offset=".492" stop-color="#bebebe"/><stop offset=".557" stop-color="#c6c6c6"/><stop offset=".559" stop-color="#bdbdbd"/><stop offset=".560" stop-color="#a9a9a9"/><stop offset=".565" stop-color="#5e5e5e"/><stop offset=".567" stop-color="#4c4c4c"/><stop offset=".569" stop-color="#454545"/><stop offset=".622" stop-color="#616161"/><stop offset=".660" stop-color="#5b5b5b"/><stop offset=".679" stop-color="#494949"/><stop offset=".702" stop-color="#1c1c1c"/><stop offset=".710" stop-color="#101010"/><stop offset=".733" stop-color="#000000"/><stop offset=".999" stop-color="#000000"/></linearGradient><linearGradient id="g128" gradientUnits="userSpaceOnUse" x1="765" x2="1378"><stop offset=".001" stop-color="#040404"/><stop offset=".135" stop-color="#222222"/><stop offset=".159" stop-color="#303030"/><stop offset=".218" stop-color="#434343"/><stop offset=".241" stop-color="#5c5c5c"/><stop offset=".299" stop-color="#808080"/><stop offset=".343" stop-color="#b6b6b6"/><stop offset=".441" stop-color="#c1c1c1"/><stop offset=".495" stop-color="#bebebe"/><stop offset=".557" stop-color="#c7c7c7"/><stop offset=".559" stop-color="#c1c1c1"/><stop offset=".560" stop-color="#afafaf"/><stop offset=".565" stop-color="#656565"/><stop offset=".567" stop-color="#515151"/><stop offset=".569" stop-color="#474747"/><stop offset=".577" stop-color="#494949"/><stop offset=".622" stop-color="#616161"/><stop offset=".660" stop-color="#5c5c5c"/><stop offset=".679" stop-color="#4a4a4a"/><stop offset=".702" stop-color="#1c1c1c"/><stop offset=".710" stop-color="#101010"/><stop offset=".733" stop-color="#000000"/><stop offset=".999" stop-color="#000000"/></linearGradient><linearGradient id="g129" gradientUnits="userSpaceOnUse" x1="765" x2="1378"><stop offset=".001" stop-color="#040404"/><stop offset=".135" stop-color="#222222"/><stop offset=".162" stop-color="#303030"/><stop offset=".218" stop-color="#434343"/><stop offset=".241" stop-color="#5b5b5b"/><stop offset=".298" stop-color="#7e7e7e"/><stop offset=".343" stop-color="#b6b6b6"/><stop offset=".443" stop-color="#bfbfbf"/><stop offset=".498" stop-color="#bdbdbd"/><stop offset=".557" stop-color="#c6c6c6"/><stop offset=".559" stop-color="#c2c2c2"/><stop offset=".560" stop-color="#b5b5b5"/><stop offset=".567" stop-color="#575757"/><stop offset=".569" stop-color="#4a4a4a"/><stop offset=".572" stop-color="#474747"/><stop offset=".622" stop-color="#616161"/><stop offset=".660" stop-color="#5c5c5c"/><stop offset=".679" stop-color="#4a4a4a"/><stop offset=".702" stop-color="#1c1c1c"/><stop offset=".710" stop-color="#101010"/><stop offset=".733" stop-color="#000000"/><stop offset=".999" stop-color="#000000"/></linearGradient><linearGradient id="g130" gradientUnits="userSpaceOnUse" x1="765" x2="1378"><stop offset=".001" stop-color="#040404"/><stop offset=".135" stop-color="#222222"/><stop offset=".162" stop-color="#303030"/><stop offset=".218" stop-color="#434343"/><stop offset=".241" stop-color="#5a5a5a"/><stop offset=".298" stop-color="#7d7d7d"/><stop offset=".335" stop-color="#ababab"/><stop offset=".345" stop-color="#b5b5b5"/><stop offset=".446" stop-color="#bebebe"/><stop offset=".500" stop-color="#bcbcbc"/><stop offset=".557" stop-color="#c5c5c5"/><stop offset=".559" stop-color="#c4c4c4"/><stop offset=".560" stop-color="#bababa"/><stop offset=".562" stop-color="#a5a5a5"/><stop offset=".567" stop-color="#5d5d5d"/><stop offset=".569" stop-color="#4c4c4c"/><stop offset=".570" stop-color="#474747"/><stop offset=".622" stop-color="#616161"/><stop offset=".660" stop-color="#5c5c5c"/><stop offset=".679" stop-color="#4a4a4a"/><stop offset=".707" stop-color="#131313"/><stop offset=".733" stop-color="#000000"/><stop offset=".999" stop-color="#000000"/></linearGradient><linearGradient id="g131" gradientUnits="userSpaceOnUse" x1="765" x2="1378"><stop offset=".001" stop-color="#040404"/><stop offset=".136" stop-color="#232323"/><stop offset=".172" stop-color="#323232"/><stop offset=".218" stop-color="#424242"/><stop offset=".239" stop-color="#585858"/><stop offset=".296" stop-color="#7c7c7c"/><stop offset=".316" stop-color="#909090"/><stop offset=".343" stop-color="#b4b4b4"/><stop offset=".446" stop-color="#bdbdbd"/><stop offset=".503" stop-color="#bcbcbc"/><stop offset=".559" stop-color="#c4c4c4"/><stop offset=".560" stop-color="#bebebe"/><stop offset=".562" stop-color="#acacac"/><stop offset=".567" stop-color="#646464"/><stop offset=".569" stop-color="#515151"/><stop offset=".570" stop-color="#494949"/><stop offset=".622" stop-color="#626262"/><stop offset=".660" stop-color="#5c5c5c"/><stop offset=".679" stop-color="#4a4a4a"/><stop offset=".707" stop-color="#131313"/><stop offset=".733" stop-color="#000000"/><stop offset=".999" stop-color="#000000"/></linearGradient><linearGradient id="g132" gradientUnits="userSpaceOnUse" x1="765" x2="1378"><stop offset=".001" stop-color="#040404"/><stop offset=".136" stop-color="#232323"/><stop offset=".190" stop-color="#383838"/><stop offset=".218" stop-color="#424242"/><stop offset=".241" stop-color="#585858"/><stop offset=".303" stop-color="#808080"/><stop offset=".343" stop-color="#b3b3b3"/><stop offset=".448" stop-color="#bcbcbc"/><stop offset=".505" stop-color="#bbbbbb"/><stop offset=".559" stop-color="#c4c4c4"/><stop offset=".560" stop-color="#c0c0c0"/><stop offset=".562" stop-color="#b1b1b1"/><stop offset=".567" stop-color="#6b6b6b"/><stop offset=".569" stop-color="#565656"/><stop offset=".570" stop-color="#4b4b4b"/><stop offset=".573" stop-color="#494949"/><stop offset=".622" stop-color="#626262"/><stop offset=".660" stop-color="#5c5c5c"/><stop offset=".679" stop-color="#4a4a4a"/><stop offset=".707" stop-color="#131313"/><stop offset=".733" stop-color="#000000"/><stop offset=".999" stop-color="#000000"/></linearGradient><linearGradient id="g133" gradientUnits="userSpaceOnUse" x1="765" x2="1378"><stop offset=".001" stop-color="#040404"/><stop offset=".136" stop-color="#232323"/><stop offset=".218" stop-color="#424242"/><stop offset=".239" stop-color="#565656"/><stop offset=".304" stop-color="#818181"/><stop offset=".343" stop-color="#b2b2b2"/><stop offset=".446" stop-color="#bbbbbb"/><stop offset=".507" stop-color="#bababa"/><stop offset=".559" stop-color="#c3c3c3"/><stop offset=".560" stop-color="#c1c1c1"/><stop offset=".562" stop-color="#b6b6b6"/><stop offset=".565" stop-color="#8a8a8a"/><stop offset=".569" stop-color="#5c5c5c"/><stop offset=".570" stop-color="#4e4e4e"/><stop offset=".572" stop-color="#494949"/><stop offset=".622" stop-color="#626262"/><stop offset=".660" stop-color="#5c5c5c"/><stop offset=".679" stop-color="#4a4a4a"/><stop offset=".707" stop-color="#131313"/><stop offset=".733" stop-color="#000000"/><stop offset=".999" stop-color="#000000"/></linearGradient><linearGradient id="g134" gradientUnits="userSpaceOnUse" x1="765" x2="1378"><stop offset=".001" stop-color="#040404"/><stop offset=".136" stop-color="#232323"/><stop offset=".218" stop-color="#414141"/><stop offset=".237" stop-color="#535353"/><stop offset=".306" stop-color="#818181"/><stop offset=".343" stop-color="#b2b2b2"/><stop offset=".446" stop-color="#bababa"/><stop offset=".508" stop-color="#bababa"/><stop offset=".560" stop-color="#c1c1c1"/><stop offset=".562" stop-color="#bababa"/><stop offset=".564" stop-color="#a8a8a8"/><stop offset=".569" stop-color="#626262"/><stop offset=".570" stop-color="#515151"/><stop offset=".572" stop-color="#4b4b4b"/><stop offset=".622" stop-color="#626262"/><stop offset=".660" stop-color="#5c5c5c"/><stop offset=".679" stop-color="#4a4a4a"/><stop offset=".707" stop-color="#131313"/><stop offset=".733" stop-color="#000000"/><stop offset=".999" stop-color="#000000"/></linearGradient><linearGradient id="g135" gradientUnits="userSpaceOnUse" x1="765" x2="1378"><stop offset=".001" stop-color="#040404"/><stop offset=".136" stop-color="#232323"/><stop offset=".218" stop-color="#414141"/><stop offset=".237" stop-color="#525252"/><stop offset=".309" stop-color="#858585"/><stop offset=".343" stop-color="#b1b1b1"/><stop offset=".443" stop-color="#bababa"/><stop offset=".510" stop-color="#b9b9b9"/><stop offset=".560" stop-color="#c1c1c1"/><stop offset=".562" stop-color="#bdbdbd"/><stop offset=".564" stop-color="#adadad"/><stop offset=".569" stop-color="#696969"/><stop offset=".570" stop-color="#565656"/><stop offset=".572" stop-color="#4c4c4c"/><stop offset=".578" stop-color="#4d4d4d"/><stop offset=".622" stop-color="#626262"/><stop offset=".660" stop-color="#5c5c5c"/><stop offset=".679" stop-color="#4a4a4a"/><stop offset=".707" stop-color="#131313"/><stop offset=".733" stop-color="#000000"/><stop offset=".999" stop-color="#000000"/></linearGradient><linearGradient id="g136" gradientUnits="userSpaceOnUse" x1="765" x2="1378"><stop offset=".001" stop-color="#040404"/><stop offset=".138" stop-color="#232323"/><stop offset=".219" stop-color="#434343"/><stop offset=".237" stop-color="#515151"/><stop offset=".309" stop-color="#848484"/><stop offset=".343" stop-color="#b0b0b0"/><stop offset=".441" stop-color="#b9b9b9"/><stop offset=".511" stop-color="#b8b8b8"/><stop offset=".560" stop-color="#c1c1c1"/><stop offset=".562" stop-color="#bebebe"/><stop offset=".564" stop-color="#b2b2b2"/><stop offset=".570" stop-color="#5c5c5c"/><stop offset=".572" stop-color="#4f4f4f"/><stop offset=".575" stop-color="#4c4c4c"/><stop offset=".622" stop-color="#636363"/><stop offset=".660" stop-color="#5d5d5d"/><stop offset=".679" stop-color="#4a4a4a"/><stop offset=".707" stop-color="#131313"/><stop offset=".733" stop-color="#000000"/><stop offset=".999" stop-color="#000000"/></linearGradient><linearGradient id="g137" gradientUnits="userSpaceOnUse" x1="765" x2="1378"><stop offset=".001" stop-color="#040404"/><stop offset=".141" stop-color="#242424"/><stop offset=".219" stop-color="#424242"/><stop offset=".237" stop-color="#505050"/><stop offset=".309" stop-color="#848484"/><stop offset=".343" stop-color="#afafaf"/><stop offset=".440" stop-color="#b8b8b8"/><stop offset=".511" stop-color="#b7b7b7"/><stop offset=".562" stop-color="#bfbfbf"/><stop offset=".564" stop-color="#b6b6b6"/><stop offset=".565" stop-color="#a4a4a4"/><stop offset=".570" stop-color="#616161"/><stop offset=".572" stop-color="#525252"/><stop offset=".573" stop-color="#4c4c4c"/><stop offset=".622" stop-color="#636363"/><stop offset=".660" stop-color="#5d5d5d"/><stop offset=".679" stop-color="#4a4a4a"/><stop offset=".707" stop-color="#131313"/><stop offset=".733" stop-color="#000000"/><stop offset=".999" stop-color="#000000"/></linearGradient><linearGradient id="g138" gradientUnits="userSpaceOnUse" x1="765" x2="1378"><stop offset=".001" stop-color="#040404"/><stop offset=".144" stop-color="#252525"/><stop offset=".219" stop-color="#424242"/><stop offset=".309" stop-color="#848484"/><stop offset=".343" stop-color="#afafaf"/><stop offset=".438" stop-color="#b7b7b7"/><stop offset=".515" stop-color="#b7b7b7"/><stop offset=".562" stop-color="#bfbfbf"/><stop offset=".564" stop-color="#b9b9b9"/><stop offset=".565" stop-color="#aaaaaa"/><stop offset=".570" stop-color="#686868"/><stop offset=".572" stop-color="#565656"/><stop offset=".573" stop-color="#4e4e4e"/><stop offset=".624" stop-color="#636363"/><stop offset=".660" stop-color="#5d5d5d"/><stop offset=".679" stop-color="#4b4b4b"/><stop offset=".707" stop-color="#131313"/><stop offset=".733" stop-color="#000000"/><stop offset=".999" stop-color="#000000"/></linearGradient><linearGradient id="g139" gradientUnits="userSpaceOnUse" x1="765" x2="1378"><stop offset=".001" stop-color="#040404"/><stop offset=".146" stop-color="#252525"/><stop offset=".221" stop-color="#434343"/><stop offset=".309" stop-color="#848484"/><stop offset=".343" stop-color="#adadad"/><stop offset=".428" stop-color="#b5b5b5"/><stop offset=".518" stop-color="#b6b6b6"/><stop offset=".562" stop-color="#bebebe"/><stop offset=".564" stop-color="#bcbcbc"/><stop offset=".565" stop-color="#b0b0b0"/><stop offset=".572" stop-color="#5d5d5d"/><stop offset=".573" stop-color="#515151"/><stop offset=".577" stop-color="#4e4e4e"/><stop offset=".622" stop-color="#636363"/><stop offset=".660" stop-color="#5d5d5d"/><stop offset=".679" stop-color="#4b4b4b"/><stop offset=".707" stop-color="#131313"/><stop offset=".733" stop-color="#000000"/><stop offset=".999" stop-color="#000000"/></linearGradient><linearGradient id="g140" gradientUnits="userSpaceOnUse" x1="765" x2="1378"><stop offset=".001" stop-color="#040404"/><stop offset=".146" stop-color="#252525"/><stop offset=".223" stop-color="#434343"/><stop offset=".309" stop-color="#838383"/><stop offset=".343" stop-color="#acacac"/><stop offset=".415" stop-color="#b3b3b3"/><stop offset=".523" stop-color="#b5b5b5"/><stop offset=".560" stop-color="#bdbdbd"/><stop offset=".564" stop-color="#bdbdbd"/><stop offset=".565" stop-color="#b7b7b7"/><stop offset=".567" stop-color="#a7a7a7"/><stop offset=".572" stop-color="#666666"/><stop offset=".573" stop-color="#555555"/><stop offset=".575" stop-color="#4f4f4f"/><stop offset=".622" stop-color="#646464"/><stop offset=".660" stop-color="#5d5d5d"/><stop offset=".679" stop-color="#4b4b4b"/><stop offset=".707" stop-color="#131313"/><stop offset=".733" stop-color="#000000"/><stop offset=".999" stop-color="#000000"/></linearGradient><linearGradient id="g141" gradientUnits="userSpaceOnUse" x1="765" x2="1378"><stop offset=".001" stop-color="#040404"/><stop offset=".146" stop-color="#252525"/><stop offset=".224" stop-color="#444444"/><stop offset=".309" stop-color="#838383"/><stop offset=".340" stop-color="#a7a7a7"/><stop offset=".384" stop-color="#b0b0b0"/><stop offset=".529" stop-color="#b3b3b3"/><stop offset=".564" stop-color="#bdbdbd"/><stop offset=".565" stop-color="#bababa"/><stop offset=".567" stop-color="#aeaeae"/><stop offset=".573" stop-color="#5b5b5b"/><stop offset=".575" stop-color="#515151"/><stop offset=".580" stop-color="#505050"/><stop offset=".622" stop-color="#646464"/><stop offset=".660" stop-color="#5d5d5d"/><stop offset=".679" stop-color="#4b4b4b"/><stop offset=".707" stop-color="#131313"/><stop offset=".733" stop-color="#000000"/><stop offset=".999" stop-color="#000000"/></linearGradient><linearGradient id="g142" gradientUnits="userSpaceOnUse" x1="765" x2="1378"><stop offset=".001" stop-color="#040404"/><stop offset=".146" stop-color="#252525"/><stop offset=".224" stop-color="#434343"/><stop offset=".311" stop-color="#858585"/><stop offset=".337" stop-color="#a3a3a3"/><stop offset=".374" stop-color="#aeaeae"/><stop offset=".538" stop-color="#b2b2b2"/><stop offset=".565" stop-color="#bbbbbb"/><stop offset=".567" stop-color="#b5b5b5"/><stop offset=".569" stop-color="#a4a4a4"/><stop offset=".573" stop-color="#626262"/><stop offset=".575" stop-color="#545454"/><stop offset=".577" stop-color="#505050"/><stop offset=".622" stop-color="#646464"/><stop offset=".660" stop-color="#5e5e5e"/><stop offset=".679" stop-color="#4b4b4b"/><stop offset=".707" stop-color="#131313"/><stop offset=".733" stop-color="#000000"/><stop offset=".999" stop-color="#000000"/></linearGradient><linearGradient id="g143" gradientUnits="userSpaceOnUse" x1="765" x2="1378"><stop offset=".001" stop-color="#040404"/><stop offset=".146" stop-color="#252525"/><stop offset=".226" stop-color="#444444"/><stop offset=".311" stop-color="#848484"/><stop offset=".334" stop-color="#9e9e9e"/><stop offset=".373" stop-color="#acacac"/><stop offset=".538" stop-color="#b0b0b0"/><stop offset=".565" stop-color="#bbbbbb"/><stop offset=".567" stop-color="#b8b8b8"/><stop offset=".569" stop-color="#acacac"/><stop offset=".573" stop-color="#6a6a6a"/><stop offset=".575" stop-color="#585858"/><stop offset=".577" stop-color="#515151"/><stop offset=".624" stop-color="#646464"/><stop offset=".660" stop-color="#5e5e5e"/><stop offset=".679" stop-color="#4c4c4c"/><stop offset=".707" stop-color="#131313"/><stop offset=".733" stop-color="#000000"/><stop offset=".999" stop-color="#000000"/></linearGradient><linearGradient id="g144" gradientUnits="userSpaceOnUse" x1="765" x2="1378"><stop offset=".001" stop-color="#040404"/><stop offset=".146" stop-color="#252525"/><stop offset=".226" stop-color="#444444"/><stop offset=".311" stop-color="#848484"/><stop offset=".330" stop-color="#999999"/><stop offset=".366" stop-color="#a8a8a8"/><stop offset=".404" stop-color="#acacac"/><stop offset=".536" stop-color="#afafaf"/><stop offset=".567" stop-color="#bababa"/><stop offset=".569" stop-color="#b3b3b3"/><stop offset=".570" stop-color="#a1a1a1"/><stop offset=".575" stop-color="#5f5f5f"/><stop offset=".577" stop-color="#535353"/><stop offset=".580" stop-color="#515151"/><stop offset=".622" stop-color="#656565"/><stop offset=".660" stop-color="#5e5e5e"/><stop offset=".679" stop-color="#4c4c4c"/><stop offset=".707" stop-color="#131313"/><stop offset=".733" stop-color="#000000"/><stop offset=".999" stop-color="#000000"/></linearGradient><linearGradient id="g145" gradientUnits="userSpaceOnUse" x1="765" x2="1378"><stop offset=".001" stop-color="#040404"/><stop offset=".146" stop-color="#252525"/><stop offset=".226" stop-color="#434343"/><stop offset=".311" stop-color="#848484"/><stop offset=".329" stop-color="#969696"/><stop offset=".365" stop-color="#a6a6a6"/><stop offset=".394" stop-color="#ababab"/><stop offset=".536" stop-color="#aeaeae"/><stop offset=".567" stop-color="#bababa"/><stop offset=".569" stop-color="#b6b6b6"/><stop offset=".570" stop-color="#a9a9a9"/><stop offset=".575" stop-color="#666666"/><stop offset=".577" stop-color="#565656"/><stop offset=".578" stop-color="#515151"/><stop offset=".622" stop-color="#656565"/><stop offset=".660" stop-color="#5f5f5f"/><stop offset=".679" stop-color="#4c4c4c"/><stop offset=".707" stop-color="#131313"/><stop offset=".733" stop-color="#000000"/><stop offset=".999" stop-color="#000000"/></linearGradient><linearGradient id="g146" gradientUnits="userSpaceOnUse" x1="765" x2="1378"><stop offset=".001" stop-color="#040404"/><stop offset=".148" stop-color="#252525"/><stop offset=".226" stop-color="#434343"/><stop offset=".311" stop-color="#838383"/><stop offset=".330" stop-color="#969696"/><stop offset=".371" stop-color="#a6a6a6"/><stop offset=".391" stop-color="#ababab"/><stop offset=".531" stop-color="#adadad"/><stop offset=".569" stop-color="#b8b8b8"/><stop offset=".570" stop-color="#b0b0b0"/><stop offset=".572" stop-color="#9e9e9e"/><stop offset=".575" stop-color="#6f6f6f"/><stop offset=".577" stop-color="#5c5c5c"/><stop offset=".578" stop-color="#535353"/><stop offset=".601" stop-color="#5c5c5c"/><stop offset=".624" stop-color="#666666"/><stop offset=".660" stop-color="#5f5f5f"/><stop offset=".679" stop-color="#4c4c4c"/><stop offset=".707" stop-color="#131313"/><stop offset=".735" stop-color="#000000"/><stop offset=".999" stop-color="#000000"/></linearGradient><linearGradient id="g147" gradientUnits="userSpaceOnUse" x1="765" x2="1378"><stop offset=".001" stop-color="#040404"/><stop offset=".148" stop-color="#252525"/><stop offset=".228" stop-color="#444444"/><stop offset=".312" stop-color="#858585"/><stop offset=".337" stop-color="#989898"/><stop offset=".386" stop-color="#aaaaaa"/><stop offset=".529" stop-color="#acacac"/><stop offset=".569" stop-color="#b9b9b9"/><stop offset=".570" stop-color="#b5b5b5"/><stop offset=".572" stop-color="#a6a6a6"/><stop offset=".577" stop-color="#636363"/><stop offset=".578" stop-color="#565656"/><stop offset=".582" stop-color="#535353"/><stop offset=".622" stop-color="#666666"/><stop offset=".660" stop-color="#5f5f5f"/><stop offset=".679" stop-color="#4d4d4d"/><stop offset=".709" stop-color="#111111"/><stop offset=".735" stop-color="#000000"/><stop offset=".999" stop-color="#000000"/></linearGradient><linearGradient id="g148" gradientUnits="userSpaceOnUse" x1="765" x2="1378"><stop offset=".001" stop-color="#040404"/><stop offset=".148" stop-color="#252525"/><stop offset=".228" stop-color="#434343"/><stop offset=".314" stop-color="#868686"/><stop offset=".342" stop-color="#999999"/><stop offset=".384" stop-color="#a9a9a9"/><stop offset=".529" stop-color="#ababab"/><stop offset=".570" stop-color="#b7b7b7"/><stop offset=".572" stop-color="#aeaeae"/><stop offset=".573" stop-color="#9a9a9a"/><stop offset=".577" stop-color="#6b6b6b"/><stop offset=".578" stop-color="#595959"/><stop offset=".580" stop-color="#535353"/><stop offset=".622" stop-color="#676767"/><stop offset=".660" stop-color="#5f5f5f"/><stop offset=".679" stop-color="#4d4d4d"/><stop offset=".709" stop-color="#111111"/><stop offset=".735" stop-color="#000000"/><stop offset=".999" stop-color="#000000"/></linearGradient><linearGradient id="g149" gradientUnits="userSpaceOnUse" x1="765" x2="1378"><stop offset=".001" stop-color="#040404"/><stop offset=".148" stop-color="#252525"/><stop offset=".228" stop-color="#434343"/><stop offset=".335" stop-color="#949494"/><stop offset=".383" stop-color="#a8a8a8"/><stop offset=".529" stop-color="#aaaaaa"/><stop offset=".570" stop-color="#b7b7b7"/><stop offset=".572" stop-color="#b3b3b3"/><stop offset=".573" stop-color="#a3a3a3"/><stop offset=".578" stop-color="#606060"/><stop offset=".580" stop-color="#555555"/><stop offset=".585" stop-color="#555555"/><stop offset=".622" stop-color="#676767"/><stop offset=".660" stop-color="#606060"/><stop offset=".679" stop-color="#4d4d4d"/><stop offset=".709" stop-color="#121212"/><stop offset=".735" stop-color="#000000"/><stop offset=".999" stop-color="#000000"/></linearGradient><linearGradient id="g150" gradientUnits="userSpaceOnUse" x1="765" x2="1378"><stop offset=".001" stop-color="#040404"/><stop offset=".148" stop-color="#252525"/><stop offset=".229" stop-color="#444444"/><stop offset=".334" stop-color="#929292"/><stop offset=".381" stop-color="#a7a7a7"/><stop offset=".529" stop-color="#aaaaaa"/><stop offset=".570" stop-color="#b7b7b7"/><stop offset=".572" stop-color="#b5b5b5"/><stop offset=".573" stop-color="#ababab"/><stop offset=".575" stop-color="#979797"/><stop offset=".578" stop-color="#686868"/><stop offset=".580" stop-color="#585858"/><stop offset=".582" stop-color="#545454"/><stop offset=".622" stop-color="#676767"/><stop offset=".660" stop-color="#606060"/><stop offset=".679" stop-color="#4d4d4d"/><stop offset=".709" stop-color="#121212"/><stop offset=".735" stop-color="#000000"/><stop offset=".999" stop-color="#000000"/></linearGradient><linearGradient id="g151" gradientUnits="userSpaceOnUse" x1="765" x2="1378"><stop offset=".001" stop-color="#040404"/><stop offset=".148" stop-color="#252525"/><stop offset=".229" stop-color="#434343"/><stop offset=".334" stop-color="#919191"/><stop offset=".379" stop-color="#a7a7a7"/><stop offset=".529" stop-color="#a9a9a9"/><stop offset=".572" stop-color="#b6b6b6"/><stop offset=".573" stop-color="#b1b1b1"/><stop offset=".575" stop-color="#a0a0a0"/><stop offset=".578" stop-color="#707070"/><stop offset=".580" stop-color="#5d5d5d"/><stop offset=".582" stop-color="#555555"/><stop offset=".622" stop-color="#686868"/><stop offset=".660" stop-color="#606060"/><stop offset=".678" stop-color="#505050"/><stop offset=".709" stop-color="#121212"/><stop offset=".735" stop-color="#000000"/><stop offset=".999" stop-color="#000000"/></linearGradient><linearGradient id="g152" gradientUnits="userSpaceOnUse" x1="765" x2="1378"><stop offset=".001" stop-color="#040404"/><stop offset=".149" stop-color="#262626"/><stop offset=".229" stop-color="#434343"/><stop offset=".332" stop-color="#8f8f8f"/><stop offset=".378" stop-color="#a6a6a6"/><stop offset=".529" stop-color="#a8a8a8"/><stop offset=".572" stop-color="#b5b5b5"/><stop offset=".573" stop-color="#b3b3b3"/><stop offset=".575" stop-color="#a8a8a8"/><stop offset=".580" stop-color="#646464"/><stop offset=".582" stop-color="#585858"/><stop offset=".585" stop-color="#555555"/><stop offset=".622" stop-color="#686868"/><stop offset=".660" stop-color="#606060"/><stop offset=".678" stop-color="#515151"/><stop offset=".709" stop-color="#121212"/><stop offset=".735" stop-color="#000000"/><stop offset=".999" stop-color="#000000"/></linearGradient><linearGradient id="g153" gradientUnits="userSpaceOnUse" x1="765" x2="1378"><stop offset=".001" stop-color="#040404"/><stop offset=".149" stop-color="#262626"/><stop offset=".229" stop-color="#434343"/><stop offset=".330" stop-color="#8d8d8d"/><stop offset=".376" stop-color="#a5a5a5"/><stop offset=".529" stop-color="#a8a8a8"/><stop offset=".573" stop-color="#b5b5b5"/><stop offset=".575" stop-color="#afafaf"/><stop offset=".577" stop-color="#9d9d9d"/><stop offset=".580" stop-color="#6c6c6c"/><stop offset=".582" stop-color="#5b5b5b"/><stop offset=".583" stop-color="#555555"/><stop offset=".622" stop-color="#686868"/><stop offset=".660" stop-color="#616161"/><stop offset=".678" stop-color="#515151"/><stop offset=".709" stop-color="#121212"/><stop offset=".735" stop-color="#000000"/><stop offset=".999" stop-color="#000000"/></linearGradient><linearGradient id="g154" gradientUnits="userSpaceOnUse" x1="765" x2="1378"><stop offset=".001" stop-color="#040404"/><stop offset=".149" stop-color="#262626"/><stop offset=".231" stop-color="#444444"/><stop offset=".329" stop-color="#8c8c8c"/><stop offset=".374" stop-color="#a4a4a4"/><stop offset=".529" stop-color="#a7a7a7"/><stop offset=".573" stop-color="#b4b4b4"/><stop offset=".575" stop-color="#b1b1b1"/><stop offset=".577" stop-color="#a5a5a5"/><stop offset=".580" stop-color="#757575"/><stop offset=".582" stop-color="#606060"/><stop offset=".583" stop-color="#575757"/><stop offset=".611" stop-color="#646464"/><stop offset=".624" stop-color="#696969"/><stop offset=".660" stop-color="#616161"/><stop offset=".678" stop-color="#515151"/><stop offset=".710" stop-color="#101010"/><stop offset=".735" stop-color="#000000"/><stop offset=".999" stop-color="#000000"/></linearGradient><linearGradient id="g155" gradientUnits="userSpaceOnUse" x1="765" x2="1378"><stop offset=".001" stop-color="#040404"/><stop offset=".149" stop-color="#262626"/><stop offset=".231" stop-color="#434343"/><stop offset=".327" stop-color="#8a8a8a"/><stop offset=".373" stop-color="#a3a3a3"/><stop offset=".529" stop-color="#a6a6a6"/><stop offset=".575" stop-color="#b3b3b3"/><stop offset=".577" stop-color="#ababab"/><stop offset=".578" stop-color="#989898"/><stop offset=".582" stop-color="#686868"/><stop offset=".583" stop-color="#5a5a5a"/><stop offset=".585" stop-color="#565656"/><stop offset=".622" stop-color="#696969"/><stop offset=".660" stop-color="#616161"/><stop offset=".678" stop-color="#515151"/><stop offset=".710" stop-color="#101010"/><stop offset=".735" stop-color="#000000"/><stop offset=".999" stop-color="#000000"/></linearGradient><linearGradient id="g156" gradientUnits="userSpaceOnUse" x1="765" x2="1378"><stop offset=".001" stop-color="#040404"/><stop offset=".149" stop-color="#262626"/><stop offset=".231" stop-color="#434343"/><stop offset=".325" stop-color="#898989"/><stop offset=".371" stop-color="#a2a2a2"/><stop offset=".529" stop-color="#a6a6a6"/><stop offset=".575" stop-color="#b3b3b3"/><stop offset=".577" stop-color="#afafaf"/><stop offset=".578" stop-color="#a0a0a0"/><stop offset=".582" stop-color="#707070"/><stop offset=".583" stop-color="#5d5d5d"/><stop offset=".585" stop-color="#575757"/><stop offset=".622" stop-color="#696969"/><stop offset=".660" stop-color="#616161"/><stop offset=".679" stop-color="#4e4e4e"/><stop offset=".710" stop-color="#111111"/><stop offset=".735" stop-color="#000000"/><stop offset=".999" stop-color="#000000"/></linearGradient><linearGradient id="g157" gradientUnits="userSpaceOnUse" x1="765" x2="1378"><stop offset=".001" stop-color="#040404"/><stop offset=".149" stop-color="#262626"/><stop offset=".232" stop-color="#444444"/><stop offset=".324" stop-color="#888888"/><stop offset=".369" stop-color="#a1a1a1"/><stop offset=".529" stop-color="#a5a5a5"/><stop offset=".575" stop-color="#b3b3b3"/><stop offset=".577" stop-color="#b1b1b1"/><stop offset=".578" stop-color="#a7a7a7"/><stop offset=".583" stop-color="#646464"/><stop offset=".585" stop-color="#595959"/><stop offset=".590" stop-color="#595959"/><stop offset=".622" stop-color="#6a6a6a"/><stop offset=".660" stop-color="#616161"/><stop offset=".679" stop-color="#4e4e4e"/><stop offset=".710" stop-color="#111111"/><stop offset=".735" stop-color="#000000"/><stop offset=".999" stop-color="#000000"/></linearGradient><linearGradient id="g158" gradientUnits="userSpaceOnUse" x1="765" x2="1378"><stop offset=".001" stop-color="#040404"/><stop offset=".149" stop-color="#262626"/><stop offset=".232" stop-color="#434343"/><stop offset=".324" stop-color="#878787"/><stop offset=".368" stop-color="#a1a1a1"/><stop offset=".528" stop-color="#a4a4a4"/><stop offset=".577" stop-color="#b2b2b2"/><stop offset=".578" stop-color="#acacac"/><stop offset=".580" stop-color="#9a9a9a"/><stop offset=".583" stop-color="#6b6b6b"/><stop offset=".585" stop-color="#5c5c5c"/><stop offset=".586" stop-color="#575757"/><stop offset=".622" stop-color="#6a6a6a"/><stop offset=".660" stop-color="#616161"/><stop offset=".679" stop-color="#4f4f4f"/><stop offset=".710" stop-color="#111111"/><stop offset=".735" stop-color="#000000"/><stop offset=".999" stop-color="#000000"/></linearGradient><linearGradient id="g159" gradientUnits="userSpaceOnUse" x1="765" x2="1378"><stop offset=".001" stop-color="#040404"/><stop offset=".151" stop-color="#262626"/><stop offset=".232" stop-color="#434343"/><stop offset=".325" stop-color="#888888"/><stop offset=".366" stop-color="#a0a0a0"/><stop offset=".528" stop-color="#a3a3a3"/><stop offset=".577" stop-color="#b1b1b1"/><stop offset=".578" stop-color="#aeaeae"/><stop offset=".580" stop-color="#a1a1a1"/><stop offset=".583" stop-color="#737373"/><stop offset=".585" stop-color="#606060"/><stop offset=".586" stop-color="#585858"/><stop offset=".622" stop-color="#6b6b6b"/><stop offset=".660" stop-color="#616161"/><stop offset=".679" stop-color="#4f4f4f"/><stop offset=".710" stop-color="#111111"/><stop offset=".735" stop-color="#000000"/><stop offset=".999" stop-color="#000000"/></linearGradient><linearGradient id="g160" gradientUnits="userSpaceOnUse" x1="765" x2="1378"><stop offset=".001" stop-color="#040404"/><stop offset=".151" stop-color="#262626"/><stop offset=".232" stop-color="#434343"/><stop offset=".325" stop-color="#888888"/><stop offset=".366" stop-color="#9f9f9f"/><stop offset=".528" stop-color="#a2a2a2"/><stop offset=".577" stop-color="#b1b1b1"/><stop offset=".578" stop-color="#afafaf"/><stop offset=".580" stop-color="#a6a6a6"/><stop offset=".582" stop-color="#929292"/><stop offset=".585" stop-color="#656565"/><stop offset=".586" stop-color="#5a5a5a"/><stop offset=".590" stop-color="#595959"/><stop offset=".622" stop-color="#6b6b6b"/><stop offset=".660" stop-color="#616161"/><stop offset=".679" stop-color="#4f4f4f"/><stop offset=".710" stop-color="#111111"/><stop offset=".733" stop-color="#010101"/><stop offset=".745" stop-color="#030303"/><stop offset=".764" stop-color="#000000"/><stop offset=".999" stop-color="#000000"/></linearGradient><linearGradient id="g161" gradientUnits="userSpaceOnUse" x1="765" x2="1378"><stop offset=".001" stop-color="#040404"/><stop offset=".151" stop-color="#262626"/><stop offset=".232" stop-color="#424242"/><stop offset=".327" stop-color="#898989"/><stop offset=".365" stop-color="#9f9f9f"/><stop offset=".528" stop-color="#a2a2a2"/><stop offset=".578" stop-color="#b0b0b0"/><stop offset=".580" stop-color="#a9a9a9"/><stop offset=".582" stop-color="#979797"/><stop offset=".585" stop-color="#696969"/><stop offset=".586" stop-color="#5b5b5b"/><stop offset=".590" stop-color="#595959"/><stop offset=".622" stop-color="#6b6b6b"/><stop offset=".660" stop-color="#626262"/><stop offset=".679" stop-color="#4f4f4f"/><stop offset=".712" stop-color="#0f0f0f"/><stop offset=".732" stop-color="#020202"/><stop offset=".741" stop-color="#0a0a0a"/><stop offset=".751" stop-color="#000000"/><stop offset=".999" stop-color="#000000"/></linearGradient><linearGradient id="g162" gradientUnits="userSpaceOnUse" x1="765" x2="1378"><stop offset=".001" stop-color="#040404"/><stop offset=".151" stop-color="#262626"/><stop offset=".234" stop-color="#434343"/><stop offset=".327" stop-color="#898989"/><stop offset=".365" stop-color="#9e9e9e"/><stop offset=".528" stop-color="#a2a2a2"/><stop offset=".578" stop-color="#b0b0b0"/><stop offset=".580" stop-color="#ababab"/><stop offset=".582" stop-color="#9a9a9a"/><stop offset=".585" stop-color="#6c6c6c"/><stop offset=".586" stop-color="#5d5d5d"/><stop offset=".588" stop-color="#585858"/><stop offset=".622" stop-color="#6b6b6b"/><stop offset=".660" stop-color="#626262"/><stop offset=".679" stop-color="#4f4f4f"/><stop offset=".712" stop-color="#0f0f0f"/><stop offset=".730" stop-color="#020202"/><stop offset=".733" stop-color="#080808"/><stop offset=".738" stop-color="#101010"/><stop offset=".743" stop-color="#0f0f0f"/><stop offset=".751" stop-color="#010101"/><stop offset=".999" stop-color="#000000"/></linearGradient><linearGradient id="g163" gradientUnits="userSpaceOnUse" x1="765" x2="1378"><stop offset=".001" stop-color="#040404"/><stop offset=".151" stop-color="#262626"/><stop offset=".234" stop-color="#434343"/><stop offset=".327" stop-color="#898989"/><stop offset=".365" stop-color="#9e9e9e"/><stop offset=".528" stop-color="#a1a1a1"/><stop offset=".578" stop-color="#b0b0b0"/><stop offset=".580" stop-color="#acacac"/><stop offset=".582" stop-color="#9e9e9e"/><stop offset=".585" stop-color="#707070"/><stop offset=".586" stop-color="#5f5f5f"/><stop offset=".588" stop-color="#595959"/><stop offset=".622" stop-color="#6b6b6b"/><stop offset=".660" stop-color="#626262"/><stop offset=".679" stop-color="#4f4f4f"/><stop offset=".712" stop-color="#0f0f0f"/><stop offset=".730" stop-color="#020202"/><stop offset=".735" stop-color="#131313"/><stop offset=".740" stop-color="#181818"/><stop offset=".746" stop-color="#0e0e0e"/><stop offset=".753" stop-color="#020202"/><stop offset=".999" stop-color="#000000"/></linearGradient><linearGradient id="g164" gradientUnits="userSpaceOnUse" x1="765" x2="1378"><stop offset=".001" stop-color="#040404"/><stop offset=".151" stop-color="#262626"/><stop offset=".234" stop-color="#434343"/><stop offset=".329" stop-color="#8a8a8a"/><stop offset=".363" stop-color="#9d9d9d"/><stop offset=".528" stop-color="#a1a1a1"/><stop offset=".578" stop-color="#b0b0b0"/><stop offset=".580" stop-color="#adadad"/><stop offset=".582" stop-color="#a1a1a1"/><stop offset=".585" stop-color="#757575"/><stop offset=".586" stop-color="#626262"/><stop offset=".588" stop-color="#5a5a5a"/><stop offset=".622" stop-color="#6c6c6c"/><stop offset=".660" stop-color="#626262"/><stop offset=".679" stop-color="#4f4f4f"/><stop offset=".712" stop-color="#0f0f0f"/><stop offset=".728" stop-color="#020202"/><stop offset=".730" stop-color="#040404"/><stop offset=".735" stop-color="#1a1a1a"/><stop offset=".740" stop-color="#1f1f1f"/><stop offset=".756" stop-color="#010101"/><stop offset=".999" stop-color="#000000"/></linearGradient><linearGradient id="g165" gradientUnits="userSpaceOnUse" x1="765" x2="1378"><stop offset=".001" stop-color="#040404"/><stop offset=".151" stop-color="#262626"/><stop offset=".234" stop-color="#434343"/><stop offset=".329" stop-color="#8a8a8a"/><stop offset=".363" stop-color="#9d9d9d"/><stop offset=".528" stop-color="#a1a1a1"/><stop offset=".578" stop-color="#afafaf"/><stop offset=".580" stop-color="#aeaeae"/><stop offset=".582" stop-color="#a4a4a4"/><stop offset=".586" stop-color="#656565"/><stop offset=".588" stop-color="#5b5b5b"/><stop offset=".593" stop-color="#5b5b5b"/><stop offset=".622" stop-color="#6c6c6c"/><stop offset=".660" stop-color="#626262"/><stop offset=".679" stop-color="#4f4f4f"/><stop offset=".712" stop-color="#0f0f0f"/><stop offset=".728" stop-color="#020202"/><stop offset=".732" stop-color="#0e0e0e"/><stop offset=".735" stop-color="#202020"/><stop offset=".738" stop-color="#262626"/><stop offset=".743" stop-color="#202020"/><stop offset=".758" stop-color="#020202"/><stop offset=".999" stop-color="#000000"/></linearGradient><linearGradient id="g166" gradientUnits="userSpaceOnUse" x1="765" x2="1378"><stop offset=".001" stop-color="#040404"/><stop offset=".151" stop-color="#262626"/><stop offset=".234" stop-color="#434343"/><stop offset=".329" stop-color="#8a8a8a"/><stop offset=".361" stop-color="#9c9c9c"/><stop offset=".528" stop-color="#a0a0a0"/><stop offset=".580" stop-color="#aeaeae"/><stop offset=".582" stop-color="#a7a7a7"/><stop offset=".583" stop-color="#959595"/><stop offset=".586" stop-color="#696969"/><stop offset=".588" stop-color="#5c5c5c"/><stop offset=".591" stop-color="#5a5a5a"/><stop offset=".622" stop-color="#6c6c6c"/><stop offset=".660" stop-color="#626262"/><stop offset=".679" stop-color="#4f4f4f"/><stop offset=".712" stop-color="#0f0f0f"/><stop offset=".727" stop-color="#020202"/><stop offset=".728" stop-color="#040404"/><stop offset=".735" stop-color="#252525"/><stop offset=".738" stop-color="#2d2d2d"/><stop offset=".748" stop-color="#1a1a1a"/><stop offset=".759" stop-color="#020202"/><stop offset=".813" stop-color="#000000"/><stop offset=".999" stop-color="#000000"/></linearGradient><linearGradient id="g167" gradientUnits="userSpaceOnUse" x1="765" x2="1378"><stop offset=".001" stop-color="#040404"/><stop offset=".153" stop-color="#272727"/><stop offset=".234" stop-color="#424242"/><stop offset=".330" stop-color="#8b8b8b"/><stop offset=".361" stop-color="#9c9c9c"/><stop offset=".528" stop-color="#a0a0a0"/><stop offset=".580" stop-color="#aeaeae"/><stop offset=".582" stop-color="#aaaaaa"/><stop offset=".583" stop-color="#9a9a9a"/><stop offset=".586" stop-color="#6e6e6e"/><stop offset=".588" stop-color="#5e5e5e"/><stop offset=".590" stop-color="#595959"/><stop offset=".622" stop-color="#6c6c6c"/><stop offset=".660" stop-color="#626262"/><stop offset=".679" stop-color="#4f4f4f"/><stop offset=".714" stop-color="#0d0d0d"/><stop offset=".725" stop-color="#020202"/><stop offset=".727" stop-color="#040404"/><stop offset=".730" stop-color="#121212"/><stop offset=".737" stop-color="#353535"/><stop offset=".740" stop-color="#343434"/><stop offset=".763" stop-color="#030303"/><stop offset=".779" stop-color="#000000"/><stop offset=".999" stop-color="#000000"/></linearGradient><linearGradient id="g168" gradientUnits="userSpaceOnUse" x1="765" x2="1378"><stop offset=".001" stop-color="#040404"/><stop offset=".153" stop-color="#272727"/><stop offset=".236" stop-color="#434343"/><stop offset=".330" stop-color="#8b8b8b"/><stop offset=".360" stop-color="#9b9b9b"/><stop offset=".528" stop-color="#9f9f9f"/><stop offset=".580" stop-color="#aeaeae"/><stop offset=".582" stop-color="#acacac"/><stop offset=".583" stop-color="#a1a1a1"/><stop offset=".588" stop-color="#636363"/><stop offset=".590" stop-color="#5b5b5b"/><stop offset=".613" stop-color="#686868"/><stop offset=".624" stop-color="#6c6c6c"/><stop offset=".660" stop-color="#626262"/><stop offset=".679" stop-color="#4f4f4f"/><stop offset=".714" stop-color="#0c0c0c"/><stop offset=".723" stop-color="#020202"/><stop offset=".725" stop-color="#050505"/><stop offset=".732" stop-color="#272727"/><stop offset=".735" stop-color="#383838"/><stop offset=".738" stop-color="#3f3f3f"/><stop offset=".745" stop-color="#353535"/><stop offset=".768" stop-color="#030303"/><stop offset=".785" stop-color="#000000"/><stop offset=".999" stop-color="#000000"/></linearGradient><linearGradient id="g169" gradientUnits="userSpaceOnUse" x1="765" x2="1378"><stop offset=".001" stop-color="#040404"/><stop offset=".153" stop-color="#262626"/><stop offset=".236" stop-color="#434343"/><stop offset=".332" stop-color="#8c8c8c"/><stop offset=".358" stop-color="#9a9a9a"/><stop offset=".528" stop-color="#9f9f9f"/><stop offset=".582" stop-color="#adadad"/><stop offset=".583" stop-color="#a5a5a5"/><stop offset=".585" stop-color="#939393"/><stop offset=".588" stop-color="#686868"/><stop offset=".590" stop-color="#5c5c5c"/><stop offset=".593" stop-color="#5b5b5b"/><stop offset=".622" stop-color="#6d6d6d"/><stop offset=".660" stop-color="#626262"/><stop offset=".679" stop-color="#4f4f4f"/><stop offset=".715" stop-color="#0a0a0a"/><stop offset=".722" stop-color="#020202"/><stop offset=".723" stop-color="#040404"/><stop offset=".727" stop-color="#131313"/><stop offset=".733" stop-color="#383838"/><stop offset=".737" stop-color="#424242"/><stop offset=".743" stop-color="#414141"/><stop offset=".771" stop-color="#030303"/><stop offset=".787" stop-color="#000000"/><stop offset=".999" stop-color="#000000"/></linearGradient><linearGradient id="g170" gradientUnits="userSpaceOnUse" x1="765" x2="1378"><stop offset=".001" stop-color="#040404"/><stop offset=".153" stop-color="#262626"/><stop offset=".236" stop-color="#434343"/><stop offset=".332" stop-color="#8c8c8c"/><stop offset=".358" stop-color="#9a9a9a"/><stop offset=".528" stop-color="#9e9e9e"/><stop offset=".582" stop-color="#adadad"/><stop offset=".583" stop-color="#a8a8a8"/><stop offset=".585" stop-color="#979797"/><stop offset=".588" stop-color="#6c6c6c"/><stop offset=".590" stop-color="#5e5e5e"/><stop offset=".591" stop-color="#5a5a5a"/><stop offset=".622" stop-color="#6d6d6d"/><stop offset=".660" stop-color="#626262"/><stop offset=".679" stop-color="#505050"/><stop offset=".717" stop-color="#070707"/><stop offset=".722" stop-color="#030303"/><stop offset=".723" stop-color="#070707"/><stop offset=".735" stop-color="#454545"/><stop offset=".740" stop-color="#4b4b4b"/><stop offset=".745" stop-color="#444444"/><stop offset=".774" stop-color="#020202"/><stop offset=".999" stop-color="#000000"/></linearGradient><linearGradient id="g171" gradientUnits="userSpaceOnUse" x1="765" x2="1378"><stop offset=".001" stop-color="#040404"/><stop offset=".153" stop-color="#262626"/><stop offset=".236" stop-color="#434343"/><stop offset=".332" stop-color="#8c8c8c"/><stop offset=".358" stop-color="#9a9a9a"/><stop offset=".528" stop-color="#9e9e9e"/><stop offset=".582" stop-color="#adadad"/><stop offset=".583" stop-color="#a9a9a9"/><stop offset=".585" stop-color="#9b9b9b"/><stop offset=".588" stop-color="#6f6f6f"/><stop offset=".590" stop-color="#5f5f5f"/><stop offset=".591" stop-color="#5a5a5a"/><stop offset=".622" stop-color="#6d6d6d"/><stop offset=".660" stop-color="#626262"/><stop offset=".679" stop-color="#505050"/><stop offset=".717" stop-color="#060606"/><stop offset=".720" stop-color="#030303"/><stop offset=".722" stop-color="#050505"/><stop offset=".727" stop-color="#1e1e1e"/><stop offset=".735" stop-color="#4c4c4c"/><stop offset=".738" stop-color="#535353"/><stop offset=".741" stop-color="#535353"/><stop offset=".776" stop-color="#030303"/><stop offset=".797" stop-color="#000000"/><stop offset=".999" stop-color="#000000"/></linearGradient><linearGradient id="g172" gradientUnits="userSpaceOnUse" x1="765" x2="1378"><stop offset=".001" stop-color="#040404"/><stop offset=".153" stop-color="#262626"/><stop offset=".236" stop-color="#434343"/><stop offset=".334" stop-color="#8d8d8d"/><stop offset=".356" stop-color="#999999"/><stop offset=".528" stop-color="#9e9e9e"/><stop offset=".582" stop-color="#acacac"/><stop offset=".583" stop-color="#aaaaaa"/><stop offset=".585" stop-color="#9e9e9e"/><stop offset=".588" stop-color="#737373"/><stop offset=".590" stop-color="#626262"/><stop offset=".591" stop-color="#5b5b5b"/><stop offset=".622" stop-color="#6d6d6d"/><stop offset=".660" stop-color="#626262"/><stop offset=".679" stop-color="#505050"/><stop offset=".719" stop-color="#030303"/><stop offset=".720" stop-color="#030303"/><stop offset=".723" stop-color="#101010"/><stop offset=".735" stop-color="#535353"/><stop offset=".738" stop-color="#5d5d5d"/><stop offset=".741" stop-color="#5c5c5c"/><stop offset=".761" stop-color="#2a2a2a"/><stop offset=".777" stop-color="#040404"/><stop offset=".785" stop-color="#000000"/><stop offset=".999" stop-color="#000000"/></linearGradient><linearGradient id="g173" gradientUnits="userSpaceOnUse" x1="765" x2="1378"><stop offset=".001" stop-color="#040404"/><stop offset=".153" stop-color="#262626"/><stop offset=".236" stop-color="#424242"/><stop offset=".334" stop-color="#8d8d8d"/><stop offset=".356" stop-color="#999999"/><stop offset=".528" stop-color="#9d9d9d"/><stop offset=".582" stop-color="#acacac"/><stop offset=".583" stop-color="#aaaaaa"/><stop offset=".585" stop-color="#a1a1a1"/><stop offset=".590" stop-color="#656565"/><stop offset=".591" stop-color="#5c5c5c"/><stop offset=".601" stop-color="#606060"/><stop offset=".622" stop-color="#6e6e6e"/><stop offset=".660" stop-color="#626262"/><stop offset=".679" stop-color="#505050"/><stop offset=".719" stop-color="#040404"/><stop offset=".720" stop-color="#060606"/><stop offset=".725" stop-color="#202020"/><stop offset=".737" stop-color="#616161"/><stop offset=".740" stop-color="#676767"/><stop offset=".748" stop-color="#525252"/><stop offset=".766" stop-color="#242424"/><stop offset=".781" stop-color="#020202"/><stop offset=".815" stop-color="#000000"/><stop offset=".999" stop-color="#000000"/></linearGradient><linearGradient id="g174" gradientUnits="userSpaceOnUse" x1="765" x2="1378"><stop offset=".001" stop-color="#040404"/><stop offset=".153" stop-color="#262626"/><stop offset=".236" stop-color="#424242"/><stop offset=".334" stop-color="#8d8d8d"/><stop offset=".356" stop-color="#989898"/><stop offset=".528" stop-color="#9d9d9d"/><stop offset=".583" stop-color="#ababab"/><stop offset=".585" stop-color="#a4a4a4"/><stop offset=".586" stop-color="#929292"/><stop offset=".590" stop-color="#686868"/><stop offset=".591" stop-color="#5d5d5d"/><stop offset=".595" stop-color="#5c5c5c"/><stop offset=".621" stop-color="#6e6e6e"/><stop offset=".660" stop-color="#626262"/><stop offset=".679" stop-color="#505050"/><stop offset=".717" stop-color="#070707"/><stop offset=".719" stop-color="#060606"/><stop offset=".720" stop-color="#0a0a0a"/><stop offset=".737" stop-color="#686868"/><stop offset=".738" stop-color="#6e6e6e"/><stop offset=".740" stop-color="#6f6f6f"/><stop offset=".764" stop-color="#2e2e2e"/><stop offset=".782" stop-color="#040404"/><stop offset=".792" stop-color="#000000"/><stop offset=".999" stop-color="#000000"/></linearGradient><linearGradient id="g175" gradientUnits="userSpaceOnUse" x1="765" x2="1378"><stop offset=".001" stop-color="#040404"/><stop offset=".154" stop-color="#272727"/><stop offset=".237" stop-color="#434343"/><stop offset=".334" stop-color="#8d8d8d"/><stop offset=".355" stop-color="#989898"/><stop offset=".528" stop-color="#9d9d9d"/><stop offset=".583" stop-color="#ababab"/><stop offset=".585" stop-color="#a6a6a6"/><stop offset=".586" stop-color="#969696"/><stop offset=".590" stop-color="#6b6b6b"/><stop offset=".591" stop-color="#5e5e5e"/><stop offset=".593" stop-color="#5b5b5b"/><stop offset=".622" stop-color="#6e6e6e"/><stop offset=".660" stop-color="#636363"/><stop offset=".679" stop-color="#505050"/><stop offset=".714" stop-color="#0e0e0e"/><stop offset=".719" stop-color="#0b0b0b"/><stop offset=".722" stop-color="#181818"/><stop offset=".738" stop-color="#747474"/><stop offset=".740" stop-color="#777777"/><stop offset=".753" stop-color="#535353"/><stop offset=".771" stop-color="#252525"/><stop offset=".785" stop-color="#020202"/><stop offset=".852" stop-color="#000000"/><stop offset=".999" stop-color="#000000"/></linearGradient><linearGradient id="g176" gradientUnits="userSpaceOnUse" x1="765" x2="1378"><stop offset=".001" stop-color="#040404"/><stop offset=".154" stop-color="#272727"/><stop offset=".237" stop-color="#434343"/><stop offset=".335" stop-color="#8e8e8e"/><stop offset=".355" stop-color="#989898"/><stop offset=".528" stop-color="#9c9c9c"/><stop offset=".583" stop-color="#ababab"/><stop offset=".585" stop-color="#a7a7a7"/><stop offset=".586" stop-color="#999999"/><stop offset=".590" stop-color="#6f6f6f"/><stop offset=".591" stop-color="#5f5f5f"/><stop offset=".593" stop-color="#5b5b5b"/><stop offset=".622" stop-color="#6e6e6e"/><stop offset=".660" stop-color="#636363"/><stop offset=".679" stop-color="#505050"/><stop offset=".709" stop-color="#181818"/><stop offset=".719" stop-color="#101010"/><stop offset=".722" stop-color="#1e1e1e"/><stop offset=".737" stop-color="#717171"/><stop offset=".738" stop-color="#797979"/><stop offset=".740" stop-color="#7c7c7c"/><stop offset=".745" stop-color="#737373"/><stop offset=".766" stop-color="#373737"/><stop offset=".787" stop-color="#030303"/><stop offset=".799" stop-color="#000000"/><stop offset=".999" stop-color="#000000"/></linearGradient><linearGradient id="g177" gradientUnits="userSpaceOnUse" x1="765" x2="1378"><stop offset=".001" stop-color="#040404"/><stop offset=".154" stop-color="#272727"/><stop offset=".237" stop-color="#434343"/><stop offset=".335" stop-color="#8e8e8e"/><stop offset=".355" stop-color="#979797"/><stop offset=".528" stop-color="#9c9c9c"/><stop offset=".583" stop-color="#ababab"/><stop offset=".585" stop-color="#a8a8a8"/><stop offset=".586" stop-color="#9c9c9c"/><stop offset=".590" stop-color="#727272"/><stop offset=".591" stop-color="#626262"/><stop offset=".593" stop-color="#5c5c5c"/><stop offset=".622" stop-color="#6e6e6e"/><stop offset=".660" stop-color="#636363"/><stop offset=".679" stop-color="#505050"/><stop offset=".704" stop-color="#212121"/><stop offset=".719" stop-color="#161616"/><stop offset=".722" stop-color="#242424"/><stop offset=".737" stop-color="#757575"/><stop offset=".740" stop-color="#7e7e7e"/><stop offset=".745" stop-color="#7a7a7a"/><stop offset=".771" stop-color="#313131"/><stop offset=".790" stop-color="#020202"/><stop offset=".999" stop-color="#000000"/></linearGradient><linearGradient id="g178" gradientUnits="userSpaceOnUse" x1="765" x2="1378"><stop offset=".001" stop-color="#040404"/><stop offset=".154" stop-color="#272727"/><stop offset=".237" stop-color="#434343"/><stop offset=".335" stop-color="#8e8e8e"/><stop offset=".355" stop-color="#979797"/><stop offset=".528" stop-color="#9c9c9c"/><stop offset=".583" stop-color="#ababab"/><stop offset=".585" stop-color="#a9a9a9"/><stop offset=".586" stop-color="#9e9e9e"/><stop offset=".591" stop-color="#646464"/><stop offset=".593" stop-color="#5c5c5c"/><stop offset=".622" stop-color="#6f6f6f"/><stop offset=".660" stop-color="#636363"/><stop offset=".679" stop-color="#505050"/><stop offset=".701" stop-color="#292929"/><stop offset=".719" stop-color="#1c1c1c"/><stop offset=".722" stop-color="#2a2a2a"/><stop offset=".737" stop-color="#797979"/><stop offset=".740" stop-color="#808080"/><stop offset=".746" stop-color="#7c7c7c"/><stop offset=".774" stop-color="#2f2f2f"/><stop offset=".792" stop-color="#030303"/><stop offset=".805" stop-color="#000000"/><stop offset=".999" stop-color="#000000"/></linearGradient><linearGradient id="g179" gradientUnits="userSpaceOnUse" x1="765" x2="1378"><stop offset=".001" stop-color="#040404"/><stop offset=".154" stop-color="#272727"/><stop offset=".237" stop-color="#424242"/><stop offset=".337" stop-color="#8f8f8f"/><stop offset=".355" stop-color="#969696"/><stop offset=".528" stop-color="#9b9b9b"/><stop offset=".582" stop-color="#aaaaaa"/><stop offset=".585" stop-color="#a9a9a9"/><stop offset=".586" stop-color="#a1a1a1"/><stop offset=".591" stop-color="#676767"/><stop offset=".593" stop-color="#5d5d5d"/><stop offset=".598" stop-color="#5e5e5e"/><stop offset=".621" stop-color="#6f6f6f"/><stop offset=".660" stop-color="#636363"/><stop offset=".679" stop-color="#505050"/><stop offset=".697" stop-color="#313131"/><stop offset=".717" stop-color="#212121"/><stop offset=".719" stop-color="#212121"/><stop offset=".722" stop-color="#303030"/><stop offset=".735" stop-color="#777777"/><stop offset=".738" stop-color="#808080"/><stop offset=".746" stop-color="#7f7f7f"/><stop offset=".753" stop-color="#737373"/><stop offset=".776" stop-color="#313131"/><stop offset=".795" stop-color="#020202"/><stop offset=".999" stop-color="#000000"/></linearGradient><linearGradient id="g180" gradientUnits="userSpaceOnUse" x1="765" x2="1378"><stop offset=".001" stop-color="#040404"/><stop offset=".154" stop-color="#272727"/><stop offset=".237" stop-color="#424242"/><stop offset=".337" stop-color="#8f8f8f"/><stop offset=".353" stop-color="#969696"/><stop offset=".528" stop-color="#9b9b9b"/><stop offset=".580" stop-color="#a9a9a9"/><stop offset=".585" stop-color="#a9a9a9"/><stop offset=".586" stop-color="#a3a3a3"/><stop offset=".588" stop-color="#929292"/><stop offset=".591" stop-color="#6a6a6a"/><stop offset=".593" stop-color="#5e5e5e"/><stop offset=".596" stop-color="#5d5d5d"/><stop offset=".621" stop-color="#6f6f6f"/><stop offset=".660" stop-color="#636363"/><stop offset=".679" stop-color="#505050"/><stop offset=".692" stop-color="#3a3a3a"/><stop offset=".717" stop-color="#262626"/><stop offset=".719" stop-color="#272727"/><stop offset=".722" stop-color="#363636"/><stop offset=".735" stop-color="#7b7b7b"/><stop offset=".738" stop-color="#818181"/><stop offset=".750" stop-color="#7f7f7f"/><stop offset=".756" stop-color="#717171"/><stop offset=".777" stop-color="#343434"/><stop offset=".797" stop-color="#030303"/><stop offset=".813" stop-color="#000000"/><stop offset=".999" stop-color="#000000"/></linearGradient><linearGradient id="g181" gradientUnits="userSpaceOnUse" x1="765" x2="1378"><stop offset=".001" stop-color="#040404"/><stop offset=".154" stop-color="#272727"/><stop offset=".237" stop-color="#424242"/><stop offset=".337" stop-color="#8f8f8f"/><stop offset=".353" stop-color="#969696"/><stop offset=".528" stop-color="#9b9b9b"/><stop offset=".578" stop-color="#a7a7a7"/><stop offset=".585" stop-color="#aaaaaa"/><stop offset=".586" stop-color="#a5a5a5"/><stop offset=".588" stop-color="#959595"/><stop offset=".591" stop-color="#6c6c6c"/><stop offset=".593" stop-color="#5f5f5f"/><stop offset=".595" stop-color="#5c5c5c"/><stop offset=".621" stop-color="#6f6f6f"/><stop offset=".660" stop-color="#636363"/><stop offset=".679" stop-color="#505050"/><stop offset=".689" stop-color="#3f3f3f"/><stop offset=".717" stop-color="#2c2c2c"/><stop offset=".719" stop-color="#2d2d2d"/><stop offset=".722" stop-color="#3c3c3c"/><stop offset=".733" stop-color="#787878"/><stop offset=".737" stop-color="#818181"/><stop offset=".746" stop-color="#828282"/><stop offset=".754" stop-color="#7c7c7c"/><stop offset=".784" stop-color="#2a2a2a"/><stop offset=".799" stop-color="#040404"/><stop offset=".807" stop-color="#000000"/><stop offset=".999" stop-color="#000000"/></linearGradient><linearGradient id="g182" gradientUnits="userSpaceOnUse" x1="765" x2="1378"><stop offset=".001" stop-color="#040404"/><stop offset=".154" stop-color="#272727"/><stop offset=".239" stop-color="#434343"/><stop offset=".337" stop-color="#8f8f8f"/><stop offset=".353" stop-color="#959595"/><stop offset=".528" stop-color="#9a9a9a"/><stop offset=".577" stop-color="#a6a6a6"/><stop offset=".585" stop-color="#a9a9a9"/><stop offset=".586" stop-color="#a6a6a6"/><stop offset=".588" stop-color="#979797"/><stop offset=".591" stop-color="#6f6f6f"/><stop offset=".593" stop-color="#606060"/><stop offset=".595" stop-color="#5c5c5c"/><stop offset=".621" stop-color="#6f6f6f"/><stop offset=".660" stop-color="#636363"/><stop offset=".679" stop-color="#505050"/><stop offset=".689" stop-color="#404040"/><stop offset=".707" stop-color="#393939"/><stop offset=".717" stop-color="#313131"/><stop offset=".719" stop-color="#323232"/><stop offset=".725" stop-color="#535353"/><stop offset=".733" stop-color="#7c7c7c"/><stop offset=".738" stop-color="#848484"/><stop offset=".756" stop-color="#7e7e7e"/><stop offset=".766" stop-color="#646464"/><stop offset=".785" stop-color="#2c2c2c"/><stop offset=".802" stop-color="#030303"/><stop offset=".826" stop-color="#000000"/><stop offset=".999" stop-color="#000000"/></linearGradient><linearGradient id="g183" gradientUnits="userSpaceOnUse" x1="765" x2="1378"><stop offset=".001" stop-color="#040404"/><stop offset=".156" stop-color="#272727"/><stop offset=".239" stop-color="#434343"/><stop offset=".337" stop-color="#8f8f8f"/><stop offset=".353" stop-color="#959595"/><stop offset=".526" stop-color="#999999"/><stop offset=".573" stop-color="#a4a4a4"/><stop offset=".585" stop-color="#a9a9a9"/><stop offset=".586" stop-color="#a6a6a6"/><stop offset=".588" stop-color="#9a9a9a"/><stop offset=".591" stop-color="#727272"/><stop offset=".593" stop-color="#626262"/><stop offset=".595" stop-color="#5d5d5d"/><stop offset=".621" stop-color="#707070"/><stop offset=".660" stop-color="#636363"/><stop offset=".679" stop-color="#505050"/><stop offset=".689" stop-color="#404040"/><stop offset=".710" stop-color="#3b3b3b"/><stop offset=".719" stop-color="#383838"/><stop offset=".727" stop-color="#616161"/><stop offset=".732" stop-color="#7a7a7a"/><stop offset=".737" stop-color="#858585"/><stop offset=".741" stop-color="#868686"/><stop offset=".759" stop-color="#7d7d7d"/><stop offset=".777" stop-color="#494949"/><stop offset=".803" stop-color="#040404"/><stop offset=".812" stop-color="#000000"/><stop offset=".999" stop-color="#000000"/></linearGradient><linearGradient id="g184" gradientUnits="userSpaceOnUse" x1="765" x2="1378"><stop offset=".001" stop-color="#040404"/><stop offset=".156" stop-color="#272727"/><stop offset=".239" stop-color="#434343"/><stop offset=".338" stop-color="#909090"/><stop offset=".358" stop-color="#959595"/><stop offset=".526" stop-color="#999999"/><stop offset=".572" stop-color="#a3a3a3"/><stop offset=".585" stop-color="#a9a9a9"/><stop offset=".586" stop-color="#a7a7a7"/><stop offset=".588" stop-color="#9c9c9c"/><stop offset=".593" stop-color="#646464"/><stop offset=".595" stop-color="#5d5d5d"/><stop offset=".622" stop-color="#707070"/><stop offset=".662" stop-color="#626262"/><stop offset=".679" stop-color="#505050"/><stop offset=".689" stop-color="#404040"/><stop offset=".719" stop-color="#3d3d3d"/><stop offset=".732" stop-color="#7e7e7e"/><stop offset=".738" stop-color="#8c8c8c"/><stop offset=".754" stop-color="#828282"/><stop offset=".763" stop-color="#7c7c7c"/><stop offset=".794" stop-color="#242424"/><stop offset=".807" stop-color="#020202"/><stop offset=".843" stop-color="#000000"/><stop offset=".999" stop-color="#000000"/></linearGradient><linearGradient id="g185" gradientUnits="userSpaceOnUse" x1="765" x2="1378"><stop offset=".001" stop-color="#040404"/><stop offset=".156" stop-color="#272727"/><stop offset=".239" stop-color="#434343"/><stop offset=".337" stop-color="#8f8f8f"/><stop offset=".353" stop-color="#949494"/><stop offset=".526" stop-color="#999999"/><stop offset=".570" stop-color="#a2a2a2"/><stop offset=".586" stop-color="#a7a7a7"/><stop offset=".588" stop-color="#9e9e9e"/><stop offset=".593" stop-color="#666666"/><stop offset=".595" stop-color="#5e5e5e"/><stop offset=".606" stop-color="#656565"/><stop offset=".622" stop-color="#707070"/><stop offset=".662" stop-color="#626262"/><stop offset=".679" stop-color="#505050"/><stop offset=".689" stop-color="#404040"/><stop offset=".717" stop-color="#3f3f3f"/><stop offset=".720" stop-color="#494949"/><stop offset=".730" stop-color="#7c7c7c"/><stop offset=".737" stop-color="#8f8f8f"/><stop offset=".740" stop-color="#919191"/><stop offset=".750" stop-color="#858585"/><stop offset=".764" stop-color="#7e7e7e"/><stop offset=".774" stop-color="#636363"/><stop offset=".795" stop-color="#262626"/><stop offset=".808" stop-color="#040404"/><stop offset=".818" stop-color="#000000"/><stop offset=".999" stop-color="#000000"/></linearGradient><linearGradient id="g186" gradientUnits="userSpaceOnUse" x1="765" x2="1378"><stop offset=".001" stop-color="#040404"/><stop offset=".156" stop-color="#272727"/><stop offset=".239" stop-color="#424242"/><stop offset=".334" stop-color="#8c8c8c"/><stop offset=".348" stop-color="#939393"/><stop offset=".484" stop-color="#969696"/><stop offset=".528" stop-color="#999999"/><stop offset=".569" stop-color="#a1a1a1"/><stop offset=".586" stop-color="#a7a7a7"/><stop offset=".588" stop-color="#a1a1a1"/><stop offset=".593" stop-color="#696969"/><stop offset=".595" stop-color="#5f5f5f"/><stop offset=".598" stop-color="#5e5e5e"/><stop offset=".621" stop-color="#707070"/><stop offset=".660" stop-color="#636363"/><stop offset=".679" stop-color="#505050"/><stop offset=".689" stop-color="#404040"/><stop offset=".717" stop-color="#424242"/><stop offset=".720" stop-color="#4e4e4e"/><stop offset=".730" stop-color="#818181"/><stop offset=".738" stop-color="#979797"/><stop offset=".743" stop-color="#929292"/><stop offset=".751" stop-color="#858585"/><stop offset=".768" stop-color="#7d7d7d"/><stop offset=".784" stop-color="#4d4d4d"/><stop offset=".810" stop-color="#050505"/><stop offset=".816" stop-color="#000000"/><stop offset=".999" stop-color="#000000"/></linearGradient><linearGradient id="g187" gradientUnits="userSpaceOnUse" x1="765" x2="1378"><stop offset=".001" stop-color="#040404"/><stop offset=".156" stop-color="#272727"/><stop offset=".239" stop-color="#424242"/><stop offset=".322" stop-color="#838383"/><stop offset=".347" stop-color="#939393"/><stop offset=".467" stop-color="#969696"/><stop offset=".528" stop-color="#989898"/><stop offset=".567" stop-color="#a0a0a0"/><stop offset=".586" stop-color="#a8a8a8"/><stop offset=".588" stop-color="#a2a2a2"/><stop offset=".590" stop-color="#939393"/><stop offset=".593" stop-color="#6c6c6c"/><stop offset=".595" stop-color="#606060"/><stop offset=".598" stop-color="#5e5e5e"/><stop offset=".621" stop-color="#707070"/><stop offset=".660" stop-color="#636363"/><stop offset=".679" stop-color="#515151"/><stop offset=".689" stop-color="#404040"/><stop offset=".715" stop-color="#414141"/><stop offset=".719" stop-color="#4b4b4b"/><stop offset=".728" stop-color="#7e7e7e"/><stop offset=".738" stop-color="#9c9c9c"/><stop offset=".741" stop-color="#9b9b9b"/><stop offset=".753" stop-color="#868686"/><stop offset=".769" stop-color="#7e7e7e"/><stop offset=".777" stop-color="#6a6a6a"/><stop offset=".800" stop-color="#262626"/><stop offset=".813" stop-color="#040404"/><stop offset=".825" stop-color="#000000"/><stop offset=".999" stop-color="#000000"/></linearGradient><linearGradient id="g188" gradientUnits="userSpaceOnUse" x1="765" x2="1378"><stop offset=".001" stop-color="#040404"/><stop offset=".156" stop-color="#272727"/><stop offset=".239" stop-color="#424242"/><stop offset=".319" stop-color="#808080"/><stop offset=".347" stop-color="#929292"/><stop offset=".448" stop-color="#969696"/><stop offset=".526" stop-color="#989898"/><stop offset=".565" stop-color="#9f9f9f"/><stop offset=".586" stop-color="#a8a8a8"/><stop offset=".588" stop-color="#a3a3a3"/><stop offset=".590" stop-color="#959595"/><stop offset=".593" stop-color="#6e6e6e"/><stop offset=".595" stop-color="#616161"/><stop offset=".596" stop-color="#5d5d5d"/><stop offset=".621" stop-color="#717171"/><stop offset=".660" stop-color="#636363"/><stop offset=".679" stop-color="#515151"/><stop offset=".689" stop-color="#404040"/><stop offset=".714" stop-color="#404040"/><stop offset=".717" stop-color="#484848"/><stop offset=".728" stop-color="#828282"/><stop offset=".738" stop-color="#a0a0a0"/><stop offset=".743" stop-color="#9e9e9e"/><stop offset=".754" stop-color="#878787"/><stop offset=".772" stop-color="#7e7e7e"/><stop offset=".782" stop-color="#636363"/><stop offset=".810" stop-color="#121212"/><stop offset=".818" stop-color="#020202"/><stop offset=".999" stop-color="#000000"/></linearGradient><linearGradient id="g189" gradientUnits="userSpaceOnUse" x1="765" x2="1378"><stop offset=".001" stop-color="#040404"/><stop offset=".156" stop-color="#272727"/><stop offset=".241" stop-color="#434343"/><stop offset=".317" stop-color="#7f7f7f"/><stop offset=".348" stop-color="#919191"/><stop offset=".443" stop-color="#959595"/><stop offset=".526" stop-color="#979797"/><stop offset=".564" stop-color="#9d9d9d"/><stop offset=".586" stop-color="#a7a7a7"/><stop offset=".588" stop-color="#a4a4a4"/><stop offset=".590" stop-color="#979797"/><stop offset=".593" stop-color="#717171"/><stop offset=".595" stop-color="#626262"/><stop offset=".596" stop-color="#5e5e5e"/><stop offset=".621" stop-color="#717171"/><stop offset=".662" stop-color="#626262"/><stop offset=".679" stop-color="#515151"/><stop offset=".689" stop-color="#404040"/><stop offset=".714" stop-color="#414141"/><stop offset=".717" stop-color="#4d4d4d"/><stop offset=".727" stop-color="#808080"/><stop offset=".738" stop-color="#a2a2a2"/><stop offset=".743" stop-color="#a3a3a3"/><stop offset=".758" stop-color="#878787"/><stop offset=".776" stop-color="#7d7d7d"/><stop offset=".792" stop-color="#4d4d4d"/><stop offset=".813" stop-color="#111111"/><stop offset=".821" stop-color="#020202"/><stop offset=".980" stop-color="#000000"/><stop offset=".999" stop-color="#000000"/></linearGradient><linearGradient id="g190" gradientUnits="userSpaceOnUse" x1="765" x2="1378"><stop offset=".001" stop-color="#040404"/><stop offset=".156" stop-color="#272727"/><stop offset=".241" stop-color="#434343"/><stop offset=".316" stop-color="#7d7d7d"/><stop offset=".350" stop-color="#919191"/><stop offset=".430" stop-color="#959595"/><stop offset=".526" stop-color="#979797"/><stop offset=".562" stop-color="#9c9c9c"/><stop offset=".586" stop-color="#a7a7a7"/><stop offset=".588" stop-color="#a4a4a4"/><stop offset=".590" stop-color="#9a9a9a"/><stop offset=".593" stop-color="#747474"/><stop offset=".595" stop-color="#646464"/><stop offset=".596" stop-color="#5e5e5e"/><stop offset=".621" stop-color="#717171"/><stop offset=".662" stop-color="#626262"/><stop offset=".679" stop-color="#515151"/><stop offset=".689" stop-color="#404040"/><stop offset=".712" stop-color="#414141"/><stop offset=".715" stop-color="#4a4a4a"/><stop offset=".727" stop-color="#838383"/><stop offset=".737" stop-color="#a0a0a0"/><stop offset=".745" stop-color="#a5a5a5"/><stop offset=".753" stop-color="#959595"/><stop offset=".761" stop-color="#868686"/><stop offset=".777" stop-color="#7e7e7e"/><stop offset=".785" stop-color="#6a6a6a"/><stop offset=".808" stop-color="#252525"/><stop offset=".823" stop-color="#040404"/><stop offset=".833" stop-color="#000000"/><stop offset=".999" stop-color="#000000"/></linearGradient><linearGradient id="g191" gradientUnits="userSpaceOnUse" x1="765" x2="1378"><stop offset=".001" stop-color="#040404"/><stop offset=".157" stop-color="#282828"/><stop offset=".241" stop-color="#434343"/><stop offset=".312" stop-color="#7a7a7a"/><stop offset=".350" stop-color="#909090"/><stop offset=".405" stop-color="#959595"/><stop offset=".528" stop-color="#979797"/><stop offset=".560" stop-color="#9b9b9b"/><stop offset=".586" stop-color="#a7a7a7"/><stop offset=".588" stop-color="#a5a5a5"/><stop offset=".590" stop-color="#9c9c9c"/><stop offset=".595" stop-color="#666666"/><stop offset=".596" stop-color="#5f5f5f"/><stop offset=".621" stop-color="#717171"/><stop offset=".662" stop-color="#626262"/><stop offset=".679" stop-color="#515151"/><stop offset=".689" stop-color="#404040"/><stop offset=".710" stop-color="#404040"/><stop offset=".714" stop-color="#474747"/><stop offset=".725" stop-color="#818181"/><stop offset=".737" stop-color="#a1a1a1"/><stop offset=".746" stop-color="#a5a5a5"/><stop offset=".753" stop-color="#9b9b9b"/><stop offset=".763" stop-color="#878787"/><stop offset=".781" stop-color="#7e7e7e"/><stop offset=".790" stop-color="#636363"/><stop offset=".810" stop-color="#282828"/><stop offset=".826" stop-color="#040404"/><stop offset=".836" stop-color="#000000"/><stop offset=".999" stop-color="#000000"/></linearGradient><linearGradient id="g192" gradientUnits="userSpaceOnUse" x1="765" x2="1378"><stop offset=".001" stop-color="#040404"/><stop offset=".157" stop-color="#282828"/><stop offset=".241" stop-color="#434343"/><stop offset=".311" stop-color="#787878"/><stop offset=".353" stop-color="#909090"/><stop offset=".414" stop-color="#949494"/><stop offset=".546" stop-color="#979797"/><stop offset=".582" stop-color="#a4a4a4"/><stop offset=".588" stop-color="#a5a5a5"/><stop offset=".590" stop-color="#9e9e9e"/><stop offset=".595" stop-color="#696969"/><stop offset=".596" stop-color="#606060"/><stop offset=".603" stop-color="#636363"/><stop offset=".621" stop-color="#717171"/><stop offset=".662" stop-color="#626262"/><stop offset=".679" stop-color="#515151"/><stop offset=".689" stop-color="#404040"/><stop offset=".710" stop-color="#414141"/><stop offset=".714" stop-color="#4c4c4c"/><stop offset=".723" stop-color="#7e7e7e"/><stop offset=".735" stop-color="#a0a0a0"/><stop offset=".750" stop-color="#a5a5a5"/><stop offset=".758" stop-color="#969696"/><stop offset=".766" stop-color="#878787"/><stop offset=".784" stop-color="#7d7d7d"/><stop offset=".799" stop-color="#515151"/><stop offset=".813" stop-color="#272727"/><stop offset=".830" stop-color="#050505"/><stop offset=".839" stop-color="#000000"/><stop offset=".999" stop-color="#000000"/></linearGradient><linearGradient id="g193" gradientUnits="userSpaceOnUse" x1="765" x2="1378"><stop offset=".001" stop-color="#040404"/><stop offset=".157" stop-color="#282828"/><stop offset=".241" stop-color="#424242"/><stop offset=".309" stop-color="#777777"/><stop offset=".353" stop-color="#8f8f8f"/><stop offset=".404" stop-color="#949494"/><stop offset=".551" stop-color="#969696"/><stop offset=".588" stop-color="#a6a6a6"/><stop offset=".590" stop-color="#a0a0a0"/><stop offset=".591" stop-color="#909090"/><stop offset=".595" stop-color="#6b6b6b"/><stop offset=".596" stop-color="#616161"/><stop offset=".600" stop-color="#606060"/><stop offset=".621" stop-color="#727272"/><stop offset=".662" stop-color="#626262"/><stop offset=".679" stop-color="#515151"/><stop offset=".689" stop-color="#404040"/><stop offset=".709" stop-color="#404040"/><stop offset=".712" stop-color="#494949"/><stop offset=".723" stop-color="#828282"/><stop offset=".733" stop-color="#9e9e9e"/><stop offset=".748" stop-color="#a5a5a5"/><stop offset=".754" stop-color="#a3a3a3"/><stop offset=".768" stop-color="#888888"/><stop offset=".785" stop-color="#7e7e7e"/><stop offset=".792" stop-color="#6e6e6e"/><stop offset=".812" stop-color="#323232"/><stop offset=".833" stop-color="#050505"/><stop offset=".843" stop-color="#000000"/><stop offset=".999" stop-color="#000000"/></linearGradient><linearGradient id="g194" gradientUnits="userSpaceOnUse" x1="765" x2="1378"><stop offset=".001" stop-color="#040404"/><stop offset=".157" stop-color="#282828"/><stop offset=".241" stop-color="#424242"/><stop offset=".308" stop-color="#757575"/><stop offset=".353" stop-color="#8e8e8e"/><stop offset=".399" stop-color="#949494"/><stop offset=".551" stop-color="#969696"/><stop offset=".588" stop-color="#a6a6a6"/><stop offset=".590" stop-color="#a1a1a1"/><stop offset=".591" stop-color="#939393"/><stop offset=".595" stop-color="#6d6d6d"/><stop offset=".596" stop-color="#616161"/><stop offset=".600" stop-color="#606060"/><stop offset=".621" stop-color="#727272"/><stop offset=".662" stop-color="#626262"/><stop offset=".679" stop-color="#515151"/><stop offset=".689" stop-color="#404040"/><stop offset=".709" stop-color="#424242"/><stop offset=".712" stop-color="#4e4e4e"/><stop offset=".722" stop-color="#808080"/><stop offset=".733" stop-color="#a0a0a0"/><stop offset=".754" stop-color="#a5a5a5"/><stop offset=".761" stop-color="#9b9b9b"/><stop offset=".771" stop-color="#878787"/><stop offset=".789" stop-color="#7e7e7e"/><stop offset=".797" stop-color="#676767"/><stop offset=".813" stop-color="#353535"/><stop offset=".836" stop-color="#050505"/><stop offset=".846" stop-color="#000000"/><stop offset=".999" stop-color="#000000"/></linearGradient><linearGradient id="g195" gradientUnits="userSpaceOnUse" x1="765" x2="1378"><stop offset=".001" stop-color="#040404"/><stop offset=".157" stop-color="#282828"/><stop offset=".241" stop-color="#424242"/><stop offset=".306" stop-color="#737373"/><stop offset=".352" stop-color="#8d8d8d"/><stop offset=".394" stop-color="#939393"/><stop offset=".551" stop-color="#959595"/><stop offset=".588" stop-color="#a6a6a6"/><stop offset=".590" stop-color="#a2a2a2"/><stop offset=".591" stop-color="#959595"/><stop offset=".595" stop-color="#707070"/><stop offset=".596" stop-color="#626262"/><stop offset=".598" stop-color="#5f5f5f"/><stop offset=".621" stop-color="#727272"/><stop offset=".662" stop-color="#626262"/><stop offset=".681" stop-color="#4e4e4e"/><stop offset=".689" stop-color="#404040"/><stop offset=".707" stop-color="#414141"/><stop offset=".710" stop-color="#4b4b4b"/><stop offset=".720" stop-color="#7d7d7d"/><stop offset=".732" stop-color="#9e9e9e"/><stop offset=".756" stop-color="#a6a6a6"/><stop offset=".763" stop-color="#9d9d9d"/><stop offset=".774" stop-color="#878787"/><stop offset=".792" stop-color="#7d7d7d"/><stop offset=".807" stop-color="#505050"/><stop offset=".816" stop-color="#353535"/><stop offset=".839" stop-color="#050505"/><stop offset=".849" stop-color="#000000"/><stop offset=".999" stop-color="#000000"/></linearGradient><linearGradient id="g196" gradientUnits="userSpaceOnUse" x1="765" x2="1378"><stop offset=".001" stop-color="#040404"/><stop offset=".159" stop-color="#282828"/><stop offset=".242" stop-color="#434343"/><stop offset=".306" stop-color="#737373"/><stop offset=".352" stop-color="#8c8c8c"/><stop offset=".394" stop-color="#939393"/><stop offset=".552" stop-color="#959595"/><stop offset=".588" stop-color="#a5a5a5"/><stop offset=".590" stop-color="#a2a2a2"/><stop offset=".591" stop-color="#979797"/><stop offset=".595" stop-color="#727272"/><stop offset=".596" stop-color="#646464"/><stop offset=".598" stop-color="#5f5f5f"/><stop offset=".621" stop-color="#727272"/><stop offset=".662" stop-color="#626262"/><stop offset=".681" stop-color="#4e4e4e"/><stop offset=".689" stop-color="#404040"/><stop offset=".706" stop-color="#404040"/><stop offset=".709" stop-color="#484848"/><stop offset=".720" stop-color="#818181"/><stop offset=".732" stop-color="#9f9f9f"/><stop offset=".759" stop-color="#a6a6a6"/><stop offset=".766" stop-color="#9c9c9c"/><stop offset=".776" stop-color="#888888"/><stop offset=".794" stop-color="#7e7e7e"/><stop offset=".800" stop-color="#6e6e6e"/><stop offset=".816" stop-color="#3c3c3c"/><stop offset=".843" stop-color="#050505"/><stop offset=".852" stop-color="#000000"/><stop offset=".999" stop-color="#000000"/></linearGradient><linearGradient id="g197" gradientUnits="userSpaceOnUse" x1="765" x2="1378"><stop offset=".001" stop-color="#040404"/><stop offset=".159" stop-color="#282828"/><stop offset=".242" stop-color="#434343"/><stop offset=".306" stop-color="#727272"/><stop offset=".352" stop-color="#8c8c8c"/><stop offset=".397" stop-color="#939393"/><stop offset=".551" stop-color="#949494"/><stop offset=".588" stop-color="#a5a5a5"/><stop offset=".590" stop-color="#a3a3a3"/><stop offset=".591" stop-color="#999999"/><stop offset=".596" stop-color="#666666"/><stop offset=".598" stop-color="#606060"/><stop offset=".621" stop-color="#727272"/><stop offset=".662" stop-color="#626262"/><stop offset=".681" stop-color="#4f4f4f"/><stop offset=".689" stop-color="#404040"/><stop offset=".706" stop-color="#414141"/><stop offset=".709" stop-color="#4c4c4c"/><stop offset=".719" stop-color="#7f7f7f"/><stop offset=".730" stop-color="#9e9e9e"/><stop offset=".763" stop-color="#a5a5a5"/><stop offset=".771" stop-color="#979797"/><stop offset=".779" stop-color="#878787"/><stop offset=".797" stop-color="#7e7e7e"/><stop offset=".805" stop-color="#676767"/><stop offset=".818" stop-color="#3f3f3f"/><stop offset=".844" stop-color="#080808"/><stop offset=".852" stop-color="#000000"/><stop offset=".999" stop-color="#000000"/></linearGradient><linearGradient id="g198" gradientUnits="userSpaceOnUse" x1="765" x2="1378"><stop offset=".001" stop-color="#040404"/><stop offset=".159" stop-color="#282828"/><stop offset=".242" stop-color="#434343"/><stop offset=".308" stop-color="#737373"/><stop offset=".352" stop-color="#8b8b8b"/><stop offset=".399" stop-color="#929292"/><stop offset=".552" stop-color="#959595"/><stop offset=".590" stop-color="#a3a3a3"/><stop offset=".591" stop-color="#9b9b9b"/><stop offset=".596" stop-color="#686868"/><stop offset=".598" stop-color="#616161"/><stop offset=".613" stop-color="#6c6c6c"/><stop offset=".622" stop-color="#727272"/><stop offset=".662" stop-color="#626262"/><stop offset=".683" stop-color="#4c4c4c"/><stop offset=".691" stop-color="#404040"/><stop offset=".704" stop-color="#404040"/><stop offset=".707" stop-color="#494949"/><stop offset=".719" stop-color="#838383"/><stop offset=".728" stop-color="#9d9d9d"/><stop offset=".743" stop-color="#a2a2a2"/><stop offset=".766" stop-color="#a5a5a5"/><stop offset=".782" stop-color="#878787"/><stop offset=".800" stop-color="#7d7d7d"/><stop offset=".823" stop-color="#3b3b3b"/><stop offset=".849" stop-color="#050505"/><stop offset=".857" stop-color="#000000"/><stop offset=".999" stop-color="#000000"/></linearGradient><linearGradient id="g199" gradientUnits="userSpaceOnUse" x1="765" x2="1378"><stop offset=".001" stop-color="#040404"/><stop offset=".159" stop-color="#282828"/><stop offset=".242" stop-color="#424242"/><stop offset=".309" stop-color="#737373"/><stop offset=".352" stop-color="#8b8b8b"/><stop offset=".400" stop-color="#929292"/><stop offset=".552" stop-color="#949494"/><stop offset=".590" stop-color="#a4a4a4"/><stop offset=".591" stop-color="#9d9d9d"/><stop offset=".596" stop-color="#6b6b6b"/><stop offset=".598" stop-color="#626262"/><stop offset=".603" stop-color="#636363"/><stop offset=".621" stop-color="#727272"/><stop offset=".662" stop-color="#626262"/><stop offset=".684" stop-color="#4a4a4a"/><stop offset=".691" stop-color="#404040"/><stop offset=".704" stop-color="#424242"/><stop offset=".707" stop-color="#4e4e4e"/><stop offset=".717" stop-color="#808080"/><stop offset=".728" stop-color="#9e9e9e"/><stop offset=".768" stop-color="#a5a5a5"/><stop offset=".776" stop-color="#989898"/><stop offset=".785" stop-color="#868686"/><stop offset=".802" stop-color="#7e7e7e"/><stop offset=".808" stop-color="#6e6e6e"/><stop offset=".826" stop-color="#3a3a3a"/><stop offset=".852" stop-color="#060606"/><stop offset=".861" stop-color="#000000"/><stop offset=".999" stop-color="#000000"/></linearGradient><linearGradient id="g200" gradientUnits="userSpaceOnUse" x1="765" x2="1378"><stop offset=".001" stop-color="#040404"/><stop offset=".159" stop-color="#282828"/><stop offset=".242" stop-color="#424242"/><stop offset=".314" stop-color="#767676"/><stop offset=".353" stop-color="#8a8a8a"/><stop offset=".400" stop-color="#929292"/><stop offset=".552" stop-color="#949494"/><stop offset=".590" stop-color="#a4a4a4"/><stop offset=".591" stop-color="#9f9f9f"/><stop offset=".593" stop-color="#919191"/><stop offset=".596" stop-color="#6d6d6d"/><stop offset=".598" stop-color="#626262"/><stop offset=".601" stop-color="#616161"/><stop offset=".621" stop-color="#737373"/><stop offset=".662" stop-color="#626262"/><stop offset=".684" stop-color="#4b4b4b"/><stop offset=".691" stop-color="#404040"/><stop offset=".702" stop-color="#414141"/><stop offset=".706" stop-color="#4b4b4b"/><stop offset=".715" stop-color="#7e7e7e"/><stop offset=".727" stop-color="#9d9d9d"/><stop offset=".768" stop-color="#a6a6a6"/><stop offset=".774" stop-color="#a1a1a1"/><stop offset=".787" stop-color="#878787"/><stop offset=".805" stop-color="#7d7d7d"/><stop offset=".818" stop-color="#595959"/><stop offset=".833" stop-color="#333333"/><stop offset=".857" stop-color="#040404"/><stop offset=".870" stop-color="#000000"/><stop offset=".999" stop-color="#000000"/></linearGradient><linearGradient id="g201" gradientUnits="userSpaceOnUse" x1="765" x2="1378"><stop offset=".001" stop-color="#040404"/><stop offset=".159" stop-color="#282828"/><stop offset=".242" stop-color="#424242"/><stop offset=".324" stop-color="#7c7c7c"/><stop offset=".360" stop-color="#8c8c8c"/><stop offset=".405" stop-color="#929292"/><stop offset=".547" stop-color="#949494"/><stop offset=".590" stop-color="#a4a4a4"/><stop offset=".591" stop-color="#a0a0a0"/><stop offset=".593" stop-color="#939393"/><stop offset=".596" stop-color="#6f6f6f"/><stop offset=".598" stop-color="#636363"/><stop offset=".601" stop-color="#616161"/><stop offset=".621" stop-color="#737373"/><stop offset=".660" stop-color="#636363"/><stop offset=".686" stop-color="#494949"/><stop offset=".692" stop-color="#404040"/><stop offset=".702" stop-color="#434343"/><stop offset=".707" stop-color="#595959"/><stop offset=".715" stop-color="#828282"/><stop offset=".727" stop-color="#9e9e9e"/><stop offset=".772" stop-color="#a6a6a6"/><stop offset=".779" stop-color="#9c9c9c"/><stop offset=".790" stop-color="#878787"/><stop offset=".808" stop-color="#7d7d7d"/><stop offset=".833" stop-color="#393939"/><stop offset=".861" stop-color="#040404"/><stop offset=".872" stop-color="#000000"/><stop offset=".999" stop-color="#000000"/></linearGradient><linearGradient id="g202" gradientUnits="userSpaceOnUse" x1="765" x2="1378"><stop offset=".001" stop-color="#040404"/><stop offset=".159" stop-color="#282828"/><stop offset=".244" stop-color="#434343"/><stop offset=".329" stop-color="#7f7f7f"/><stop offset=".366" stop-color="#8d8d8d"/><stop offset=".407" stop-color="#929292"/><stop offset=".547" stop-color="#949494"/><stop offset=".583" stop-color="#a1a1a1"/><stop offset=".590" stop-color="#a3a3a3"/><stop offset=".591" stop-color="#a0a0a0"/><stop offset=".593" stop-color="#959595"/><stop offset=".596" stop-color="#727272"/><stop offset=".598" stop-color="#646464"/><stop offset=".600" stop-color="#606060"/><stop offset=".621" stop-color="#737373"/><stop offset=".660" stop-color="#636363"/><stop offset=".688" stop-color="#474747"/><stop offset=".694" stop-color="#404040"/><stop offset=".701" stop-color="#414141"/><stop offset=".704" stop-color="#4d4d4d"/><stop offset=".714" stop-color="#7f7f7f"/><stop offset=".725" stop-color="#9d9d9d"/><stop offset=".776" stop-color="#a5a5a5"/><stop offset=".785" stop-color="#949494"/><stop offset=".794" stop-color="#868686"/><stop offset=".810" stop-color="#7e7e7e"/><stop offset=".818" stop-color="#6a6a6a"/><stop offset=".836" stop-color="#393939"/><stop offset=".864" stop-color="#040404"/><stop offset=".875" stop-color="#000000"/><stop offset=".999" stop-color="#000000"/></linearGradient><linearGradient id="g203" gradientUnits="userSpaceOnUse" x1="765" x2="1378"><stop offset=".001" stop-color="#040404"/><stop offset=".161" stop-color="#282828"/><stop offset=".244" stop-color="#434343"/><stop offset=".332" stop-color="#808080"/><stop offset=".374" stop-color="#8f8f8f"/><stop offset=".435" stop-color="#929292"/><stop offset=".547" stop-color="#939393"/><stop offset=".583" stop-color="#a0a0a0"/><stop offset=".590" stop-color="#a3a3a3"/><stop offset=".591" stop-color="#a1a1a1"/><stop offset=".593" stop-color="#979797"/><stop offset=".596" stop-color="#747474"/><stop offset=".598" stop-color="#666666"/><stop offset=".600" stop-color="#616161"/><stop offset=".621" stop-color="#737373"/><stop offset=".660" stop-color="#636363"/><stop offset=".689" stop-color="#454545"/><stop offset=".696" stop-color="#404040"/><stop offset=".701" stop-color="#444444"/><stop offset=".714" stop-color="#838383"/><stop offset=".725" stop-color="#9d9d9d"/><stop offset=".777" stop-color="#a6a6a6"/><stop offset=".784" stop-color="#9d9d9d"/><stop offset=".795" stop-color="#878787"/><stop offset=".813" stop-color="#7e7e7e"/><stop offset=".826" stop-color="#5b5b5b"/><stop offset=".841" stop-color="#353535"/><stop offset=".867" stop-color="#040404"/><stop offset=".878" stop-color="#000000"/><stop offset=".999" stop-color="#000000"/></linearGradient><linearGradient id="g204" gradientUnits="userSpaceOnUse" x1="765" x2="1378"><stop offset=".001" stop-color="#040404"/><stop offset=".161" stop-color="#282828"/><stop offset=".244" stop-color="#434343"/><stop offset=".335" stop-color="#818181"/><stop offset=".387" stop-color="#919191"/><stop offset=".547" stop-color="#939393"/><stop offset=".583" stop-color="#a0a0a0"/><stop offset=".591" stop-color="#a1a1a1"/><stop offset=".593" stop-color="#999999"/><stop offset=".598" stop-color="#686868"/><stop offset=".600" stop-color="#626262"/><stop offset=".621" stop-color="#737373"/><stop offset=".660" stop-color="#636363"/><stop offset=".691" stop-color="#434343"/><stop offset=".697" stop-color="#404040"/><stop offset=".701" stop-color="#474747"/><stop offset=".712" stop-color="#818181"/><stop offset=".723" stop-color="#9c9c9c"/><stop offset=".781" stop-color="#a5a5a5"/><stop offset=".789" stop-color="#989898"/><stop offset=".799" stop-color="#868686"/><stop offset=".816" stop-color="#7d7d7d"/><stop offset=".843" stop-color="#383838"/><stop offset=".870" stop-color="#040404"/><stop offset=".882" stop-color="#000000"/><stop offset=".999" stop-color="#000000"/></linearGradient><linearGradient id="g205" gradientUnits="userSpaceOnUse" x1="765" x2="1378"><stop offset=".001" stop-color="#040404"/><stop offset=".161" stop-color="#282828"/><stop offset=".244" stop-color="#424242"/><stop offset=".340" stop-color="#848484"/><stop offset=".394" stop-color="#919191"/><stop offset=".547" stop-color="#939393"/><stop offset=".583" stop-color="#a0a0a0"/><stop offset=".591" stop-color="#a2a2a2"/><stop offset=".593" stop-color="#9b9b9b"/><stop offset=".598" stop-color="#6a6a6a"/><stop offset=".600" stop-color="#626262"/><stop offset=".608" stop-color="#686868"/><stop offset=".621" stop-color="#737373"/><stop offset=".660" stop-color="#626262"/><stop offset=".696" stop-color="#404040"/><stop offset=".699" stop-color="#454545"/><stop offset=".710" stop-color="#7e7e7e"/><stop offset=".722" stop-color="#9b9b9b"/><stop offset=".772" stop-color="#a5a5a5"/><stop offset=".785" stop-color="#a3a3a3"/><stop offset=".800" stop-color="#888888"/><stop offset=".820" stop-color="#7c7c7c"/><stop offset=".846" stop-color="#383838"/><stop offset=".874" stop-color="#040404"/><stop offset=".885" stop-color="#000000"/><stop offset=".999" stop-color="#000000"/></linearGradient><linearGradient id="g206" gradientUnits="userSpaceOnUse" x1="765" x2="1378"><stop offset=".001" stop-color="#040404"/><stop offset=".161" stop-color="#282828"/><stop offset=".244" stop-color="#424242"/><stop offset=".342" stop-color="#848484"/><stop offset=".394" stop-color="#919191"/><stop offset=".547" stop-color="#939393"/><stop offset=".585" stop-color="#a0a0a0"/><stop offset=".591" stop-color="#a2a2a2"/><stop offset=".593" stop-color="#9d9d9d"/><stop offset=".598" stop-color="#6d6d6d"/><stop offset=".600" stop-color="#636363"/><stop offset=".603" stop-color="#636363"/><stop offset=".621" stop-color="#737373"/><stop offset=".660" stop-color="#626262"/><stop offset=".696" stop-color="#404040"/><stop offset=".699" stop-color="#494949"/><stop offset=".710" stop-color="#828282"/><stop offset=".722" stop-color="#9c9c9c"/><stop offset=".785" stop-color="#a5a5a5"/><stop offset=".794" stop-color="#999999"/><stop offset=".803" stop-color="#878787"/><stop offset=".821" stop-color="#7e7e7e"/><stop offset=".831" stop-color="#666666"/><stop offset=".849" stop-color="#383838"/><stop offset=".877" stop-color="#040404"/><stop offset=".887" stop-color="#000000"/><stop offset=".999" stop-color="#000000"/></linearGradient><linearGradient id="g207" gradientUnits="userSpaceOnUse" x1="765" x2="1378"><stop offset=".001" stop-color="#040404"/><stop offset=".161" stop-color="#282828"/><stop offset=".244" stop-color="#424242"/><stop offset=".342" stop-color="#848484"/><stop offset=".392" stop-color="#919191"/><stop offset=".547" stop-color="#939393"/><stop offset=".585" stop-color="#a0a0a0"/><stop offset=".591" stop-color="#a2a2a2"/><stop offset=".593" stop-color="#9e9e9e"/><stop offset=".595" stop-color="#919191"/><stop offset=".598" stop-color="#6f6f6f"/><stop offset=".600" stop-color="#646464"/><stop offset=".603" stop-color="#636363"/><stop offset=".621" stop-color="#737373"/><stop offset=".660" stop-color="#626262"/><stop offset=".694" stop-color="#414141"/><stop offset=".697" stop-color="#464646"/><stop offset=".709" stop-color="#808080"/><stop offset=".720" stop-color="#9b9b9b"/><stop offset=".787" stop-color="#a6a6a6"/><stop offset=".794" stop-color="#9e9e9e"/><stop offset=".807" stop-color="#868686"/><stop offset=".825" stop-color="#7e7e7e"/><stop offset=".841" stop-color="#535353"/><stop offset=".856" stop-color="#313131"/><stop offset=".882" stop-color="#030303"/><stop offset=".908" stop-color="#000000"/><stop offset=".999" stop-color="#000000"/></linearGradient><linearGradient id="g208" gradientUnits="userSpaceOnUse" x1="765" x2="1378"><stop offset=".001" stop-color="#040404"/><stop offset=".161" stop-color="#282828"/><stop offset=".246" stop-color="#434343"/><stop offset=".342" stop-color="#838383"/><stop offset=".392" stop-color="#909090"/><stop offset=".547" stop-color="#939393"/><stop offset=".586" stop-color="#a0a0a0"/><stop offset=".591" stop-color="#a2a2a2"/><stop offset=".593" stop-color="#9f9f9f"/><stop offset=".595" stop-color="#939393"/><stop offset=".598" stop-color="#717171"/><stop offset=".600" stop-color="#656565"/><stop offset=".601" stop-color="#626262"/><stop offset=".621" stop-color="#737373"/><stop offset=".660" stop-color="#626262"/><stop offset=".694" stop-color="#424242"/><stop offset=".697" stop-color="#4b4b4b"/><stop offset=".707" stop-color="#7d7d7d"/><stop offset=".717" stop-color="#969696"/><stop offset=".722" stop-color="#9d9d9d"/><stop offset=".790" stop-color="#a5a5a5"/><stop offset=".797" stop-color="#9d9d9d"/><stop offset=".808" stop-color="#878787"/><stop offset=".828" stop-color="#7d7d7d"/><stop offset=".854" stop-color="#3a3a3a"/><stop offset=".883" stop-color="#050505"/><stop offset=".893" stop-color="#000000"/><stop offset=".999" stop-color="#000000"/></linearGradient><linearGradient id="g209" gradientUnits="userSpaceOnUse" x1="765" x2="1378"><stop offset=".001" stop-color="#040404"/><stop offset=".161" stop-color="#282828"/><stop offset=".246" stop-color="#434343"/><stop offset=".342" stop-color="#838383"/><stop offset=".391" stop-color="#909090"/><stop offset=".547" stop-color="#929292"/><stop offset=".588" stop-color="#a0a0a0"/><stop offset=".591" stop-color="#a1a1a1"/><stop offset=".593" stop-color="#9f9f9f"/><stop offset=".595" stop-color="#959595"/><stop offset=".598" stop-color="#737373"/><stop offset=".600" stop-color="#666666"/><stop offset=".601" stop-color="#626262"/><stop offset=".621" stop-color="#747474"/><stop offset=".660" stop-color="#626262"/><stop offset=".692" stop-color="#424242"/><stop offset=".694" stop-color="#434343"/><stop offset=".697" stop-color="#505050"/><stop offset=".707" stop-color="#818181"/><stop offset=".719" stop-color="#9b9b9b"/><stop offset=".790" stop-color="#a6a6a6"/><stop offset=".797" stop-color="#a2a2a2"/><stop offset=".812" stop-color="#878787"/><stop offset=".831" stop-color="#7c7c7c"/><stop offset=".857" stop-color="#3a3a3a"/><stop offset=".888" stop-color="#030303"/><stop offset=".908" stop-color="#000000"/><stop offset=".999" stop-color="#000000"/></linearGradient><linearGradient id="g210" gradientUnits="userSpaceOnUse" x1="765" x2="1378"><stop offset=".001" stop-color="#040404"/><stop offset=".162" stop-color="#282828"/><stop offset=".246" stop-color="#434343"/><stop offset=".342" stop-color="#838383"/><stop offset=".391" stop-color="#909090"/><stop offset=".547" stop-color="#929292"/><stop offset=".591" stop-color="#a1a1a1"/><stop offset=".593" stop-color="#9f9f9f"/><stop offset=".595" stop-color="#969696"/><stop offset=".600" stop-color="#686868"/><stop offset=".601" stop-color="#636363"/><stop offset=".621" stop-color="#747474"/><stop offset=".660" stop-color="#616161"/><stop offset=".692" stop-color="#434343"/><stop offset=".696" stop-color="#4c4c4c"/><stop offset=".706" stop-color="#7f7f7f"/><stop offset=".717" stop-color="#999999"/><stop offset=".776" stop-color="#a5a5a5"/><stop offset=".797" stop-color="#a5a5a5"/><stop offset=".815" stop-color="#868686"/><stop offset=".833" stop-color="#7e7e7e"/><stop offset=".844" stop-color="#626262"/><stop offset=".862" stop-color="#363636"/><stop offset=".892" stop-color="#030303"/><stop offset=".909" stop-color="#000000"/><stop offset=".999" stop-color="#000000"/></linearGradient><linearGradient id="g211" gradientUnits="userSpaceOnUse" x1="765" x2="1378"><stop offset=".001" stop-color="#040404"/><stop offset=".162" stop-color="#282828"/><stop offset=".246" stop-color="#424242"/><stop offset=".342" stop-color="#838383"/><stop offset=".391" stop-color="#909090"/><stop offset=".547" stop-color="#929292"/><stop offset=".593" stop-color="#9f9f9f"/><stop offset=".595" stop-color="#989898"/><stop offset=".600" stop-color="#696969"/><stop offset=".601" stop-color="#636363"/><stop offset=".621" stop-color="#747474"/><stop offset=".660" stop-color="#616161"/><stop offset=".691" stop-color="#434343"/><stop offset=".692" stop-color="#444444"/><stop offset=".696" stop-color="#515151"/><stop offset=".704" stop-color="#7c7c7c"/><stop offset=".710" stop-color="#8e8e8e"/><stop offset=".719" stop-color="#9b9b9b"/><stop offset=".797" stop-color="#a6a6a6"/><stop offset=".803" stop-color="#a0a0a0"/><stop offset=".816" stop-color="#878787"/><stop offset=".836" stop-color="#7e7e7e"/><stop offset=".864" stop-color="#393939"/><stop offset=".895" stop-color="#030303"/><stop offset=".911" stop-color="#000000"/><stop offset=".999" stop-color="#000000"/></linearGradient><linearGradient id="g212" gradientUnits="userSpaceOnUse" x1="765" x2="1378"><stop offset=".001" stop-color="#040404"/><stop offset=".162" stop-color="#282828"/><stop offset=".247" stop-color="#434343"/><stop offset=".342" stop-color="#828282"/><stop offset=".389" stop-color="#909090"/><stop offset=".547" stop-color="#929292"/><stop offset=".593" stop-color="#9f9f9f"/><stop offset=".595" stop-color="#999999"/><stop offset=".600" stop-color="#6b6b6b"/><stop offset=".601" stop-color="#646464"/><stop offset=".611" stop-color="#6c6c6c"/><stop offset=".621" stop-color="#747474"/><stop offset=".660" stop-color="#616161"/><stop offset=".691" stop-color="#444444"/><stop offset=".694" stop-color="#4e4e4e"/><stop offset=".704" stop-color="#808080"/><stop offset=".715" stop-color="#999999"/><stop offset=".789" stop-color="#a5a5a5"/><stop offset=".803" stop-color="#a4a4a4"/><stop offset=".820" stop-color="#878787"/><stop offset=".839" stop-color="#7d7d7d"/><stop offset=".867" stop-color="#393939"/><stop offset=".898" stop-color="#030303"/><stop offset=".913" stop-color="#000000"/><stop offset=".999" stop-color="#000000"/></linearGradient><linearGradient id="g213" gradientUnits="userSpaceOnUse" x1="765" x2="1378"><stop offset=".001" stop-color="#040404"/><stop offset=".162" stop-color="#282828"/><stop offset=".247" stop-color="#434343"/><stop offset=".342" stop-color="#828282"/><stop offset=".389" stop-color="#8f8f8f"/><stop offset=".547" stop-color="#929292"/><stop offset=".593" stop-color="#a0a0a0"/><stop offset=".595" stop-color="#9b9b9b"/><stop offset=".600" stop-color="#6d6d6d"/><stop offset=".601" stop-color="#646464"/><stop offset=".606" stop-color="#676767"/><stop offset=".619" stop-color="#747474"/><stop offset=".660" stop-color="#616161"/><stop offset=".689" stop-color="#444444"/><stop offset=".691" stop-color="#454545"/><stop offset=".694" stop-color="#535353"/><stop offset=".702" stop-color="#7e7e7e"/><stop offset=".710" stop-color="#929292"/><stop offset=".717" stop-color="#9b9b9b"/><stop offset=".799" stop-color="#a5a5a5"/><stop offset=".807" stop-color="#a3a3a3"/><stop offset=".823" stop-color="#868686"/><stop offset=".843" stop-color="#7c7c7c"/><stop offset=".870" stop-color="#383838"/><stop offset=".901" stop-color="#030303"/><stop offset=".916" stop-color="#000000"/><stop offset=".999" stop-color="#000000"/></linearGradient><linearGradient id="g214" gradientUnits="userSpaceOnUse" x1="765" x2="1378"><stop offset=".001" stop-color="#040404"/><stop offset=".162" stop-color="#282828"/><stop offset=".247" stop-color="#434343"/><stop offset=".342" stop-color="#828282"/><stop offset=".387" stop-color="#8f8f8f"/><stop offset=".547" stop-color="#929292"/><stop offset=".593" stop-color="#a0a0a0"/><stop offset=".595" stop-color="#9c9c9c"/><stop offset=".598" stop-color="#7e7e7e"/><stop offset=".600" stop-color="#6e6e6e"/><stop offset=".601" stop-color="#656565"/><stop offset=".604" stop-color="#656565"/><stop offset=".619" stop-color="#747474"/><stop offset=".658" stop-color="#626262"/><stop offset=".689" stop-color="#454545"/><stop offset=".692" stop-color="#4f4f4f"/><stop offset=".702" stop-color="#828282"/><stop offset=".714" stop-color="#999999"/><stop offset=".790" stop-color="#a5a5a5"/><stop offset=".808" stop-color="#a4a4a4"/><stop offset=".826" stop-color="#868686"/><stop offset=".844" stop-color="#7e7e7e"/><stop offset=".857" stop-color="#5f5f5f"/><stop offset=".874" stop-color="#383838"/><stop offset=".905" stop-color="#040404"/><stop offset=".918" stop-color="#000000"/><stop offset=".999" stop-color="#000000"/></linearGradient><linearGradient id="g215" gradientUnits="userSpaceOnUse" x1="765" x2="1378"><stop offset=".001" stop-color="#040404"/><stop offset=".162" stop-color="#282828"/><stop offset=".247" stop-color="#424242"/><stop offset=".342" stop-color="#828282"/><stop offset=".387" stop-color="#8f8f8f"/><stop offset=".547" stop-color="#919191"/><stop offset=".593" stop-color="#9f9f9f"/><stop offset=".595" stop-color="#9c9c9c"/><stop offset=".596" stop-color="#909090"/><stop offset=".600" stop-color="#707070"/><stop offset=".601" stop-color="#666666"/><stop offset=".604" stop-color="#656565"/><stop offset=".619" stop-color="#747474"/><stop offset=".658" stop-color="#626262"/><stop offset=".688" stop-color="#454545"/><stop offset=".689" stop-color="#464646"/><stop offset=".692" stop-color="#545454"/><stop offset=".701" stop-color="#7f7f7f"/><stop offset=".710" stop-color="#959595"/><stop offset=".717" stop-color="#9b9b9b"/><stop offset=".799" stop-color="#a5a5a5"/><stop offset=".812" stop-color="#a3a3a3"/><stop offset=".828" stop-color="#878787"/><stop offset=".847" stop-color="#7e7e7e"/><stop offset=".877" stop-color="#383838"/><stop offset=".908" stop-color="#040404"/><stop offset=".921" stop-color="#000000"/><stop offset=".999" stop-color="#000000"/></linearGradient><linearGradient id="g216" gradientUnits="userSpaceOnUse" x1="765" x2="1378"><stop offset=".001" stop-color="#040404"/><stop offset=".164" stop-color="#292929"/><stop offset=".249" stop-color="#434343"/><stop offset=".342" stop-color="#828282"/><stop offset=".387" stop-color="#8f8f8f"/><stop offset=".549" stop-color="#929292"/><stop offset=".593" stop-color="#9f9f9f"/><stop offset=".595" stop-color="#9c9c9c"/><stop offset=".596" stop-color="#929292"/><stop offset=".600" stop-color="#727272"/><stop offset=".601" stop-color="#666666"/><stop offset=".603" stop-color="#646464"/><stop offset=".619" stop-color="#747474"/><stop offset=".658" stop-color="#626262"/><stop offset=".688" stop-color="#464646"/><stop offset=".691" stop-color="#505050"/><stop offset=".701" stop-color="#828282"/><stop offset=".712" stop-color="#999999"/><stop offset=".790" stop-color="#a4a4a4"/><stop offset=".813" stop-color="#a4a4a4"/><stop offset=".831" stop-color="#868686"/><stop offset=".851" stop-color="#7d7d7d"/><stop offset=".878" stop-color="#3b3b3b"/><stop offset=".911" stop-color="#040404"/><stop offset=".924" stop-color="#000000"/><stop offset=".999" stop-color="#000000"/></linearGradient><linearGradient id="g217" gradientUnits="userSpaceOnUse" x1="765" x2="1378"><stop offset=".001" stop-color="#040404"/><stop offset=".164" stop-color="#292929"/><stop offset=".249" stop-color="#434343"/><stop offset=".342" stop-color="#828282"/><stop offset=".386" stop-color="#8f8f8f"/><stop offset=".549" stop-color="#919191"/><stop offset=".593" stop-color="#9f9f9f"/><stop offset=".595" stop-color="#9c9c9c"/><stop offset=".596" stop-color="#939393"/><stop offset=".600" stop-color="#747474"/><stop offset=".601" stop-color="#676767"/><stop offset=".603" stop-color="#646464"/><stop offset=".619" stop-color="#757575"/><stop offset=".658" stop-color="#626262"/><stop offset=".686" stop-color="#464646"/><stop offset=".688" stop-color="#474747"/><stop offset=".691" stop-color="#555555"/><stop offset=".699" stop-color="#808080"/><stop offset=".710" stop-color="#989898"/><stop offset=".787" stop-color="#a4a4a4"/><stop offset=".816" stop-color="#a4a4a4"/><stop offset=".834" stop-color="#868686"/><stop offset=".854" stop-color="#7c7c7c"/><stop offset=".882" stop-color="#3a3a3a"/><stop offset=".914" stop-color="#040404"/><stop offset=".926" stop-color="#000000"/><stop offset=".999" stop-color="#000000"/></linearGradient><linearGradient id="g218" gradientUnits="userSpaceOnUse" x1="765" x2="1378"><stop offset=".001" stop-color="#040404"/><stop offset=".164" stop-color="#292929"/><stop offset=".249" stop-color="#434343"/><stop offset=".342" stop-color="#818181"/><stop offset=".386" stop-color="#8e8e8e"/><stop offset=".549" stop-color="#919191"/><stop offset=".593" stop-color="#9e9e9e"/><stop offset=".595" stop-color="#9d9d9d"/><stop offset=".596" stop-color="#949494"/><stop offset=".601" stop-color="#696969"/><stop offset=".603" stop-color="#646464"/><stop offset=".619" stop-color="#757575"/><stop offset=".658" stop-color="#626262"/><stop offset=".686" stop-color="#474747"/><stop offset=".689" stop-color="#515151"/><stop offset=".697" stop-color="#7d7d7d"/><stop offset=".702" stop-color="#8a8a8a"/><stop offset=".710" stop-color="#989898"/><stop offset=".792" stop-color="#a4a4a4"/><stop offset=".820" stop-color="#a3a3a3"/><stop offset=".836" stop-color="#878787"/><stop offset=".856" stop-color="#7e7e7e"/><stop offset=".870" stop-color="#5c5c5c"/><stop offset=".887" stop-color="#373737"/><stop offset=".919" stop-color="#020202"/><stop offset=".949" stop-color="#000000"/><stop offset=".999" stop-color="#000000"/></linearGradient><linearGradient id="g219" gradientUnits="userSpaceOnUse" x1="765" x2="1378"><stop offset=".001" stop-color="#040404"/><stop offset=".164" stop-color="#292929"/><stop offset=".249" stop-color="#434343"/><stop offset=".342" stop-color="#818181"/><stop offset=".384" stop-color="#8e8e8e"/><stop offset=".549" stop-color="#919191"/><stop offset=".595" stop-color="#9d9d9d"/><stop offset=".596" stop-color="#969696"/><stop offset=".601" stop-color="#6a6a6a"/><stop offset=".603" stop-color="#656565"/><stop offset=".619" stop-color="#757575"/><stop offset=".658" stop-color="#616161"/><stop offset=".684" stop-color="#474747"/><stop offset=".686" stop-color="#484848"/><stop offset=".691" stop-color="#5f5f5f"/><stop offset=".697" stop-color="#818181"/><stop offset=".709" stop-color="#979797"/><stop offset=".789" stop-color="#a4a4a4"/><stop offset=".821" stop-color="#a4a4a4"/><stop offset=".839" stop-color="#868686"/><stop offset=".859" stop-color="#7e7e7e"/><stop offset=".888" stop-color="#3a3a3a"/><stop offset=".923" stop-color="#020202"/><stop offset=".999" stop-color="#000000"/></linearGradient><linearGradient id="g220" gradientUnits="userSpaceOnUse" x1="765" x2="1378"><stop offset=".001" stop-color="#040404"/><stop offset=".164" stop-color="#292929"/><stop offset=".249" stop-color="#434343"/><stop offset=".342" stop-color="#818181"/><stop offset=".384" stop-color="#8e8e8e"/><stop offset=".549" stop-color="#919191"/><stop offset=".595" stop-color="#9d9d9d"/><stop offset=".596" stop-color="#979797"/><stop offset=".601" stop-color="#6c6c6c"/><stop offset=".603" stop-color="#656565"/><stop offset=".619" stop-color="#757575"/><stop offset=".658" stop-color="#616161"/><stop offset=".684" stop-color="#484848"/><stop offset=".688" stop-color="#525252"/><stop offset=".696" stop-color="#7e7e7e"/><stop offset=".702" stop-color="#8d8d8d"/><stop offset=".710" stop-color="#999999"/><stop offset=".797" stop-color="#a4a4a4"/><stop offset=".825" stop-color="#a3a3a3"/><stop offset=".843" stop-color="#868686"/><stop offset=".862" stop-color="#7d7d7d"/><stop offset=".892" stop-color="#393939"/><stop offset=".926" stop-color="#010101"/><stop offset=".999" stop-color="#000000"/></linearGradient><linearGradient id="g221" gradientUnits="userSpaceOnUse" x1="765" x2="1378"><stop offset=".001" stop-color="#040404"/><stop offset=".164" stop-color="#292929"/><stop offset=".249" stop-color="#424242"/><stop offset=".343" stop-color="#828282"/><stop offset=".384" stop-color="#8e8e8e"/><stop offset=".549" stop-color="#919191"/><stop offset=".595" stop-color="#9d9d9d"/><stop offset=".596" stop-color="#989898"/><stop offset=".601" stop-color="#6e6e6e"/><stop offset=".603" stop-color="#666666"/><stop offset=".609" stop-color="#6b6b6b"/><stop offset=".619" stop-color="#757575"/><stop offset=".658" stop-color="#616161"/><stop offset=".683" stop-color="#484848"/><stop offset=".684" stop-color="#494949"/><stop offset=".689" stop-color="#606060"/><stop offset=".696" stop-color="#818181"/><stop offset=".707" stop-color="#979797"/><stop offset=".789" stop-color="#a3a3a3"/><stop offset=".828" stop-color="#a3a3a3"/><stop offset=".844" stop-color="#878787"/><stop offset=".865" stop-color="#7d7d7d"/><stop offset=".895" stop-color="#393939"/><stop offset=".923" stop-color="#0a0a0a"/><stop offset=".927" stop-color="#010101"/><stop offset=".999" stop-color="#000000"/></linearGradient><linearGradient id="g222" gradientUnits="userSpaceOnUse" x1="765" x2="1378"><stop offset=".001" stop-color="#040404"/><stop offset=".164" stop-color="#282828"/><stop offset=".250" stop-color="#434343"/><stop offset=".343" stop-color="#828282"/><stop offset=".383" stop-color="#8e8e8e"/><stop offset=".549" stop-color="#919191"/><stop offset=".595" stop-color="#9d9d9d"/><stop offset=".596" stop-color="#999999"/><stop offset=".601" stop-color="#6f6f6f"/><stop offset=".603" stop-color="#676767"/><stop offset=".606" stop-color="#676767"/><stop offset=".619" stop-color="#757575"/><stop offset=".658" stop-color="#616161"/><stop offset=".683" stop-color="#494949"/><stop offset=".686" stop-color="#545454"/><stop offset=".694" stop-color="#7e7e7e"/><stop offset=".701" stop-color="#8d8d8d"/><stop offset=".709" stop-color="#989898"/><stop offset=".797" stop-color="#a3a3a3"/><stop offset=".831" stop-color="#a2a2a2"/><stop offset=".847" stop-color="#868686"/><stop offset=".865" stop-color="#818181"/><stop offset=".877" stop-color="#696969"/><stop offset=".898" stop-color="#393939"/><stop offset=".923" stop-color="#0e0e0e"/><stop offset=".929" stop-color="#010101"/><stop offset=".999" stop-color="#000000"/></linearGradient><linearGradient id="g223" gradientUnits="userSpaceOnUse" x1="765" x2="1378"><stop offset=".001" stop-color="#040404"/><stop offset=".166" stop-color="#292929"/><stop offset=".250" stop-color="#434343"/><stop offset=".343" stop-color="#828282"/><stop offset=".383" stop-color="#8d8d8d"/><stop offset=".549" stop-color="#909090"/><stop offset=".595" stop-color="#9d9d9d"/><stop offset=".596" stop-color="#9a9a9a"/><stop offset=".598" stop-color="#8f8f8f"/><stop offset=".601" stop-color="#717171"/><stop offset=".603" stop-color="#676767"/><stop offset=".606" stop-color="#676767"/><stop offset=".619" stop-color="#757575"/><stop offset=".658" stop-color="#616161"/><stop offset=".681" stop-color="#494949"/><stop offset=".683" stop-color="#4a4a4a"/><stop offset=".688" stop-color="#616161"/><stop offset=".694" stop-color="#828282"/><stop offset=".707" stop-color="#989898"/><stop offset=".795" stop-color="#a3a3a3"/><stop offset=".833" stop-color="#a3a3a3"/><stop offset=".849" stop-color="#878787"/><stop offset=".865" stop-color="#848484"/><stop offset=".874" stop-color="#787878"/><stop offset=".900" stop-color="#3b3b3b"/><stop offset=".921" stop-color="#171717"/><stop offset=".931" stop-color="#010101"/><stop offset=".999" stop-color="#000000"/></linearGradient><linearGradient id="g224" gradientUnits="userSpaceOnUse" x1="765" x2="1378"><stop offset=".001" stop-color="#040404"/><stop offset=".166" stop-color="#292929"/><stop offset=".250" stop-color="#434343"/><stop offset=".343" stop-color="#818181"/><stop offset=".383" stop-color="#8d8d8d"/><stop offset=".549" stop-color="#909090"/><stop offset=".595" stop-color="#9d9d9d"/><stop offset=".596" stop-color="#9a9a9a"/><stop offset=".598" stop-color="#909090"/><stop offset=".601" stop-color="#727272"/><stop offset=".603" stop-color="#686868"/><stop offset=".606" stop-color="#676767"/><stop offset=".619" stop-color="#757575"/><stop offset=".658" stop-color="#606060"/><stop offset=".681" stop-color="#4a4a4a"/><stop offset=".684" stop-color="#555555"/><stop offset=".692" stop-color="#7f7f7f"/><stop offset=".701" stop-color="#909090"/><stop offset=".707" stop-color="#989898"/><stop offset=".799" stop-color="#a3a3a3"/><stop offset=".836" stop-color="#a3a3a3"/><stop offset=".851" stop-color="#8a8a8a"/><stop offset=".864" stop-color="#898989"/><stop offset=".875" stop-color="#7a7a7a"/><stop offset=".903" stop-color="#3b3b3b"/><stop offset=".921" stop-color="#1c1c1c"/><stop offset=".932" stop-color="#010101"/><stop offset=".999" stop-color="#000000"/></linearGradient><linearGradient id="g225" gradientUnits="userSpaceOnUse" x1="765" x2="1378"><stop offset=".001" stop-color="#040404"/><stop offset=".166" stop-color="#292929"/><stop offset=".250" stop-color="#434343"/><stop offset=".343" stop-color="#818181"/><stop offset=".381" stop-color="#8d8d8d"/><stop offset=".549" stop-color="#909090"/><stop offset=".595" stop-color="#9c9c9c"/><stop offset=".596" stop-color="#9a9a9a"/><stop offset=".598" stop-color="#919191"/><stop offset=".601" stop-color="#747474"/><stop offset=".603" stop-color="#696969"/><stop offset=".604" stop-color="#666666"/><stop offset=".619" stop-color="#767676"/><stop offset=".658" stop-color="#606060"/><stop offset=".679" stop-color="#4a4a4a"/><stop offset=".681" stop-color="#4b4b4b"/><stop offset=".688" stop-color="#6b6b6b"/><stop offset=".692" stop-color="#828282"/><stop offset=".706" stop-color="#979797"/><stop offset=".799" stop-color="#a3a3a3"/><stop offset=".839" stop-color="#a2a2a2"/><stop offset=".851" stop-color="#8e8e8e"/><stop offset=".862" stop-color="#8d8d8d"/><stop offset=".877" stop-color="#7d7d7d"/><stop offset=".903" stop-color="#404040"/><stop offset=".921" stop-color="#202020"/><stop offset=".934" stop-color="#010101"/><stop offset=".999" stop-color="#000000"/></linearGradient><linearGradient id="g226" gradientUnits="userSpaceOnUse" x1="765" x2="1378"><stop offset=".001" stop-color="#040404"/><stop offset=".166" stop-color="#292929"/><stop offset=".250" stop-color="#434343"/><stop offset=".343" stop-color="#818181"/><stop offset=".381" stop-color="#8d8d8d"/><stop offset=".549" stop-color="#909090"/><stop offset=".595" stop-color="#9c9c9c"/><stop offset=".596" stop-color="#9a9a9a"/><stop offset=".598" stop-color="#929292"/><stop offset=".603" stop-color="#6a6a6a"/><stop offset=".604" stop-color="#666666"/><stop offset=".619" stop-color="#767676"/><stop offset=".658" stop-color="#606060"/><stop offset=".679" stop-color="#4b4b4b"/><stop offset=".683" stop-color="#565656"/><stop offset=".691" stop-color="#808080"/><stop offset=".701" stop-color="#929292"/><stop offset=".707" stop-color="#989898"/><stop offset=".800" stop-color="#a3a3a3"/><stop offset=".841" stop-color="#a3a3a3"/><stop offset=".852" stop-color="#939393"/><stop offset=".861" stop-color="#919191"/><stop offset=".880" stop-color="#7c7c7c"/><stop offset=".896" stop-color="#545454"/><stop offset=".905" stop-color="#424242"/><stop offset=".921" stop-color="#252525"/><stop offset=".936" stop-color="#010101"/><stop offset=".999" stop-color="#000000"/></linearGradient><linearGradient id="g227" gradientUnits="userSpaceOnUse" x1="765" x2="1378"><stop offset=".001" stop-color="#040404"/><stop offset=".166" stop-color="#292929"/><stop offset=".250" stop-color="#424242"/><stop offset=".343" stop-color="#818181"/><stop offset=".381" stop-color="#8d8d8d"/><stop offset=".549" stop-color="#909090"/><stop offset=".596" stop-color="#9a9a9a"/><stop offset=".598" stop-color="#949494"/><stop offset=".603" stop-color="#6b6b6b"/><stop offset=".604" stop-color="#676767"/><stop offset=".619" stop-color="#767676"/><stop offset=".658" stop-color="#606060"/><stop offset=".678" stop-color="#4b4b4b"/><stop offset=".679" stop-color="#4d4d4d"/><stop offset=".691" stop-color="#838383"/><stop offset=".704" stop-color="#979797"/><stop offset=".797" stop-color="#a3a3a3"/><stop offset=".844" stop-color="#a2a2a2"/><stop offset=".852" stop-color="#989898"/><stop offset=".862" stop-color="#929292"/><stop offset=".885" stop-color="#787878"/><stop offset=".896" stop-color="#595959"/><stop offset=".906" stop-color="#454545"/><stop offset=".923" stop-color="#262626"/><stop offset=".936" stop-color="#010101"/><stop offset=".999" stop-color="#000000"/></linearGradient><linearGradient id="g228" gradientUnits="userSpaceOnUse" x1="765" x2="1378"><stop offset=".001" stop-color="#040404"/><stop offset=".167" stop-color="#292929"/><stop offset=".252" stop-color="#434343"/><stop offset=".345" stop-color="#818181"/><stop offset=".379" stop-color="#8c8c8c"/><stop offset=".549" stop-color="#8f8f8f"/><stop offset=".596" stop-color="#9b9b9b"/><stop offset=".598" stop-color="#959595"/><stop offset=".603" stop-color="#6e6e6e"/><stop offset=".604" stop-color="#676767"/><stop offset=".619" stop-color="#767676"/><stop offset=".658" stop-color="#5f5f5f"/><stop offset=".676" stop-color="#4c4c4c"/><stop offset=".678" stop-color="#4d4d4d"/><stop offset=".681" stop-color="#5a5a5a"/><stop offset=".689" stop-color="#828282"/><stop offset=".702" stop-color="#969696"/><stop offset=".797" stop-color="#a2a2a2"/><stop offset=".847" stop-color="#a2a2a2"/><stop offset=".867" stop-color="#919191"/><stop offset=".877" stop-color="#828282"/><stop offset=".887" stop-color="#7c7c7c"/><stop offset=".893" stop-color="#6b6b6b"/><stop offset=".898" stop-color="#5c5c5c"/><stop offset=".923" stop-color="#2d2d2d"/><stop offset=".936" stop-color="#040404"/><stop offset=".942" stop-color="#000000"/><stop offset=".999" stop-color="#000000"/></linearGradient><linearGradient id="g229" gradientUnits="userSpaceOnUse" x1="765" x2="1378"><stop offset=".001" stop-color="#040404"/><stop offset=".167" stop-color="#292929"/><stop offset=".252" stop-color="#434343"/><stop offset=".345" stop-color="#818181"/><stop offset=".378" stop-color="#8c8c8c"/><stop offset=".549" stop-color="#8f8f8f"/><stop offset=".596" stop-color="#9b9b9b"/><stop offset=".598" stop-color="#979797"/><stop offset=".603" stop-color="#707070"/><stop offset=".604" stop-color="#686868"/><stop offset=".608" stop-color="#696969"/><stop offset=".619" stop-color="#767676"/><stop offset=".657" stop-color="#616161"/><stop offset=".675" stop-color="#4d4d4d"/><stop offset=".676" stop-color="#4e4e4e"/><stop offset=".681" stop-color="#636363"/><stop offset=".688" stop-color="#828282"/><stop offset=".701" stop-color="#969696"/><stop offset=".799" stop-color="#a2a2a2"/><stop offset=".856" stop-color="#a1a1a1"/><stop offset=".867" stop-color="#929292"/><stop offset=".877" stop-color="#828282"/><stop offset=".890" stop-color="#7e7e7e"/><stop offset=".898" stop-color="#666666"/><stop offset=".914" stop-color="#424242"/><stop offset=".921" stop-color="#393939"/><stop offset=".937" stop-color="#030303"/><stop offset=".944" stop-color="#000000"/><stop offset=".999" stop-color="#000000"/></linearGradient><linearGradient id="g230" gradientUnits="userSpaceOnUse" x1="765" x2="1378"><stop offset=".001" stop-color="#040404"/><stop offset=".167" stop-color="#292929"/><stop offset=".252" stop-color="#434343"/><stop offset=".347" stop-color="#828282"/><stop offset=".378" stop-color="#8c8c8c"/><stop offset=".549" stop-color="#8f8f8f"/><stop offset=".596" stop-color="#9a9a9a"/><stop offset=".598" stop-color="#989898"/><stop offset=".600" stop-color="#8f8f8f"/><stop offset=".603" stop-color="#737373"/><stop offset=".604" stop-color="#696969"/><stop offset=".608" stop-color="#696969"/><stop offset=".617" stop-color="#767676"/><stop offset=".657" stop-color="#606060"/><stop offset=".673" stop-color="#4e4e4e"/><stop offset=".675" stop-color="#4f4f4f"/><stop offset=".679" stop-color="#646464"/><stop offset=".686" stop-color="#838383"/><stop offset=".699" stop-color="#969696"/><stop offset=".799" stop-color="#a2a2a2"/><stop offset=".857" stop-color="#a2a2a2"/><stop offset=".875" stop-color="#848484"/><stop offset=".892" stop-color="#7f7f7f"/><stop offset=".918" stop-color="#414141"/><stop offset=".923" stop-color="#363636"/><stop offset=".939" stop-color="#030303"/><stop offset=".954" stop-color="#000000"/><stop offset=".999" stop-color="#000000"/></linearGradient><linearGradient id="g231" gradientUnits="userSpaceOnUse" x1="765" x2="1378"><stop offset=".001" stop-color="#040404"/><stop offset=".169" stop-color="#292929"/><stop offset=".254" stop-color="#434343"/><stop offset=".348" stop-color="#838383"/><stop offset=".376" stop-color="#8b8b8b"/><stop offset=".549" stop-color="#8e8e8e"/><stop offset=".596" stop-color="#9a9a9a"/><stop offset=".598" stop-color="#989898"/><stop offset=".600" stop-color="#919191"/><stop offset=".604" stop-color="#6c6c6c"/><stop offset=".606" stop-color="#686868"/><stop offset=".617" stop-color="#777777"/><stop offset=".657" stop-color="#606060"/><stop offset=".671" stop-color="#4f4f4f"/><stop offset=".673" stop-color="#505050"/><stop offset=".678" stop-color="#656565"/><stop offset=".684" stop-color="#838383"/><stop offset=".697" stop-color="#959595"/><stop offset=".800" stop-color="#a1a1a1"/><stop offset=".857" stop-color="#a2a2a2"/><stop offset=".875" stop-color="#858585"/><stop offset=".895" stop-color="#7d7d7d"/><stop offset=".923" stop-color="#363636"/><stop offset=".939" stop-color="#030303"/><stop offset=".947" stop-color="#000000"/><stop offset=".999" stop-color="#000000"/></linearGradient><linearGradient id="g232" gradientUnits="userSpaceOnUse" x1="765" x2="1378"><stop offset=".001" stop-color="#040404"/><stop offset=".169" stop-color="#292929"/><stop offset=".254" stop-color="#434343"/><stop offset=".350" stop-color="#838383"/><stop offset=".376" stop-color="#8b8b8b"/><stop offset=".549" stop-color="#8e8e8e"/><stop offset=".598" stop-color="#989898"/><stop offset=".600" stop-color="#939393"/><stop offset=".604" stop-color="#6e6e6e"/><stop offset=".606" stop-color="#696969"/><stop offset=".617" stop-color="#777777"/><stop offset=".657" stop-color="#5f5f5f"/><stop offset=".670" stop-color="#4f4f4f"/><stop offset=".673" stop-color="#565656"/><stop offset=".681" stop-color="#7f7f7f"/><stop offset=".686" stop-color="#898989"/><stop offset=".697" stop-color="#959595"/><stop offset=".807" stop-color="#a1a1a1"/><stop offset=".857" stop-color="#a2a2a2"/><stop offset=".874" stop-color="#868686"/><stop offset=".896" stop-color="#7e7e7e"/><stop offset=".914" stop-color="#4f4f4f"/><stop offset=".939" stop-color="#030303"/><stop offset=".947" stop-color="#000000"/><stop offset=".999" stop-color="#000000"/></linearGradient><linearGradient id="g233" gradientUnits="userSpaceOnUse" x1="765" x2="1378"><stop offset=".001" stop-color="#040404"/><stop offset=".169" stop-color="#292929"/><stop offset=".254" stop-color="#434343"/><stop offset=".353" stop-color="#858585"/><stop offset=".378" stop-color="#8b8b8b"/><stop offset=".549" stop-color="#8e8e8e"/><stop offset=".598" stop-color="#989898"/><stop offset=".600" stop-color="#959595"/><stop offset=".604" stop-color="#717171"/><stop offset=".606" stop-color="#6a6a6a"/><stop offset=".611" stop-color="#6e6e6e"/><stop offset=".617" stop-color="#777777"/><stop offset=".655" stop-color="#606060"/><stop offset=".668" stop-color="#505050"/><stop offset=".670" stop-color="#525252"/><stop offset=".676" stop-color="#707070"/><stop offset=".681" stop-color="#848484"/><stop offset=".696" stop-color="#959595"/><stop offset=".808" stop-color="#a1a1a1"/><stop offset=".857" stop-color="#a2a2a2"/><stop offset=".874" stop-color="#868686"/><stop offset=".898" stop-color="#7f7f7f"/><stop offset=".909" stop-color="#5f5f5f"/><stop offset=".939" stop-color="#030303"/><stop offset=".947" stop-color="#000000"/><stop offset=".999" stop-color="#000000"/></linearGradient><linearGradient id="g234" gradientUnits="userSpaceOnUse" x1="765" x2="1378"><stop offset=".001" stop-color="#040404"/><stop offset=".170" stop-color="#2a2a2a"/><stop offset=".255" stop-color="#434343"/><stop offset=".355" stop-color="#858585"/><stop offset=".383" stop-color="#8b8b8b"/><stop offset=".549" stop-color="#8d8d8d"/><stop offset=".598" stop-color="#989898"/><stop offset=".600" stop-color="#959595"/><stop offset=".603" stop-color="#7f7f7f"/><stop offset=".604" stop-color="#737373"/><stop offset=".606" stop-color="#6b6b6b"/><stop offset=".609" stop-color="#6c6c6c"/><stop offset=".617" stop-color="#777777"/><stop offset=".652" stop-color="#626262"/><stop offset=".666" stop-color="#515151"/><stop offset=".670" stop-color="#595959"/><stop offset=".678" stop-color="#808080"/><stop offset=".684" stop-color="#8b8b8b"/><stop offset=".694" stop-color="#959595"/><stop offset=".810" stop-color="#a1a1a1"/><stop offset=".857" stop-color="#a2a2a2"/><stop offset=".874" stop-color="#868686"/><stop offset=".898" stop-color="#7f7f7f"/><stop offset=".908" stop-color="#646464"/><stop offset=".939" stop-color="#030303"/><stop offset=".947" stop-color="#000000"/><stop offset=".999" stop-color="#000000"/></linearGradient><linearGradient id="g235" gradientUnits="userSpaceOnUse" x1="765" x2="1378"><stop offset=".001" stop-color="#040404"/><stop offset=".170" stop-color="#2a2a2a"/><stop offset=".255" stop-color="#434343"/><stop offset=".356" stop-color="#868686"/><stop offset=".397" stop-color="#8b8b8b"/><stop offset=".549" stop-color="#8d8d8d"/><stop offset=".598" stop-color="#979797"/><stop offset=".600" stop-color="#959595"/><stop offset=".601" stop-color="#8d8d8d"/><stop offset=".604" stop-color="#757575"/><stop offset=".606" stop-color="#6c6c6c"/><stop offset=".609" stop-color="#6c6c6c"/><stop offset=".617" stop-color="#787878"/><stop offset=".652" stop-color="#606060"/><stop offset=".665" stop-color="#525252"/><stop offset=".668" stop-color="#5a5a5a"/><stop offset=".676" stop-color="#818181"/><stop offset=".684" stop-color="#8d8d8d"/><stop offset=".694" stop-color="#959595"/><stop offset=".816" stop-color="#a1a1a1"/><stop offset=".857" stop-color="#a2a2a2"/><stop offset=".874" stop-color="#868686"/><stop offset=".898" stop-color="#7f7f7f"/><stop offset=".908" stop-color="#646464"/><stop offset=".939" stop-color="#030303"/><stop offset=".947" stop-color="#000000"/><stop offset=".999" stop-color="#000000"/></linearGradient><linearGradient id="g236" gradientUnits="userSpaceOnUse" x1="765" x2="1378"><stop offset=".001" stop-color="#040404"/><stop offset=".170" stop-color="#292929"/><stop offset=".255" stop-color="#434343"/><stop offset=".358" stop-color="#878787"/><stop offset=".440" stop-color="#8b8b8b"/><stop offset=".549" stop-color="#8d8d8d"/><stop offset=".598" stop-color="#969696"/><stop offset=".600" stop-color="#959595"/><stop offset=".601" stop-color="#8f8f8f"/><stop offset=".606" stop-color="#6d6d6d"/><stop offset=".608" stop-color="#6a6a6a"/><stop offset=".617" stop-color="#787878"/><stop offset=".658" stop-color="#585858"/><stop offset=".663" stop-color="#535353"/><stop offset=".666" stop-color="#5b5b5b"/><stop offset=".675" stop-color="#818181"/><stop offset=".684" stop-color="#8f8f8f"/><stop offset=".696" stop-color="#959595"/><stop offset=".823" stop-color="#a1a1a1"/><stop offset=".859" stop-color="#a0a0a0"/><stop offset=".874" stop-color="#868686"/><stop offset=".898" stop-color="#7f7f7f"/><stop offset=".908" stop-color="#646464"/><stop offset=".939" stop-color="#030303"/><stop offset=".947" stop-color="#000000"/><stop offset=".999" stop-color="#000000"/></linearGradient><linearGradient id="g237" gradientUnits="userSpaceOnUse" x1="765" x2="1378"><stop offset=".001" stop-color="#040404"/><stop offset=".172" stop-color="#2a2a2a"/><stop offset=".257" stop-color="#434343"/><stop offset=".360" stop-color="#878787"/><stop offset=".487" stop-color="#8a8a8a"/><stop offset=".551" stop-color="#8d8d8d"/><stop offset=".600" stop-color="#959595"/><stop offset=".601" stop-color="#909090"/><stop offset=".606" stop-color="#6f6f6f"/><stop offset=".608" stop-color="#6b6b6b"/><stop offset=".617" stop-color="#787878"/><stop offset=".662" stop-color="#545454"/><stop offset=".665" stop-color="#5c5c5c"/><stop offset=".673" stop-color="#828282"/><stop offset=".686" stop-color="#929292"/><stop offset=".803" stop-color="#a0a0a0"/><stop offset=".859" stop-color="#a0a0a0"/><stop offset=".874" stop-color="#868686"/><stop offset=".898" stop-color="#7f7f7f"/><stop offset=".908" stop-color="#646464"/><stop offset=".939" stop-color="#030303"/><stop offset=".947" stop-color="#000000"/><stop offset=".999" stop-color="#000000"/></linearGradient><linearGradient id="g238" gradientUnits="userSpaceOnUse" x1="765" x2="1378"><stop offset=".001" stop-color="#040404"/><stop offset=".172" stop-color="#2a2a2a"/><stop offset=".257" stop-color="#434343"/><stop offset=".360" stop-color="#878787"/><stop offset=".523" stop-color="#8a8a8a"/><stop offset=".555" stop-color="#8e8e8e"/><stop offset=".600" stop-color="#959595"/><stop offset=".601" stop-color="#919191"/><stop offset=".606" stop-color="#717171"/><stop offset=".608" stop-color="#6c6c6c"/><stop offset=".617" stop-color="#767676"/><stop offset=".660" stop-color="#555555"/><stop offset=".663" stop-color="#5d5d5d"/><stop offset=".671" stop-color="#828282"/><stop offset=".686" stop-color="#929292"/><stop offset=".810" stop-color="#a0a0a0"/><stop offset=".859" stop-color="#a0a0a0"/><stop offset=".874" stop-color="#878787"/><stop offset=".898" stop-color="#7f7f7f"/><stop offset=".908" stop-color="#646464"/><stop offset=".939" stop-color="#030303"/><stop offset=".947" stop-color="#000000"/><stop offset=".999" stop-color="#000000"/></linearGradient><linearGradient id="g239" gradientUnits="userSpaceOnUse" x1="765" x2="1378"><stop offset=".001" stop-color="#040404"/><stop offset=".172" stop-color="#2a2a2a"/><stop offset=".257" stop-color="#434343"/><stop offset=".361" stop-color="#878787"/><stop offset=".551" stop-color="#8c8c8c"/><stop offset=".600" stop-color="#949494"/><stop offset=".601" stop-color="#929292"/><stop offset=".606" stop-color="#727272"/><stop offset=".608" stop-color="#6c6c6c"/><stop offset=".616" stop-color="#737373"/><stop offset=".631" stop-color="#6c6c6c"/><stop offset=".658" stop-color="#565656"/><stop offset=".662" stop-color="#5e5e5e"/><stop offset=".670" stop-color="#838383"/><stop offset=".686" stop-color="#929292"/><stop offset=".812" stop-color="#9f9f9f"/><stop offset=".859" stop-color="#a0a0a0"/><stop offset=".875" stop-color="#868686"/><stop offset=".898" stop-color="#7f7f7f"/><stop offset=".908" stop-color="#646464"/><stop offset=".939" stop-color="#030303"/><stop offset=".947" stop-color="#000000"/><stop offset=".999" stop-color="#000000"/></linearGradient><linearGradient id="g240" gradientUnits="userSpaceOnUse" x1="765" x2="1378"><stop offset=".001" stop-color="#040404"/><stop offset=".172" stop-color="#2a2a2a"/><stop offset=".259" stop-color="#434343"/><stop offset=".361" stop-color="#878787"/><stop offset=".551" stop-color="#8c8c8c"/><stop offset=".600" stop-color="#949494"/><stop offset=".601" stop-color="#929292"/><stop offset=".604" stop-color="#7f7f7f"/><stop offset=".608" stop-color="#6c6c6c"/><stop offset=".617" stop-color="#707070"/><stop offset=".634" stop-color="#696969"/><stop offset=".657" stop-color="#565656"/><stop offset=".660" stop-color="#5f5f5f"/><stop offset=".668" stop-color="#838383"/><stop offset=".684" stop-color="#929292"/><stop offset=".807" stop-color="#9f9f9f"/><stop offset=".859" stop-color="#a0a0a0"/><stop offset=".875" stop-color="#868686"/><stop offset=".898" stop-color="#7f7f7f"/><stop offset=".908" stop-color="#646464"/><stop offset=".939" stop-color="#030303"/><stop offset=".947" stop-color="#000000"/><stop offset=".999" stop-color="#000000"/></linearGradient><linearGradient id="g241" gradientUnits="userSpaceOnUse" x1="765" x2="1378"><stop offset=".001" stop-color="#040404"/><stop offset=".166" stop-color="#282828"/><stop offset=".259" stop-color="#434343"/><stop offset=".360" stop-color="#868686"/><stop offset=".466" stop-color="#898989"/><stop offset=".551" stop-color="#8b8b8b"/><stop offset=".601" stop-color="#919191"/><stop offset=".604" stop-color="#818181"/><stop offset=".608" stop-color="#6d6d6d"/><stop offset=".635" stop-color="#676767"/><stop offset=".655" stop-color="#575757"/><stop offset=".658" stop-color="#616161"/><stop offset=".666" stop-color="#848484"/><stop offset=".683" stop-color="#929292"/><stop offset=".802" stop-color="#9e9e9e"/><stop offset=".859" stop-color="#9f9f9f"/><stop offset=".875" stop-color="#868686"/><stop offset=".898" stop-color="#7f7f7f"/><stop offset=".908" stop-color="#646464"/><stop offset=".939" stop-color="#030303"/><stop offset=".947" stop-color="#000000"/><stop offset=".999" stop-color="#000000"/></linearGradient><linearGradient id="g242" gradientUnits="userSpaceOnUse" x1="765" x2="1378"><stop offset=".001" stop-color="#030303"/><stop offset=".159" stop-color="#262626"/><stop offset=".259" stop-color="#434343"/><stop offset=".358" stop-color="#848484"/><stop offset=".404" stop-color="#898989"/><stop offset=".551" stop-color="#8b8b8b"/><stop offset=".601" stop-color="#919191"/><stop offset=".603" stop-color="#8c8c8c"/><stop offset=".608" stop-color="#6f6f6f"/><stop offset=".613" stop-color="#6b6b6b"/><stop offset=".640" stop-color="#636363"/><stop offset=".653" stop-color="#585858"/><stop offset=".657" stop-color="#626262"/><stop offset=".665" stop-color="#848484"/><stop offset=".683" stop-color="#919191"/><stop offset=".799" stop-color="#9e9e9e"/><stop offset=".859" stop-color="#9f9f9f"/><stop offset=".875" stop-color="#868686"/><stop offset=".898" stop-color="#7f7f7f"/><stop offset=".908" stop-color="#646464"/><stop offset=".939" stop-color="#030303"/><stop offset=".947" stop-color="#000000"/><stop offset=".999" stop-color="#000000"/></linearGradient><linearGradient id="g243" gradientUnits="userSpaceOnUse" x1="765" x2="1378"><stop offset=".001" stop-color="#030303"/><stop offset=".153" stop-color="#242424"/><stop offset=".259" stop-color="#434343"/><stop offset=".356" stop-color="#838383"/><stop offset=".389" stop-color="#888888"/><stop offset=".551" stop-color="#8b8b8b"/><stop offset=".601" stop-color="#919191"/><stop offset=".603" stop-color="#8d8d8d"/><stop offset=".608" stop-color="#707070"/><stop offset=".611" stop-color="#696969"/><stop offset=".645" stop-color="#5e5e5e"/><stop offset=".652" stop-color="#5a5a5a"/><stop offset=".655" stop-color="#626262"/><stop offset=".662" stop-color="#808080"/><stop offset=".666" stop-color="#888888"/><stop offset=".683" stop-color="#919191"/><stop offset=".799" stop-color="#9e9e9e"/><stop offset=".859" stop-color="#9f9f9f"/><stop offset=".875" stop-color="#868686"/><stop offset=".898" stop-color="#7f7f7f"/><stop offset=".908" stop-color="#646464"/><stop offset=".939" stop-color="#030303"/><stop offset=".947" stop-color="#000000"/><stop offset=".999" stop-color="#000000"/></linearGradient><linearGradient id="g244" gradientUnits="userSpaceOnUse" x1="765" x2="1378"><stop offset=".001" stop-color="#020202"/><stop offset=".149" stop-color="#232323"/><stop offset=".259" stop-color="#434343"/><stop offset=".356" stop-color="#828282"/><stop offset=".389" stop-color="#888888"/><stop offset=".551" stop-color="#8a8a8a"/><stop offset=".601" stop-color="#919191"/><stop offset=".603" stop-color="#8e8e8e"/><stop offset=".608" stop-color="#717171"/><stop offset=".611" stop-color="#696969"/><stop offset=".650" stop-color="#5b5b5b"/><stop offset=".653" stop-color="#626262"/><stop offset=".660" stop-color="#808080"/><stop offset=".665" stop-color="#888888"/><stop offset=".683" stop-color="#919191"/><stop offset=".797" stop-color="#9e9e9e"/><stop offset=".859" stop-color="#9f9f9f"/><stop offset=".875" stop-color="#868686"/><stop offset=".898" stop-color="#7f7f7f"/><stop offset=".908" stop-color="#646464"/><stop offset=".939" stop-color="#030303"/><stop offset=".947" stop-color="#000000"/><stop offset=".999" stop-color="#000000"/></linearGradient><linearGradient id="g245" gradientUnits="userSpaceOnUse" x1="765" x2="1378"><stop offset=".001" stop-color="#020202"/><stop offset=".153" stop-color="#232323"/><stop offset=".257" stop-color="#414141"/><stop offset=".356" stop-color="#828282"/><stop offset=".391" stop-color="#878787"/><stop offset=".570" stop-color="#8a8a8a"/><stop offset=".601" stop-color="#909090"/><stop offset=".603" stop-color="#8e8e8e"/><stop offset=".609" stop-color="#6c6c6c"/><stop offset=".648" stop-color="#5c5c5c"/><stop offset=".652" stop-color="#626262"/><stop offset=".658" stop-color="#808080"/><stop offset=".662" stop-color="#878787"/><stop offset=".681" stop-color="#919191"/><stop offset=".792" stop-color="#9d9d9d"/><stop offset=".859" stop-color="#9f9f9f"/><stop offset=".875" stop-color="#868686"/><stop offset=".898" stop-color="#7f7f7f"/><stop offset=".908" stop-color="#646464"/><stop offset=".939" stop-color="#030303"/><stop offset=".947" stop-color="#000000"/><stop offset=".996" stop-color="#010101"/><stop offset=".999" stop-color="#040404"/></linearGradient><linearGradient id="g246" gradientUnits="userSpaceOnUse" x1="765" x2="1378"><stop offset=".001" stop-color="#010101"/><stop offset=".135" stop-color="#1f1f1f"/><stop offset=".255" stop-color="#404040"/><stop offset=".356" stop-color="#818181"/><stop offset=".394" stop-color="#878787"/><stop offset=".572" stop-color="#8a8a8a"/><stop offset=".601" stop-color="#909090"/><stop offset=".603" stop-color="#8e8e8e"/><stop offset=".606" stop-color="#7e7e7e"/><stop offset=".609" stop-color="#6d6d6d"/><stop offset=".624" stop-color="#656565"/><stop offset=".647" stop-color="#5d5d5d"/><stop offset=".650" stop-color="#636363"/><stop offset=".658" stop-color="#848484"/><stop offset=".676" stop-color="#8f8f8f"/><stop offset=".758" stop-color="#9b9b9b"/><stop offset=".859" stop-color="#9f9f9f"/><stop offset=".875" stop-color="#868686"/><stop offset=".898" stop-color="#7f7f7f"/><stop offset=".908" stop-color="#646464"/><stop offset=".939" stop-color="#030303"/><stop offset=".947" stop-color="#000000"/><stop offset=".994" stop-color="#020202"/><stop offset=".999" stop-color="#0c0c0c"/></linearGradient><linearGradient id="g247" gradientUnits="userSpaceOnUse" x1="765" x2="1378"><stop offset=".001" stop-color="#010101"/><stop offset=".130" stop-color="#1d1d1d"/><stop offset=".254" stop-color="#3f3f3f"/><stop offset=".356" stop-color="#818181"/><stop offset=".396" stop-color="#878787"/><stop offset=".573" stop-color="#898989"/><stop offset=".603" stop-color="#8e8e8e"/><stop offset=".606" stop-color="#808080"/><stop offset=".609" stop-color="#6e6e6e"/><stop offset=".614" stop-color="#696969"/><stop offset=".647" stop-color="#5f5f5f"/><stop offset=".652" stop-color="#707070"/><stop offset=".657" stop-color="#848484"/><stop offset=".671" stop-color="#8d8d8d"/><stop offset=".737" stop-color="#989898"/><stop offset=".859" stop-color="#9f9f9f"/><stop offset=".875" stop-color="#868686"/><stop offset=".898" stop-color="#7f7f7f"/><stop offset=".908" stop-color="#646464"/><stop offset=".939" stop-color="#030303"/><stop offset=".947" stop-color="#000000"/><stop offset=".991" stop-color="#010101"/><stop offset=".999" stop-color="#131313"/></linearGradient><linearGradient id="g248" gradientUnits="userSpaceOnUse" x1="765" x2="1378"><stop offset=".001" stop-color="#010101"/><stop offset=".126" stop-color="#1c1c1c"/><stop offset=".250" stop-color="#3e3e3e"/><stop offset=".356" stop-color="#818181"/><stop offset=".397" stop-color="#878787"/><stop offset=".573" stop-color="#898989"/><stop offset=".603" stop-color="#8e8e8e"/><stop offset=".606" stop-color="#818181"/><stop offset=".609" stop-color="#707070"/><stop offset=".613" stop-color="#6a6a6a"/><stop offset=".645" stop-color="#606060"/><stop offset=".648" stop-color="#696969"/><stop offset=".655" stop-color="#838383"/><stop offset=".668" stop-color="#8b8b8b"/><stop offset=".730" stop-color="#989898"/><stop offset=".859" stop-color="#9f9f9f"/><stop offset=".875" stop-color="#868686"/><stop offset=".898" stop-color="#7f7f7f"/><stop offset=".908" stop-color="#646464"/><stop offset=".939" stop-color="#030303"/><stop offset=".947" stop-color="#000000"/><stop offset=".988" stop-color="#010101"/><stop offset=".999" stop-color="#1b1b1b"/></linearGradient><linearGradient id="g249" gradientUnits="userSpaceOnUse" x1="765" x2="1378"><stop offset=".001" stop-color="#010101"/><stop offset=".122" stop-color="#1a1a1a"/><stop offset=".148" stop-color="#202020"/><stop offset=".249" stop-color="#3d3d3d"/><stop offset=".358" stop-color="#818181"/><stop offset=".399" stop-color="#868686"/><stop offset=".575" stop-color="#888888"/><stop offset=".603" stop-color="#8d8d8d"/><stop offset=".604" stop-color="#8a8a8a"/><stop offset=".609" stop-color="#717171"/><stop offset=".613" stop-color="#6b6b6b"/><stop offset=".644" stop-color="#616161"/><stop offset=".647" stop-color="#696969"/><stop offset=".653" stop-color="#838383"/><stop offset=".663" stop-color="#898989"/><stop offset=".727" stop-color="#979797"/><stop offset=".859" stop-color="#9f9f9f"/><stop offset=".877" stop-color="#858585"/><stop offset=".898" stop-color="#7f7f7f"/><stop offset=".908" stop-color="#646464"/><stop offset=".939" stop-color="#030303"/><stop offset=".947" stop-color="#000000"/><stop offset=".985" stop-color="#010101"/><stop offset=".993" stop-color="#131313"/><stop offset=".999" stop-color="#232323"/></linearGradient><linearGradient id="g250" gradientUnits="userSpaceOnUse" x1="765" x2="1378"><stop offset=".001" stop-color="#010101"/><stop offset=".087" stop-color="#111111"/><stop offset=".146" stop-color="#202020"/><stop offset=".244" stop-color="#3b3b3b"/><stop offset=".358" stop-color="#818181"/><stop offset=".400" stop-color="#868686"/><stop offset=".578" stop-color="#888888"/><stop offset=".603" stop-color="#8d8d8d"/><stop offset=".604" stop-color="#8a8a8a"/><stop offset=".609" stop-color="#727272"/><stop offset=".613" stop-color="#6c6c6c"/><stop offset=".642" stop-color="#626262"/><stop offset=".645" stop-color="#696969"/><stop offset=".652" stop-color="#828282"/><stop offset=".662" stop-color="#888888"/><stop offset=".728" stop-color="#979797"/><stop offset=".859" stop-color="#9f9f9f"/><stop offset=".877" stop-color="#858585"/><stop offset=".898" stop-color="#7f7f7f"/><stop offset=".908" stop-color="#646464"/><stop offset=".939" stop-color="#030303"/><stop offset=".947" stop-color="#000000"/><stop offset=".981" stop-color="#010101"/><stop offset=".988" stop-color="#0e0e0e"/><stop offset=".999" stop-color="#2b2b2b"/></linearGradient><linearGradient id="g251" gradientUnits="userSpaceOnUse" x1="765" x2="1378"><stop offset=".001" stop-color="#010101"/><stop offset=".046" stop-color="#080808"/><stop offset=".133" stop-color="#1e1e1e"/><stop offset=".184" stop-color="#282828"/><stop offset=".247" stop-color="#3c3c3c"/><stop offset=".358" stop-color="#818181"/><stop offset=".402" stop-color="#868686"/><stop offset=".580" stop-color="#888888"/><stop offset=".603" stop-color="#8c8c8c"/><stop offset=".604" stop-color="#8a8a8a"/><stop offset=".611" stop-color="#6e6e6e"/><stop offset=".640" stop-color="#636363"/><stop offset=".644" stop-color="#696969"/><stop offset=".650" stop-color="#818181"/><stop offset=".662" stop-color="#878787"/><stop offset=".730" stop-color="#979797"/><stop offset=".859" stop-color="#9f9f9f"/><stop offset=".877" stop-color="#858585"/><stop offset=".898" stop-color="#7f7f7f"/><stop offset=".908" stop-color="#646464"/><stop offset=".939" stop-color="#030303"/><stop offset=".947" stop-color="#000000"/><stop offset=".980" stop-color="#020202"/><stop offset=".999" stop-color="#343434"/></linearGradient><linearGradient id="g252" gradientUnits="userSpaceOnUse" x1="765" x2="1378"><stop offset=".001" stop-color="#010101"/><stop offset=".038" stop-color="#060606"/><stop offset=".130" stop-color="#1c1c1c"/><stop offset=".153" stop-color="#202020"/><stop offset=".237" stop-color="#383838"/><stop offset=".277" stop-color="#4c4c4c"/><stop offset=".360" stop-color="#818181"/><stop offset=".410" stop-color="#858585"/><stop offset=".580" stop-color="#878787"/><stop offset=".604" stop-color="#8a8a8a"/><stop offset=".611" stop-color="#6f6f6f"/><stop offset=".639" stop-color="#656565"/><stop offset=".642" stop-color="#6a6a6a"/><stop offset=".648" stop-color="#818181"/><stop offset=".660" stop-color="#878787"/><stop offset=".732" stop-color="#979797"/><stop offset=".859" stop-color="#9f9f9f"/><stop offset=".877" stop-color="#858585"/><stop offset=".898" stop-color="#7f7f7f"/><stop offset=".908" stop-color="#646464"/><stop offset=".939" stop-color="#030303"/><stop offset=".947" stop-color="#000000"/><stop offset=".976" stop-color="#020202"/><stop offset=".999" stop-color="#3c3c3c"/></linearGradient><linearGradient id="g253" gradientUnits="userSpaceOnUse" x1="765" x2="1378"><stop offset=".001" stop-color="#010101"/><stop offset=".035" stop-color="#050505"/><stop offset=".126" stop-color="#1b1b1b"/><stop offset=".151" stop-color="#202020"/><stop offset=".213" stop-color="#2e2e2e"/><stop offset=".270" stop-color="#474747"/><stop offset=".350" stop-color="#7b7b7b"/><stop offset=".368" stop-color="#828282"/><stop offset=".520" stop-color="#858585"/><stop offset=".586" stop-color="#878787"/><stop offset=".604" stop-color="#8a8a8a"/><stop offset=".611" stop-color="#707070"/><stop offset=".639" stop-color="#676767"/><stop offset=".648" stop-color="#838383"/><stop offset=".732" stop-color="#979797"/><stop offset=".859" stop-color="#9e9e9e"/><stop offset=".877" stop-color="#868686"/><stop offset=".898" stop-color="#7f7f7f"/><stop offset=".908" stop-color="#646464"/><stop offset=".939" stop-color="#030303"/><stop offset=".947" stop-color="#000000"/><stop offset=".973" stop-color="#010101"/><stop offset=".983" stop-color="#1a1a1a"/><stop offset=".998" stop-color="#404040"/><stop offset=".999" stop-color="#424242"/></linearGradient><linearGradient id="g254" gradientUnits="userSpaceOnUse" x1="765" x2="1378"><stop offset=".001" stop-color="#010101"/><stop offset=".035" stop-color="#040404"/><stop offset=".125" stop-color="#1a1a1a"/><stop offset=".151" stop-color="#202020"/><stop offset=".188" stop-color="#272727"/><stop offset=".239" stop-color="#383838"/><stop offset=".272" stop-color="#474747"/><stop offset=".348" stop-color="#797979"/><stop offset=".363" stop-color="#818181"/><stop offset=".443" stop-color="#848484"/><stop offset=".583" stop-color="#868686"/><stop offset=".604" stop-color="#898989"/><stop offset=".608" stop-color="#7e7e7e"/><stop offset=".611" stop-color="#717171"/><stop offset=".626" stop-color="#6a6a6a"/><stop offset=".637" stop-color="#686868"/><stop offset=".647" stop-color="#838383"/><stop offset=".733" stop-color="#979797"/><stop offset=".859" stop-color="#9e9e9e"/><stop offset=".877" stop-color="#868686"/><stop offset=".898" stop-color="#7f7f7f"/><stop offset=".908" stop-color="#646464"/><stop offset=".939" stop-color="#030303"/><stop offset=".947" stop-color="#000000"/><stop offset=".971" stop-color="#010101"/><stop offset=".976" stop-color="#0e0e0e"/><stop offset=".993" stop-color="#3d3d3d"/><stop offset=".999" stop-color="#474747"/></linearGradient><linearGradient id="g255" gradientUnits="userSpaceOnUse" x1="765" x2="1378"><stop offset=".001" stop-color="#010101"/><stop offset=".035" stop-color="#040404"/><stop offset=".131" stop-color="#1b1b1b"/><stop offset=".153" stop-color="#202020"/><stop offset=".187" stop-color="#262626"/><stop offset=".236" stop-color="#373737"/><stop offset=".260" stop-color="#404040"/><stop offset=".343" stop-color="#747474"/><stop offset=".360" stop-color="#808080"/><stop offset=".428" stop-color="#848484"/><stop offset=".583" stop-color="#868686"/><stop offset=".604" stop-color="#898989"/><stop offset=".608" stop-color="#7f7f7f"/><stop offset=".611" stop-color="#727272"/><stop offset=".619" stop-color="#6d6d6d"/><stop offset=".635" stop-color="#696969"/><stop offset=".640" stop-color="#757575"/><stop offset=".645" stop-color="#828282"/><stop offset=".735" stop-color="#979797"/><stop offset=".859" stop-color="#9e9e9e"/><stop offset=".877" stop-color="#868686"/><stop offset=".898" stop-color="#7f7f7f"/><stop offset=".908" stop-color="#646464"/><stop offset=".939" stop-color="#030303"/><stop offset=".947" stop-color="#000000"/><stop offset=".970" stop-color="#010101"/><stop offset=".975" stop-color="#0e0e0e"/><stop offset=".988" stop-color="#393939"/><stop offset=".998" stop-color="#4a4a4a"/><stop offset=".999" stop-color="#4c4c4c"/></linearGradient><linearGradient id="g256" gradientUnits="userSpaceOnUse" x1="765" x2="1378"><stop offset=".001" stop-color="#010101"/><stop offset=".037" stop-color="#030303"/><stop offset=".131" stop-color="#1a1a1a"/><stop offset=".153" stop-color="#202020"/><stop offset=".184" stop-color="#242424"/><stop offset=".234" stop-color="#353535"/><stop offset=".260" stop-color="#404040"/><stop offset=".286" stop-color="#4e4e4e"/><stop offset=".347" stop-color="#767676"/><stop offset=".361" stop-color="#808080"/><stop offset=".431" stop-color="#838383"/><stop offset=".583" stop-color="#868686"/><stop offset=".604" stop-color="#888888"/><stop offset=".608" stop-color="#808080"/><stop offset=".613" stop-color="#707070"/><stop offset=".634" stop-color="#6a6a6a"/><stop offset=".639" stop-color="#757575"/><stop offset=".644" stop-color="#828282"/><stop offset=".737" stop-color="#979797"/><stop offset=".859" stop-color="#9e9e9e"/><stop offset=".877" stop-color="#868686"/><stop offset=".898" stop-color="#7f7f7f"/><stop offset=".908" stop-color="#646464"/><stop offset=".939" stop-color="#030303"/><stop offset=".947" stop-color="#000000"/><stop offset=".968" stop-color="#010101"/><stop offset=".971" stop-color="#080808"/><stop offset=".985" stop-color="#383838"/><stop offset=".991" stop-color="#464646"/><stop offset=".999" stop-color="#515151"/></linearGradient><linearGradient id="g257" gradientUnits="userSpaceOnUse" x1="765" x2="1378"><stop offset=".001" stop-color="#010101"/><stop offset=".038" stop-color="#030303"/><stop offset=".133" stop-color="#1a1a1a"/><stop offset=".154" stop-color="#202020"/><stop offset=".185" stop-color="#242424"/><stop offset=".234" stop-color="#353535"/><stop offset=".259" stop-color="#404040"/><stop offset=".273" stop-color="#444444"/><stop offset=".343" stop-color="#737373"/><stop offset=".361" stop-color="#808080"/><stop offset=".430" stop-color="#838383"/><stop offset=".583" stop-color="#858585"/><stop offset=".606" stop-color="#868686"/><stop offset=".613" stop-color="#717171"/><stop offset=".632" stop-color="#6b6b6b"/><stop offset=".637" stop-color="#757575"/><stop offset=".642" stop-color="#818181"/><stop offset=".738" stop-color="#979797"/><stop offset=".859" stop-color="#9e9e9e"/><stop offset=".877" stop-color="#868686"/><stop offset=".898" stop-color="#7f7f7f"/><stop offset=".908" stop-color="#646464"/><stop offset=".939" stop-color="#030303"/><stop offset=".947" stop-color="#000000"/><stop offset=".967" stop-color="#000000"/><stop offset=".970" stop-color="#070707"/><stop offset=".981" stop-color="#373737"/><stop offset=".988" stop-color="#464646"/><stop offset=".999" stop-color="#555555"/></linearGradient><linearGradient id="g258" gradientUnits="userSpaceOnUse" x1="765" x2="1378"><stop offset=".001" stop-color="#010101"/><stop offset=".042" stop-color="#030303"/><stop offset=".133" stop-color="#191919"/><stop offset=".156" stop-color="#202020"/><stop offset=".188" stop-color="#242424"/><stop offset=".242" stop-color="#383838"/><stop offset=".260" stop-color="#404040"/><stop offset=".275" stop-color="#444444"/><stop offset=".340" stop-color="#6e6e6e"/><stop offset=".363" stop-color="#808080"/><stop offset=".436" stop-color="#828282"/><stop offset=".583" stop-color="#858585"/><stop offset=".606" stop-color="#868686"/><stop offset=".613" stop-color="#727272"/><stop offset=".631" stop-color="#6d6d6d"/><stop offset=".635" stop-color="#767676"/><stop offset=".640" stop-color="#818181"/><stop offset=".740" stop-color="#979797"/><stop offset=".859" stop-color="#9e9e9e"/><stop offset=".877" stop-color="#868686"/><stop offset=".898" stop-color="#7f7f7f"/><stop offset=".908" stop-color="#646464"/><stop offset=".939" stop-color="#030303"/><stop offset=".947" stop-color="#000000"/><stop offset=".965" stop-color="#010101"/><stop offset=".968" stop-color="#080808"/><stop offset=".981" stop-color="#3f3f3f"/><stop offset=".993" stop-color="#535353"/><stop offset=".999" stop-color="#5b5b5b"/></linearGradient><linearGradient id="g259" gradientUnits="userSpaceOnUse" x1="765" x2="1378"><stop offset=".001" stop-color="#000000"/><stop offset=".046" stop-color="#030303"/><stop offset=".131" stop-color="#181818"/><stop offset=".162" stop-color="#1f1f1f"/><stop offset=".201" stop-color="#262626"/><stop offset=".265" stop-color="#404040"/><stop offset=".281" stop-color="#464646"/><stop offset=".337" stop-color="#6a6a6a"/><stop offset=".366" stop-color="#808080"/><stop offset=".467" stop-color="#828282"/><stop offset=".585" stop-color="#848484"/><stop offset=".606" stop-color="#858585"/><stop offset=".613" stop-color="#737373"/><stop offset=".629" stop-color="#6f6f6f"/><stop offset=".639" stop-color="#818181"/><stop offset=".745" stop-color="#979797"/><stop offset=".859" stop-color="#9e9e9e"/><stop offset=".878" stop-color="#868686"/><stop offset=".898" stop-color="#7f7f7f"/><stop offset=".908" stop-color="#646464"/><stop offset=".940" stop-color="#020202"/><stop offset=".963" stop-color="#010101"/><stop offset=".967" stop-color="#090909"/><stop offset=".980" stop-color="#3f3f3f"/><stop offset=".993" stop-color="#5a5a5a"/><stop offset=".999" stop-color="#626262"/></linearGradient><linearGradient id="g260" gradientUnits="userSpaceOnUse" x1="765" x2="1378"><stop offset=".001" stop-color="#000000"/><stop offset=".055" stop-color="#030303"/><stop offset=".131" stop-color="#161616"/><stop offset=".177" stop-color="#202020"/><stop offset=".224" stop-color="#2e2e2e"/><stop offset=".272" stop-color="#404040"/><stop offset=".330" stop-color="#636363"/><stop offset=".368" stop-color="#808080"/><stop offset=".583" stop-color="#838383"/><stop offset=".606" stop-color="#848484"/><stop offset=".614" stop-color="#727272"/><stop offset=".627" stop-color="#717171"/><stop offset=".637" stop-color="#818181"/><stop offset=".746" stop-color="#979797"/><stop offset=".861" stop-color="#9e9e9e"/><stop offset=".878" stop-color="#898989"/><stop offset=".900" stop-color="#7c7c7c"/><stop offset=".927" stop-color="#303030"/><stop offset=".942" stop-color="#020202"/><stop offset=".962" stop-color="#010101"/><stop offset=".967" stop-color="#101010"/><stop offset=".978" stop-color="#3f3f3f"/><stop offset=".996" stop-color="#646464"/><stop offset=".999" stop-color="#686868"/></linearGradient><linearGradient id="g261" gradientUnits="userSpaceOnUse" x1="765" x2="1378"><stop offset=".001" stop-color="#000000"/><stop offset=".060" stop-color="#030303"/><stop offset=".130" stop-color="#151515"/><stop offset=".211" stop-color="#272727"/><stop offset=".296" stop-color="#4b4b4b"/><stop offset=".352" stop-color="#717171"/><stop offset=".371" stop-color="#808080"/><stop offset=".583" stop-color="#838383"/><stop offset=".606" stop-color="#848484"/><stop offset=".614" stop-color="#747474"/><stop offset=".626" stop-color="#727272"/><stop offset=".635" stop-color="#818181"/><stop offset=".750" stop-color="#979797"/><stop offset=".864" stop-color="#9d9d9d"/><stop offset=".878" stop-color="#8d8d8d"/><stop offset=".900" stop-color="#7e7e7e"/><stop offset=".927" stop-color="#373737"/><stop offset=".944" stop-color="#020202"/><stop offset=".958" stop-color="#000000"/><stop offset=".962" stop-color="#050505"/><stop offset=".978" stop-color="#434343"/><stop offset=".998" stop-color="#6c6c6c"/><stop offset=".999" stop-color="#6e6e6e"/></linearGradient><linearGradient id="g262" gradientUnits="userSpaceOnUse" x1="765" x2="1378"><stop offset=".001" stop-color="#000000"/><stop offset=".064" stop-color="#030303"/><stop offset=".128" stop-color="#131313"/><stop offset=".211" stop-color="#252525"/><stop offset=".303" stop-color="#4c4c4c"/><stop offset=".356" stop-color="#727272"/><stop offset=".373" stop-color="#808080"/><stop offset=".583" stop-color="#828282"/><stop offset=".608" stop-color="#838383"/><stop offset=".616" stop-color="#767676"/><stop offset=".626" stop-color="#757575"/><stop offset=".634" stop-color="#818181"/><stop offset=".751" stop-color="#979797"/><stop offset=".865" stop-color="#9e9e9e"/><stop offset=".878" stop-color="#909090"/><stop offset=".901" stop-color="#7f7f7f"/><stop offset=".929" stop-color="#3a3a3a"/><stop offset=".945" stop-color="#030303"/><stop offset=".957" stop-color="#000000"/><stop offset=".960" stop-color="#050505"/><stop offset=".976" stop-color="#434343"/><stop offset=".999" stop-color="#737373"/></linearGradient><linearGradient id="g263" gradientUnits="userSpaceOnUse" x1="765" x2="1378"><stop offset=".001" stop-color="#000000"/><stop offset=".069" stop-color="#030303"/><stop offset=".175" stop-color="#1a1a1a"/><stop offset=".229" stop-color="#2b2b2b"/><stop offset=".304" stop-color="#4b4b4b"/><stop offset=".355" stop-color="#6f6f6f"/><stop offset=".374" stop-color="#808080"/><stop offset=".583" stop-color="#828282"/><stop offset=".609" stop-color="#828282"/><stop offset=".619" stop-color="#767676"/><stop offset=".626" stop-color="#787878"/><stop offset=".632" stop-color="#808080"/><stop offset=".753" stop-color="#979797"/><stop offset=".867" stop-color="#9e9e9e"/><stop offset=".903" stop-color="#7f7f7f"/><stop offset=".931" stop-color="#3b3b3b"/><stop offset=".947" stop-color="#030303"/><stop offset=".955" stop-color="#010101"/><stop offset=".958" stop-color="#050505"/><stop offset=".975" stop-color="#424242"/><stop offset=".999" stop-color="#767676"/></linearGradient><linearGradient id="g264" gradientUnits="userSpaceOnUse" x1="765" x2="1378"><stop offset=".001" stop-color="#000000"/><stop offset=".074" stop-color="#030303"/><stop offset=".216" stop-color="#242424"/><stop offset=".304" stop-color="#494949"/><stop offset=".353" stop-color="#6b6b6b"/><stop offset=".378" stop-color="#808080"/><stop offset=".583" stop-color="#818181"/><stop offset=".611" stop-color="#818181"/><stop offset=".621" stop-color="#777777"/><stop offset=".632" stop-color="#818181"/><stop offset=".754" stop-color="#979797"/><stop offset=".869" stop-color="#9e9e9e"/><stop offset=".905" stop-color="#7f7f7f"/><stop offset=".932" stop-color="#3b3b3b"/><stop offset=".949" stop-color="#030303"/><stop offset=".954" stop-color="#030303"/><stop offset=".960" stop-color="#101010"/><stop offset=".973" stop-color="#404040"/><stop offset=".999" stop-color="#797979"/></linearGradient><linearGradient id="g265" gradientUnits="userSpaceOnUse" x1="765" x2="1378"><stop offset=".001" stop-color="#000000"/><stop offset=".081" stop-color="#030303"/><stop offset=".219" stop-color="#232323"/><stop offset=".306" stop-color="#474747"/><stop offset=".355" stop-color="#6a6a6a"/><stop offset=".379" stop-color="#808080"/><stop offset=".590" stop-color="#818181"/><stop offset=".613" stop-color="#808080"/><stop offset=".621" stop-color="#797979"/><stop offset=".632" stop-color="#818181"/><stop offset=".756" stop-color="#979797"/><stop offset=".870" stop-color="#9e9e9e"/><stop offset=".906" stop-color="#7f7f7f"/><stop offset=".934" stop-color="#3c3c3c"/><stop offset=".949" stop-color="#080808"/><stop offset=".952" stop-color="#090909"/><stop offset=".963" stop-color="#202020"/><stop offset=".973" stop-color="#444444"/><stop offset=".999" stop-color="#7d7d7d"/></linearGradient><linearGradient id="g266" gradientUnits="userSpaceOnUse" x1="765" x2="1378"><stop offset=".001" stop-color="#000000"/><stop offset=".087" stop-color="#030303"/><stop offset=".224" stop-color="#232323"/><stop offset=".309" stop-color="#474747"/><stop offset=".355" stop-color="#686868"/><stop offset=".381" stop-color="#808080"/><stop offset=".614" stop-color="#7f7f7f"/><stop offset=".621" stop-color="#7c7c7c"/><stop offset=".647" stop-color="#838383"/><stop offset=".759" stop-color="#989898"/><stop offset=".874" stop-color="#9d9d9d"/><stop offset=".909" stop-color="#7c7c7c"/><stop offset=".936" stop-color="#3d3d3d"/><stop offset=".947" stop-color="#151515"/><stop offset=".952" stop-color="#121212"/><stop offset=".958" stop-color="#1d1d1d"/><stop offset=".967" stop-color="#323232"/><stop offset=".973" stop-color="#474747"/><stop offset=".998" stop-color="#7d7d7d"/><stop offset=".999" stop-color="#7f7f7f"/></linearGradient><linearGradient id="g267" gradientUnits="userSpaceOnUse" x1="765" x2="1378"><stop offset=".001" stop-color="#000000"/><stop offset=".092" stop-color="#020202"/><stop offset=".228" stop-color="#232323"/><stop offset=".314" stop-color="#474747"/><stop offset=".360" stop-color="#6a6a6a"/><stop offset=".383" stop-color="#7f7f7f"/><stop offset=".627" stop-color="#808080"/><stop offset=".761" stop-color="#989898"/><stop offset=".875" stop-color="#9d9d9d"/><stop offset=".911" stop-color="#7d7d7d"/><stop offset=".939" stop-color="#393939"/><stop offset=".947" stop-color="#1e1e1e"/><stop offset=".957" stop-color="#202020"/><stop offset=".968" stop-color="#3c3c3c"/><stop offset=".994" stop-color="#7a7a7a"/><stop offset=".999" stop-color="#808080"/></linearGradient><linearGradient id="g268" gradientUnits="userSpaceOnUse" x1="765" x2="1378"><stop offset=".001" stop-color="#000000"/><stop offset=".097" stop-color="#020202"/><stop offset=".231" stop-color="#222222"/><stop offset=".317" stop-color="#464646"/><stop offset=".361" stop-color="#696969"/><stop offset=".384" stop-color="#7f7f7f"/><stop offset=".614" stop-color="#7f7f7f"/><stop offset=".720" stop-color="#929292"/><stop offset=".825" stop-color="#9c9c9c"/><stop offset=".877" stop-color="#9d9d9d"/><stop offset=".913" stop-color="#7d7d7d"/><stop offset=".940" stop-color="#3a3a3a"/><stop offset=".945" stop-color="#2a2a2a"/><stop offset=".955" stop-color="#2a2a2a"/><stop offset=".962" stop-color="#303030"/><stop offset=".993" stop-color="#7a7a7a"/><stop offset=".999" stop-color="#808080"/></linearGradient><linearGradient id="g269" gradientUnits="userSpaceOnUse" x1="765" x2="1378"><stop offset=".001" stop-color="#000000"/><stop offset=".104" stop-color="#020202"/><stop offset=".236" stop-color="#222222"/><stop offset=".321" stop-color="#464646"/><stop offset=".363" stop-color="#686868"/><stop offset=".386" stop-color="#7f7f7f"/><stop offset=".603" stop-color="#7e7e7e"/><stop offset=".662" stop-color="#868686"/><stop offset=".766" stop-color="#989898"/><stop offset=".878" stop-color="#9d9d9d"/><stop offset=".914" stop-color="#7d7d7d"/><stop offset=".942" stop-color="#3b3b3b"/><stop offset=".945" stop-color="#333333"/><stop offset=".963" stop-color="#393939"/><stop offset=".993" stop-color="#7d7d7d"/><stop offset=".999" stop-color="#808080"/></linearGradient><linearGradient id="g270" gradientUnits="userSpaceOnUse" x1="765" x2="1378"><stop offset=".001" stop-color="#000000"/><stop offset=".112" stop-color="#020202"/><stop offset=".242" stop-color="#222222"/><stop offset=".325" stop-color="#454545"/><stop offset=".368" stop-color="#696969"/><stop offset=".389" stop-color="#7f7f7f"/><stop offset=".583" stop-color="#7d7d7d"/><stop offset=".652" stop-color="#848484"/><stop offset=".766" stop-color="#989898"/><stop offset=".880" stop-color="#9d9d9d"/><stop offset=".916" stop-color="#7e7e7e"/><stop offset=".944" stop-color="#3f3f3f"/><stop offset=".965" stop-color="#414141"/><stop offset=".991" stop-color="#7e7e7e"/><stop offset=".999" stop-color="#818181"/></linearGradient><linearGradient id="g271" gradientUnits="userSpaceOnUse" x1="765" x2="1378"><stop offset=".001" stop-color="#000000"/><stop offset=".122" stop-color="#020202"/><stop offset=".249" stop-color="#212121"/><stop offset=".330" stop-color="#444444"/><stop offset=".371" stop-color="#686868"/><stop offset=".391" stop-color="#7f7f7f"/><stop offset=".591" stop-color="#7d7d7d"/><stop offset=".655" stop-color="#858585"/><stop offset=".768" stop-color="#989898"/><stop offset=".882" stop-color="#9d9d9d"/><stop offset=".919" stop-color="#7d7d7d"/><stop offset=".945" stop-color="#424242"/><stop offset=".960" stop-color="#404040"/><stop offset=".965" stop-color="#444444"/><stop offset=".988" stop-color="#7c7c7c"/><stop offset=".998" stop-color="#818181"/><stop offset=".999" stop-color="#818181"/></linearGradient><linearGradient id="g272" gradientUnits="userSpaceOnUse" x1="765" x2="1378"><stop offset=".001" stop-color="#000000"/><stop offset=".131" stop-color="#020202"/><stop offset=".257" stop-color="#222222"/><stop offset=".337" stop-color="#444444"/><stop offset=".371" stop-color="#646464"/><stop offset=".394" stop-color="#7f7f7f"/><stop offset=".586" stop-color="#7d7d7d"/><stop offset=".655" stop-color="#858585"/><stop offset=".771" stop-color="#989898"/><stop offset=".885" stop-color="#9d9d9d"/><stop offset=".921" stop-color="#7e7e7e"/><stop offset=".949" stop-color="#424242"/><stop offset=".962" stop-color="#414141"/><stop offset=".986" stop-color="#7d7d7d"/><stop offset=".999" stop-color="#828282"/></linearGradient><linearGradient id="g273" gradientUnits="userSpaceOnUse" x1="765" x2="1378"><stop offset=".001" stop-color="#000000"/><stop offset=".141" stop-color="#020202"/><stop offset=".267" stop-color="#232323"/><stop offset=".343" stop-color="#444444"/><stop offset=".369" stop-color="#5e5e5e"/><stop offset=".397" stop-color="#7f7f7f"/><stop offset=".582" stop-color="#7c7c7c"/><stop offset=".653" stop-color="#858585"/><stop offset=".774" stop-color="#989898"/><stop offset=".887" stop-color="#9d9d9d"/><stop offset=".924" stop-color="#7d7d7d"/><stop offset=".952" stop-color="#414141"/><stop offset=".960" stop-color="#424242"/><stop offset=".985" stop-color="#7e7e7e"/><stop offset=".999" stop-color="#828282"/></linearGradient><linearGradient id="g274" gradientUnits="userSpaceOnUse" x1="765" x2="1378"><stop offset=".001" stop-color="#000000"/><stop offset=".151" stop-color="#020202"/><stop offset=".275" stop-color="#232323"/><stop offset=".350" stop-color="#444444"/><stop offset=".400" stop-color="#7f7f7f"/><stop offset=".578" stop-color="#7c7c7c"/><stop offset=".653" stop-color="#858585"/><stop offset=".779" stop-color="#989898"/><stop offset=".888" stop-color="#9d9d9d"/><stop offset=".926" stop-color="#7f7f7f"/><stop offset=".955" stop-color="#414141"/><stop offset=".958" stop-color="#424242"/><stop offset=".981" stop-color="#7d7d7d"/><stop offset=".999" stop-color="#828282"/></linearGradient><linearGradient id="g275" gradientUnits="userSpaceOnUse" x1="765" x2="1378"><stop offset=".001" stop-color="#000000"/><stop offset=".159" stop-color="#020202"/><stop offset=".281" stop-color="#232323"/><stop offset=".353" stop-color="#434343"/><stop offset=".402" stop-color="#7f7f7f"/><stop offset=".578" stop-color="#7c7c7c"/><stop offset=".653" stop-color="#858585"/><stop offset=".782" stop-color="#989898"/><stop offset=".892" stop-color="#9c9c9c"/><stop offset=".929" stop-color="#7d7d7d"/><stop offset=".955" stop-color="#464646"/><stop offset=".958" stop-color="#474747"/><stop offset=".973" stop-color="#6f6f6f"/><stop offset=".980" stop-color="#7e7e7e"/><stop offset=".999" stop-color="#838383"/></linearGradient><linearGradient id="g276" gradientUnits="userSpaceOnUse" x1="765" x2="1378"><stop offset=".001" stop-color="#000000"/><stop offset=".166" stop-color="#020202"/><stop offset=".286" stop-color="#232323"/><stop offset=".355" stop-color="#424242"/><stop offset=".405" stop-color="#7f7f7f"/><stop offset=".573" stop-color="#7c7c7c"/><stop offset=".652" stop-color="#848484"/><stop offset=".784" stop-color="#989898"/><stop offset=".892" stop-color="#9d9d9d"/><stop offset=".927" stop-color="#818181"/><stop offset=".937" stop-color="#6f6f6f"/><stop offset=".954" stop-color="#4f4f4f"/><stop offset=".958" stop-color="#4f4f4f"/><stop offset=".976" stop-color="#7d7d7d"/><stop offset=".999" stop-color="#838383"/></linearGradient><linearGradient id="g277" gradientUnits="userSpaceOnUse" x1="765" x2="1378"><stop offset=".001" stop-color="#000000"/><stop offset=".172" stop-color="#020202"/><stop offset=".291" stop-color="#232323"/><stop offset=".356" stop-color="#414141"/><stop offset=".407" stop-color="#7f7f7f"/><stop offset=".572" stop-color="#7b7b7b"/><stop offset=".652" stop-color="#848484"/><stop offset=".785" stop-color="#989898"/><stop offset=".893" stop-color="#9c9c9c"/><stop offset=".921" stop-color="#888888"/><stop offset=".932" stop-color="#7d7d7d"/><stop offset=".949" stop-color="#5c5c5c"/><stop offset=".958" stop-color="#585858"/><stop offset=".973" stop-color="#7c7c7c"/><stop offset=".988" stop-color="#818181"/><stop offset=".999" stop-color="#838383"/></linearGradient><linearGradient id="g278" gradientUnits="userSpaceOnUse" x1="765" x2="1378"><stop offset=".001" stop-color="#000000"/><stop offset=".179" stop-color="#020202"/><stop offset=".298" stop-color="#232323"/><stop offset=".358" stop-color="#414141"/><stop offset=".409" stop-color="#7f7f7f"/><stop offset=".572" stop-color="#7b7b7b"/><stop offset=".653" stop-color="#848484"/><stop offset=".789" stop-color="#989898"/><stop offset=".895" stop-color="#9c9c9c"/><stop offset=".919" stop-color="#8b8b8b"/><stop offset=".934" stop-color="#7e7e7e"/><stop offset=".945" stop-color="#686868"/><stop offset=".958" stop-color="#616161"/><stop offset=".971" stop-color="#7f7f7f"/><stop offset=".999" stop-color="#838383"/></linearGradient><linearGradient id="g279" gradientUnits="userSpaceOnUse" x1="765" x2="1378"><stop offset=".001" stop-color="#000000"/><stop offset=".185" stop-color="#020202"/><stop offset=".303" stop-color="#232323"/><stop offset=".361" stop-color="#424242"/><stop offset=".410" stop-color="#7f7f7f"/><stop offset=".570" stop-color="#7b7b7b"/><stop offset=".653" stop-color="#848484"/><stop offset=".790" stop-color="#989898"/><stop offset=".895" stop-color="#9c9c9c"/><stop offset=".908" stop-color="#959595"/><stop offset=".936" stop-color="#7e7e7e"/><stop offset=".944" stop-color="#727272"/><stop offset=".958" stop-color="#6b6b6b"/><stop offset=".968" stop-color="#7f7f7f"/><stop offset=".999" stop-color="#848484"/></linearGradient><linearGradient id="g280" gradientUnits="userSpaceOnUse" x1="765" x2="1378"><stop offset=".001" stop-color="#000000"/><stop offset=".192" stop-color="#020202"/><stop offset=".306" stop-color="#232323"/><stop offset=".363" stop-color="#414141"/><stop offset=".412" stop-color="#7f7f7f"/><stop offset=".569" stop-color="#7b7b7b"/><stop offset=".653" stop-color="#848484"/><stop offset=".792" stop-color="#989898"/><stop offset=".895" stop-color="#9c9c9c"/><stop offset=".906" stop-color="#989898"/><stop offset=".944" stop-color="#7b7b7b"/><stop offset=".960" stop-color="#767676"/><stop offset=".967" stop-color="#808080"/><stop offset=".999" stop-color="#848484"/></linearGradient><linearGradient id="g281" gradientUnits="userSpaceOnUse" x1="765" x2="1378"><stop offset=".001" stop-color="#000000"/><stop offset=".203" stop-color="#020202"/><stop offset=".306" stop-color="#202020"/><stop offset=".366" stop-color="#414141"/><stop offset=".405" stop-color="#757575"/><stop offset=".414" stop-color="#7f7f7f"/><stop offset=".569" stop-color="#7b7b7b"/><stop offset=".653" stop-color="#848484"/><stop offset=".795" stop-color="#989898"/><stop offset=".895" stop-color="#9c9c9c"/><stop offset=".909" stop-color="#989898"/><stop offset=".942" stop-color="#808080"/><stop offset=".986" stop-color="#828282"/><stop offset=".999" stop-color="#848484"/></linearGradient><linearGradient id="g282" gradientUnits="userSpaceOnUse" x1="765" x2="1378"><stop offset=".001" stop-color="#000000"/><stop offset=".219" stop-color="#020202"/><stop offset=".308" stop-color="#1d1d1d"/><stop offset=".371" stop-color="#404040"/><stop offset=".407" stop-color="#727272"/><stop offset=".417" stop-color="#7f7f7f"/><stop offset=".565" stop-color="#7b7b7b"/><stop offset=".657" stop-color="#858585"/><stop offset=".799" stop-color="#989898"/><stop offset=".893" stop-color="#9c9c9c"/><stop offset=".913" stop-color="#989898"/><stop offset=".947" stop-color="#808080"/><stop offset=".999" stop-color="#858585"/></linearGradient><linearGradient id="g283" gradientUnits="userSpaceOnUse" x1="765" x2="1378"><stop offset=".001" stop-color="#000000"/><stop offset=".236" stop-color="#020202"/><stop offset=".308" stop-color="#181818"/><stop offset=".376" stop-color="#3f3f3f"/><stop offset=".407" stop-color="#6d6d6d"/><stop offset=".418" stop-color="#7f7f7f"/><stop offset=".565" stop-color="#7b7b7b"/><stop offset=".665" stop-color="#868686"/><stop offset=".800" stop-color="#989898"/><stop offset=".892" stop-color="#9b9b9b"/><stop offset=".916" stop-color="#999999"/><stop offset=".949" stop-color="#818181"/><stop offset=".999" stop-color="#868686"/></linearGradient><linearGradient id="g284" gradientUnits="userSpaceOnUse" x1="765" x2="1378"><stop offset=".001" stop-color="#000000"/><stop offset=".250" stop-color="#020202"/><stop offset=".312" stop-color="#171717"/><stop offset=".381" stop-color="#3f3f3f"/><stop offset=".409" stop-color="#6a6a6a"/><stop offset=".422" stop-color="#7f7f7f"/><stop offset=".564" stop-color="#7a7a7a"/><stop offset=".666" stop-color="#868686"/><stop offset=".805" stop-color="#989898"/><stop offset=".898" stop-color="#9b9b9b"/><stop offset=".921" stop-color="#989898"/><stop offset=".950" stop-color="#838383"/><stop offset=".999" stop-color="#868686"/></linearGradient><linearGradient id="g285" gradientUnits="userSpaceOnUse" x1="765" x2="1378"><stop offset=".001" stop-color="#000000"/><stop offset=".263" stop-color="#020202"/><stop offset=".322" stop-color="#181818"/><stop offset=".386" stop-color="#3f3f3f"/><stop offset=".414" stop-color="#6e6e6e"/><stop offset=".423" stop-color="#7f7f7f"/><stop offset=".559" stop-color="#7a7a7a"/><stop offset=".666" stop-color="#868686"/><stop offset=".808" stop-color="#989898"/><stop offset=".916" stop-color="#9a9a9a"/><stop offset=".929" stop-color="#949494"/><stop offset=".950" stop-color="#868686"/><stop offset=".970" stop-color="#848484"/><stop offset=".999" stop-color="#878787"/></linearGradient><linearGradient id="g286" gradientUnits="userSpaceOnUse" x1="765" x2="1378"><stop offset=".001" stop-color="#000000"/><stop offset=".277" stop-color="#020202"/><stop offset=".332" stop-color="#191919"/><stop offset=".391" stop-color="#404040"/><stop offset=".417" stop-color="#6e6e6e"/><stop offset=".425" stop-color="#7e7e7e"/><stop offset=".547" stop-color="#797979"/><stop offset=".665" stop-color="#858585"/><stop offset=".810" stop-color="#989898"/><stop offset=".924" stop-color="#9a9a9a"/><stop offset=".950" stop-color="#898989"/><stop offset=".971" stop-color="#848484"/><stop offset=".999" stop-color="#878787"/></linearGradient><linearGradient id="g287" gradientUnits="userSpaceOnUse" x1="765" x2="1378"><stop offset=".001" stop-color="#000000"/><stop offset=".288" stop-color="#020202"/><stop offset=".338" stop-color="#181818"/><stop offset=".396" stop-color="#404040"/><stop offset=".420" stop-color="#6f6f6f"/><stop offset=".428" stop-color="#7f7f7f"/><stop offset=".536" stop-color="#787878"/><stop offset=".681" stop-color="#878787"/><stop offset=".812" stop-color="#989898"/><stop offset=".929" stop-color="#999999"/><stop offset=".950" stop-color="#8c8c8c"/><stop offset=".976" stop-color="#858585"/><stop offset=".999" stop-color="#888888"/></linearGradient><linearGradient id="g288" gradientUnits="userSpaceOnUse" x1="765" x2="1378"><stop offset=".001" stop-color="#000000"/><stop offset=".299" stop-color="#020202"/><stop offset=".345" stop-color="#181818"/><stop offset=".399" stop-color="#3f3f3f"/><stop offset=".420" stop-color="#6a6a6a"/><stop offset=".430" stop-color="#7e7e7e"/><stop offset=".528" stop-color="#777777"/><stop offset=".699" stop-color="#898989"/><stop offset=".812" stop-color="#989898"/><stop offset=".932" stop-color="#999999"/><stop offset=".958" stop-color="#8c8c8c"/><stop offset=".981" stop-color="#878787"/><stop offset=".999" stop-color="#888888"/></linearGradient><linearGradient id="g289" gradientUnits="userSpaceOnUse" x1="765" x2="1378"><stop offset=".001" stop-color="#000000"/><stop offset=".309" stop-color="#020202"/><stop offset=".352" stop-color="#181818"/><stop offset=".404" stop-color="#424242"/><stop offset=".427" stop-color="#757575"/><stop offset=".431" stop-color="#7e7e7e"/><stop offset=".521" stop-color="#767676"/><stop offset=".701" stop-color="#898989"/><stop offset=".812" stop-color="#989898"/><stop offset=".936" stop-color="#989898"/><stop offset=".983" stop-color="#878787"/><stop offset=".999" stop-color="#898989"/></linearGradient><linearGradient id="g290" gradientUnits="userSpaceOnUse" x1="765" x2="1378"><stop offset=".001" stop-color="#000000"/><stop offset=".319" stop-color="#020202"/><stop offset=".356" stop-color="#181818"/><stop offset=".407" stop-color="#424242"/><stop offset=".428" stop-color="#747474"/><stop offset=".433" stop-color="#7e7e7e"/><stop offset=".472" stop-color="#777777"/><stop offset=".520" stop-color="#767676"/><stop offset=".701" stop-color="#888888"/><stop offset=".812" stop-color="#989898"/><stop offset=".940" stop-color="#979797"/><stop offset=".986" stop-color="#888888"/><stop offset=".999" stop-color="#898989"/></linearGradient><linearGradient id="g291" gradientUnits="userSpaceOnUse" x1="765" x2="1378"><stop offset=".001" stop-color="#000000"/><stop offset=".327" stop-color="#020202"/><stop offset=".361" stop-color="#171717"/><stop offset=".410" stop-color="#414141"/><stop offset=".430" stop-color="#737373"/><stop offset=".435" stop-color="#7e7e7e"/><stop offset=".462" stop-color="#777777"/><stop offset=".513" stop-color="#757575"/><stop offset=".704" stop-color="#888888"/><stop offset=".812" stop-color="#989898"/><stop offset=".947" stop-color="#979797"/><stop offset=".991" stop-color="#898989"/><stop offset=".999" stop-color="#8a8a8a"/></linearGradient><linearGradient id="g292" gradientUnits="userSpaceOnUse" x1="765" x2="1378"><stop offset=".001" stop-color="#000000"/><stop offset=".337" stop-color="#020202"/><stop offset=".368" stop-color="#171717"/><stop offset=".414" stop-color="#424242"/><stop offset=".427" stop-color="#646464"/><stop offset=".435" stop-color="#7c7c7c"/><stop offset=".440" stop-color="#7e7e7e"/><stop offset=".462" stop-color="#757575"/><stop offset=".508" stop-color="#747474"/><stop offset=".709" stop-color="#888888"/><stop offset=".810" stop-color="#979797"/><stop offset=".952" stop-color="#969696"/><stop offset=".996" stop-color="#8a8a8a"/><stop offset=".999" stop-color="#8a8a8a"/></linearGradient><linearGradient id="g293" gradientUnits="userSpaceOnUse" x1="765" x2="1378"><stop offset=".001" stop-color="#000000"/><stop offset=".347" stop-color="#020202"/><stop offset=".369" stop-color="#141414"/><stop offset=".415" stop-color="#404040"/><stop offset=".430" stop-color="#6a6a6a"/><stop offset=".438" stop-color="#7e7e7e"/><stop offset=".467" stop-color="#747474"/><stop offset=".507" stop-color="#747474"/><stop offset=".710" stop-color="#888888"/><stop offset=".807" stop-color="#979797"/><stop offset=".952" stop-color="#969696"/><stop offset=".999" stop-color="#8b8b8b"/></linearGradient><linearGradient id="g294" gradientUnits="userSpaceOnUse" x1="765" x2="1378"><stop offset=".001" stop-color="#000000"/><stop offset=".358" stop-color="#020202"/><stop offset=".415" stop-color="#3f3f3f"/><stop offset=".438" stop-color="#7c7c7c"/><stop offset=".445" stop-color="#7d7d7d"/><stop offset=".476" stop-color="#717171"/><stop offset=".650" stop-color="#808080"/><stop offset=".763" stop-color="#909090"/><stop offset=".808" stop-color="#969696"/><stop offset=".952" stop-color="#959595"/><stop offset=".999" stop-color="#8c8c8c"/></linearGradient><linearGradient id="g295" gradientUnits="userSpaceOnUse" x1="765" x2="1378"><stop offset=".001" stop-color="#000000"/><stop offset=".360" stop-color="#010101"/><stop offset=".417" stop-color="#424242"/><stop offset=".440" stop-color="#7e7e7e"/><stop offset=".477" stop-color="#707070"/><stop offset=".631" stop-color="#808080"/><stop offset=".719" stop-color="#878787"/><stop offset=".803" stop-color="#959595"/><stop offset=".952" stop-color="#949494"/><stop offset=".999" stop-color="#8d8d8d"/></linearGradient><linearGradient id="g296" gradientUnits="userSpaceOnUse" x1="765" x2="1378"><stop offset=".001" stop-color="#000000"/><stop offset=".360" stop-color="#010101"/><stop offset=".417" stop-color="#424242"/><stop offset=".440" stop-color="#7e7e7e"/><stop offset=".477" stop-color="#707070"/><stop offset=".631" stop-color="#808080"/><stop offset=".722" stop-color="#868686"/><stop offset=".802" stop-color="#949494"/><stop offset=".952" stop-color="#939393"/><stop offset=".999" stop-color="#8d8d8d"/></linearGradient><linearGradient id="g297" gradientUnits="userSpaceOnUse" x1="765" x2="1378"><stop offset=".001" stop-color="#000000"/><stop offset=".360" stop-color="#010101"/><stop offset=".417" stop-color="#424242"/><stop offset=".440" stop-color="#7d7d7d"/><stop offset=".459" stop-color="#767676"/><stop offset=".477" stop-color="#707070"/><stop offset=".631" stop-color="#808080"/><stop offset=".722" stop-color="#868686"/><stop offset=".800" stop-color="#939393"/><stop offset=".952" stop-color="#929292"/><stop offset=".999" stop-color="#8d8d8d"/></linearGradient><linearGradient id="g298" gradientUnits="userSpaceOnUse" x1="765" x2="1378"><stop offset=".001" stop-color="#000000"/><stop offset=".360" stop-color="#010101"/><stop offset=".417" stop-color="#414141"/><stop offset=".440" stop-color="#7d7d7d"/><stop offset=".448" stop-color="#7c7c7c"/><stop offset=".477" stop-color="#707070"/><stop offset=".631" stop-color="#808080"/><stop offset=".722" stop-color="#868686"/><stop offset=".812" stop-color="#929292"/><stop offset=".952" stop-color="#919191"/><stop offset=".999" stop-color="#8d8d8d"/></linearGradient><linearGradient id="g299" gradientUnits="userSpaceOnUse" x1="765" x2="1378"><stop offset=".001" stop-color="#000000"/><stop offset=".360" stop-color="#010101"/><stop offset=".417" stop-color="#414141"/><stop offset=".440" stop-color="#7c7c7c"/><stop offset=".445" stop-color="#7e7e7e"/><stop offset=".476" stop-color="#707070"/><stop offset=".629" stop-color="#808080"/><stop offset=".720" stop-color="#858585"/><stop offset=".828" stop-color="#919191"/><stop offset=".968" stop-color="#919191"/><stop offset=".999" stop-color="#8d8d8d"/></linearGradient><linearGradient id="g300" gradientUnits="userSpaceOnUse" x1="765" x2="1378"><stop offset=".001" stop-color="#000000"/><stop offset=".360" stop-color="#010101"/><stop offset=".417" stop-color="#414141"/><stop offset=".441" stop-color="#7e7e7e"/><stop offset=".477" stop-color="#707070"/><stop offset=".631" stop-color="#808080"/><stop offset=".733" stop-color="#868686"/><stop offset=".836" stop-color="#909090"/><stop offset=".976" stop-color="#919191"/><stop offset=".999" stop-color="#8d8d8d"/></linearGradient><linearGradient id="g301" gradientUnits="userSpaceOnUse" x1="765" x2="1378"><stop offset=".001" stop-color="#000000"/><stop offset=".360" stop-color="#010101"/><stop offset=".417" stop-color="#414141"/><stop offset=".441" stop-color="#7e7e7e"/><stop offset=".477" stop-color="#707070"/><stop offset=".631" stop-color="#808080"/><stop offset=".764" stop-color="#888888"/><stop offset=".844" stop-color="#8f8f8f"/><stop offset=".981" stop-color="#919191"/><stop offset=".999" stop-color="#8d8d8d"/></linearGradient><linearGradient id="g302" gradientUnits="userSpaceOnUse" x1="765" x2="1378"><stop offset=".001" stop-color="#000000"/><stop offset=".360" stop-color="#010101"/><stop offset=".417" stop-color="#404040"/><stop offset=".441" stop-color="#7d7d7d"/><stop offset=".451" stop-color="#7b7b7b"/><stop offset=".477" stop-color="#707070"/><stop offset=".631" stop-color="#808080"/><stop offset=".794" stop-color="#8a8a8a"/><stop offset=".909" stop-color="#8e8e8e"/><stop offset=".986" stop-color="#909090"/><stop offset=".999" stop-color="#8d8d8d"/></linearGradient><linearGradient id="g303" gradientUnits="userSpaceOnUse" x1="765" x2="1378"><stop offset=".001" stop-color="#000000"/><stop offset=".360" stop-color="#010101"/><stop offset=".417" stop-color="#404040"/><stop offset=".441" stop-color="#7c7c7c"/><stop offset=".448" stop-color="#7d7d7d"/><stop offset=".476" stop-color="#707070"/><stop offset=".629" stop-color="#808080"/><stop offset=".812" stop-color="#8b8b8b"/><stop offset=".991" stop-color="#8f8f8f"/><stop offset=".999" stop-color="#8d8d8d"/></linearGradient><linearGradient id="g304" gradientUnits="userSpaceOnUse" x1="765" x2="1378"><stop offset=".001" stop-color="#000000"/><stop offset=".360" stop-color="#010101"/><stop offset=".417" stop-color="#404040"/><stop offset=".443" stop-color="#7e7e7e"/><stop offset=".477" stop-color="#707070"/><stop offset=".631" stop-color="#808080"/><stop offset=".815" stop-color="#8b8b8b"/><stop offset=".999" stop-color="#8d8d8d"/></linearGradient><linearGradient id="g305" gradientUnits="userSpaceOnUse" x1="765" x2="1378"><stop offset=".001" stop-color="#000000"/><stop offset=".360" stop-color="#010101"/><stop offset=".418" stop-color="#434343"/><stop offset=".443" stop-color="#7e7e7e"/><stop offset=".477" stop-color="#707070"/><stop offset=".631" stop-color="#808080"/><stop offset=".815" stop-color="#8b8b8b"/><stop offset=".999" stop-color="#8d8d8d"/></linearGradient><linearGradient id="g306" gradientUnits="userSpaceOnUse" x1="765" x2="1378"><stop offset=".001" stop-color="#000000"/><stop offset=".360" stop-color="#010101"/><stop offset=".418" stop-color="#434343"/><stop offset=".443" stop-color="#7d7d7d"/><stop offset=".461" stop-color="#767676"/><stop offset=".477" stop-color="#707070"/><stop offset=".631" stop-color="#808080"/><stop offset=".815" stop-color="#8b8b8b"/><stop offset=".999" stop-color="#8c8c8c"/></linearGradient><linearGradient id="g307" gradientUnits="userSpaceOnUse" x1="765" x2="1378"><stop offset=".001" stop-color="#000000"/><stop offset=".360" stop-color="#010101"/><stop offset=".418" stop-color="#434343"/><stop offset=".443" stop-color="#7d7d7d"/><stop offset=".451" stop-color="#7c7c7c"/><stop offset=".476" stop-color="#707070"/><stop offset=".629" stop-color="#808080"/><stop offset=".813" stop-color="#8b8b8b"/><stop offset=".999" stop-color="#8c8c8c"/></linearGradient><linearGradient id="g308" gradientUnits="userSpaceOnUse" x1="765" x2="1378"><stop offset=".001" stop-color="#000000"/><stop offset=".360" stop-color="#010101"/><stop offset=".418" stop-color="#434343"/><stop offset=".445" stop-color="#7e7e7e"/><stop offset=".476" stop-color="#707070"/><stop offset=".629" stop-color="#808080"/><stop offset=".813" stop-color="#8b8b8b"/><stop offset=".999" stop-color="#8c8c8c"/></linearGradient><linearGradient id="g309" gradientUnits="userSpaceOnUse" x1="765" x2="1378"><stop offset=".001" stop-color="#000000"/><stop offset=".360" stop-color="#010101"/><stop offset=".418" stop-color="#424242"/><stop offset=".445" stop-color="#7e7e7e"/><stop offset=".476" stop-color="#707070"/><stop offset=".629" stop-color="#808080"/><stop offset=".813" stop-color="#8b8b8b"/><stop offset=".999" stop-color="#8c8c8c"/></linearGradient><linearGradient id="g310" gradientUnits="userSpaceOnUse" x1="765" x2="1378"><stop offset=".001" stop-color="#000000"/><stop offset=".360" stop-color="#010101"/><stop offset=".418" stop-color="#424242"/><stop offset=".445" stop-color="#7e7e7e"/><stop offset=".477" stop-color="#707070"/><stop offset=".631" stop-color="#808080"/><stop offset=".815" stop-color="#8b8b8b"/><stop offset=".999" stop-color="#8c8c8c"/></linearGradient><linearGradient id="g311" gradientUnits="userSpaceOnUse" x1="765" x2="1378"><stop offset=".001" stop-color="#000000"/><stop offset=".360" stop-color="#010101"/><stop offset=".418" stop-color="#424242"/><stop offset=".445" stop-color="#7d7d7d"/><stop offset=".464" stop-color="#757575"/><stop offset=".477" stop-color="#707070"/><stop offset=".631" stop-color="#808080"/><stop offset=".815" stop-color="#8b8b8b"/><stop offset=".999" stop-color="#8c8c8c"/></linearGradient></defs><g filter="url(#cm)"><rect x="765" y="96" width="613" height="6" fill="url(#g0)"/><rect x="765" y="102" width="613" height="6" fill="url(#g1)"/><rect x="765" y="108" width="613" height="5" fill="url(#g2)"/><rect x="765" y="113" width="613" height="5" fill="url(#g3)"/><rect x="765" y="118" width="613" height="5" fill="url(#g4)"/><rect x="765" y="123" width="613" height="5" fill="url(#g5)"/><rect x="765" y="128" width="613" height="5" fill="url(#g6)"/><rect x="765" y="133" width="613" height="5" fill="url(#g7)"/><rect x="765" y="138" width="613" height="5" fill="url(#g8)"/><rect x="765" y="143" width="613" height="5" fill="url(#g9)"/><rect x="765" y="148" width="613" height="5" fill="url(#g10)"/><rect x="765" y="153" width="613" height="5" fill="url(#g11)"/><rect x="765" y="158" width="613" height="5" fill="url(#g12)"/><rect x="765" y="163" width="613" height="4" fill="url(#g13)"/><rect x="765" y="167" width="613" height="4" fill="url(#g14)"/><rect x="765" y="171" width="613" height="4" fill="url(#g15)"/><rect x="765" y="175" width="613" height="4" fill="url(#g16)"/><rect x="765" y="179" width="613" height="4" fill="url(#g17)"/><rect x="765" y="183" width="613" height="3" fill="url(#g18)"/><rect x="765" y="186" width="613" height="3" fill="url(#g19)"/><rect x="765" y="189" width="613" height="6" fill="url(#g20)"/><rect x="765" y="195" width="613" height="6" fill="url(#g21)"/><rect x="765" y="201" width="613" height="2" fill="url(#g22)"/><rect x="765" y="203" width="613" height="1" fill="url(#g23)"/><rect x="765" y="204" width="613" height="1" fill="url(#g24)"/><rect x="765" y="205" width="613" height="1" fill="url(#g25)"/><rect x="765" y="206" width="613" height="1" fill="url(#g26)"/><rect x="765" y="207" width="613" height="1" fill="url(#g27)"/><rect x="765" y="208" width="613" height="1" fill="url(#g28)"/><rect x="765" y="209" width="613" height="1" fill="url(#g29)"/><rect x="765" y="210" width="613" height="1" fill="url(#g30)"/><rect x="765" y="211" width="613" height="1" fill="url(#g31)"/><rect x="765" y="212" width="613" height="1" fill="url(#g32)"/><rect x="765" y="213" width="613" height="1" fill="url(#g33)"/><rect x="765" y="214" width="613" height="1" fill="url(#g34)"/><rect x="765" y="215" width="613" height="1" fill="url(#g35)"/><rect x="765" y="216" width="613" height="1" fill="url(#g36)"/><rect x="765" y="217" width="613" height="1" fill="url(#g37)"/><rect x="765" y="218" width="613" height="1" fill="url(#g38)"/><rect x="765" y="219" width="613" height="1" fill="url(#g39)"/><rect x="765" y="220" width="613" height="1" fill="url(#g40)"/><rect x="765" y="221" width="613" height="1" fill="url(#g41)"/><rect x="765" y="222" width="613" height="1" fill="url(#g42)"/><rect x="765" y="223" width="613" height="1" fill="url(#g43)"/><rect x="765" y="224" width="613" height="1" fill="url(#g44)"/><rect x="765" y="225" width="613" height="1" fill="url(#g45)"/><rect x="765" y="226" width="613" height="1" fill="url(#g46)"/><rect x="765" y="227" width="613" height="1" fill="url(#g47)"/><rect x="765" y="228" width="613" height="1" fill="url(#g48)"/><rect x="765" y="229" width="613" height="1" fill="url(#g49)"/><rect x="765" y="230" width="613" height="1" fill="url(#g50)"/><rect x="765" y="231" width="613" height="1" fill="url(#g51)"/><rect x="765" y="232" width="613" height="1" fill="url(#g52)"/><rect x="765" y="233" width="613" height="1" fill="url(#g53)"/><rect x="765" y="234" width="613" height="1" fill="url(#g54)"/><rect x="765" y="235" width="613" height="1" fill="url(#g55)"/><rect x="765" y="236" width="613" height="1" fill="url(#g56)"/><rect x="765" y="237" width="613" height="1" fill="url(#g57)"/><rect x="765" y="238" width="613" height="1" fill="url(#g58)"/><rect x="765" y="239" width="613" height="1" fill="url(#g59)"/><rect x="765" y="240" width="613" height="1" fill="url(#g60)"/><rect x="765" y="241" width="613" height="1" fill="url(#g61)"/><rect x="765" y="242" width="613" height="1" fill="url(#g62)"/><rect x="765" y="243" width="613" height="1" fill="url(#g63)"/><rect x="765" y="244" width="613" height="1" fill="url(#g64)"/><rect x="765" y="245" width="613" height="1" fill="url(#g65)"/><rect x="765" y="246" width="613" height="1" fill="url(#g66)"/><rect x="765" y="247" width="613" height="1" fill="url(#g67)"/><rect x="765" y="248" width="613" height="1" fill="url(#g68)"/><rect x="765" y="249" width="613" height="1" fill="url(#g69)"/><rect x="765" y="250" width="613" height="1" fill="url(#g70)"/><rect x="765" y="251" width="613" height="1" fill="url(#g71)"/><rect x="765" y="252" width="613" height="1" fill="url(#g72)"/><rect x="765" y="253" width="613" height="1" fill="url(#g73)"/><rect x="765" y="254" width="613" height="1" fill="url(#g74)"/><rect x="765" y="255" width="613" height="1" fill="url(#g75)"/><rect x="765" y="256" width="613" height="1" fill="url(#g76)"/><rect x="765" y="257" width="613" height="1" fill="url(#g77)"/><rect x="765" y="258" width="613" height="1" fill="url(#g78)"/><rect x="765" y="259" width="613" height="1" fill="url(#g79)"/><rect x="765" y="260" width="613" height="1" fill="url(#g80)"/><rect x="765" y="261" width="613" height="1" fill="url(#g81)"/><rect x="765" y="262" width="613" height="1" fill="url(#g82)"/><rect x="765" y="263" width="613" height="1" fill="url(#g83)"/><rect x="765" y="264" width="613" height="1" fill="url(#g84)"/><rect x="765" y="265" width="613" height="1" fill="url(#g85)"/><rect x="765" y="266" width="613" height="1" fill="url(#g86)"/><rect x="765" y="267" width="613" height="1" fill="url(#g87)"/><rect x="765" y="268" width="613" height="1" fill="url(#g88)"/><rect x="765" y="269" width="613" height="1" fill="url(#g89)"/><rect x="765" y="270" width="613" height="1" fill="url(#g90)"/><rect x="765" y="271" width="613" height="1" fill="url(#g91)"/><rect x="765" y="272" width="613" height="1" fill="url(#g92)"/><rect x="765" y="273" width="613" height="1" fill="url(#g93)"/><rect x="765" y="274" width="613" height="1" fill="url(#g94)"/><rect x="765" y="275" width="613" height="1" fill="url(#g95)"/><rect x="765" y="276" width="613" height="1" fill="url(#g96)"/><rect x="765" y="277" width="613" height="1" fill="url(#g97)"/><rect x="765" y="278" width="613" height="1" fill="url(#g98)"/><rect x="765" y="279" width="613" height="1" fill="url(#g99)"/><rect x="765" y="280" width="613" height="1" fill="url(#g100)"/><rect x="765" y="281" width="613" height="1" fill="url(#g101)"/><rect x="765" y="282" width="613" height="1" fill="url(#g102)"/><rect x="765" y="283" width="613" height="1" fill="url(#g103)"/><rect x="765" y="284" width="613" height="1" fill="url(#g104)"/><rect x="765" y="285" width="613" height="1" fill="url(#g105)"/><rect x="765" y="286" width="613" height="1" fill="url(#g106)"/><rect x="765" y="287" width="613" height="1" fill="url(#g107)"/><rect x="765" y="288" width="613" height="1" fill="url(#g108)"/><rect x="765" y="289" width="613" height="1" fill="url(#g109)"/><rect x="765" y="290" width="613" height="1" fill="url(#g110)"/><rect x="765" y="291" width="613" height="1" fill="url(#g111)"/><rect x="765" y="292" width="613" height="1" fill="url(#g112)"/><rect x="765" y="293" width="613" height="1" fill="url(#g113)"/><rect x="765" y="294" width="613" height="1" fill="url(#g114)"/><rect x="765" y="295" width="613" height="1" fill="url(#g115)"/><rect x="765" y="296" width="613" height="1" fill="url(#g116)"/><rect x="765" y="297" width="613" height="1" fill="url(#g117)"/><rect x="765" y="298" width="613" height="1" fill="url(#g118)"/><rect x="765" y="299" width="613" height="1" fill="url(#g119)"/><rect x="765" y="300" width="613" height="1" fill="url(#g120)"/><rect x="765" y="301" width="613" height="1" fill="url(#g121)"/><rect x="765" y="302" width="613" height="1" fill="url(#g122)"/><rect x="765" y="303" width="613" height="1" fill="url(#g123)"/><rect x="765" y="304" width="613" height="1" fill="url(#g124)"/><rect x="765" y="305" width="613" height="1" fill="url(#g125)"/><rect x="765" y="306" width="613" height="1" fill="url(#g126)"/><rect x="765" y="307" width="613" height="1" fill="url(#g127)"/><rect x="765" y="308" width="613" height="1" fill="url(#g128)"/><rect x="765" y="309" width="613" height="1" fill="url(#g129)"/><rect x="765" y="310" width="613" height="1" fill="url(#g130)"/><rect x="765" y="311" width="613" height="1" fill="url(#g131)"/><rect x="765" y="312" width="613" height="1" fill="url(#g132)"/><rect x="765" y="313" width="613" height="1" fill="url(#g133)"/><rect x="765" y="314" width="613" height="1" fill="url(#g134)"/><rect x="765" y="315" width="613" height="1" fill="url(#g135)"/><rect x="765" y="316" width="613" height="1" fill="url(#g136)"/><rect x="765" y="317" width="613" height="1" fill="url(#g137)"/><rect x="765" y="318" width="613" height="1" fill="url(#g138)"/><rect x="765" y="319" width="613" height="2" fill="url(#g139)"/><rect x="765" y="321" width="613" height="2" fill="url(#g140)"/><rect x="765" y="323" width="613" height="2" fill="url(#g141)"/><rect x="765" y="325" width="613" height="2" fill="url(#g142)"/><rect x="765" y="327" width="613" height="2" fill="url(#g143)"/><rect x="765" y="329" width="613" height="2" fill="url(#g144)"/><rect x="765" y="331" width="613" height="2" fill="url(#g145)"/><rect x="765" y="333" width="613" height="2" fill="url(#g146)"/><rect x="765" y="335" width="613" height="2" fill="url(#g147)"/><rect x="765" y="337" width="613" height="2" fill="url(#g148)"/><rect x="765" y="339" width="613" height="2" fill="url(#g149)"/><rect x="765" y="341" width="613" height="2" fill="url(#g150)"/><rect x="765" y="343" width="613" height="2" fill="url(#g151)"/><rect x="765" y="345" width="613" height="2" fill="url(#g152)"/><rect x="765" y="347" width="613" height="2" fill="url(#g153)"/><rect x="765" y="349" width="613" height="2" fill="url(#g154)"/><rect x="765" y="351" width="613" height="2" fill="url(#g155)"/><rect x="765" y="353" width="613" height="2" fill="url(#g156)"/><rect x="765" y="355" width="613" height="2" fill="url(#g157)"/><rect x="765" y="357" width="613" height="2" fill="url(#g158)"/><rect x="765" y="359" width="613" height="2" fill="url(#g159)"/><rect x="765" y="361" width="613" height="1" fill="url(#g160)"/><rect x="765" y="362" width="613" height="1" fill="url(#g161)"/><rect x="765" y="363" width="613" height="1" fill="url(#g162)"/><rect x="765" y="364" width="613" height="1" fill="url(#g163)"/><rect x="765" y="365" width="613" height="1" fill="url(#g164)"/><rect x="765" y="366" width="613" height="1" fill="url(#g165)"/><rect x="765" y="367" width="613" height="1" fill="url(#g166)"/><rect x="765" y="368" width="613" height="2" fill="url(#g167)"/><rect x="765" y="370" width="613" height="2" fill="url(#g168)"/><rect x="765" y="372" width="613" height="1" fill="url(#g169)"/><rect x="765" y="373" width="613" height="1" fill="url(#g170)"/><rect x="765" y="374" width="613" height="1" fill="url(#g171)"/><rect x="765" y="375" width="613" height="1" fill="url(#g172)"/><rect x="765" y="376" width="613" height="1" fill="url(#g173)"/><rect x="765" y="377" width="613" height="1" fill="url(#g174)"/><rect x="765" y="378" width="613" height="1" fill="url(#g175)"/><rect x="765" y="379" width="613" height="1" fill="url(#g176)"/><rect x="765" y="380" width="613" height="1" fill="url(#g177)"/><rect x="765" y="381" width="613" height="1" fill="url(#g178)"/><rect x="765" y="382" width="613" height="1" fill="url(#g179)"/><rect x="765" y="383" width="613" height="1" fill="url(#g180)"/><rect x="765" y="384" width="613" height="1" fill="url(#g181)"/><rect x="765" y="385" width="613" height="1" fill="url(#g182)"/><rect x="765" y="386" width="613" height="1" fill="url(#g183)"/><rect x="765" y="387" width="613" height="1" fill="url(#g184)"/><rect x="765" y="388" width="613" height="1" fill="url(#g185)"/><rect x="765" y="389" width="613" height="1" fill="url(#g186)"/><rect x="765" y="390" width="613" height="1" fill="url(#g187)"/><rect x="765" y="391" width="613" height="1" fill="url(#g188)"/><rect x="765" y="392" width="613" height="1" fill="url(#g189)"/><rect x="765" y="393" width="613" height="1" fill="url(#g190)"/><rect x="765" y="394" width="613" height="1" fill="url(#g191)"/><rect x="765" y="395" width="613" height="1" fill="url(#g192)"/><rect x="765" y="396" width="613" height="1" fill="url(#g193)"/><rect x="765" y="397" width="613" height="1" fill="url(#g194)"/><rect x="765" y="398" width="613" height="1" fill="url(#g195)"/><rect x="765" y="399" width="613" height="1" fill="url(#g196)"/><rect x="765" y="400" width="613" height="1" fill="url(#g197)"/><rect x="765" y="401" width="613" height="1" fill="url(#g198)"/><rect x="765" y="402" width="613" height="1" fill="url(#g199)"/><rect x="765" y="403" width="613" height="1" fill="url(#g200)"/><rect x="765" y="404" width="613" height="1" fill="url(#g201)"/><rect x="765" y="405" width="613" height="1" fill="url(#g202)"/><rect x="765" y="406" width="613" height="1" fill="url(#g203)"/><rect x="765" y="407" width="613" height="1" fill="url(#g204)"/><rect x="765" y="408" width="613" height="1" fill="url(#g205)"/><rect x="765" y="409" width="613" height="1" fill="url(#g206)"/><rect x="765" y="410" width="613" height="1" fill="url(#g207)"/><rect x="765" y="411" width="613" height="1" fill="url(#g208)"/><rect x="765" y="412" width="613" height="1" fill="url(#g209)"/><rect x="765" y="413" width="613" height="1" fill="url(#g210)"/><rect x="765" y="414" width="613" height="1" fill="url(#g211)"/><rect x="765" y="415" width="613" height="1" fill="url(#g212)"/><rect x="765" y="416" width="613" height="1" fill="url(#g213)"/><rect x="765" y="417" width="613" height="1" fill="url(#g214)"/><rect x="765" y="418" width="613" height="1" fill="url(#g215)"/><rect x="765" y="419" width="613" height="1" fill="url(#g216)"/><rect x="765" y="420" width="613" height="1" fill="url(#g217)"/><rect x="765" y="421" width="613" height="1" fill="url(#g218)"/><rect x="765" y="422" width="613" height="1" fill="url(#g219)"/><rect x="765" y="423" width="613" height="1" fill="url(#g220)"/><rect x="765" y="424" width="613" height="1" fill="url(#g221)"/><rect x="765" y="425" width="613" height="1" fill="url(#g222)"/><rect x="765" y="426" width="613" height="1" fill="url(#g223)"/><rect x="765" y="427" width="613" height="1" fill="url(#g224)"/><rect x="765" y="428" width="613" height="1" fill="url(#g225)"/><rect x="765" y="429" width="613" height="1" fill="url(#g226)"/><rect x="765" y="430" width="613" height="1" fill="url(#g227)"/><rect x="765" y="431" width="613" height="2" fill="url(#g228)"/><rect x="765" y="433" width="613" height="2" fill="url(#g229)"/><rect x="765" y="435" width="613" height="2" fill="url(#g230)"/><rect x="765" y="437" width="613" height="2" fill="url(#g231)"/><rect x="765" y="439" width="613" height="2" fill="url(#g232)"/><rect x="765" y="441" width="613" height="2" fill="url(#g233)"/><rect x="765" y="443" width="613" height="2" fill="url(#g234)"/><rect x="765" y="445" width="613" height="2" fill="url(#g235)"/><rect x="765" y="447" width="613" height="2" fill="url(#g236)"/><rect x="765" y="449" width="613" height="2" fill="url(#g237)"/><rect x="765" y="451" width="613" height="2" fill="url(#g238)"/><rect x="765" y="453" width="613" height="2" fill="url(#g239)"/><rect x="765" y="455" width="613" height="2" fill="url(#g240)"/><rect x="765" y="457" width="613" height="2" fill="url(#g241)"/><rect x="765" y="459" width="613" height="2" fill="url(#g242)"/><rect x="765" y="461" width="613" height="2" fill="url(#g243)"/><rect x="765" y="463" width="613" height="2" fill="url(#g244)"/><rect x="765" y="465" width="613" height="2" fill="url(#g245)"/><rect x="765" y="467" width="613" height="2" fill="url(#g246)"/><rect x="765" y="469" width="613" height="2" fill="url(#g247)"/><rect x="765" y="471" width="613" height="2" fill="url(#g248)"/><rect x="765" y="473" width="613" height="2" fill="url(#g249)"/><rect x="765" y="475" width="613" height="2" fill="url(#g250)"/><rect x="765" y="477" width="613" height="2" fill="url(#g251)"/><rect x="765" y="479" width="613" height="2" fill="url(#g252)"/><rect x="765" y="481" width="613" height="2" fill="url(#g253)"/><rect x="765" y="483" width="613" height="2" fill="url(#g254)"/><rect x="765" y="485" width="613" height="2" fill="url(#g255)"/><rect x="765" y="487" width="613" height="2" fill="url(#g256)"/><rect x="765" y="489" width="613" height="2" fill="url(#g257)"/><rect x="765" y="491" width="613" height="3" fill="url(#g258)"/><rect x="765" y="494" width="613" height="3" fill="url(#g259)"/><rect x="765" y="497" width="613" height="2" fill="url(#g260)"/><rect x="765" y="499" width="613" height="3" fill="url(#g261)"/><rect x="765" y="502" width="613" height="2" fill="url(#g262)"/><rect x="765" y="504" width="613" height="2" fill="url(#g263)"/><rect x="765" y="506" width="613" height="2" fill="url(#g264)"/><rect x="765" y="508" width="613" height="2" fill="url(#g265)"/><rect x="765" y="510" width="613" height="2" fill="url(#g266)"/><rect x="765" y="512" width="613" height="2" fill="url(#g267)"/><rect x="765" y="514" width="613" height="2" fill="url(#g268)"/><rect x="765" y="516" width="613" height="2" fill="url(#g269)"/><rect x="765" y="518" width="613" height="3" fill="url(#g270)"/><rect x="765" y="521" width="613" height="3" fill="url(#g271)"/><rect x="765" y="524" width="613" height="3" fill="url(#g272)"/><rect x="765" y="527" width="613" height="3" fill="url(#g273)"/><rect x="765" y="530" width="613" height="3" fill="url(#g274)"/><rect x="765" y="533" width="613" height="2" fill="url(#g275)"/><rect x="765" y="535" width="613" height="2" fill="url(#g276)"/><rect x="765" y="537" width="613" height="2" fill="url(#g277)"/><rect x="765" y="539" width="613" height="2" fill="url(#g278)"/><rect x="765" y="541" width="613" height="2" fill="url(#g279)"/><rect x="765" y="543" width="613" height="2" fill="url(#g280)"/><rect x="765" y="545" width="613" height="5" fill="url(#g281)"/><rect x="765" y="550" width="613" height="5" fill="url(#g282)"/><rect x="765" y="555" width="613" height="5" fill="url(#g283)"/><rect x="765" y="560" width="613" height="4" fill="url(#g284)"/><rect x="765" y="564" width="613" height="4" fill="url(#g285)"/><rect x="765" y="568" width="613" height="4" fill="url(#g286)"/><rect x="765" y="572" width="613" height="4" fill="url(#g287)"/><rect x="765" y="576" width="613" height="3" fill="url(#g288)"/><rect x="765" y="579" width="613" height="3" fill="url(#g289)"/><rect x="765" y="582" width="613" height="3" fill="url(#g290)"/><rect x="765" y="585" width="613" height="3" fill="url(#g291)"/><rect x="765" y="588" width="613" height="3" fill="url(#g292)"/><rect x="765" y="591" width="613" height="3" fill="url(#g293)"/><rect x="765" y="594" width="613" height="6" fill="url(#g294)"/><rect x="765" y="600" width="613" height="6" fill="url(#g295)"/><rect x="765" y="606" width="613" height="6" fill="url(#g296)"/><rect x="765" y="612" width="613" height="6" fill="url(#g297)"/><rect x="765" y="618" width="613" height="6" fill="url(#g298)"/><rect x="765" y="624" width="613" height="6" fill="url(#g299)"/><rect x="765" y="630" width="613" height="6" fill="url(#g300)"/><rect x="765" y="636" width="613" height="6" fill="url(#g301)"/><rect x="765" y="642" width="613" height="6" fill="url(#g302)"/><rect x="765" y="648" width="613" height="6" fill="url(#g303)"/><rect x="765" y="654" width="613" height="6" fill="url(#g304)"/><rect x="765" y="660" width="613" height="6" fill="url(#g305)"/><rect x="765" y="666" width="613" height="6" fill="url(#g306)"/><rect x="765" y="672" width="613" height="6" fill="url(#g307)"/><rect x="765" y="678" width="613" height="6" fill="url(#g308)"/><rect x="765" y="684" width="613" height="6" fill="url(#g309)"/><rect x="765" y="690" width="613" height="6" fill="url(#g310)"/><rect x="765" y="696" width="613" height="4" fill="url(#g311)"/></g>
</g>
<g fill="none" stroke="#000" stroke-width="5" stroke-linecap="square" stroke-dasharray="15 21.44 0.01 21.45">
<path d="M969,316 L1038,316" stroke-dashoffset="44.65"/>
<path d="M1038,316 L1068,286" stroke-dashoffset="55.25"/>
<path d="M1068,286 L1068,103.6" stroke-dashoffset="39.95"/>
<path d="M1068,103.6 L1209.3,103.6" stroke-dashoffset="49.95"/>
<path d="M1209.3,103.6 L1211,316" stroke-dashoffset="22.65"/>
<path d="M1211,316 L1300,351 L1371.7,403" stroke-dashoffset="1.55"/>
<path d="M1371.7,403 L1371.7,690.1" stroke-dashoffset="12.75"/>
<path d="M1371.7,690.1 L1036.8,690.1" stroke-dashoffset="9.10"/>
<path d="M1036.8,690.1 L1036.8,593" stroke-dashoffset="55.85"/>
<path d="M1036.8,593 L969,490" stroke-dashoffset="36.75"/>
<path d="M969,490 L969,316" stroke-dashoffset="44.05"/>
</g>
<rect x="765.2" y="100.1" width="612.2" height="595.1" fill="none" stroke="#000" stroke-width="2.1"/>
<line x1="765.20" y1="695.20" x2="765.20" y2="707.20" stroke="#000" stroke-width="2.2" />
<line x1="857.35" y1="695.20" x2="857.35" y2="702.20" stroke="#000" stroke-width="2.0" />
<line x1="911.25" y1="695.20" x2="911.25" y2="702.20" stroke="#000" stroke-width="2.0" />
<line x1="949.49" y1="695.20" x2="949.49" y2="702.20" stroke="#000" stroke-width="2.0" />
<line x1="979.15" y1="695.20" x2="979.15" y2="702.20" stroke="#000" stroke-width="2.0" />
<line x1="1003.39" y1="695.20" x2="1003.39" y2="702.20" stroke="#000" stroke-width="2.0" />
<line x1="1023.88" y1="695.20" x2="1023.88" y2="702.20" stroke="#000" stroke-width="2.0" />
<line x1="1041.64" y1="695.20" x2="1041.64" y2="702.20" stroke="#000" stroke-width="2.0" />
<line x1="1057.29" y1="695.20" x2="1057.29" y2="702.20" stroke="#000" stroke-width="2.0" />
<text x="765.20" y="741.00" font-size="34" text-anchor="middle" fill="#000" >1E18</text>
<line x1="1071.30" y1="695.20" x2="1071.30" y2="707.20" stroke="#000" stroke-width="2.2" />
<line x1="1163.45" y1="695.20" x2="1163.45" y2="702.20" stroke="#000" stroke-width="2.0" />
<line x1="1217.35" y1="695.20" x2="1217.35" y2="702.20" stroke="#000" stroke-width="2.0" />
<line x1="1255.59" y1="695.20" x2="1255.59" y2="702.20" stroke="#000" stroke-width="2.0" />
<line x1="1285.25" y1="695.20" x2="1285.25" y2="702.20" stroke="#000" stroke-width="2.0" />
<line x1="1309.49" y1="695.20" x2="1309.49" y2="702.20" stroke="#000" stroke-width="2.0" />
<line x1="1329.98" y1="695.20" x2="1329.98" y2="702.20" stroke="#000" stroke-width="2.0" />
<line x1="1347.74" y1="695.20" x2="1347.74" y2="702.20" stroke="#000" stroke-width="2.0" />
<line x1="1363.39" y1="695.20" x2="1363.39" y2="702.20" stroke="#000" stroke-width="2.0" />
<text x="1071.30" y="741.00" font-size="34" text-anchor="middle" fill="#000" >1E19</text>
<line x1="1377.40" y1="695.20" x2="1377.40" y2="707.20" stroke="#000" stroke-width="2.2" />
<text x="1377.40" y="741.00" font-size="34" text-anchor="middle" fill="#000" >1E20</text>
<line x1="758.20" y1="696.04" x2="765.20" y2="696.04" stroke="#000" stroke-width="2.0" />
<line x1="758.20" y1="669.49" x2="765.20" y2="669.49" stroke="#000" stroke-width="2.0" />
<line x1="758.20" y1="647.04" x2="765.20" y2="647.04" stroke="#000" stroke-width="2.0" />
<line x1="758.20" y1="627.59" x2="765.20" y2="627.59" stroke="#000" stroke-width="2.0" />
<line x1="758.20" y1="610.44" x2="765.20" y2="610.44" stroke="#000" stroke-width="2.0" />
<line x1="752.60" y1="595.10" x2="765.20" y2="595.10" stroke="#000" stroke-width="2.1" />
<line x1="758.20" y1="494.16" x2="765.20" y2="494.16" stroke="#000" stroke-width="2.0" />
<line x1="758.20" y1="435.12" x2="765.20" y2="435.12" stroke="#000" stroke-width="2.0" />
<line x1="758.20" y1="393.23" x2="765.20" y2="393.23" stroke="#000" stroke-width="2.0" />
<line x1="758.20" y1="360.74" x2="765.20" y2="360.74" stroke="#000" stroke-width="2.0" />
<line x1="758.20" y1="334.19" x2="765.20" y2="334.19" stroke="#000" stroke-width="2.0" />
<line x1="758.20" y1="311.74" x2="765.20" y2="311.74" stroke="#000" stroke-width="2.0" />
<line x1="758.20" y1="292.29" x2="765.20" y2="292.29" stroke="#000" stroke-width="2.0" />
<line x1="758.20" y1="275.14" x2="765.20" y2="275.14" stroke="#000" stroke-width="2.0" />
<line x1="752.60" y1="259.80" x2="765.20" y2="259.80" stroke="#000" stroke-width="2.1" />
<line x1="758.20" y1="158.86" x2="765.20" y2="158.86" stroke="#000" stroke-width="2.0" />
<line x1="758.20" y1="99.82" x2="765.20" y2="99.82" stroke="#000" stroke-width="2.0" />
<text x="741.10" y="270.50" font-size="34" text-anchor="end" fill="#000" textLength="43" lengthAdjust="spacingAndGlyphs" >0.1</text>
<text x="741.10" y="605.80" font-size="34" text-anchor="end" fill="#000" textLength="60" lengthAdjust="spacingAndGlyphs" >0.01</text>
<text x="0" y="0" font-size="41" transform="translate(686.4,470.4) rotate(-90)" textLength="160" lengthAdjust="spacingAndGlyphs">wga (eV)</text>
<text x="945.1" y="800.2" font-size="41"><tspan textLength="147" lengthAdjust="spacingAndGlyphs">nga (cm</tspan><tspan font-size="24" dy="-19.2">-3</tspan><tspan dy="19.2">eV</tspan><tspan font-size="24" dy="-19.2" dx="2">-1</tspan><tspan dy="19.2" dx="2">)</tspan></text>
<defs><linearGradient id="cbg" x1="0" y1="0" x2="0" y2="1" gradientUnits="objectBoundingBox">
<stop offset="0.0081" stop-color="#ff0000"/>
<stop offset="0.2536" stop-color="#ffff00"/>
<stop offset="0.4992" stop-color="#00ff00"/>
<stop offset="0.7447" stop-color="#00ffff"/>
<stop offset="0.9903" stop-color="#0000ff"/>
</linearGradient></defs>
<rect x="1401.5" y="99.5" width="35.299999999999955" height="595.5" fill="url(#cbg)"/>
<rect x="1401.5" y="689.20" width="35.299999999999955" height="5.80" fill="#000"/>
<rect x="1401.5" y="99.5" width="35.299999999999955" height="595.5" fill="none" stroke="#000" stroke-width="1.8"/>
<line x1="1436.80" y1="689.20" x2="1448.80" y2="689.20" stroke="#000" stroke-width="2" />
<text x="1458.90" y="699.50" font-size="29.5" text-anchor="start" fill="#000" textLength="37" lengthAdjust="spacingAndGlyphs" >0.0</text>
<line x1="1436.80" y1="542.98" x2="1448.80" y2="542.98" stroke="#000" stroke-width="2" />
<text x="1458.90" y="553.27" font-size="29.5" text-anchor="start" fill="#000" textLength="37" lengthAdjust="spacingAndGlyphs" >1.0</text>
<line x1="1436.80" y1="396.75" x2="1448.80" y2="396.75" stroke="#000" stroke-width="2" />
<text x="1458.90" y="407.05" font-size="29.5" text-anchor="start" fill="#000" textLength="37" lengthAdjust="spacingAndGlyphs" >2.0</text>
<line x1="1436.80" y1="250.52" x2="1448.80" y2="250.52" stroke="#000" stroke-width="2" />
<text x="1458.90" y="260.82" font-size="29.5" text-anchor="start" fill="#000" textLength="37" lengthAdjust="spacingAndGlyphs" >3.0</text>
<line x1="1436.80" y1="104.30" x2="1448.80" y2="104.30" stroke="#000" stroke-width="2" />
<text x="1458.90" y="114.60" font-size="29.5" text-anchor="start" fill="#000" textLength="37" lengthAdjust="spacingAndGlyphs" >4.0</text>
<text x="1382.20" y="89.30" font-size="35.5" text-anchor="start" fill="#000" textLength="75" lengthAdjust="spacingAndGlyphs" >GOC</text>
</svg></body></html>
